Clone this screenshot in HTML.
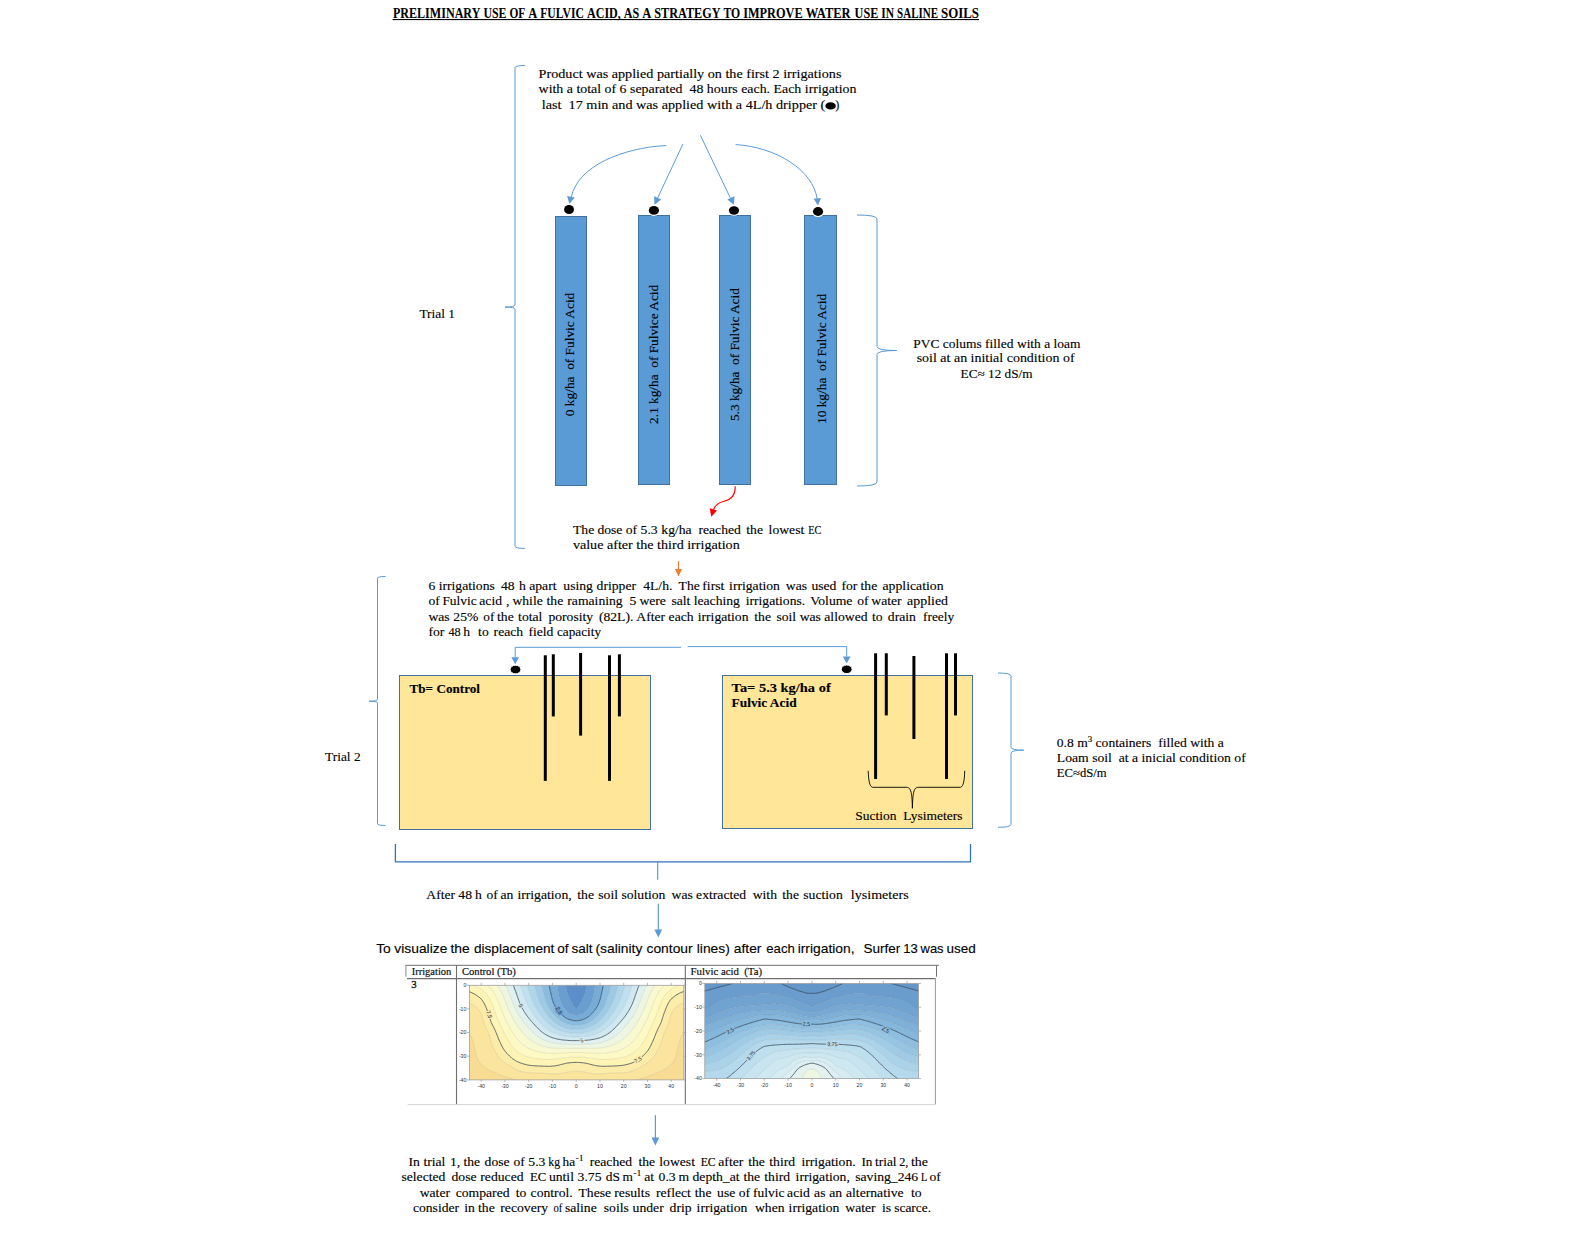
<!DOCTYPE html>
<html><head><meta charset="utf-8"><title>Fulvic acid diagram</title>
<style>
html,body{margin:0;padding:0;background:#fff;}
body{width:1575px;height:1239px;overflow:hidden;font-family:"Liberation Serif",serif;}
svg{display:block;}
</style></head><body>
<svg width="1575" height="1239" viewBox="0 0 1575 1239">
<rect width="1575" height="1239" fill="#fff"/>
<text x="392.9" y="18" font-size="13.60" font-family='"Liberation Serif", serif' font-weight="bold" stroke="#000" stroke-width="0.05" fill="#000" textLength="87.50" lengthAdjust="spacingAndGlyphs">PRELIMINARY</text>
<text x="483.4" y="18" font-size="13.60" font-family='"Liberation Serif", serif' font-weight="bold" stroke="#000" stroke-width="0.05" fill="#000" textLength="23.00" lengthAdjust="spacingAndGlyphs">USE</text>
<text x="509.4" y="18" font-size="13.60" font-family='"Liberation Serif", serif' font-weight="bold" stroke="#000" stroke-width="0.05" fill="#000" textLength="15.80" lengthAdjust="spacingAndGlyphs">OF</text>
<text x="528.2" y="18" font-size="13.60" font-family='"Liberation Serif", serif' font-weight="bold" stroke="#000" stroke-width="0.05" fill="#000" textLength="9.00" lengthAdjust="spacingAndGlyphs">A</text>
<text x="540.2" y="18" font-size="13.60" font-family='"Liberation Serif", serif' font-weight="bold" stroke="#000" stroke-width="0.05" fill="#000" textLength="43.80" lengthAdjust="spacingAndGlyphs">FULVIC</text>
<text x="587.0" y="18" font-size="13.60" font-family='"Liberation Serif", serif' font-weight="bold" stroke="#000" stroke-width="0.05" fill="#000" textLength="33.80" lengthAdjust="spacingAndGlyphs">ACID,</text>
<text x="623.8" y="18" font-size="13.60" font-family='"Liberation Serif", serif' font-weight="bold" stroke="#000" stroke-width="0.05" fill="#000" textLength="15.40" lengthAdjust="spacingAndGlyphs">AS</text>
<text x="642.2" y="18" font-size="13.60" font-family='"Liberation Serif", serif' font-weight="bold" stroke="#000" stroke-width="0.05" fill="#000" textLength="9.04" lengthAdjust="spacingAndGlyphs">A</text>
<text x="654.3" y="18" font-size="13.60" font-family='"Liberation Serif", serif' font-weight="bold" stroke="#000" stroke-width="0.05" fill="#000" textLength="66.20" lengthAdjust="spacingAndGlyphs">STRATEGY</text>
<text x="723.5" y="18" font-size="13.60" font-family='"Liberation Serif", serif' font-weight="bold" stroke="#000" stroke-width="0.05" fill="#000" textLength="16.70" lengthAdjust="spacingAndGlyphs">TO</text>
<text x="743.2" y="18" font-size="13.60" font-family='"Liberation Serif", serif' font-weight="bold" stroke="#000" stroke-width="0.05" fill="#000" textLength="59.50" lengthAdjust="spacingAndGlyphs">IMPROVE</text>
<text x="805.7" y="18" font-size="13.60" font-family='"Liberation Serif", serif' font-weight="bold" stroke="#000" stroke-width="0.05" fill="#000" textLength="44.96" lengthAdjust="spacingAndGlyphs">WATER</text>
<text x="854.6" y="18" font-size="13.60" font-family='"Liberation Serif", serif' font-weight="bold" stroke="#000" stroke-width="0.05" fill="#000" textLength="23.70" lengthAdjust="spacingAndGlyphs">USE</text>
<text x="881.3" y="18" font-size="13.60" font-family='"Liberation Serif", serif' font-weight="bold" stroke="#000" stroke-width="0.05" fill="#000" textLength="12.80" lengthAdjust="spacingAndGlyphs">IN</text>
<text x="897.1" y="18" font-size="13.60" font-family='"Liberation Serif", serif' font-weight="bold" stroke="#000" stroke-width="0.05" fill="#000" textLength="40.90" lengthAdjust="spacingAndGlyphs">SALINE</text>
<text x="941.0" y="18" font-size="13.60" font-family='"Liberation Serif", serif' font-weight="bold" stroke="#000" stroke-width="0.05" fill="#000" textLength="38.00" lengthAdjust="spacingAndGlyphs">SOILS</text>
<rect x="392.6" y="19" width="586.4" height="1.1" fill="#000"/>
<path d="M525,65.5 Q515,65.5 515,67.7 L515,304.90000000000003 Q515,307.1 505,307.1 Q515,307.1 515,309.3 L515,546.1999999999999 Q515,548.4 525,548.4" fill="none" stroke="#5B9BD5" stroke-width="1"/>
<text x="419.4" y="317.8" font-size="13" font-family='"Liberation Serif", serif' textLength="35.7" lengthAdjust="spacingAndGlyphs" stroke="#000" stroke-width="0.12" text-anchor="start" fill="#000" >Trial 1</text>
<text x="538.6" y="77.8" font-size="12.2" font-family='"Liberation Serif", serif' textLength="302.8" lengthAdjust="spacingAndGlyphs" stroke="#000" stroke-width="0.12" text-anchor="start" fill="#000" >Product was applied partially on the first 2 irrigations</text>
<text x="538.6" y="92.8" font-size="12.2" font-family='"Liberation Serif", serif' textLength="317.9" lengthAdjust="spacingAndGlyphs" stroke="#000" stroke-width="0.12" text-anchor="start" fill="#000" >with a total of 6 separated&#160; 48 hours each. Each irrigation</text>
<text x="541.8" y="108.6" font-size="12.2" font-family='"Liberation Serif", serif' textLength="283.5" lengthAdjust="spacingAndGlyphs" stroke="#000" stroke-width="0.12" text-anchor="start" fill="#000" >last&#160; 17 min and was applied with a 4L/h dripper (</text>
<ellipse cx="830.6" cy="105.9" rx="5.2" ry="3.7" fill="#000"/>
<text x="835.2" y="108.6" font-size="12.2" font-family='"Liberation Serif", serif' stroke="#000" stroke-width="0.12" text-anchor="start" fill="#000" >)</text>
<path d="M666.1,145.5 C622,148 578,166 571.3,197" fill="none" stroke="#5B9BD5" stroke-width="1"/>
<path d="M569.40,204.00 L567.09,195.96 L574.73,197.55 Z" fill="#5B9BD5"/>
<line x1="683" y1="143.9" x2="657.6" y2="198" stroke="#5B9BD5" stroke-width="1"/>
<path d="M654.50,204.70 L654.11,196.14 L661.28,199.47 Z" fill="#5B9BD5"/>
<line x1="700.4" y1="135.3" x2="730.6" y2="198.5" stroke="#5B9BD5" stroke-width="1"/>
<path d="M734.00,204.70 L727.35,199.48 L734.46,196.26 Z" fill="#5B9BD5"/>
<path d="M735.6,144.6 C776,147 813,170 817.2,199" fill="none" stroke="#5B9BD5" stroke-width="1"/>
<path d="M818.10,205.50 L813.52,198.82 L820.87,197.89 Z" fill="#5B9BD5"/>
<rect x="555.5" y="216.5" width="31.0" height="269.0" fill="#5B9BD5" stroke="#41719C" stroke-width="1"/>
<rect x="638.5" y="215.5" width="31.0" height="269.0" fill="#5B9BD5" stroke="#41719C" stroke-width="1"/>
<rect x="719.5" y="215.5" width="31.0" height="269.0" fill="#5B9BD5" stroke="#41719C" stroke-width="1"/>
<rect x="804.5" y="215.5" width="32.0" height="269.0" fill="#5B9BD5" stroke="#41719C" stroke-width="1"/>
<ellipse cx="569.05" cy="209.5" rx="4.95" ry="4.45" fill="#000"/>
<ellipse cx="653.9" cy="210.4" rx="6.199999999999999" ry="5.5" fill="#fff"/>
<ellipse cx="653.9" cy="210.4" rx="5.1" ry="4.4" fill="#000"/>
<ellipse cx="734" cy="210.5" rx="6.199999999999999" ry="5.300000000000001" fill="#fff"/>
<ellipse cx="734" cy="210.5" rx="5.1" ry="4.2" fill="#000"/>
<ellipse cx="818.05" cy="211.5" rx="6.25" ry="5.5" fill="#fff"/>
<ellipse cx="818.05" cy="211.5" rx="5.15" ry="4.4" fill="#000"/>
<text transform="translate(574.2,416.2) rotate(-90)" x="0" y="0" font-size="12.6" font-family='"Liberation Serif", serif' textLength="123.5" lengthAdjust="spacingAndGlyphs" stroke="#000" stroke-width="0.12">0 kg/ha&#160; of Fulvic Acid</text>
<text transform="translate(657.7,424.0) rotate(-90)" x="0" y="0" font-size="12.6" font-family='"Liberation Serif", serif' textLength="139.2" lengthAdjust="spacingAndGlyphs" stroke="#000" stroke-width="0.12">2.1 kg/ha&#160; of Fulvice Acid</text>
<text transform="translate(739.2,421.0) rotate(-90)" x="0" y="0" font-size="12.6" font-family='"Liberation Serif", serif' textLength="132.8" lengthAdjust="spacingAndGlyphs" stroke="#000" stroke-width="0.12">5.3 kg/ha&#160; of Fulvic Acid</text>
<text transform="translate(825.7,424.0) rotate(-90)" x="0" y="0" font-size="12.6" font-family='"Liberation Serif", serif' textLength="130.1" lengthAdjust="spacingAndGlyphs" stroke="#000" stroke-width="0.12">10 kg/ha&#160; of Fulvic Acid</text>
<path d="M857,215 Q877,215 877,219 L877,346.5 Q877,350.5 896.7,350.5 Q877,350.5 877,354.5 L877,482 Q877,486 857,486" fill="none" stroke="#5B9BD5" stroke-width="1"/>
<text x="913.3" y="347.9" font-size="12.2" font-family='"Liberation Serif", serif' textLength="167.2" lengthAdjust="spacingAndGlyphs" stroke="#000" stroke-width="0.12" text-anchor="start" fill="#000" >PVC colums filled with a loam</text>
<text x="916.7" y="362.3" font-size="12.2" font-family='"Liberation Serif", serif' textLength="157.9" lengthAdjust="spacingAndGlyphs" stroke="#000" stroke-width="0.12" text-anchor="start" fill="#000" >soil at an initial condition of</text>
<text x="960.6" y="378.3" font-size="12.2" font-family='"Liberation Serif", serif' textLength="72" lengthAdjust="spacingAndGlyphs" stroke="#000" stroke-width="0.12" text-anchor="start" fill="#000" >EC&#8776; 12 dS/m</text>
<path d="M735.2,486.2 C735.6,494 731.5,499.5 724,501.2 C718,502.8 714.5,506 713.4,510" fill="none" stroke="#FF0000" stroke-width="1.1"/>
<path d="M711.30,516.70 L709.70,508.33 L717.10,510.46 Z" fill="#FF0000"/>
<text x="573.0" y="533.5" font-size="12.20" font-family='"Liberation Serif", serif' stroke="#000" stroke-width="0.12" fill="#000" textLength="21.24" lengthAdjust="spacingAndGlyphs">The</text>
<text x="597.4" y="533.5" font-size="12.20" font-family='"Liberation Serif", serif' stroke="#000" stroke-width="0.12" fill="#000" textLength="25.05" lengthAdjust="spacingAndGlyphs">dose</text>
<text x="625.8" y="533.5" font-size="12.20" font-family='"Liberation Serif", serif' stroke="#000" stroke-width="0.12" fill="#000" textLength="11.38" lengthAdjust="spacingAndGlyphs">of</text>
<text x="640.6" y="533.5" font-size="12.20" font-family='"Liberation Serif", serif' stroke="#000" stroke-width="0.12" fill="#000" textLength="17.08" lengthAdjust="spacingAndGlyphs">5.3</text>
<text x="661.3" y="533.5" font-size="12.20" font-family='"Liberation Serif", serif' stroke="#000" stroke-width="0.12" fill="#000" textLength="30.36" lengthAdjust="spacingAndGlyphs">kg/ha</text>
<text x="698.4" y="533.5" font-size="12.20" font-family='"Liberation Serif", serif' stroke="#000" stroke-width="0.12" fill="#000" textLength="42.47" lengthAdjust="spacingAndGlyphs">reached</text>
<text x="746.3" y="533.5" font-size="12.20" font-family='"Liberation Serif", serif' stroke="#000" stroke-width="0.12" fill="#000" textLength="16.69" lengthAdjust="spacingAndGlyphs">the</text>
<text x="768.6" y="533.5" font-size="12.20" font-family='"Liberation Serif", serif' stroke="#000" stroke-width="0.12" fill="#000" textLength="35.67" lengthAdjust="spacingAndGlyphs">lowest</text>
<text x="808.2" y="533.5" font-size="12.20" font-family='"Liberation Serif", serif' stroke="#000" stroke-width="0.12" fill="#000" textLength="13.25" lengthAdjust="spacingAndGlyphs">EC</text>
<text x="572.9" y="548.9" font-size="12.2" font-family='"Liberation Serif", serif' textLength="166.8" lengthAdjust="spacingAndGlyphs" stroke="#000" stroke-width="0.12" text-anchor="start" fill="#000" >value after the third irrigation</text>
<line x1="678.5" y1="561.2" x2="678.5" y2="570" stroke="#ED7D31" stroke-width="1.2"/>
<path d="M678.50,576.50 L674.90,569.00 L682.10,569.00 Z" fill="#ED7D31"/>
<path d="M385.6,576.5 Q377.5,576.5 377.5,578.3 L377.5,699.4000000000001 Q377.5,701.2 369.0,701.2 Q377.5,701.2 377.5,703.0 L377.5,823.7 Q377.5,825.5 385.6,825.5" fill="none" stroke="#5B9BD5" stroke-width="1"/>
<text x="325.1" y="760.6" font-size="13" font-family='"Liberation Serif", serif' textLength="35.5" lengthAdjust="spacingAndGlyphs" stroke="#000" stroke-width="0.12" text-anchor="start" fill="#000" >Trial 2</text>
<text x="428.4" y="589.8" font-size="12.20" font-family='"Liberation Serif", serif' stroke="#000" stroke-width="0.12" fill="#000" textLength="6.83" lengthAdjust="spacingAndGlyphs">6</text>
<text x="438.7" y="589.8" font-size="12.20" font-family='"Liberation Serif", serif' stroke="#000" stroke-width="0.12" fill="#000" textLength="56.16" lengthAdjust="spacingAndGlyphs">irrigations</text>
<text x="501.0" y="589.8" font-size="12.20" font-family='"Liberation Serif", serif' stroke="#000" stroke-width="0.12" fill="#000" textLength="13.66" lengthAdjust="spacingAndGlyphs">48</text>
<text x="518.9" y="589.8" font-size="12.20" font-family='"Liberation Serif", serif' stroke="#000" stroke-width="0.12" fill="#000" textLength="6.83" lengthAdjust="spacingAndGlyphs">h</text>
<text x="529.2" y="589.8" font-size="12.20" font-family='"Liberation Serif", serif' stroke="#000" stroke-width="0.12" fill="#000" textLength="27.31" lengthAdjust="spacingAndGlyphs">apart</text>
<text x="563.3" y="589.8" font-size="12.20" font-family='"Liberation Serif", serif' stroke="#000" stroke-width="0.12" fill="#000" textLength="29.61" lengthAdjust="spacingAndGlyphs">using</text>
<text x="596.6" y="589.8" font-size="12.20" font-family='"Liberation Serif", serif' stroke="#000" stroke-width="0.12" fill="#000" textLength="39.46" lengthAdjust="spacingAndGlyphs">dripper</text>
<text x="643.2" y="589.8" font-size="12.20" font-family='"Liberation Serif", serif' stroke="#000" stroke-width="0.12" fill="#000" textLength="29.22" lengthAdjust="spacingAndGlyphs">4L/h.</text>
<text x="678.6" y="589.8" font-size="12.20" font-family='"Liberation Serif", serif' stroke="#000" stroke-width="0.12" fill="#000" textLength="21.10" lengthAdjust="spacingAndGlyphs">The</text>
<text x="702.3" y="589.8" font-size="12.20" font-family='"Liberation Serif", serif' stroke="#000" stroke-width="0.12" fill="#000" textLength="22.01" lengthAdjust="spacingAndGlyphs">first</text>
<text x="729.1" y="589.8" font-size="12.20" font-family='"Liberation Serif", serif' stroke="#000" stroke-width="0.12" fill="#000" textLength="50.85" lengthAdjust="spacingAndGlyphs">irrigation</text>
<text x="785.8" y="589.8" font-size="12.20" font-family='"Liberation Serif", serif' stroke="#000" stroke-width="0.12" fill="#000" textLength="21.25" lengthAdjust="spacingAndGlyphs">was</text>
<text x="811.4" y="589.8" font-size="12.20" font-family='"Liberation Serif", serif' stroke="#000" stroke-width="0.12" fill="#000" textLength="25.05" lengthAdjust="spacingAndGlyphs">used</text>
<text x="841.4" y="589.8" font-size="12.20" font-family='"Liberation Serif", serif' stroke="#000" stroke-width="0.12" fill="#000" textLength="15.93" lengthAdjust="spacingAndGlyphs">for</text>
<text x="860.5" y="589.8" font-size="12.20" font-family='"Liberation Serif", serif' stroke="#000" stroke-width="0.12" fill="#000" textLength="16.69" lengthAdjust="spacingAndGlyphs">the</text>
<text x="882.5" y="589.8" font-size="12.20" font-family='"Liberation Serif", serif' stroke="#000" stroke-width="0.12" fill="#000" textLength="61.10" lengthAdjust="spacingAndGlyphs">application</text>
<text x="428.4" y="604.9" font-size="12.20" font-family='"Liberation Serif", serif' stroke="#000" stroke-width="0.12" fill="#000" textLength="11.38" lengthAdjust="spacingAndGlyphs">of</text>
<text x="442.4" y="604.9" font-size="12.20" font-family='"Liberation Serif", serif' stroke="#000" stroke-width="0.12" fill="#000" textLength="34.30" lengthAdjust="spacingAndGlyphs">Fulvic</text>
<text x="479.3" y="604.9" font-size="12.20" font-family='"Liberation Serif", serif' stroke="#000" stroke-width="0.12" fill="#000" textLength="22.76" lengthAdjust="spacingAndGlyphs">acid</text>
<text x="505.9" y="604.9" font-size="12.20" font-family='"Liberation Serif", serif' stroke="#000" stroke-width="0.12" fill="#000" textLength="3.42" lengthAdjust="spacingAndGlyphs">,</text>
<text x="512.4" y="604.9" font-size="12.20" font-family='"Liberation Serif", serif' stroke="#000" stroke-width="0.12" fill="#000" textLength="30.36" lengthAdjust="spacingAndGlyphs">while</text>
<text x="546.5" y="604.9" font-size="12.20" font-family='"Liberation Serif", serif' stroke="#000" stroke-width="0.12" fill="#000" textLength="16.69" lengthAdjust="spacingAndGlyphs">the</text>
<text x="567.3" y="604.9" font-size="12.20" font-family='"Liberation Serif", serif' stroke="#000" stroke-width="0.12" fill="#000" textLength="55.40" lengthAdjust="spacingAndGlyphs">ramaining</text>
<text x="629.5" y="604.9" font-size="12.20" font-family='"Liberation Serif", serif' stroke="#000" stroke-width="0.12" fill="#000" textLength="6.83" lengthAdjust="spacingAndGlyphs">5</text>
<text x="639.4" y="604.9" font-size="12.20" font-family='"Liberation Serif", serif' stroke="#000" stroke-width="0.12" fill="#000" textLength="26.55" lengthAdjust="spacingAndGlyphs">were</text>
<text x="671.4" y="604.9" font-size="12.20" font-family='"Liberation Serif", serif' stroke="#000" stroke-width="0.12" fill="#000" textLength="18.97" lengthAdjust="spacingAndGlyphs">salt</text>
<text x="693.7" y="604.9" font-size="12.20" font-family='"Liberation Serif", serif' stroke="#000" stroke-width="0.12" fill="#000" textLength="46.28" lengthAdjust="spacingAndGlyphs">leaching</text>
<text x="745.7" y="604.9" font-size="12.20" font-family='"Liberation Serif", serif' stroke="#000" stroke-width="0.12" fill="#000" textLength="59.58" lengthAdjust="spacingAndGlyphs">irrigations.</text>
<text x="810.2" y="604.9" font-size="12.20" font-family='"Liberation Serif", serif' stroke="#000" stroke-width="0.12" fill="#000" textLength="42.26" lengthAdjust="spacingAndGlyphs">Volume</text>
<text x="857.2" y="604.9" font-size="12.20" font-family='"Liberation Serif", serif' stroke="#000" stroke-width="0.12" fill="#000" textLength="11.38" lengthAdjust="spacingAndGlyphs">of</text>
<text x="871.3" y="604.9" font-size="12.20" font-family='"Liberation Serif", serif' stroke="#000" stroke-width="0.12" fill="#000" textLength="30.34" lengthAdjust="spacingAndGlyphs">water</text>
<text x="907.1" y="604.9" font-size="12.20" font-family='"Liberation Serif", serif' stroke="#000" stroke-width="0.12" fill="#000" textLength="40.90" lengthAdjust="spacingAndGlyphs">applied</text>
<text x="428.4" y="620.9" font-size="12.20" font-family='"Liberation Serif", serif' stroke="#000" stroke-width="0.12" fill="#000" textLength="21.25" lengthAdjust="spacingAndGlyphs">was</text>
<text x="453.3" y="620.9" font-size="12.20" font-family='"Liberation Serif", serif' stroke="#000" stroke-width="0.12" fill="#000" textLength="25.05" lengthAdjust="spacingAndGlyphs">25%</text>
<text x="483.3" y="620.9" font-size="12.20" font-family='"Liberation Serif", serif' stroke="#000" stroke-width="0.12" fill="#000" textLength="11.10" lengthAdjust="spacingAndGlyphs">of</text>
<text x="497.0" y="620.9" font-size="12.20" font-family='"Liberation Serif", serif' stroke="#000" stroke-width="0.12" fill="#000" textLength="16.69" lengthAdjust="spacingAndGlyphs">the</text>
<text x="518.1" y="620.9" font-size="12.20" font-family='"Liberation Serif", serif' stroke="#000" stroke-width="0.12" fill="#000" textLength="24.28" lengthAdjust="spacingAndGlyphs">total</text>
<text x="548.4" y="620.9" font-size="12.20" font-family='"Liberation Serif", serif' stroke="#000" stroke-width="0.12" fill="#000" textLength="44.79" lengthAdjust="spacingAndGlyphs">porosity</text>
<text x="598.9" y="620.9" font-size="12.20" font-family='"Liberation Serif", serif' stroke="#000" stroke-width="0.12" fill="#000" textLength="34.53" lengthAdjust="spacingAndGlyphs">(82L).</text>
<text x="636.3" y="620.9" font-size="12.20" font-family='"Liberation Serif", serif' stroke="#000" stroke-width="0.12" fill="#000" textLength="28.83" lengthAdjust="spacingAndGlyphs">After</text>
<text x="668.6" y="620.9" font-size="12.20" font-family='"Liberation Serif", serif' stroke="#000" stroke-width="0.12" fill="#000" textLength="25.03" lengthAdjust="spacingAndGlyphs">each</text>
<text x="697.7" y="620.9" font-size="12.20" font-family='"Liberation Serif", serif' stroke="#000" stroke-width="0.12" fill="#000" textLength="50.85" lengthAdjust="spacingAndGlyphs">irrigation</text>
<text x="754.3" y="620.9" font-size="12.20" font-family='"Liberation Serif", serif' stroke="#000" stroke-width="0.12" fill="#000" textLength="16.69" lengthAdjust="spacingAndGlyphs">the</text>
<text x="776.4" y="620.9" font-size="12.20" font-family='"Liberation Serif", serif' stroke="#000" stroke-width="0.12" fill="#000" textLength="19.74" lengthAdjust="spacingAndGlyphs">soil</text>
<text x="799.7" y="620.9" font-size="12.20" font-family='"Liberation Serif", serif' stroke="#000" stroke-width="0.12" fill="#000" textLength="21.25" lengthAdjust="spacingAndGlyphs">was</text>
<text x="824.3" y="620.9" font-size="12.20" font-family='"Liberation Serif", serif' stroke="#000" stroke-width="0.12" fill="#000" textLength="43.25" lengthAdjust="spacingAndGlyphs">allowed</text>
<text x="871.9" y="620.9" font-size="12.20" font-family='"Liberation Serif", serif' stroke="#000" stroke-width="0.12" fill="#000" textLength="10.63" lengthAdjust="spacingAndGlyphs">to</text>
<text x="887.8" y="620.9" font-size="12.20" font-family='"Liberation Serif", serif' stroke="#000" stroke-width="0.12" fill="#000" textLength="28.08" lengthAdjust="spacingAndGlyphs">drain</text>
<text x="923.0" y="620.9" font-size="12.20" font-family='"Liberation Serif", serif' stroke="#000" stroke-width="0.12" fill="#000" textLength="31.20" lengthAdjust="spacingAndGlyphs">freely</text>
<text x="428.4" y="636.3" font-size="12.20" font-family='"Liberation Serif", serif' stroke="#000" stroke-width="0.12" fill="#000" textLength="15.93" lengthAdjust="spacingAndGlyphs">for</text>
<text x="448.4" y="636.3" font-size="12.20" font-family='"Liberation Serif", serif' stroke="#000" stroke-width="0.12" fill="#000" textLength="12.30" lengthAdjust="spacingAndGlyphs">48</text>
<text x="463.3" y="636.3" font-size="12.20" font-family='"Liberation Serif", serif' stroke="#000" stroke-width="0.12" fill="#000" textLength="6.83" lengthAdjust="spacingAndGlyphs">h</text>
<text x="478.1" y="636.3" font-size="12.20" font-family='"Liberation Serif", serif' stroke="#000" stroke-width="0.12" fill="#000" textLength="10.63" lengthAdjust="spacingAndGlyphs">to</text>
<text x="493.6" y="636.3" font-size="12.20" font-family='"Liberation Serif", serif' stroke="#000" stroke-width="0.12" fill="#000" textLength="29.58" lengthAdjust="spacingAndGlyphs">reach</text>
<text x="528.4" y="636.3" font-size="12.20" font-family='"Liberation Serif", serif' stroke="#000" stroke-width="0.12" fill="#000" textLength="25.04" lengthAdjust="spacingAndGlyphs">field</text>
<text x="557.0" y="636.3" font-size="12.20" font-family='"Liberation Serif", serif' stroke="#000" stroke-width="0.12" fill="#000" textLength="44.00" lengthAdjust="spacingAndGlyphs">capacity</text>
<path d="M681,647.3 L515.2,647.3 L515.2,657.5" fill="none" stroke="#5B9BD5" stroke-width="1"/>
<path d="M515.20,664.20 L511.40,657.20 L519.00,657.20 Z" fill="#5B9BD5"/>
<path d="M687.7,646.6 L846.7,646.6 L846.7,656.5" fill="none" stroke="#5B9BD5" stroke-width="1"/>
<path d="M846.70,663.40 L842.90,656.40 L850.50,656.40 Z" fill="#5B9BD5"/>
<rect x="399.5" y="675.5" width="251" height="154" fill="#FFE699" stroke="#41719C" stroke-width="1"/>
<rect x="722.5" y="675.5" width="250" height="153" fill="#FFE699" stroke="#41719C" stroke-width="1"/>
<ellipse cx="515.5" cy="669.5" rx="5.4" ry="4.3" fill="#000" stroke="#fff" stroke-width="1"/>
<ellipse cx="846.7" cy="669.3" rx="5.4" ry="4.3" fill="#000" stroke="#fff" stroke-width="1"/>
<text x="409.5" y="692.5" font-size="12.4" font-family='"Liberation Serif", serif' font-weight="bold" textLength="70.5" lengthAdjust="spacingAndGlyphs" stroke="#000" stroke-width="0.12" text-anchor="start" fill="#000" >Tb= Control</text>
<text x="731.6" y="691.5" font-size="12.4" font-family='"Liberation Serif", serif' font-weight="bold" textLength="99.1" lengthAdjust="spacingAndGlyphs" stroke="#000" stroke-width="0.12" text-anchor="start" fill="#000" >Ta= 5.3 kg/ha of</text>
<text x="731.6" y="706.5" font-size="12.4" font-family='"Liberation Serif", serif' font-weight="bold" textLength="65" lengthAdjust="spacingAndGlyphs" stroke="#000" stroke-width="0.12" text-anchor="start" fill="#000" >Fulvic Acid</text>
<line x1="545.3" y1="655.3" x2="545.3" y2="780.9" stroke="#000" stroke-width="3"/>
<line x1="553.3" y1="654.3" x2="553.3" y2="716.4" stroke="#000" stroke-width="3"/>
<line x1="580.6" y1="653" x2="580.6" y2="735.6" stroke="#000" stroke-width="3"/>
<line x1="609.5" y1="655.3" x2="609.5" y2="780.9" stroke="#000" stroke-width="3"/>
<line x1="619.4" y1="654.3" x2="619.4" y2="716.4" stroke="#000" stroke-width="3"/>
<line x1="875.6" y1="653.3" x2="875.6" y2="779" stroke="#000" stroke-width="3"/>
<line x1="886.3" y1="653.3" x2="886.3" y2="715.4" stroke="#000" stroke-width="3"/>
<line x1="913.9" y1="656" x2="913.9" y2="739" stroke="#000" stroke-width="3"/>
<line x1="946.5" y1="653.3" x2="946.5" y2="779" stroke="#000" stroke-width="3"/>
<line x1="955.5" y1="653.3" x2="955.5" y2="715.4" stroke="#000" stroke-width="3"/>
<path d="M868.2,770.8 C868.5,780 869.5,786.5 872.5,787.3 L906,787.3 C910.5,787.3 912,790 912.4,808.3 C912.8,790 914.3,787.3 918.8,787.3 L960.5,787.3 C963.5,786.5 964.5,780 964.7,770.8" fill="none" stroke="#000" stroke-width="0.9"/>
<text x="855.2" y="819.7" font-size="12.2" font-family='"Liberation Serif", serif' textLength="107.3" lengthAdjust="spacingAndGlyphs" stroke="#000" stroke-width="0.12" text-anchor="start" fill="#000" >Suction&#160; Lysimeters</text>
<path d="M998,673 Q1011,673 1011,676 L1011,747.2 Q1011,750.2 1023.7,750.2 Q1011,750.2 1011,753.2 L1011,824.3 Q1011,827.3 998,827.3" fill="none" stroke="#5B9BD5" stroke-width="1"/>
<text x="1056.8" y="746.7" font-size="12.2" font-family='"Liberation Serif", serif' textLength="167" lengthAdjust="spacingAndGlyphs" stroke="#000" stroke-width="0.12" text-anchor="start" fill="#000" >0.8 m<tspan font-size="8" dy="-4.5">3</tspan><tspan dy="4.5"> containers&#160; filled with a</tspan></text>
<text x="1056.8" y="761.5" font-size="12.2" font-family='"Liberation Serif", serif' textLength="188.9" lengthAdjust="spacingAndGlyphs" stroke="#000" stroke-width="0.12" text-anchor="start" fill="#000" >Loam soil&#160; at a inicial condition of</text>
<text x="1056.8" y="777.1" font-size="12.2" font-family='"Liberation Serif", serif' textLength="49.9" lengthAdjust="spacingAndGlyphs" stroke="#000" stroke-width="0.12" text-anchor="start" fill="#000" >EC&#8776;dS/m</text>
<path d="M395.4,844.1 L395.4,861.8 L970.5,861.8 L970.5,844.1" fill="none" stroke="#2E75B6" stroke-width="1.3"/>
<line x1="657.7" y1="861.8" x2="657.7" y2="879.7" stroke="#5B9BD5" stroke-width="1.2"/>
<text x="426.3" y="899" font-size="12.20" font-family='"Liberation Serif", serif' stroke="#000" stroke-width="0.12" fill="#000" textLength="28.83" lengthAdjust="spacingAndGlyphs">After</text>
<text x="458.3" y="899" font-size="12.20" font-family='"Liberation Serif", serif' stroke="#000" stroke-width="0.12" fill="#000" textLength="13.66" lengthAdjust="spacingAndGlyphs">48</text>
<text x="475.1" y="899" font-size="12.20" font-family='"Liberation Serif", serif' stroke="#000" stroke-width="0.12" fill="#000" textLength="6.83" lengthAdjust="spacingAndGlyphs">h</text>
<text x="486.6" y="899" font-size="12.20" font-family='"Liberation Serif", serif' stroke="#000" stroke-width="0.12" fill="#000" textLength="11.30" lengthAdjust="spacingAndGlyphs">of</text>
<text x="500.5" y="899" font-size="12.20" font-family='"Liberation Serif", serif' stroke="#000" stroke-width="0.12" fill="#000" textLength="12.90" lengthAdjust="spacingAndGlyphs">an</text>
<text x="517.4" y="899" font-size="12.20" font-family='"Liberation Serif", serif' stroke="#000" stroke-width="0.12" fill="#000" textLength="54.26" lengthAdjust="spacingAndGlyphs">irrigation,</text>
<text x="577.3" y="899" font-size="12.20" font-family='"Liberation Serif", serif' stroke="#000" stroke-width="0.12" fill="#000" textLength="16.69" lengthAdjust="spacingAndGlyphs">the</text>
<text x="598.3" y="899" font-size="12.20" font-family='"Liberation Serif", serif' stroke="#000" stroke-width="0.12" fill="#000" textLength="19.74" lengthAdjust="spacingAndGlyphs">soil</text>
<text x="621.4" y="899" font-size="12.20" font-family='"Liberation Serif", serif' stroke="#000" stroke-width="0.12" fill="#000" textLength="44.03" lengthAdjust="spacingAndGlyphs">solution</text>
<text x="671.6" y="899" font-size="12.20" font-family='"Liberation Serif", serif' stroke="#000" stroke-width="0.12" fill="#000" textLength="21.25" lengthAdjust="spacingAndGlyphs">was</text>
<text x="696.1" y="899" font-size="12.20" font-family='"Liberation Serif", serif' stroke="#000" stroke-width="0.12" fill="#000" textLength="50.06" lengthAdjust="spacingAndGlyphs">extracted</text>
<text x="752.7" y="899" font-size="12.20" font-family='"Liberation Serif", serif' stroke="#000" stroke-width="0.12" fill="#000" textLength="24.29" lengthAdjust="spacingAndGlyphs">with</text>
<text x="782.3" y="899" font-size="12.20" font-family='"Liberation Serif", serif' stroke="#000" stroke-width="0.12" fill="#000" textLength="16.69" lengthAdjust="spacingAndGlyphs">the</text>
<text x="803.3" y="899" font-size="12.20" font-family='"Liberation Serif", serif' stroke="#000" stroke-width="0.12" fill="#000" textLength="39.47" lengthAdjust="spacingAndGlyphs">suction</text>
<text x="850.8" y="899" font-size="12.20" font-family='"Liberation Serif", serif' stroke="#000" stroke-width="0.12" fill="#000" textLength="57.90" lengthAdjust="spacingAndGlyphs">lysimeters</text>
<line x1="658.3" y1="903.7" x2="658.3" y2="930" stroke="#5B9BD5" stroke-width="1.2"/>
<path d="M658.30,937.60 L654.40,929.60 L662.20,929.60 Z" fill="#5B9BD5"/>
<text x="376.2" y="953.1" font-size="12.80" font-family='"Liberation Sans", sans-serif' stroke="#000" stroke-width="0.12" fill="#000" textLength="14.60" lengthAdjust="spacingAndGlyphs">To</text>
<text x="394.3" y="953.1" font-size="12.80" font-family='"Liberation Sans", sans-serif' stroke="#000" stroke-width="0.12" fill="#000" textLength="53.02" lengthAdjust="spacingAndGlyphs">visualize</text>
<text x="450.4" y="953.1" font-size="12.80" font-family='"Liberation Sans", sans-serif' stroke="#000" stroke-width="0.12" fill="#000" textLength="19.22" lengthAdjust="spacingAndGlyphs">the</text>
<text x="473.9" y="953.1" font-size="12.80" font-family='"Liberation Sans", sans-serif' stroke="#000" stroke-width="0.12" fill="#000" textLength="80.50" lengthAdjust="spacingAndGlyphs">displacement</text>
<text x="557.3" y="953.1" font-size="12.80" font-family='"Liberation Sans", sans-serif' stroke="#000" stroke-width="0.12" fill="#000" textLength="11.30" lengthAdjust="spacingAndGlyphs">of</text>
<text x="571.5" y="953.1" font-size="12.80" font-family='"Liberation Sans", sans-serif' stroke="#000" stroke-width="0.12" fill="#000" textLength="21.10" lengthAdjust="spacingAndGlyphs">salt</text>
<text x="595.5" y="953.1" font-size="12.80" font-family='"Liberation Sans", sans-serif' stroke="#000" stroke-width="0.12" fill="#000" textLength="46.86" lengthAdjust="spacingAndGlyphs">(salinity</text>
<text x="646.5" y="953.1" font-size="12.80" font-family='"Liberation Sans", sans-serif' stroke="#000" stroke-width="0.12" fill="#000" textLength="46.11" lengthAdjust="spacingAndGlyphs">contour</text>
<text x="696.8" y="953.1" font-size="12.80" font-family='"Liberation Sans", sans-serif' stroke="#000" stroke-width="0.12" fill="#000" textLength="33.04" lengthAdjust="spacingAndGlyphs">lines)</text>
<text x="733.8" y="953.1" font-size="12.80" font-family='"Liberation Sans", sans-serif' stroke="#000" stroke-width="0.12" fill="#000" textLength="27.66" lengthAdjust="spacingAndGlyphs">after</text>
<text x="766.3" y="953.1" font-size="12.80" font-family='"Liberation Sans", sans-serif' stroke="#000" stroke-width="0.12" fill="#000" textLength="28.50" lengthAdjust="spacingAndGlyphs">each</text>
<text x="797.7" y="953.1" font-size="12.80" font-family='"Liberation Sans", sans-serif' stroke="#000" stroke-width="0.12" fill="#000" textLength="56.86" lengthAdjust="spacingAndGlyphs">irrigation,</text>
<text x="863.4" y="953.1" font-size="12.80" font-family='"Liberation Sans", sans-serif' stroke="#000" stroke-width="0.12" fill="#000" textLength="36.90" lengthAdjust="spacingAndGlyphs">Surfer</text>
<text x="903.2" y="953.1" font-size="12.80" font-family='"Liberation Sans", sans-serif' stroke="#000" stroke-width="0.12" fill="#000" textLength="14.50" lengthAdjust="spacingAndGlyphs">13</text>
<text x="920.6" y="953.1" font-size="12.80" font-family='"Liberation Sans", sans-serif' stroke="#000" stroke-width="0.12" fill="#000" textLength="23.00" lengthAdjust="spacingAndGlyphs">was</text>
<text x="946.5" y="953.1" font-size="12.80" font-family='"Liberation Sans", sans-serif' stroke="#000" stroke-width="0.12" fill="#000" textLength="29.30" lengthAdjust="spacingAndGlyphs">used</text>
<line x1="405.6" y1="965.3" x2="938.8" y2="965.3" stroke="#6f6f6f" stroke-width="1"/>
<line x1="405.9" y1="965" x2="405.9" y2="976.5" stroke="#999" stroke-width="1.2"/>
<line x1="407" y1="978.6" x2="935.6" y2="978.6" stroke="#6f6f6f" stroke-width="1.2"/>
<line x1="456.5" y1="965" x2="456.5" y2="1104.8" stroke="#6f6f6f" stroke-width="1.1"/>
<line x1="685.3" y1="965" x2="685.3" y2="1104.8" stroke="#6f6f6f" stroke-width="1.1"/>
<line x1="936.5" y1="965.3" x2="936.5" y2="976.7" stroke="#6f6f6f" stroke-width="1"/>
<line x1="935.4" y1="978.6" x2="935.4" y2="1104" stroke="#999" stroke-width="1"/>
<line x1="407.6" y1="1104.6" x2="936" y2="1104.6" stroke="#d6d6d6" stroke-width="1"/>
<text x="411.7" y="975" font-size="10.4" font-family='"Liberation Serif", serif' textLength="39.6" lengthAdjust="spacingAndGlyphs" fill="#111" stroke="#111" stroke-width="0.2">Irrigation</text>
<text x="462" y="975" font-size="10.4" font-family='"Liberation Serif", serif' textLength="53.8" lengthAdjust="spacingAndGlyphs" fill="#111" stroke="#111" stroke-width="0.2">Control (Tb)</text>
<text x="690.6" y="975" font-size="10.4" font-family='"Liberation Serif", serif' textLength="71.5" lengthAdjust="spacingAndGlyphs" fill="#111" stroke="#111" stroke-width="0.2">Fulvic acid&#160; (Ta)</text>
<text x="411.2" y="988.4" font-size="10.8" font-family='"Liberation Serif", serif' fill="#111" stroke="#111" stroke-width="0.3">3</text>
<clipPath id="clipC"><rect x="469.4" y="985.3" width="214.4" height="94.6"/></clipPath>
<g clip-path="url(#clipC)"><path d="M566.5,982.9L567.7,982.9L568.9,982.9L570.1,982.9L571.3,982.9L572.6,982.9L573.8,982.9L575.0,982.9L576.2,982.9L577.4,982.9L578.6,982.9L579.8,982.9L581.1,982.9L582.3,982.9L583.5,982.9L584.7,982.9L585.9,982.9L586.7,982.9L586.5,984.2L586.4,985.4L586.3,986.7L586.2,987.9L586.0,989.1L585.9,989.5L585.7,990.4L585.4,991.6L585.1,992.9L584.7,993.9L584.6,994.1L584.1,995.4L583.6,996.6L583.5,996.8L583.0,997.8L582.5,999.1L582.3,999.5L581.9,1000.3L581.3,1001.6L581.1,1001.9L580.5,1002.8L579.9,1004.0L579.8,1004.1L579.3,1005.3L578.6,1006.5L578.6,1006.5L577.5,1007.8L577.4,1007.8L576.2,1008.1L575.0,1007.8L574.9,1007.8L573.8,1006.5L573.8,1006.5L573.1,1005.3L572.6,1004.1L572.5,1004.0L571.9,1002.8L571.3,1001.9L571.1,1001.6L570.5,1000.3L570.1,999.5L569.9,999.1L569.4,997.8L568.9,996.8L568.8,996.6L568.3,995.4L567.8,994.1L567.7,993.9L567.3,992.9L567.0,991.6L566.7,990.4L566.5,989.5L566.4,989.1L566.2,987.9L566.1,986.7L566.0,985.4L565.9,984.2L565.7,982.9Z" fill="#5c8ec9" stroke="#5c8ec9" stroke-width="0.3" fill-rule="evenodd"/>
<path d="M558.0,982.9L559.2,982.9L560.4,982.9L561.6,982.9L562.8,982.9L564.1,982.9L565.3,982.9L565.7,982.9L565.9,984.2L566.0,985.4L566.1,986.7L566.2,987.9L566.4,989.1L566.5,989.5L566.7,990.4L567.0,991.6L567.3,992.9L567.7,993.9L567.8,994.1L568.3,995.4L568.8,996.6L568.9,996.8L569.4,997.8L569.9,999.1L570.1,999.5L570.5,1000.3L571.1,1001.6L571.3,1001.9L571.9,1002.8L572.5,1004.0L572.6,1004.1L573.1,1005.3L573.8,1006.5L573.8,1006.5L574.9,1007.8L575.0,1007.8L576.2,1008.1L577.4,1007.8L577.5,1007.8L578.6,1006.5L578.6,1006.5L579.3,1005.3L579.8,1004.1L579.9,1004.0L580.5,1002.8L581.1,1001.9L581.3,1001.6L581.9,1000.3L582.3,999.5L582.5,999.1L583.0,997.8L583.5,996.8L583.6,996.6L584.1,995.4L584.6,994.1L584.7,993.9L585.1,992.9L585.4,991.6L585.7,990.4L585.9,989.5L586.0,989.1L586.2,987.9L586.3,986.7L586.4,985.4L586.5,984.2L586.7,982.9L587.1,982.9L588.3,982.9L589.6,982.9L590.8,982.9L592.0,982.9L593.2,982.9L594.4,982.9L595.6,982.9L595.4,984.2L595.2,985.4L595.0,986.7L594.8,987.9L594.6,989.1L594.4,990.3L594.4,990.4L594.2,991.6L594.0,992.9L593.7,994.1L593.4,995.4L593.2,996.4L593.1,996.6L592.8,997.8L592.5,999.1L592.1,1000.3L592.0,1000.7L591.7,1001.6L591.2,1002.8L590.8,1003.8L590.7,1004.0L590.1,1005.3L589.6,1006.3L589.4,1006.5L588.7,1007.8L588.3,1008.2L587.8,1009.0L587.1,1009.8L586.8,1010.3L585.9,1011.1L585.5,1011.5L584.7,1012.2L583.9,1012.7L583.5,1013.0L582.3,1013.7L581.6,1014.0L581.1,1014.2L579.8,1014.5L578.6,1014.8L577.4,1014.9L576.2,1014.9L575.0,1014.9L573.8,1014.8L572.6,1014.5L571.3,1014.2L570.8,1014.0L570.1,1013.7L568.9,1013.0L568.5,1012.7L567.7,1012.2L566.9,1011.5L566.5,1011.1L565.6,1010.3L565.3,1009.8L564.6,1009.0L564.1,1008.2L563.7,1007.8L563.0,1006.5L562.8,1006.3L562.3,1005.3L561.7,1004.0L561.6,1003.8L561.2,1002.8L560.7,1001.6L560.4,1000.7L560.3,1000.3L559.9,999.1L559.6,997.8L559.3,996.6L559.2,996.4L559.0,995.4L558.7,994.1L558.4,992.9L558.2,991.6L558.0,990.4L558.0,990.3L557.8,989.1L557.6,987.9L557.4,986.7L557.2,985.4L557.0,984.2L556.8,982.9Z" fill="#6a9ed1" stroke="#6a9ed1" stroke-width="0.3" fill-rule="evenodd"/>
<path d="M549.5,982.9L550.7,982.9L551.9,982.9L553.1,982.9L554.3,982.9L555.6,982.9L556.8,982.9L556.8,982.9L557.0,984.2L557.2,985.4L557.4,986.7L557.6,987.9L557.8,989.1L558.0,990.3L558.0,990.4L558.2,991.6L558.4,992.9L558.7,994.1L559.0,995.4L559.2,996.4L559.3,996.6L559.6,997.8L559.9,999.1L560.3,1000.3L560.4,1000.7L560.7,1001.6L561.2,1002.8L561.6,1003.8L561.7,1004.0L562.3,1005.3L562.8,1006.3L563.0,1006.5L563.7,1007.8L564.1,1008.2L564.6,1009.0L565.3,1009.8L565.6,1010.3L566.5,1011.1L566.9,1011.5L567.7,1012.2L568.5,1012.7L568.9,1013.0L570.1,1013.7L570.8,1014.0L571.3,1014.2L572.6,1014.5L573.8,1014.8L575.0,1014.9L576.2,1014.9L577.4,1014.9L578.6,1014.8L579.8,1014.5L581.1,1014.2L581.6,1014.0L582.3,1013.7L583.5,1013.0L583.9,1012.7L584.7,1012.2L585.5,1011.5L585.9,1011.1L586.8,1010.3L587.1,1009.8L587.8,1009.0L588.3,1008.2L588.7,1007.8L589.4,1006.5L589.6,1006.3L590.1,1005.3L590.7,1004.0L590.8,1003.8L591.2,1002.8L591.7,1001.6L592.0,1000.7L592.1,1000.3L592.5,999.1L592.8,997.8L593.1,996.6L593.2,996.4L593.4,995.4L593.7,994.1L594.0,992.9L594.2,991.6L594.4,990.4L594.4,990.3L594.6,989.1L594.8,987.9L595.0,986.7L595.2,985.4L595.4,984.2L595.6,982.9L595.6,982.9L596.8,982.9L598.1,982.9L599.3,982.9L600.5,982.9L601.7,982.9L602.9,982.9L603.8,982.9L603.5,984.2L603.3,985.4L603.0,986.7L602.9,987.1L602.7,987.9L602.5,989.1L602.2,990.4L602.0,991.6L601.7,992.8L601.7,992.9L601.4,994.1L601.1,995.4L600.8,996.6L600.5,997.8L600.5,997.8L600.2,999.1L599.8,1000.3L599.4,1001.6L599.3,1001.9L598.9,1002.8L598.5,1004.0L598.1,1004.9L597.9,1005.3L597.2,1006.5L596.8,1007.1L596.4,1007.8L595.6,1009.0L595.6,1009.0L594.7,1010.3L594.4,1010.6L593.7,1011.5L593.2,1012.1L592.6,1012.7L592.0,1013.4L591.5,1014.0L590.8,1014.6L590.2,1015.2L589.6,1015.7L588.6,1016.5L588.3,1016.7L587.1,1017.5L586.8,1017.7L585.9,1018.2L584.7,1018.8L584.4,1018.9L583.5,1019.3L582.3,1019.7L581.1,1020.1L580.7,1020.2L579.8,1020.4L578.6,1020.6L577.4,1020.7L576.2,1020.8L575.0,1020.7L573.8,1020.6L572.6,1020.4L571.7,1020.2L571.3,1020.1L570.1,1019.7L568.9,1019.3L568.0,1018.9L567.7,1018.8L566.5,1018.2L565.6,1017.7L565.3,1017.5L564.1,1016.7L563.8,1016.5L562.8,1015.7L562.2,1015.2L561.6,1014.6L560.9,1014.0L560.4,1013.4L559.8,1012.7L559.2,1012.1L558.7,1011.5L558.0,1010.6L557.7,1010.3L556.8,1009.0L556.8,1009.0L556.0,1007.8L555.6,1007.1L555.2,1006.5L554.5,1005.3L554.3,1004.9L553.9,1004.0L553.5,1002.8L553.1,1001.9L553.0,1001.6L552.6,1000.3L552.2,999.1L551.9,997.8L551.9,997.8L551.6,996.6L551.3,995.4L551.0,994.1L550.7,992.9L550.7,992.8L550.4,991.6L550.2,990.4L549.9,989.1L549.7,987.9L549.5,987.1L549.4,986.7L549.1,985.4L548.9,984.2L548.6,982.9Z" fill="#78acd8" stroke="#78acd8" stroke-width="0.3" fill-rule="evenodd"/>
<path d="M541.0,982.9L542.2,982.9L543.4,982.9L544.6,982.9L545.8,982.9L547.1,982.9L548.3,982.9L548.6,982.9L548.9,984.2L549.1,985.4L549.4,986.7L549.5,987.1L549.7,987.9L549.9,989.1L550.2,990.4L550.4,991.6L550.7,992.8L550.7,992.9L551.0,994.1L551.3,995.4L551.6,996.6L551.9,997.8L551.9,997.8L552.2,999.1L552.6,1000.3L553.0,1001.6L553.1,1001.9L553.5,1002.8L553.9,1004.0L554.3,1004.9L554.5,1005.3L555.2,1006.5L555.6,1007.1L556.0,1007.8L556.8,1009.0L556.8,1009.0L557.7,1010.3L558.0,1010.6L558.7,1011.5L559.2,1012.1L559.8,1012.7L560.4,1013.4L560.9,1014.0L561.6,1014.6L562.2,1015.2L562.8,1015.7L563.8,1016.5L564.1,1016.7L565.3,1017.5L565.6,1017.7L566.5,1018.2L567.7,1018.8L568.0,1018.9L568.9,1019.3L570.1,1019.7L571.3,1020.1L571.7,1020.2L572.6,1020.4L573.8,1020.6L575.0,1020.7L576.2,1020.8L577.4,1020.7L578.6,1020.6L579.8,1020.4L580.7,1020.2L581.1,1020.1L582.3,1019.7L583.5,1019.3L584.4,1018.9L584.7,1018.8L585.9,1018.2L586.8,1017.7L587.1,1017.5L588.3,1016.7L588.6,1016.5L589.6,1015.7L590.2,1015.2L590.8,1014.6L591.5,1014.0L592.0,1013.4L592.6,1012.7L593.2,1012.1L593.7,1011.5L594.4,1010.6L594.7,1010.3L595.6,1009.0L595.6,1009.0L596.4,1007.8L596.8,1007.1L597.2,1006.5L597.9,1005.3L598.1,1004.9L598.5,1004.0L598.9,1002.8L599.3,1001.9L599.4,1001.6L599.8,1000.3L600.2,999.1L600.5,997.8L600.5,997.8L600.8,996.6L601.1,995.4L601.4,994.1L601.7,992.9L601.7,992.8L602.0,991.6L602.2,990.4L602.5,989.1L602.7,987.9L602.9,987.1L603.0,986.7L603.3,985.4L603.5,984.2L603.8,982.9L604.1,982.9L605.3,982.9L606.6,982.9L607.8,982.9L609.0,982.9L610.2,982.9L611.4,982.9L611.5,982.9L611.4,983.4L611.2,984.2L610.9,985.4L610.5,986.7L610.2,987.9L610.2,988.0L609.9,989.1L609.6,990.4L609.2,991.6L609.0,992.6L608.9,992.9L608.6,994.1L608.2,995.4L607.8,996.6L607.8,996.8L607.4,997.8L607.0,999.1L606.6,1000.3L606.6,1000.5L606.2,1001.6L605.7,1002.8L605.3,1003.6L605.1,1004.0L604.6,1005.3L604.1,1006.2L604.0,1006.5L603.3,1007.8L602.9,1008.4L602.5,1009.0L601.7,1010.3L601.7,1010.3L600.9,1011.5L600.5,1012.0L599.9,1012.7L599.3,1013.5L598.9,1014.0L598.1,1014.9L597.8,1015.2L596.8,1016.2L596.6,1016.5L595.6,1017.4L595.3,1017.7L594.4,1018.5L593.9,1018.9L593.2,1019.5L592.2,1020.2L592.0,1020.3L590.8,1021.1L590.3,1021.4L589.6,1021.8L588.3,1022.5L588.0,1022.7L587.1,1023.0L585.9,1023.5L584.9,1023.9L584.7,1024.0L583.5,1024.3L582.3,1024.6L581.1,1024.9L579.8,1025.1L579.3,1025.2L578.6,1025.2L577.4,1025.3L576.2,1025.3L575.0,1025.3L573.8,1025.2L573.1,1025.2L572.6,1025.1L571.3,1024.9L570.1,1024.6L568.9,1024.3L567.7,1024.0L567.5,1023.9L566.5,1023.5L565.3,1023.0L564.4,1022.7L564.1,1022.5L562.8,1021.8L562.1,1021.4L561.6,1021.1L560.4,1020.3L560.2,1020.2L559.2,1019.5L558.5,1018.9L558.0,1018.5L557.1,1017.7L556.8,1017.4L555.8,1016.5L555.6,1016.2L554.6,1015.2L554.3,1014.9L553.5,1014.0L553.1,1013.5L552.5,1012.7L551.9,1012.0L551.5,1011.5L550.7,1010.3L550.7,1010.3L549.9,1009.0L549.5,1008.4L549.1,1007.8L548.4,1006.5L548.3,1006.2L547.8,1005.3L547.3,1004.0L547.1,1003.6L546.7,1002.8L546.2,1001.6L545.8,1000.5L545.8,1000.3L545.4,999.1L545.0,997.8L544.6,996.8L544.6,996.6L544.2,995.4L543.8,994.1L543.5,992.9L543.4,992.6L543.2,991.6L542.8,990.4L542.5,989.1L542.2,988.0L542.2,987.9L541.9,986.7L541.5,985.4L541.2,984.2L541.0,983.4L540.9,982.9Z" fill="#8abcdf" stroke="#8abcdf" stroke-width="0.3" fill-rule="evenodd"/>
<path d="M533.7,982.9L534.9,982.9L536.1,982.9L537.3,982.9L538.6,982.9L539.8,982.9L540.9,982.9L541.0,983.4L541.2,984.2L541.5,985.4L541.9,986.7L542.2,987.9L542.2,988.0L542.5,989.1L542.8,990.4L543.2,991.6L543.4,992.6L543.5,992.9L543.8,994.1L544.2,995.4L544.6,996.6L544.6,996.8L545.0,997.8L545.4,999.1L545.8,1000.3L545.8,1000.5L546.2,1001.6L546.7,1002.8L547.1,1003.6L547.3,1004.0L547.8,1005.3L548.3,1006.2L548.4,1006.5L549.1,1007.8L549.5,1008.4L549.9,1009.0L550.7,1010.3L550.7,1010.3L551.5,1011.5L551.9,1012.0L552.5,1012.7L553.1,1013.5L553.5,1014.0L554.3,1014.9L554.6,1015.2L555.6,1016.2L555.8,1016.5L556.8,1017.4L557.1,1017.7L558.0,1018.5L558.5,1018.9L559.2,1019.5L560.2,1020.2L560.4,1020.3L561.6,1021.1L562.1,1021.4L562.8,1021.8L564.1,1022.5L564.4,1022.7L565.3,1023.0L566.5,1023.5L567.5,1023.9L567.7,1024.0L568.9,1024.3L570.1,1024.6L571.3,1024.9L572.6,1025.1L573.1,1025.2L573.8,1025.2L575.0,1025.3L576.2,1025.3L577.4,1025.3L578.6,1025.2L579.3,1025.2L579.8,1025.1L581.1,1024.9L582.3,1024.6L583.5,1024.3L584.7,1024.0L584.9,1023.9L585.9,1023.5L587.1,1023.0L588.0,1022.7L588.3,1022.5L589.6,1021.8L590.3,1021.4L590.8,1021.1L592.0,1020.3L592.2,1020.2L593.2,1019.5L593.9,1018.9L594.4,1018.5L595.3,1017.7L595.6,1017.4L596.6,1016.5L596.8,1016.2L597.8,1015.2L598.1,1014.9L598.9,1014.0L599.3,1013.5L599.9,1012.7L600.5,1012.0L600.9,1011.5L601.7,1010.3L601.7,1010.3L602.5,1009.0L602.9,1008.4L603.3,1007.8L604.0,1006.5L604.1,1006.2L604.6,1005.3L605.1,1004.0L605.3,1003.6L605.7,1002.8L606.2,1001.6L606.6,1000.5L606.6,1000.3L607.0,999.1L607.4,997.8L607.8,996.8L607.8,996.6L608.2,995.4L608.6,994.1L608.9,992.9L609.0,992.6L609.2,991.6L609.6,990.4L609.9,989.1L610.2,988.0L610.2,987.9L610.5,986.7L610.9,985.4L611.2,984.2L611.4,983.4L611.5,982.9L612.6,982.9L613.8,982.9L615.1,982.9L616.3,982.9L617.5,982.9L618.7,982.9L618.9,982.9L618.7,983.5L618.5,984.2L618.1,985.4L617.7,986.7L617.5,987.5L617.4,987.9L617.0,989.1L616.6,990.4L616.3,991.5L616.2,991.6L615.9,992.9L615.5,994.1L615.1,995.3L615.1,995.4L614.6,996.6L614.2,997.8L613.8,998.8L613.7,999.1L613.2,1000.3L612.7,1001.6L612.6,1001.8L612.2,1002.8L611.6,1004.0L611.4,1004.5L611.1,1005.3L610.4,1006.5L610.2,1006.9L609.8,1007.8L609.0,1009.0L609.0,1009.1L608.3,1010.3L607.8,1011.0L607.5,1011.5L606.6,1012.7L606.6,1012.8L605.7,1014.0L605.3,1014.5L604.8,1015.2L604.1,1016.0L603.7,1016.5L602.9,1017.4L602.6,1017.7L601.7,1018.7L601.4,1018.9L600.5,1019.9L600.1,1020.2L599.3,1021.0L598.7,1021.4L598.1,1022.0L597.1,1022.7L596.8,1022.9L595.6,1023.7L595.4,1023.9L594.4,1024.5L593.3,1025.2L593.2,1025.2L592.0,1025.8L590.8,1026.4L590.8,1026.4L589.6,1026.9L588.3,1027.4L587.5,1027.6L587.1,1027.8L585.9,1028.1L584.7,1028.4L583.5,1028.7L582.4,1028.9L582.3,1028.9L581.1,1029.1L579.8,1029.2L578.6,1029.3L577.4,1029.4L576.2,1029.4L575.0,1029.4L573.8,1029.3L572.6,1029.2L571.3,1029.1L570.1,1028.9L570.0,1028.9L568.9,1028.7L567.7,1028.4L566.5,1028.1L565.3,1027.8L564.9,1027.6L564.1,1027.4L562.8,1026.9L561.6,1026.4L561.6,1026.4L560.4,1025.8L559.2,1025.2L559.1,1025.2L558.0,1024.5L557.0,1023.9L556.8,1023.7L555.6,1022.9L555.3,1022.7L554.3,1022.0L553.7,1021.4L553.1,1021.0L552.3,1020.2L551.9,1019.9L551.0,1018.9L550.7,1018.7L549.8,1017.7L549.5,1017.4L548.7,1016.5L548.3,1016.0L547.6,1015.2L547.1,1014.5L546.7,1014.0L545.8,1012.8L545.8,1012.7L544.9,1011.5L544.6,1011.0L544.1,1010.3L543.4,1009.1L543.4,1009.0L542.6,1007.8L542.2,1006.9L542.0,1006.5L541.3,1005.3L541.0,1004.5L540.8,1004.0L540.2,1002.8L539.8,1001.8L539.7,1001.6L539.2,1000.3L538.7,999.1L538.6,998.8L538.2,997.8L537.8,996.6L537.3,995.4L537.3,995.3L536.9,994.1L536.5,992.9L536.2,991.6L536.1,991.5L535.8,990.4L535.4,989.1L535.0,987.9L534.9,987.5L534.7,986.7L534.3,985.4L533.9,984.2L533.7,983.5L533.5,982.9Z" fill="#9ecae5" stroke="#9ecae5" stroke-width="0.3" fill-rule="evenodd"/>
<path d="M527.6,982.9L528.8,982.9L530.1,982.9L531.3,982.9L532.5,982.9L533.5,982.9L533.7,983.5L533.9,984.2L534.3,985.4L534.7,986.7L534.9,987.5L535.0,987.9L535.4,989.1L535.8,990.4L536.1,991.5L536.2,991.6L536.5,992.9L536.9,994.1L537.3,995.3L537.3,995.4L537.8,996.6L538.2,997.8L538.6,998.8L538.7,999.1L539.2,1000.3L539.7,1001.6L539.8,1001.8L540.2,1002.8L540.8,1004.0L541.0,1004.5L541.3,1005.3L542.0,1006.5L542.2,1006.9L542.6,1007.8L543.4,1009.0L543.4,1009.1L544.1,1010.3L544.6,1011.0L544.9,1011.5L545.8,1012.7L545.8,1012.8L546.7,1014.0L547.1,1014.5L547.6,1015.2L548.3,1016.0L548.7,1016.5L549.5,1017.4L549.8,1017.7L550.7,1018.7L551.0,1018.9L551.9,1019.9L552.3,1020.2L553.1,1021.0L553.7,1021.4L554.3,1022.0L555.3,1022.7L555.6,1022.9L556.8,1023.7L557.0,1023.9L558.0,1024.5L559.1,1025.2L559.2,1025.2L560.4,1025.8L561.6,1026.4L561.6,1026.4L562.8,1026.9L564.1,1027.4L564.9,1027.6L565.3,1027.8L566.5,1028.1L567.7,1028.4L568.9,1028.7L570.0,1028.9L570.1,1028.9L571.3,1029.1L572.6,1029.2L573.8,1029.3L575.0,1029.4L576.2,1029.4L577.4,1029.4L578.6,1029.3L579.8,1029.2L581.1,1029.1L582.3,1028.9L582.4,1028.9L583.5,1028.7L584.7,1028.4L585.9,1028.1L587.1,1027.8L587.5,1027.6L588.3,1027.4L589.6,1026.9L590.8,1026.4L590.8,1026.4L592.0,1025.8L593.2,1025.2L593.3,1025.2L594.4,1024.5L595.4,1023.9L595.6,1023.7L596.8,1022.9L597.1,1022.7L598.1,1022.0L598.7,1021.4L599.3,1021.0L600.1,1020.2L600.5,1019.9L601.4,1018.9L601.7,1018.7L602.6,1017.7L602.9,1017.4L603.7,1016.5L604.1,1016.0L604.8,1015.2L605.3,1014.5L605.7,1014.0L606.6,1012.8L606.6,1012.7L607.5,1011.5L607.8,1011.0L608.3,1010.3L609.0,1009.1L609.0,1009.0L609.8,1007.8L610.2,1006.9L610.4,1006.5L611.1,1005.3L611.4,1004.5L611.6,1004.0L612.2,1002.8L612.6,1001.8L612.7,1001.6L613.2,1000.3L613.7,999.1L613.8,998.8L614.2,997.8L614.6,996.6L615.1,995.4L615.1,995.3L615.5,994.1L615.9,992.9L616.2,991.6L616.3,991.5L616.6,990.4L617.0,989.1L617.4,987.9L617.5,987.5L617.7,986.7L618.1,985.4L618.5,984.2L618.7,983.5L618.9,982.9L619.9,982.9L621.1,982.9L622.3,982.9L623.6,982.9L624.8,982.9L626.0,982.9L625.5,984.2L625.1,985.4L624.8,986.5L624.7,986.7L624.3,987.9L623.9,989.1L623.6,990.2L623.5,990.4L623.1,991.6L622.7,992.9L622.3,993.9L622.3,994.1L621.8,995.4L621.4,996.6L621.1,997.3L620.9,997.8L620.5,999.1L620.0,1000.3L619.9,1000.4L619.4,1001.6L618.9,1002.8L618.7,1003.1L618.3,1004.0L617.7,1005.3L617.5,1005.6L617.0,1006.5L616.3,1007.8L616.3,1007.9L615.6,1009.0L615.1,1009.9L614.8,1010.3L614.1,1011.5L613.8,1011.8L613.2,1012.7L612.6,1013.6L612.3,1014.0L611.4,1015.2L611.4,1015.2L610.5,1016.5L610.2,1016.8L609.5,1017.7L609.0,1018.3L608.4,1018.9L607.8,1019.7L607.3,1020.2L606.6,1021.0L606.2,1021.4L605.3,1022.2L604.9,1022.7L604.1,1023.4L603.5,1023.9L602.9,1024.4L602.0,1025.2L601.7,1025.4L600.5,1026.3L600.4,1026.4L599.3,1027.1L598.5,1027.6L598.1,1027.9L596.8,1028.6L596.2,1028.9L595.6,1029.2L594.4,1029.7L593.5,1030.1L593.2,1030.2L592.0,1030.7L590.8,1031.1L589.9,1031.4L589.6,1031.5L588.3,1031.8L587.1,1032.1L585.9,1032.3L584.7,1032.5L584.3,1032.6L583.5,1032.7L582.3,1032.9L581.1,1033.0L579.8,1033.1L578.6,1033.2L577.4,1033.2L576.2,1033.2L575.0,1033.2L573.8,1033.2L572.6,1033.1L571.3,1033.0L570.1,1032.9L568.9,1032.7L568.1,1032.6L567.7,1032.5L566.5,1032.3L565.3,1032.1L564.1,1031.8L562.8,1031.5L562.5,1031.4L561.6,1031.1L560.4,1030.7L559.2,1030.2L558.9,1030.1L558.0,1029.7L556.8,1029.2L556.2,1028.9L555.6,1028.6L554.3,1027.9L553.9,1027.6L553.1,1027.1L552.0,1026.4L551.9,1026.3L550.7,1025.4L550.4,1025.2L549.5,1024.4L548.9,1023.9L548.3,1023.4L547.5,1022.7L547.1,1022.2L546.2,1021.4L545.8,1021.0L545.1,1020.2L544.6,1019.7L544.0,1018.9L543.4,1018.3L542.9,1017.7L542.2,1016.8L541.9,1016.5L541.0,1015.2L541.0,1015.2L540.1,1014.0L539.8,1013.6L539.2,1012.7L538.6,1011.8L538.3,1011.5L537.6,1010.3L537.3,1009.9L536.8,1009.0L536.1,1007.9L536.1,1007.8L535.4,1006.5L534.9,1005.6L534.7,1005.3L534.1,1004.0L533.7,1003.1L533.5,1002.8L533.0,1001.6L532.5,1000.4L532.4,1000.3L531.9,999.1L531.5,997.8L531.3,997.3L531.0,996.6L530.6,995.4L530.1,994.1L530.1,993.9L529.7,992.9L529.3,991.6L528.9,990.4L528.8,990.2L528.5,989.1L528.1,987.9L527.7,986.7L527.6,986.5L527.3,985.4L526.9,984.2L526.4,982.9Z" fill="#b0d6eb" stroke="#b0d6eb" stroke-width="0.3" fill-rule="evenodd"/>
<path d="M520.3,982.9L521.6,982.9L522.8,982.9L524.0,982.9L525.2,982.9L526.4,982.9L526.4,982.9L526.9,984.2L527.3,985.4L527.6,986.5L527.7,986.7L528.1,987.9L528.5,989.1L528.8,990.2L528.9,990.4L529.3,991.6L529.7,992.9L530.1,993.9L530.1,994.1L530.6,995.4L531.0,996.6L531.3,997.3L531.5,997.8L531.9,999.1L532.4,1000.3L532.5,1000.4L533.0,1001.6L533.5,1002.8L533.7,1003.1L534.1,1004.0L534.7,1005.3L534.9,1005.6L535.4,1006.5L536.1,1007.8L536.1,1007.9L536.8,1009.0L537.3,1009.9L537.6,1010.3L538.3,1011.5L538.6,1011.8L539.2,1012.7L539.8,1013.6L540.1,1014.0L541.0,1015.2L541.0,1015.2L541.9,1016.5L542.2,1016.8L542.9,1017.7L543.4,1018.3L544.0,1018.9L544.6,1019.7L545.1,1020.2L545.8,1021.0L546.2,1021.4L547.1,1022.2L547.5,1022.7L548.3,1023.4L548.9,1023.9L549.5,1024.4L550.4,1025.2L550.7,1025.4L551.9,1026.3L552.0,1026.4L553.1,1027.1L553.9,1027.6L554.3,1027.9L555.6,1028.6L556.2,1028.9L556.8,1029.2L558.0,1029.7L558.9,1030.1L559.2,1030.2L560.4,1030.7L561.6,1031.1L562.5,1031.4L562.8,1031.5L564.1,1031.8L565.3,1032.1L566.5,1032.3L567.7,1032.5L568.1,1032.6L568.9,1032.7L570.1,1032.9L571.3,1033.0L572.6,1033.1L573.8,1033.2L575.0,1033.2L576.2,1033.2L577.4,1033.2L578.6,1033.2L579.8,1033.1L581.1,1033.0L582.3,1032.9L583.5,1032.7L584.3,1032.6L584.7,1032.5L585.9,1032.3L587.1,1032.1L588.3,1031.8L589.6,1031.5L589.9,1031.4L590.8,1031.1L592.0,1030.7L593.2,1030.2L593.5,1030.1L594.4,1029.7L595.6,1029.2L596.2,1028.9L596.8,1028.6L598.1,1027.9L598.5,1027.6L599.3,1027.1L600.4,1026.4L600.5,1026.3L601.7,1025.4L602.0,1025.2L602.9,1024.4L603.5,1023.9L604.1,1023.4L604.9,1022.7L605.3,1022.2L606.2,1021.4L606.6,1021.0L607.3,1020.2L607.8,1019.7L608.4,1018.9L609.0,1018.3L609.5,1017.7L610.2,1016.8L610.5,1016.5L611.4,1015.2L611.4,1015.2L612.3,1014.0L612.6,1013.6L613.2,1012.7L613.8,1011.8L614.1,1011.5L614.8,1010.3L615.1,1009.9L615.6,1009.0L616.3,1007.9L616.3,1007.8L617.0,1006.5L617.5,1005.6L617.7,1005.3L618.3,1004.0L618.7,1003.1L618.9,1002.8L619.4,1001.6L619.9,1000.4L620.0,1000.3L620.5,999.1L620.9,997.8L621.1,997.3L621.4,996.6L621.8,995.4L622.3,994.1L622.3,993.9L622.7,992.9L623.1,991.6L623.5,990.4L623.6,990.2L623.9,989.1L624.3,987.9L624.7,986.7L624.8,986.5L625.1,985.4L625.5,984.2L626.0,982.9L626.0,982.9L627.2,982.9L628.4,982.9L629.6,982.9L630.8,982.9L632.1,982.9L633.0,982.9L632.5,984.2L632.1,985.4L632.1,985.4L631.6,986.7L631.2,987.9L630.8,988.8L630.7,989.1L630.3,990.4L629.9,991.6L629.6,992.4L629.5,992.9L629.1,994.1L628.6,995.4L628.4,995.9L628.2,996.6L627.7,997.8L627.3,999.1L627.2,999.3L626.8,1000.3L626.3,1001.6L626.0,1002.2L625.7,1002.8L625.2,1004.0L624.8,1004.8L624.5,1005.3L623.9,1006.5L623.6,1007.1L623.2,1007.8L622.5,1009.0L622.3,1009.3L621.7,1010.3L621.1,1011.2L621.0,1011.5L620.1,1012.7L619.9,1013.0L619.2,1014.0L618.7,1014.7L618.3,1015.2L617.5,1016.3L617.4,1016.5L616.4,1017.7L616.3,1017.9L615.4,1018.9L615.1,1019.3L614.3,1020.2L613.8,1020.8L613.3,1021.4L612.6,1022.2L612.2,1022.7L611.4,1023.5L611.0,1023.9L610.2,1024.8L609.8,1025.2L609.0,1026.0L608.5,1026.4L607.8,1027.1L607.1,1027.6L606.6,1028.1L605.6,1028.9L605.3,1029.1L604.1,1029.9L603.8,1030.1L602.9,1030.7L601.9,1031.4L601.7,1031.4L600.5,1032.1L599.5,1032.6L599.3,1032.7L598.1,1033.2L596.8,1033.7L596.6,1033.8L595.6,1034.2L594.4,1034.6L593.2,1034.9L592.6,1035.1L592.0,1035.2L590.8,1035.5L589.6,1035.8L588.3,1036.0L587.1,1036.2L586.1,1036.3L585.9,1036.4L584.7,1036.5L583.5,1036.6L582.3,1036.7L581.1,1036.8L579.8,1036.9L578.6,1036.9L577.4,1036.9L576.2,1036.9L575.0,1036.9L573.8,1036.9L572.6,1036.9L571.3,1036.8L570.1,1036.7L568.9,1036.6L567.7,1036.5L566.5,1036.4L566.3,1036.3L565.3,1036.2L564.1,1036.0L562.8,1035.8L561.6,1035.5L560.4,1035.2L559.8,1035.1L559.2,1034.9L558.0,1034.6L556.8,1034.2L555.8,1033.8L555.6,1033.7L554.3,1033.2L553.1,1032.7L552.9,1032.6L551.9,1032.1L550.7,1031.4L550.5,1031.4L549.5,1030.7L548.6,1030.1L548.3,1029.9L547.1,1029.1L546.8,1028.9L545.8,1028.1L545.3,1027.6L544.6,1027.1L543.9,1026.4L543.4,1026.0L542.6,1025.2L542.2,1024.8L541.4,1023.9L541.0,1023.5L540.2,1022.7L539.8,1022.2L539.1,1021.4L538.6,1020.8L538.1,1020.2L537.3,1019.3L537.0,1018.9L536.1,1017.9L536.0,1017.7L535.0,1016.5L534.9,1016.3L534.1,1015.2L533.7,1014.7L533.2,1014.0L532.5,1013.0L532.3,1012.7L531.4,1011.5L531.3,1011.2L530.7,1010.3L530.1,1009.3L529.9,1009.0L529.2,1007.8L528.8,1007.1L528.5,1006.5L527.9,1005.3L527.6,1004.8L527.2,1004.0L526.7,1002.8L526.4,1002.2L526.1,1001.6L525.6,1000.3L525.2,999.3L525.1,999.1L524.7,997.8L524.2,996.6L524.0,995.9L523.8,995.4L523.3,994.1L522.9,992.9L522.8,992.4L522.5,991.6L522.1,990.4L521.7,989.1L521.6,988.8L521.2,987.9L520.8,986.7L520.3,985.4L520.3,985.4L519.9,984.2L519.4,982.9Z" fill="#c1e0ef" stroke="#c1e0ef" stroke-width="0.3" fill-rule="evenodd"/>
<path d="M513.1,982.9L514.3,982.9L515.5,982.9L516.7,982.9L517.9,982.9L519.1,982.9L519.4,982.9L519.9,984.2L520.3,985.4L520.3,985.4L520.8,986.7L521.2,987.9L521.6,988.8L521.7,989.1L522.1,990.4L522.5,991.6L522.8,992.4L522.9,992.9L523.3,994.1L523.8,995.4L524.0,995.9L524.2,996.6L524.7,997.8L525.1,999.1L525.2,999.3L525.6,1000.3L526.1,1001.6L526.4,1002.2L526.7,1002.8L527.2,1004.0L527.6,1004.8L527.9,1005.3L528.5,1006.5L528.8,1007.1L529.2,1007.8L529.9,1009.0L530.1,1009.3L530.7,1010.3L531.3,1011.2L531.4,1011.5L532.3,1012.7L532.5,1013.0L533.2,1014.0L533.7,1014.7L534.1,1015.2L534.9,1016.3L535.0,1016.5L536.0,1017.7L536.1,1017.9L537.0,1018.9L537.3,1019.3L538.1,1020.2L538.6,1020.8L539.1,1021.4L539.8,1022.2L540.2,1022.7L541.0,1023.5L541.4,1023.9L542.2,1024.8L542.6,1025.2L543.4,1026.0L543.9,1026.4L544.6,1027.1L545.3,1027.6L545.8,1028.1L546.8,1028.9L547.1,1029.1L548.3,1029.9L548.6,1030.1L549.5,1030.7L550.5,1031.4L550.7,1031.4L551.9,1032.1L552.9,1032.6L553.1,1032.7L554.3,1033.2L555.6,1033.7L555.8,1033.8L556.8,1034.2L558.0,1034.6L559.2,1034.9L559.8,1035.1L560.4,1035.2L561.6,1035.5L562.8,1035.8L564.1,1036.0L565.3,1036.2L566.3,1036.3L566.5,1036.4L567.7,1036.5L568.9,1036.6L570.1,1036.7L571.3,1036.8L572.6,1036.9L573.8,1036.9L575.0,1036.9L576.2,1036.9L577.4,1036.9L578.6,1036.9L579.8,1036.9L581.1,1036.8L582.3,1036.7L583.5,1036.6L584.7,1036.5L585.9,1036.4L586.1,1036.3L587.1,1036.2L588.3,1036.0L589.6,1035.8L590.8,1035.5L592.0,1035.2L592.6,1035.1L593.2,1034.9L594.4,1034.6L595.6,1034.2L596.6,1033.8L596.8,1033.7L598.1,1033.2L599.3,1032.7L599.5,1032.6L600.5,1032.1L601.7,1031.4L601.9,1031.4L602.9,1030.7L603.8,1030.1L604.1,1029.9L605.3,1029.1L605.6,1028.9L606.6,1028.1L607.1,1027.6L607.8,1027.1L608.5,1026.4L609.0,1026.0L609.8,1025.2L610.2,1024.8L611.0,1023.9L611.4,1023.5L612.2,1022.7L612.6,1022.2L613.3,1021.4L613.8,1020.8L614.3,1020.2L615.1,1019.3L615.4,1018.9L616.3,1017.9L616.4,1017.7L617.4,1016.5L617.5,1016.3L618.3,1015.2L618.7,1014.7L619.2,1014.0L619.9,1013.0L620.1,1012.7L621.0,1011.5L621.1,1011.2L621.7,1010.3L622.3,1009.3L622.5,1009.0L623.2,1007.8L623.6,1007.1L623.9,1006.5L624.5,1005.3L624.8,1004.8L625.2,1004.0L625.7,1002.8L626.0,1002.2L626.3,1001.6L626.8,1000.3L627.2,999.3L627.3,999.1L627.7,997.8L628.2,996.6L628.4,995.9L628.6,995.4L629.1,994.1L629.5,992.9L629.6,992.4L629.9,991.6L630.3,990.4L630.7,989.1L630.8,988.8L631.2,987.9L631.6,986.7L632.1,985.4L632.1,985.4L632.5,984.2L633.0,982.9L633.3,982.9L634.5,982.9L635.7,982.9L636.9,982.9L638.1,982.9L639.3,982.9L640.3,982.9L639.7,984.2L639.3,984.9L639.1,985.4L638.6,986.7L638.1,987.8L638.1,987.9L637.6,989.1L637.2,990.4L636.9,991.1L636.7,991.6L636.3,992.9L635.8,994.1L635.7,994.5L635.4,995.4L635.0,996.6L634.6,997.8L634.5,998.0L634.1,999.1L633.7,1000.3L633.3,1001.3L633.2,1001.6L632.7,1002.8L632.2,1004.0L632.1,1004.3L631.6,1005.3L631.0,1006.5L630.8,1006.9L630.4,1007.8L629.7,1009.0L629.6,1009.2L629.0,1010.3L628.4,1011.3L628.3,1011.5L627.5,1012.7L627.2,1013.2L626.7,1014.0L626.0,1015.0L625.8,1015.2L624.9,1016.5L624.8,1016.6L624.0,1017.7L623.6,1018.2L623.0,1018.9L622.3,1019.7L622.0,1020.2L621.1,1021.1L620.9,1021.4L619.9,1022.5L619.8,1022.7L618.7,1023.8L618.6,1023.9L617.5,1025.2L617.5,1025.2L616.4,1026.4L616.3,1026.5L615.3,1027.6L615.1,1027.8L614.0,1028.9L613.8,1029.1L612.7,1030.1L612.6,1030.2L611.4,1031.3L611.3,1031.4L610.2,1032.2L609.7,1032.6L609.0,1033.1L607.9,1033.8L607.8,1033.9L606.6,1034.7L605.9,1035.1L605.3,1035.4L604.1,1036.0L603.5,1036.3L602.9,1036.6L601.7,1037.1L600.5,1037.5L600.4,1037.6L599.3,1038.0L598.1,1038.3L596.8,1038.6L596.2,1038.8L595.6,1038.9L594.4,1039.2L593.2,1039.4L592.0,1039.6L590.8,1039.8L589.6,1040.0L588.8,1040.0L588.3,1040.1L587.1,1040.2L585.9,1040.3L584.7,1040.4L583.5,1040.5L582.3,1040.5L581.1,1040.6L579.8,1040.6L578.6,1040.6L577.4,1040.6L576.2,1040.6L575.0,1040.6L573.8,1040.6L572.6,1040.6L571.3,1040.6L570.1,1040.5L568.9,1040.5L567.7,1040.4L566.5,1040.3L565.3,1040.2L564.1,1040.1L563.6,1040.0L562.8,1040.0L561.6,1039.8L560.4,1039.6L559.2,1039.4L558.0,1039.2L556.8,1038.9L556.2,1038.8L555.6,1038.6L554.3,1038.3L553.1,1038.0L552.0,1037.6L551.9,1037.5L550.7,1037.1L549.5,1036.6L548.9,1036.3L548.3,1036.0L547.1,1035.4L546.5,1035.1L545.8,1034.7L544.6,1033.9L544.5,1033.8L543.4,1033.1L542.7,1032.6L542.2,1032.2L541.1,1031.4L541.0,1031.3L539.8,1030.2L539.7,1030.1L538.6,1029.1L538.4,1028.9L537.3,1027.8L537.1,1027.6L536.1,1026.5L536.0,1026.4L534.9,1025.2L534.9,1025.2L533.8,1023.9L533.7,1023.8L532.6,1022.7L532.5,1022.5L531.5,1021.4L531.3,1021.1L530.4,1020.2L530.1,1019.7L529.4,1018.9L528.8,1018.2L528.4,1017.7L527.6,1016.6L527.5,1016.5L526.6,1015.2L526.4,1015.0L525.7,1014.0L525.2,1013.2L524.9,1012.7L524.1,1011.5L524.0,1011.3L523.4,1010.3L522.8,1009.2L522.7,1009.0L522.0,1007.8L521.6,1006.9L521.4,1006.5L520.8,1005.3L520.3,1004.3L520.2,1004.0L519.7,1002.8L519.2,1001.6L519.1,1001.3L518.7,1000.3L518.3,999.1L517.9,998.0L517.8,997.8L517.4,996.6L517.0,995.4L516.7,994.5L516.6,994.1L516.1,992.9L515.7,991.6L515.5,991.1L515.2,990.4L514.8,989.1L514.3,987.9L514.3,987.8L513.8,986.7L513.3,985.4L513.1,984.9L512.7,984.2L512.1,982.9Z" fill="#d0e8f2" stroke="#d0e8f2" stroke-width="0.3" fill-rule="evenodd"/>
<path d="M504.6,982.9L505.8,982.9L507.0,982.9L508.2,982.9L509.4,982.9L510.6,982.9L511.8,982.9L512.1,982.9L512.7,984.2L513.1,984.9L513.3,985.4L513.8,986.7L514.3,987.8L514.3,987.9L514.8,989.1L515.2,990.4L515.5,991.1L515.7,991.6L516.1,992.9L516.6,994.1L516.7,994.5L517.0,995.4L517.4,996.6L517.8,997.8L517.9,998.0L518.3,999.1L518.7,1000.3L519.1,1001.3L519.2,1001.6L519.7,1002.8L520.2,1004.0L520.3,1004.3L520.8,1005.3L521.4,1006.5L521.6,1006.9L522.0,1007.8L522.7,1009.0L522.8,1009.2L523.4,1010.3L524.0,1011.3L524.1,1011.5L524.9,1012.7L525.2,1013.2L525.7,1014.0L526.4,1015.0L526.6,1015.2L527.5,1016.5L527.6,1016.6L528.4,1017.7L528.8,1018.2L529.4,1018.9L530.1,1019.7L530.4,1020.2L531.3,1021.1L531.5,1021.4L532.5,1022.5L532.6,1022.7L533.7,1023.8L533.8,1023.9L534.9,1025.2L534.9,1025.2L536.0,1026.4L536.1,1026.5L537.1,1027.6L537.3,1027.8L538.4,1028.9L538.6,1029.1L539.7,1030.1L539.8,1030.2L541.0,1031.3L541.1,1031.4L542.2,1032.2L542.7,1032.6L543.4,1033.1L544.5,1033.8L544.6,1033.9L545.8,1034.7L546.5,1035.1L547.1,1035.4L548.3,1036.0L548.9,1036.3L549.5,1036.6L550.7,1037.1L551.9,1037.5L552.0,1037.6L553.1,1038.0L554.3,1038.3L555.6,1038.6L556.2,1038.8L556.8,1038.9L558.0,1039.2L559.2,1039.4L560.4,1039.6L561.6,1039.8L562.8,1040.0L563.6,1040.0L564.1,1040.1L565.3,1040.2L566.5,1040.3L567.7,1040.4L568.9,1040.5L570.1,1040.5L571.3,1040.6L572.6,1040.6L573.8,1040.6L575.0,1040.6L576.2,1040.6L577.4,1040.6L578.6,1040.6L579.8,1040.6L581.1,1040.6L582.3,1040.5L583.5,1040.5L584.7,1040.4L585.9,1040.3L587.1,1040.2L588.3,1040.1L588.8,1040.0L589.6,1040.0L590.8,1039.8L592.0,1039.6L593.2,1039.4L594.4,1039.2L595.6,1038.9L596.2,1038.8L596.8,1038.6L598.1,1038.3L599.3,1038.0L600.4,1037.6L600.5,1037.5L601.7,1037.1L602.9,1036.6L603.5,1036.3L604.1,1036.0L605.3,1035.4L605.9,1035.1L606.6,1034.7L607.8,1033.9L607.9,1033.8L609.0,1033.1L609.7,1032.6L610.2,1032.2L611.3,1031.4L611.4,1031.3L612.6,1030.2L612.7,1030.1L613.8,1029.1L614.0,1028.9L615.1,1027.8L615.3,1027.6L616.3,1026.5L616.4,1026.4L617.5,1025.2L617.5,1025.2L618.6,1023.9L618.7,1023.8L619.8,1022.7L619.9,1022.5L620.9,1021.4L621.1,1021.1L622.0,1020.2L622.3,1019.7L623.0,1018.9L623.6,1018.2L624.0,1017.7L624.8,1016.6L624.9,1016.5L625.8,1015.2L626.0,1015.0L626.7,1014.0L627.2,1013.2L627.5,1012.7L628.3,1011.5L628.4,1011.3L629.0,1010.3L629.6,1009.2L629.7,1009.0L630.4,1007.8L630.8,1006.9L631.0,1006.5L631.6,1005.3L632.1,1004.3L632.2,1004.0L632.7,1002.8L633.2,1001.6L633.3,1001.3L633.7,1000.3L634.1,999.1L634.5,998.0L634.6,997.8L635.0,996.6L635.4,995.4L635.7,994.5L635.8,994.1L636.3,992.9L636.7,991.6L636.9,991.1L637.2,990.4L637.6,989.1L638.1,987.9L638.1,987.8L638.6,986.7L639.1,985.4L639.3,984.9L639.7,984.2L640.3,982.9L640.6,982.9L641.8,982.9L643.0,982.9L644.2,982.9L645.4,982.9L646.6,982.9L647.8,982.9L648.3,982.9L647.8,983.6L647.5,984.2L646.8,985.4L646.6,985.7L646.1,986.7L645.5,987.9L645.4,988.1L644.9,989.1L644.4,990.4L644.2,990.7L643.8,991.6L643.3,992.9L643.0,993.7L642.8,994.1L642.3,995.4L641.9,996.6L641.8,996.8L641.4,997.8L641.0,999.1L640.6,1000.1L640.5,1000.3L640.0,1001.6L639.6,1002.8L639.3,1003.3L639.1,1004.0L638.6,1005.3L638.1,1006.3L638.0,1006.5L637.5,1007.8L636.9,1009.0L636.9,1009.0L636.3,1010.3L635.7,1011.5L635.7,1011.5L635.0,1012.7L634.5,1013.7L634.3,1014.0L633.6,1015.2L633.3,1015.7L632.8,1016.5L632.1,1017.7L632.0,1017.7L631.2,1018.9L630.8,1019.4L630.3,1020.2L629.6,1021.1L629.4,1021.4L628.5,1022.7L628.4,1022.7L627.5,1023.9L627.2,1024.2L626.4,1025.2L626.0,1025.7L625.4,1026.4L624.8,1027.1L624.3,1027.6L623.6,1028.4L623.1,1028.9L622.3,1029.7L622.0,1030.1L621.1,1031.0L620.7,1031.4L619.9,1032.2L619.5,1032.6L618.7,1033.3L618.1,1033.8L617.5,1034.4L616.6,1035.1L616.3,1035.3L615.1,1036.3L615.0,1036.3L613.8,1037.1L613.1,1037.6L612.6,1037.9L611.4,1038.6L611.0,1038.8L610.2,1039.2L609.0,1039.9L608.6,1040.0L607.8,1040.4L606.6,1040.9L605.5,1041.3L605.3,1041.4L604.1,1041.8L602.9,1042.1L601.7,1042.5L601.4,1042.5L600.5,1042.7L599.3,1043.0L598.1,1043.2L596.8,1043.4L595.6,1043.6L594.4,1043.7L594.1,1043.8L593.2,1043.9L592.0,1044.0L590.8,1044.1L589.6,1044.2L588.3,1044.2L587.1,1044.3L585.9,1044.3L584.7,1044.4L583.5,1044.4L582.3,1044.4L581.1,1044.4L579.8,1044.4L578.6,1044.4L577.4,1044.4L576.2,1044.4L575.0,1044.4L573.8,1044.4L572.6,1044.4L571.3,1044.4L570.1,1044.4L568.9,1044.4L567.7,1044.4L566.5,1044.3L565.3,1044.3L564.1,1044.2L562.8,1044.2L561.6,1044.1L560.4,1044.0L559.2,1043.9L558.3,1043.8L558.0,1043.7L556.8,1043.6L555.6,1043.4L554.3,1043.2L553.1,1043.0L551.9,1042.7L551.0,1042.5L550.7,1042.5L549.5,1042.1L548.3,1041.8L547.1,1041.4L546.9,1041.3L545.8,1040.9L544.6,1040.4L543.8,1040.0L543.4,1039.9L542.2,1039.2L541.4,1038.8L541.0,1038.6L539.8,1037.9L539.3,1037.6L538.6,1037.1L537.4,1036.3L537.3,1036.3L536.1,1035.3L535.8,1035.1L534.9,1034.4L534.3,1033.8L533.7,1033.3L532.9,1032.6L532.5,1032.2L531.7,1031.4L531.3,1031.0L530.4,1030.1L530.1,1029.7L529.3,1028.9L528.8,1028.4L528.1,1027.6L527.6,1027.1L527.0,1026.4L526.4,1025.7L526.0,1025.2L525.2,1024.2L524.9,1023.9L524.0,1022.7L523.9,1022.7L523.0,1021.4L522.8,1021.1L522.1,1020.2L521.6,1019.4L521.2,1018.9L520.4,1017.7L520.3,1017.7L519.6,1016.5L519.1,1015.7L518.8,1015.2L518.1,1014.0L517.9,1013.7L517.4,1012.7L516.7,1011.5L516.7,1011.5L516.1,1010.3L515.5,1009.0L515.5,1009.0L514.9,1007.8L514.4,1006.5L514.3,1006.3L513.8,1005.3L513.3,1004.0L513.1,1003.3L512.8,1002.8L512.4,1001.6L511.9,1000.3L511.8,1000.1L511.4,999.1L511.0,997.8L510.6,996.8L510.5,996.6L510.1,995.4L509.6,994.1L509.4,993.7L509.1,992.9L508.6,991.6L508.2,990.7L508.0,990.4L507.5,989.1L507.0,988.1L506.9,987.9L506.3,986.7L505.8,985.7L505.6,985.4L504.9,984.2L504.6,983.6L504.1,982.9Z" fill="#e1f1f0" stroke="#e1f1f0" stroke-width="0.3" fill-rule="evenodd"/>
<path d="M496.0,982.9L497.3,982.9L498.5,982.9L499.7,982.9L500.9,982.9L502.1,982.9L503.3,982.9L504.1,982.9L504.6,983.6L504.9,984.2L505.6,985.4L505.8,985.7L506.3,986.7L506.9,987.9L507.0,988.1L507.5,989.1L508.0,990.4L508.2,990.7L508.6,991.6L509.1,992.9L509.4,993.7L509.6,994.1L510.1,995.4L510.5,996.6L510.6,996.8L511.0,997.8L511.4,999.1L511.8,1000.1L511.9,1000.3L512.4,1001.6L512.8,1002.8L513.1,1003.3L513.3,1004.0L513.8,1005.3L514.3,1006.3L514.4,1006.5L514.9,1007.8L515.5,1009.0L515.5,1009.0L516.1,1010.3L516.7,1011.5L516.7,1011.5L517.4,1012.7L517.9,1013.7L518.1,1014.0L518.8,1015.2L519.1,1015.7L519.6,1016.5L520.3,1017.7L520.4,1017.7L521.2,1018.9L521.6,1019.4L522.1,1020.2L522.8,1021.1L523.0,1021.4L523.9,1022.7L524.0,1022.7L524.9,1023.9L525.2,1024.2L526.0,1025.2L526.4,1025.7L527.0,1026.4L527.6,1027.1L528.1,1027.6L528.8,1028.4L529.3,1028.9L530.1,1029.7L530.4,1030.1L531.3,1031.0L531.7,1031.4L532.5,1032.2L532.9,1032.6L533.7,1033.3L534.3,1033.8L534.9,1034.4L535.8,1035.1L536.1,1035.3L537.3,1036.3L537.4,1036.3L538.6,1037.1L539.3,1037.6L539.8,1037.9L541.0,1038.6L541.4,1038.8L542.2,1039.2L543.4,1039.9L543.8,1040.0L544.6,1040.4L545.8,1040.9L546.9,1041.3L547.1,1041.4L548.3,1041.8L549.5,1042.1L550.7,1042.5L551.0,1042.5L551.9,1042.7L553.1,1043.0L554.3,1043.2L555.6,1043.4L556.8,1043.6L558.0,1043.7L558.3,1043.8L559.2,1043.9L560.4,1044.0L561.6,1044.1L562.8,1044.2L564.1,1044.2L565.3,1044.3L566.5,1044.3L567.7,1044.4L568.9,1044.4L570.1,1044.4L571.3,1044.4L572.6,1044.4L573.8,1044.4L575.0,1044.4L576.2,1044.4L577.4,1044.4L578.6,1044.4L579.8,1044.4L581.1,1044.4L582.3,1044.4L583.5,1044.4L584.7,1044.4L585.9,1044.3L587.1,1044.3L588.3,1044.2L589.6,1044.2L590.8,1044.1L592.0,1044.0L593.2,1043.9L594.1,1043.8L594.4,1043.7L595.6,1043.6L596.8,1043.4L598.1,1043.2L599.3,1043.0L600.5,1042.7L601.4,1042.5L601.7,1042.5L602.9,1042.1L604.1,1041.8L605.3,1041.4L605.5,1041.3L606.6,1040.9L607.8,1040.4L608.6,1040.0L609.0,1039.9L610.2,1039.2L611.0,1038.8L611.4,1038.6L612.6,1037.9L613.1,1037.6L613.8,1037.1L615.0,1036.3L615.1,1036.3L616.3,1035.3L616.6,1035.1L617.5,1034.4L618.1,1033.8L618.7,1033.3L619.5,1032.6L619.9,1032.2L620.7,1031.4L621.1,1031.0L622.0,1030.1L622.3,1029.7L623.1,1028.9L623.6,1028.4L624.3,1027.6L624.8,1027.1L625.4,1026.4L626.0,1025.7L626.4,1025.2L627.2,1024.2L627.5,1023.9L628.4,1022.7L628.5,1022.7L629.4,1021.4L629.6,1021.1L630.3,1020.2L630.8,1019.4L631.2,1018.9L632.0,1017.7L632.1,1017.7L632.8,1016.5L633.3,1015.7L633.6,1015.2L634.3,1014.0L634.5,1013.7L635.0,1012.7L635.7,1011.5L635.7,1011.5L636.3,1010.3L636.9,1009.0L636.9,1009.0L637.5,1007.8L638.0,1006.5L638.1,1006.3L638.6,1005.3L639.1,1004.0L639.3,1003.3L639.6,1002.8L640.0,1001.6L640.5,1000.3L640.6,1000.1L641.0,999.1L641.4,997.8L641.8,996.8L641.9,996.6L642.3,995.4L642.8,994.1L643.0,993.7L643.3,992.9L643.8,991.6L644.2,990.7L644.4,990.4L644.9,989.1L645.4,988.1L645.5,987.9L646.1,986.7L646.6,985.7L646.8,985.4L647.5,984.2L647.8,983.6L648.3,982.9L649.1,982.9L650.3,982.9L651.5,982.9L652.7,982.9L653.9,982.9L655.1,982.9L656.4,982.9L657.0,982.9L656.4,983.8L656.0,984.2L655.1,985.4L655.1,985.4L654.3,986.7L653.9,987.2L653.5,987.9L652.7,989.1L652.7,989.1L652.0,990.4L651.5,991.3L651.3,991.6L650.7,992.9L650.3,993.7L650.1,994.1L649.5,995.4L649.1,996.4L649.0,996.6L648.5,997.8L648.0,999.1L647.8,999.4L647.5,1000.3L647.0,1001.6L646.6,1002.5L646.5,1002.8L646.0,1004.0L645.6,1005.3L645.4,1005.6L645.1,1006.5L644.6,1007.8L644.2,1008.7L644.1,1009.0L643.6,1010.3L643.0,1011.5L643.0,1011.5L642.5,1012.7L641.9,1014.0L641.8,1014.2L641.3,1015.2L640.6,1016.5L640.6,1016.6L640.0,1017.7L639.3,1018.9L639.3,1018.9L638.6,1020.2L638.1,1021.0L637.9,1021.4L637.1,1022.7L636.9,1023.0L636.3,1023.9L635.7,1024.9L635.5,1025.2L634.7,1026.4L634.5,1026.7L633.8,1027.6L633.3,1028.4L632.9,1028.9L632.1,1030.0L631.9,1030.1L631.0,1031.4L630.8,1031.5L629.9,1032.6L629.6,1032.9L628.8,1033.8L628.4,1034.3L627.7,1035.1L627.2,1035.5L626.4,1036.3L626.0,1036.7L625.1,1037.6L624.8,1037.8L623.6,1038.8L623.6,1038.9L622.3,1039.8L622.0,1040.0L621.1,1040.7L620.2,1041.3L619.9,1041.5L618.7,1042.2L618.1,1042.5L617.5,1042.9L616.3,1043.5L615.7,1043.8L615.1,1044.1L613.8,1044.6L612.8,1045.0L612.6,1045.1L611.4,1045.5L610.2,1045.9L609.1,1046.3L609.0,1046.3L607.8,1046.6L606.6,1046.9L605.3,1047.2L604.1,1047.4L603.7,1047.5L602.9,1047.6L601.7,1047.8L600.5,1048.0L599.3,1048.1L598.1,1048.2L596.8,1048.3L595.6,1048.3L594.4,1048.4L593.2,1048.4L592.0,1048.4L590.8,1048.4L589.6,1048.5L588.3,1048.5L587.1,1048.4L585.9,1048.4L584.7,1048.4L583.5,1048.4L582.3,1048.4L581.1,1048.4L579.8,1048.4L578.6,1048.4L577.4,1048.4L576.2,1048.4L575.0,1048.4L573.8,1048.4L572.6,1048.4L571.3,1048.4L570.1,1048.4L568.9,1048.4L567.7,1048.4L566.5,1048.4L565.3,1048.4L564.1,1048.5L562.8,1048.5L561.6,1048.4L560.4,1048.4L559.2,1048.4L558.0,1048.4L556.8,1048.3L555.6,1048.3L554.3,1048.2L553.1,1048.1L551.9,1048.0L550.7,1047.8L549.5,1047.6L548.7,1047.5L548.3,1047.4L547.1,1047.2L545.8,1046.9L544.6,1046.6L543.4,1046.3L543.3,1046.3L542.2,1045.9L541.0,1045.5L539.8,1045.1L539.6,1045.0L538.6,1044.6L537.3,1044.1L536.7,1043.8L536.1,1043.5L534.9,1042.9L534.3,1042.5L533.7,1042.2L532.5,1041.5L532.2,1041.3L531.3,1040.7L530.4,1040.0L530.1,1039.8L528.8,1038.9L528.8,1038.8L527.6,1037.8L527.3,1037.6L526.4,1036.7L526.0,1036.3L525.2,1035.5L524.7,1035.1L524.0,1034.3L523.6,1033.8L522.8,1032.9L522.5,1032.6L521.6,1031.5L521.4,1031.4L520.5,1030.1L520.3,1030.0L519.5,1028.9L519.1,1028.4L518.6,1027.6L517.9,1026.7L517.7,1026.4L516.9,1025.2L516.7,1024.9L516.1,1023.9L515.5,1023.0L515.3,1022.7L514.5,1021.4L514.3,1021.0L513.8,1020.2L513.1,1018.9L513.1,1018.9L512.4,1017.7L511.8,1016.6L511.8,1016.5L511.1,1015.2L510.6,1014.2L510.5,1014.0L509.9,1012.7L509.4,1011.5L509.4,1011.5L508.8,1010.3L508.3,1009.0L508.2,1008.7L507.8,1007.8L507.3,1006.5L507.0,1005.6L506.8,1005.3L506.4,1004.0L505.9,1002.8L505.8,1002.5L505.4,1001.6L504.9,1000.3L504.6,999.4L504.4,999.1L503.9,997.8L503.4,996.6L503.3,996.4L502.9,995.4L502.3,994.1L502.1,993.7L501.7,992.9L501.1,991.6L500.9,991.3L500.4,990.4L499.7,989.1L499.7,989.1L498.9,987.9L498.5,987.2L498.1,986.7L497.3,985.4L497.3,985.4L496.4,984.2L496.0,983.8L495.4,982.9Z" fill="#eef6e2" stroke="#eef6e2" stroke-width="0.3" fill-rule="evenodd"/>
<path d="M485.1,982.9L486.3,982.9L487.5,982.9L488.8,982.9L490.0,982.9L491.2,982.9L492.4,982.9L493.6,982.9L494.8,982.9L495.4,982.9L496.0,983.8L496.4,984.2L497.3,985.4L497.3,985.4L498.1,986.7L498.5,987.2L498.9,987.9L499.7,989.1L499.7,989.1L500.4,990.4L500.9,991.3L501.1,991.6L501.7,992.9L502.1,993.7L502.3,994.1L502.9,995.4L503.3,996.4L503.4,996.6L503.9,997.8L504.4,999.1L504.6,999.4L504.9,1000.3L505.4,1001.6L505.8,1002.5L505.9,1002.8L506.4,1004.0L506.8,1005.3L507.0,1005.6L507.3,1006.5L507.8,1007.8L508.2,1008.7L508.3,1009.0L508.8,1010.3L509.4,1011.5L509.4,1011.5L509.9,1012.7L510.5,1014.0L510.6,1014.2L511.1,1015.2L511.8,1016.5L511.8,1016.6L512.4,1017.7L513.1,1018.9L513.1,1018.9L513.8,1020.2L514.3,1021.0L514.5,1021.4L515.3,1022.7L515.5,1023.0L516.1,1023.9L516.7,1024.9L516.9,1025.2L517.7,1026.4L517.9,1026.7L518.6,1027.6L519.1,1028.4L519.5,1028.9L520.3,1030.0L520.5,1030.1L521.4,1031.4L521.6,1031.5L522.5,1032.6L522.8,1032.9L523.6,1033.8L524.0,1034.3L524.7,1035.1L525.2,1035.5L526.0,1036.3L526.4,1036.7L527.3,1037.6L527.6,1037.8L528.8,1038.8L528.8,1038.9L530.1,1039.8L530.4,1040.0L531.3,1040.7L532.2,1041.3L532.5,1041.5L533.7,1042.2L534.3,1042.5L534.9,1042.9L536.1,1043.5L536.7,1043.8L537.3,1044.1L538.6,1044.6L539.6,1045.0L539.8,1045.1L541.0,1045.5L542.2,1045.9L543.3,1046.3L543.4,1046.3L544.6,1046.6L545.8,1046.9L547.1,1047.2L548.3,1047.4L548.7,1047.5L549.5,1047.6L550.7,1047.8L551.9,1048.0L553.1,1048.1L554.3,1048.2L555.6,1048.3L556.8,1048.3L558.0,1048.4L559.2,1048.4L560.4,1048.4L561.6,1048.4L562.8,1048.5L564.1,1048.5L565.3,1048.4L566.5,1048.4L567.7,1048.4L568.9,1048.4L570.1,1048.4L571.3,1048.4L572.6,1048.4L573.8,1048.4L575.0,1048.4L576.2,1048.4L577.4,1048.4L578.6,1048.4L579.8,1048.4L581.1,1048.4L582.3,1048.4L583.5,1048.4L584.7,1048.4L585.9,1048.4L587.1,1048.4L588.3,1048.5L589.6,1048.5L590.8,1048.4L592.0,1048.4L593.2,1048.4L594.4,1048.4L595.6,1048.3L596.8,1048.3L598.1,1048.2L599.3,1048.1L600.5,1048.0L601.7,1047.8L602.9,1047.6L603.7,1047.5L604.1,1047.4L605.3,1047.2L606.6,1046.9L607.8,1046.6L609.0,1046.3L609.1,1046.3L610.2,1045.9L611.4,1045.5L612.6,1045.1L612.8,1045.0L613.8,1044.6L615.1,1044.1L615.7,1043.8L616.3,1043.5L617.5,1042.9L618.1,1042.5L618.7,1042.2L619.9,1041.5L620.2,1041.3L621.1,1040.7L622.0,1040.0L622.3,1039.8L623.6,1038.9L623.6,1038.8L624.8,1037.8L625.1,1037.6L626.0,1036.7L626.4,1036.3L627.2,1035.5L627.7,1035.1L628.4,1034.3L628.8,1033.8L629.6,1032.9L629.9,1032.6L630.8,1031.5L631.0,1031.4L631.9,1030.1L632.1,1030.0L632.9,1028.9L633.3,1028.4L633.8,1027.6L634.5,1026.7L634.7,1026.4L635.5,1025.2L635.7,1024.9L636.3,1023.9L636.9,1023.0L637.1,1022.7L637.9,1021.4L638.1,1021.0L638.6,1020.2L639.3,1018.9L639.3,1018.9L640.0,1017.7L640.6,1016.6L640.6,1016.5L641.3,1015.2L641.8,1014.2L641.9,1014.0L642.5,1012.7L643.0,1011.5L643.0,1011.5L643.6,1010.3L644.1,1009.0L644.2,1008.7L644.6,1007.8L645.1,1006.5L645.4,1005.6L645.6,1005.3L646.0,1004.0L646.5,1002.8L646.6,1002.5L647.0,1001.6L647.5,1000.3L647.8,999.4L648.0,999.1L648.5,997.8L649.0,996.6L649.1,996.4L649.5,995.4L650.1,994.1L650.3,993.7L650.7,992.9L651.3,991.6L651.5,991.3L652.0,990.4L652.7,989.1L652.7,989.1L653.5,987.9L653.9,987.2L654.3,986.7L655.1,985.4L655.1,985.4L656.0,984.2L656.4,983.8L657.0,982.9L657.6,982.9L658.8,982.9L660.0,982.9L661.2,982.9L662.4,982.9L663.6,982.9L664.9,982.9L666.1,982.9L667.3,982.9L667.4,982.9L667.3,983.0L666.1,984.0L665.9,984.2L664.9,985.1L664.5,985.4L663.6,986.3L663.3,986.7L662.4,987.6L662.2,987.9L661.2,989.0L661.1,989.1L660.1,990.4L660.0,990.6L659.3,991.6L658.8,992.4L658.5,992.9L657.7,994.1L657.6,994.3L657.0,995.4L656.4,996.6L656.4,996.6L655.7,997.8L655.2,999.1L655.1,999.2L654.6,1000.3L654.1,1001.6L653.9,1002.0L653.6,1002.8L653.1,1004.0L652.7,1005.2L652.7,1005.3L652.2,1006.5L651.7,1007.8L651.5,1008.4L651.3,1009.0L650.8,1010.3L650.3,1011.5L650.3,1011.6L649.8,1012.7L649.3,1014.0L649.1,1014.6L648.8,1015.2L648.3,1016.5L647.8,1017.5L647.7,1017.7L647.2,1018.9L646.6,1020.1L646.6,1020.2L646.0,1021.4L645.4,1022.5L645.4,1022.7L644.7,1023.9L644.2,1024.9L644.1,1025.2L643.4,1026.4L643.0,1027.1L642.7,1027.6L642.0,1028.9L641.8,1029.3L641.3,1030.1L640.6,1031.3L640.5,1031.4L639.8,1032.6L639.3,1033.3L639.0,1033.8L638.2,1035.1L638.1,1035.1L637.3,1036.3L636.9,1036.8L636.4,1037.6L635.7,1038.4L635.4,1038.8L634.5,1039.9L634.4,1040.0L633.3,1041.3L633.2,1041.3L632.1,1042.5L632.0,1042.5L630.8,1043.6L630.7,1043.8L629.6,1044.6L629.1,1045.0L628.4,1045.6L627.4,1046.3L627.2,1046.4L626.0,1047.2L625.4,1047.5L624.8,1047.8L623.6,1048.5L623.0,1048.7L622.3,1049.0L621.1,1049.6L620.0,1050.0L619.9,1050.0L618.7,1050.5L617.5,1050.9L616.3,1051.2L616.2,1051.2L615.1,1051.5L613.8,1051.8L612.6,1052.1L611.4,1052.3L610.6,1052.5L610.2,1052.5L609.0,1052.7L607.8,1052.9L606.6,1053.0L605.3,1053.2L604.1,1053.2L602.9,1053.3L601.7,1053.4L600.5,1053.4L599.3,1053.4L598.1,1053.4L596.8,1053.4L595.6,1053.3L594.4,1053.3L593.2,1053.2L592.0,1053.1L590.8,1053.1L589.6,1053.0L588.3,1052.9L587.1,1052.8L585.9,1052.8L584.7,1052.7L583.5,1052.6L582.3,1052.6L581.1,1052.5L579.8,1052.5L578.6,1052.5L577.4,1052.5L576.2,1052.5L575.0,1052.5L573.8,1052.5L572.6,1052.5L571.3,1052.5L570.1,1052.6L568.9,1052.6L567.7,1052.7L566.5,1052.8L565.3,1052.8L564.1,1052.9L562.8,1053.0L561.6,1053.1L560.4,1053.1L559.2,1053.2L558.0,1053.3L556.8,1053.3L555.6,1053.4L554.3,1053.4L553.1,1053.4L551.9,1053.4L550.7,1053.4L549.5,1053.3L548.3,1053.2L547.1,1053.2L545.8,1053.0L544.6,1052.9L543.4,1052.7L542.2,1052.5L541.8,1052.5L541.0,1052.3L539.8,1052.1L538.6,1051.8L537.3,1051.5L536.2,1051.2L536.1,1051.2L534.9,1050.9L533.7,1050.5L532.5,1050.0L532.4,1050.0L531.3,1049.6L530.1,1049.0L529.4,1048.7L528.8,1048.5L527.6,1047.8L527.0,1047.5L526.4,1047.2L525.2,1046.4L525.0,1046.3L524.0,1045.6L523.3,1045.0L522.8,1044.6L521.7,1043.8L521.6,1043.6L520.4,1042.5L520.3,1042.5L519.2,1041.3L519.1,1041.3L518.0,1040.0L517.9,1039.9L517.0,1038.8L516.7,1038.4L516.0,1037.6L515.5,1036.8L515.1,1036.3L514.3,1035.1L514.2,1035.1L513.4,1033.8L513.1,1033.3L512.6,1032.6L511.9,1031.4L511.8,1031.3L511.1,1030.1L510.6,1029.3L510.4,1028.9L509.7,1027.6L509.4,1027.1L509.0,1026.4L508.3,1025.2L508.2,1024.9L507.7,1023.9L507.0,1022.7L507.0,1022.5L506.4,1021.4L505.8,1020.2L505.8,1020.1L505.2,1018.9L504.7,1017.7L504.6,1017.5L504.1,1016.5L503.6,1015.2L503.3,1014.6L503.1,1014.0L502.6,1012.7L502.1,1011.6L502.1,1011.5L501.6,1010.3L501.1,1009.0L500.9,1008.4L500.7,1007.8L500.2,1006.5L499.7,1005.3L499.7,1005.2L499.3,1004.0L498.8,1002.8L498.5,1002.0L498.3,1001.6L497.8,1000.3L497.3,999.2L497.2,999.1L496.7,997.8L496.0,996.6L496.0,996.6L495.4,995.4L494.8,994.3L494.7,994.1L493.9,992.9L493.6,992.4L493.1,991.6L492.4,990.6L492.3,990.4L491.3,989.1L491.2,989.0L490.2,987.9L490.0,987.6L489.1,986.7L488.8,986.3L487.9,985.4L487.5,985.1L486.5,984.2L486.3,984.0L485.1,983.0L485.0,982.9Z" fill="#f8f9d1" stroke="#f8f9d1" stroke-width="0.3" fill-rule="evenodd"/>
<path d="M468.1,982.9L469.3,982.9L470.5,982.9L471.8,982.9L473.0,982.9L474.2,982.9L475.4,982.9L476.6,982.9L477.8,982.9L479.0,982.9L480.3,982.9L481.5,982.9L482.7,982.9L483.9,982.9L485.0,982.9L485.1,983.0L486.3,984.0L486.5,984.2L487.5,985.1L487.9,985.4L488.8,986.3L489.1,986.7L490.0,987.6L490.2,987.9L491.2,989.0L491.3,989.1L492.3,990.4L492.4,990.6L493.1,991.6L493.6,992.4L493.9,992.9L494.7,994.1L494.8,994.3L495.4,995.4L496.0,996.6L496.0,996.6L496.7,997.8L497.2,999.1L497.3,999.2L497.8,1000.3L498.3,1001.6L498.5,1002.0L498.8,1002.8L499.3,1004.0L499.7,1005.2L499.7,1005.3L500.2,1006.5L500.7,1007.8L500.9,1008.4L501.1,1009.0L501.6,1010.3L502.1,1011.5L502.1,1011.6L502.6,1012.7L503.1,1014.0L503.3,1014.6L503.6,1015.2L504.1,1016.5L504.6,1017.5L504.7,1017.7L505.2,1018.9L505.8,1020.1L505.8,1020.2L506.4,1021.4L507.0,1022.5L507.0,1022.7L507.7,1023.9L508.2,1024.9L508.3,1025.2L509.0,1026.4L509.4,1027.1L509.7,1027.6L510.4,1028.9L510.6,1029.3L511.1,1030.1L511.8,1031.3L511.9,1031.4L512.6,1032.6L513.1,1033.3L513.4,1033.8L514.2,1035.1L514.3,1035.1L515.1,1036.3L515.5,1036.8L516.0,1037.6L516.7,1038.4L517.0,1038.8L517.9,1039.9L518.0,1040.0L519.1,1041.3L519.2,1041.3L520.3,1042.5L520.4,1042.5L521.6,1043.6L521.7,1043.8L522.8,1044.6L523.3,1045.0L524.0,1045.6L525.0,1046.3L525.2,1046.4L526.4,1047.2L527.0,1047.5L527.6,1047.8L528.8,1048.5L529.4,1048.7L530.1,1049.0L531.3,1049.6L532.4,1050.0L532.5,1050.0L533.7,1050.5L534.9,1050.9L536.1,1051.2L536.2,1051.2L537.3,1051.5L538.6,1051.8L539.8,1052.1L541.0,1052.3L541.8,1052.5L542.2,1052.5L543.4,1052.7L544.6,1052.9L545.8,1053.0L547.1,1053.2L548.3,1053.2L549.5,1053.3L550.7,1053.4L551.9,1053.4L553.1,1053.4L554.3,1053.4L555.6,1053.4L556.8,1053.3L558.0,1053.3L559.2,1053.2L560.4,1053.1L561.6,1053.1L562.8,1053.0L564.1,1052.9L565.3,1052.8L566.5,1052.8L567.7,1052.7L568.9,1052.6L570.1,1052.6L571.3,1052.5L572.6,1052.5L573.8,1052.5L575.0,1052.5L576.2,1052.5L577.4,1052.5L578.6,1052.5L579.8,1052.5L581.1,1052.5L582.3,1052.6L583.5,1052.6L584.7,1052.7L585.9,1052.8L587.1,1052.8L588.3,1052.9L589.6,1053.0L590.8,1053.1L592.0,1053.1L593.2,1053.2L594.4,1053.3L595.6,1053.3L596.8,1053.4L598.1,1053.4L599.3,1053.4L600.5,1053.4L601.7,1053.4L602.9,1053.3L604.1,1053.2L605.3,1053.2L606.6,1053.0L607.8,1052.9L609.0,1052.7L610.2,1052.5L610.6,1052.5L611.4,1052.3L612.6,1052.1L613.8,1051.8L615.1,1051.5L616.2,1051.2L616.3,1051.2L617.5,1050.9L618.7,1050.5L619.9,1050.0L620.0,1050.0L621.1,1049.6L622.3,1049.0L623.0,1048.7L623.6,1048.5L624.8,1047.8L625.4,1047.5L626.0,1047.2L627.2,1046.4L627.4,1046.3L628.4,1045.6L629.1,1045.0L629.6,1044.6L630.7,1043.8L630.8,1043.6L632.0,1042.5L632.1,1042.5L633.2,1041.3L633.3,1041.3L634.4,1040.0L634.5,1039.9L635.4,1038.8L635.7,1038.4L636.4,1037.6L636.9,1036.8L637.3,1036.3L638.1,1035.1L638.2,1035.1L639.0,1033.8L639.3,1033.3L639.8,1032.6L640.5,1031.4L640.6,1031.3L641.3,1030.1L641.8,1029.3L642.0,1028.9L642.7,1027.6L643.0,1027.1L643.4,1026.4L644.1,1025.2L644.2,1024.9L644.7,1023.9L645.4,1022.7L645.4,1022.5L646.0,1021.4L646.6,1020.2L646.6,1020.1L647.2,1018.9L647.7,1017.7L647.8,1017.5L648.3,1016.5L648.8,1015.2L649.1,1014.6L649.3,1014.0L649.8,1012.7L650.3,1011.6L650.3,1011.5L650.8,1010.3L651.3,1009.0L651.5,1008.4L651.7,1007.8L652.2,1006.5L652.7,1005.3L652.7,1005.2L653.1,1004.0L653.6,1002.8L653.9,1002.0L654.1,1001.6L654.6,1000.3L655.1,999.2L655.2,999.1L655.7,997.8L656.4,996.6L656.4,996.6L657.0,995.4L657.6,994.3L657.7,994.1L658.5,992.9L658.8,992.4L659.3,991.6L660.0,990.6L660.1,990.4L661.1,989.1L661.2,989.0L662.2,987.9L662.4,987.6L663.3,986.7L663.6,986.3L664.5,985.4L664.9,985.1L665.9,984.2L666.1,984.0L667.3,983.0L667.4,982.9L668.5,982.9L669.7,982.9L670.9,982.9L672.1,982.9L673.4,982.9L674.6,982.9L675.8,982.9L677.0,982.9L678.2,982.9L679.4,982.9L680.6,982.9L681.9,982.9L683.1,982.9L684.3,982.9L684.4,982.9L684.3,983.0L683.1,983.5L681.9,984.0L681.5,984.2L680.6,984.5L679.4,985.0L678.4,985.4L678.2,985.5L677.0,986.0L675.8,986.6L675.6,986.7L674.6,987.2L673.4,987.9L673.4,987.9L672.1,988.7L671.5,989.1L670.9,989.5L669.8,990.4L669.7,990.5L668.5,991.5L668.4,991.6L667.3,992.7L667.1,992.9L666.1,994.0L666.0,994.1L665.0,995.4L664.9,995.6L664.1,996.6L663.6,997.4L663.4,997.8L662.6,999.1L662.4,999.5L662.0,1000.3L661.4,1001.6L661.2,1002.0L660.9,1002.8L660.4,1004.0L660.0,1004.9L659.9,1005.3L659.4,1006.5L658.9,1007.8L658.8,1008.2L658.5,1009.0L658.0,1010.3L657.6,1011.5L657.6,1011.6L657.2,1012.7L656.7,1014.0L656.4,1015.0L656.3,1015.2L655.8,1016.5L655.4,1017.7L655.1,1018.3L654.9,1018.9L654.4,1020.2L653.9,1021.2L653.8,1021.4L653.3,1022.7L652.7,1023.9L652.7,1023.9L652.1,1025.2L651.5,1026.4L651.5,1026.4L650.9,1027.6L650.3,1028.9L650.3,1028.9L649.7,1030.1L649.1,1031.4L649.1,1031.4L648.5,1032.6L647.9,1033.8L647.8,1033.9L647.3,1035.1L646.6,1036.3L646.6,1036.3L646.0,1037.6L645.4,1038.6L645.3,1038.8L644.6,1040.0L644.2,1040.8L643.9,1041.3L643.1,1042.5L643.0,1042.7L642.3,1043.8L641.8,1044.5L641.4,1045.0L640.6,1046.2L640.5,1046.3L639.4,1047.5L639.3,1047.6L638.3,1048.7L638.1,1048.9L637.0,1050.0L636.9,1050.1L635.7,1051.2L635.6,1051.2L634.5,1052.1L634.0,1052.5L633.3,1053.0L632.1,1053.7L632.1,1053.7L630.8,1054.4L629.7,1054.9L629.6,1055.0L628.4,1055.5L627.2,1056.0L626.7,1056.2L626.0,1056.4L624.8,1056.8L623.6,1057.2L622.6,1057.4L622.3,1057.5L621.1,1057.8L619.9,1058.0L618.7,1058.3L617.5,1058.5L616.3,1058.6L616.0,1058.7L615.1,1058.8L613.8,1058.9L612.6,1059.1L611.4,1059.2L610.2,1059.3L609.0,1059.3L607.8,1059.4L606.6,1059.4L605.3,1059.5L604.1,1059.5L602.9,1059.4L601.7,1059.4L600.5,1059.3L599.3,1059.3L598.1,1059.2L596.8,1059.0L595.6,1058.9L594.4,1058.7L594.3,1058.7L593.2,1058.5L592.0,1058.3L590.8,1058.2L589.6,1058.0L588.3,1057.8L587.1,1057.6L585.9,1057.5L585.4,1057.4L584.7,1057.4L583.5,1057.3L582.3,1057.2L581.1,1057.1L579.8,1057.0L578.6,1057.0L577.4,1057.0L576.2,1057.0L575.0,1057.0L573.8,1057.0L572.6,1057.0L571.3,1057.1L570.1,1057.2L568.9,1057.3L567.7,1057.4L567.0,1057.4L566.5,1057.5L565.3,1057.6L564.1,1057.8L562.8,1058.0L561.6,1058.2L560.4,1058.3L559.2,1058.5L558.1,1058.7L558.0,1058.7L556.8,1058.9L555.6,1059.0L554.3,1059.2L553.1,1059.3L551.9,1059.3L550.7,1059.4L549.5,1059.4L548.3,1059.5L547.1,1059.5L545.8,1059.4L544.6,1059.4L543.4,1059.3L542.2,1059.3L541.0,1059.2L539.8,1059.1L538.6,1058.9L537.3,1058.8L536.4,1058.7L536.1,1058.6L534.9,1058.5L533.7,1058.3L532.5,1058.0L531.3,1057.8L530.1,1057.5L529.8,1057.4L528.8,1057.2L527.6,1056.8L526.4,1056.4L525.7,1056.2L525.2,1056.0L524.0,1055.5L522.8,1055.0L522.7,1054.9L521.6,1054.4L520.3,1053.7L520.3,1053.7L519.1,1053.0L518.4,1052.5L517.9,1052.1L516.8,1051.2L516.7,1051.2L515.5,1050.1L515.4,1050.0L514.3,1048.9L514.1,1048.7L513.1,1047.6L513.0,1047.5L511.9,1046.3L511.8,1046.2L511.0,1045.0L510.6,1044.5L510.1,1043.8L509.4,1042.7L509.3,1042.5L508.5,1041.3L508.2,1040.8L507.8,1040.0L507.1,1038.8L507.0,1038.6L506.4,1037.6L505.8,1036.3L505.8,1036.3L505.1,1035.1L504.6,1033.9L504.5,1033.8L503.9,1032.6L503.3,1031.4L503.3,1031.4L502.7,1030.1L502.1,1028.9L502.1,1028.9L501.5,1027.6L500.9,1026.4L500.9,1026.4L500.3,1025.2L499.7,1023.9L499.7,1023.9L499.1,1022.7L498.6,1021.4L498.5,1021.2L498.0,1020.2L497.5,1018.9L497.3,1018.3L497.0,1017.7L496.6,1016.5L496.1,1015.2L496.0,1015.0L495.7,1014.0L495.2,1012.7L494.8,1011.6L494.8,1011.5L494.4,1010.3L493.9,1009.0L493.6,1008.2L493.5,1007.8L493.0,1006.5L492.5,1005.3L492.4,1004.9L492.0,1004.0L491.5,1002.8L491.2,1002.0L491.0,1001.6L490.4,1000.3L490.0,999.5L489.8,999.1L489.0,997.8L488.8,997.4L488.3,996.6L487.5,995.6L487.4,995.4L486.4,994.1L486.3,994.0L485.3,992.9L485.1,992.7L484.0,991.6L483.9,991.5L482.7,990.5L482.6,990.4L481.5,989.5L480.9,989.1L480.3,988.7L479.0,987.9L479.0,987.9L477.8,987.2L476.8,986.7L476.6,986.6L475.4,986.0L474.2,985.5L474.0,985.4L473.0,985.0L471.8,984.5L470.9,984.2L470.5,984.0L469.3,983.5L468.1,983.0L468.0,982.9Z" fill="#fdf9c4" stroke="#fdf9c4" stroke-width="0.3" fill-rule="evenodd"/>
<path d="M468.1,983.0L469.3,983.5L470.5,984.0L470.9,984.2L471.8,984.5L473.0,985.0L474.0,985.4L474.2,985.5L475.4,986.0L476.6,986.6L476.8,986.7L477.8,987.2L479.0,987.9L479.0,987.9L480.3,988.7L480.9,989.1L481.5,989.5L482.6,990.4L482.7,990.5L483.9,991.5L484.0,991.6L485.1,992.7L485.3,992.9L486.3,994.0L486.4,994.1L487.4,995.4L487.5,995.6L488.3,996.6L488.8,997.4L489.0,997.8L489.8,999.1L490.0,999.5L490.4,1000.3L491.0,1001.6L491.2,1002.0L491.5,1002.8L492.0,1004.0L492.4,1004.9L492.5,1005.3L493.0,1006.5L493.5,1007.8L493.6,1008.2L493.9,1009.0L494.4,1010.3L494.8,1011.5L494.8,1011.6L495.2,1012.7L495.7,1014.0L496.0,1015.0L496.1,1015.2L496.6,1016.5L497.0,1017.7L497.3,1018.3L497.5,1018.9L498.0,1020.2L498.5,1021.2L498.6,1021.4L499.1,1022.7L499.7,1023.9L499.7,1023.9L500.3,1025.2L500.9,1026.4L500.9,1026.4L501.5,1027.6L502.1,1028.9L502.1,1028.9L502.7,1030.1L503.3,1031.4L503.3,1031.4L503.9,1032.6L504.5,1033.8L504.6,1033.9L505.1,1035.1L505.8,1036.3L505.8,1036.3L506.4,1037.6L507.0,1038.6L507.1,1038.8L507.8,1040.0L508.2,1040.8L508.5,1041.3L509.3,1042.5L509.4,1042.7L510.1,1043.8L510.6,1044.5L511.0,1045.0L511.8,1046.2L511.9,1046.3L513.0,1047.5L513.1,1047.6L514.1,1048.7L514.3,1048.9L515.4,1050.0L515.5,1050.1L516.7,1051.2L516.8,1051.2L517.9,1052.1L518.4,1052.5L519.1,1053.0L520.3,1053.7L520.3,1053.7L521.6,1054.4L522.7,1054.9L522.8,1055.0L524.0,1055.5L525.2,1056.0L525.7,1056.2L526.4,1056.4L527.6,1056.8L528.8,1057.2L529.8,1057.4L530.1,1057.5L531.3,1057.8L532.5,1058.0L533.7,1058.3L534.9,1058.5L536.1,1058.6L536.4,1058.7L537.3,1058.8L538.6,1058.9L539.8,1059.1L541.0,1059.2L542.2,1059.3L543.4,1059.3L544.6,1059.4L545.8,1059.4L547.1,1059.5L548.3,1059.5L549.5,1059.4L550.7,1059.4L551.9,1059.3L553.1,1059.3L554.3,1059.2L555.6,1059.0L556.8,1058.9L558.0,1058.7L558.1,1058.7L559.2,1058.5L560.4,1058.3L561.6,1058.2L562.8,1058.0L564.1,1057.8L565.3,1057.6L566.5,1057.5L567.0,1057.4L567.7,1057.4L568.9,1057.3L570.1,1057.2L571.3,1057.1L572.6,1057.0L573.8,1057.0L575.0,1057.0L576.2,1057.0L577.4,1057.0L578.6,1057.0L579.8,1057.0L581.1,1057.1L582.3,1057.2L583.5,1057.3L584.7,1057.4L585.4,1057.4L585.9,1057.5L587.1,1057.6L588.3,1057.8L589.6,1058.0L590.8,1058.2L592.0,1058.3L593.2,1058.5L594.3,1058.7L594.4,1058.7L595.6,1058.9L596.8,1059.0L598.1,1059.2L599.3,1059.3L600.5,1059.3L601.7,1059.4L602.9,1059.4L604.1,1059.5L605.3,1059.5L606.6,1059.4L607.8,1059.4L609.0,1059.3L610.2,1059.3L611.4,1059.2L612.6,1059.1L613.8,1058.9L615.1,1058.8L616.0,1058.7L616.3,1058.6L617.5,1058.5L618.7,1058.3L619.9,1058.0L621.1,1057.8L622.3,1057.5L622.6,1057.4L623.6,1057.2L624.8,1056.8L626.0,1056.4L626.7,1056.2L627.2,1056.0L628.4,1055.5L629.6,1055.0L629.7,1054.9L630.8,1054.4L632.1,1053.7L632.1,1053.7L633.3,1053.0L634.0,1052.5L634.5,1052.1L635.6,1051.2L635.7,1051.2L636.9,1050.1L637.0,1050.0L638.1,1048.9L638.3,1048.7L639.3,1047.6L639.4,1047.5L640.5,1046.3L640.6,1046.2L641.4,1045.0L641.8,1044.5L642.3,1043.8L643.0,1042.7L643.1,1042.5L643.9,1041.3L644.2,1040.8L644.6,1040.0L645.3,1038.8L645.4,1038.6L646.0,1037.6L646.6,1036.3L646.6,1036.3L647.3,1035.1L647.8,1033.9L647.9,1033.8L648.5,1032.6L649.1,1031.4L649.1,1031.4L649.7,1030.1L650.3,1028.9L650.3,1028.9L650.9,1027.6L651.5,1026.4L651.5,1026.4L652.1,1025.2L652.7,1023.9L652.7,1023.9L653.3,1022.7L653.8,1021.4L653.9,1021.2L654.4,1020.2L654.9,1018.9L655.1,1018.3L655.4,1017.7L655.8,1016.5L656.3,1015.2L656.4,1015.0L656.7,1014.0L657.2,1012.7L657.6,1011.6L657.6,1011.5L658.0,1010.3L658.5,1009.0L658.8,1008.2L658.9,1007.8L659.4,1006.5L659.9,1005.3L660.0,1004.9L660.4,1004.0L660.9,1002.8L661.2,1002.0L661.4,1001.6L662.0,1000.3L662.4,999.5L662.6,999.1L663.4,997.8L663.6,997.4L664.1,996.6L664.9,995.6L665.0,995.4L666.0,994.1L666.1,994.0L667.1,992.9L667.3,992.7L668.4,991.6L668.5,991.5L669.7,990.5L669.8,990.4L670.9,989.5L671.5,989.1L672.1,988.7L673.4,987.9L673.4,987.9L674.6,987.2L675.6,986.7L675.8,986.6L677.0,986.0L678.2,985.5L678.4,985.4L679.4,985.0L680.6,984.5L681.5,984.2L681.9,984.0L683.1,983.5L684.3,983.0L684.4,982.9L685.5,982.9L685.5,984.2L685.5,985.4L685.5,986.7L685.5,987.9L685.5,989.1L685.5,990.4L685.5,991.0L684.3,991.3L683.3,991.6L683.1,991.7L681.9,992.2L680.6,992.7L680.3,992.9L679.4,993.3L678.2,993.9L677.9,994.1L677.0,994.6L675.8,995.3L675.8,995.4L674.6,996.2L674.0,996.6L673.4,997.1L672.5,997.8L672.1,998.1L671.2,999.1L670.9,999.4L670.2,1000.3L669.7,1001.0L669.3,1001.6L668.6,1002.8L668.5,1002.9L667.9,1004.0L667.3,1005.3L667.3,1005.3L666.7,1006.5L666.2,1007.8L666.1,1008.1L665.7,1009.0L665.2,1010.3L664.9,1011.3L664.8,1011.5L664.3,1012.7L663.8,1014.0L663.6,1014.6L663.4,1015.2L663.0,1016.5L662.6,1017.7L662.4,1018.4L662.3,1018.9L661.9,1020.2L661.5,1021.4L661.2,1022.2L661.0,1022.7L660.5,1023.9L660.0,1024.8L659.8,1025.2L659.2,1026.4L658.8,1027.2L658.6,1027.6L657.9,1028.9L657.6,1029.7L657.4,1030.1L656.8,1031.4L656.4,1032.5L656.3,1032.6L655.8,1033.8L655.3,1035.1L655.1,1035.6L654.8,1036.3L654.4,1037.6L653.9,1038.7L653.9,1038.8L653.3,1040.0L652.8,1041.3L652.7,1041.4L652.2,1042.5L651.6,1043.8L651.5,1044.0L651.0,1045.0L650.4,1046.3L650.3,1046.4L649.7,1047.5L649.1,1048.6L649.0,1048.7L648.2,1050.0L647.8,1050.5L647.3,1051.2L646.6,1052.0L646.3,1052.5L645.4,1053.4L645.2,1053.7L644.2,1054.7L644.0,1054.9L643.0,1055.9L642.7,1056.2L641.8,1057.0L641.3,1057.4L640.6,1058.1L639.8,1058.7L639.3,1059.0L638.2,1059.9L638.1,1059.9L636.9,1060.6L635.9,1061.2L635.7,1061.3L634.5,1061.8L633.3,1062.4L633.2,1062.4L632.1,1062.9L630.8,1063.3L629.8,1063.6L629.6,1063.7L628.4,1064.1L627.2,1064.4L626.0,1064.7L625.2,1064.9L624.8,1065.0L623.6,1065.2L622.3,1065.4L621.1,1065.5L619.9,1065.6L618.7,1065.7L617.5,1065.8L616.3,1065.9L615.1,1065.9L613.8,1066.0L612.6,1066.0L611.4,1066.1L610.2,1066.1L610.2,1066.1L609.0,1066.2L607.8,1066.2L606.6,1066.2L605.3,1066.3L604.1,1066.3L602.9,1066.3L601.7,1066.2L600.5,1066.2L599.9,1066.1L599.3,1066.1L598.1,1065.9L596.8,1065.8L595.6,1065.5L594.4,1065.3L593.2,1065.0L592.6,1064.9L592.0,1064.7L590.8,1064.4L589.6,1064.1L588.3,1063.8L587.8,1063.6L587.1,1063.5L585.9,1063.2L584.7,1063.0L583.5,1062.9L582.3,1062.7L581.1,1062.6L579.8,1062.5L578.6,1062.5L577.4,1062.4L576.2,1062.4L576.2,1062.4L576.2,1062.4L575.0,1062.4L573.8,1062.5L572.6,1062.5L571.3,1062.6L570.1,1062.7L568.9,1062.9L567.7,1063.0L566.5,1063.2L565.3,1063.5L564.6,1063.6L564.1,1063.8L562.8,1064.1L561.6,1064.4L560.4,1064.7L559.8,1064.9L559.2,1065.0L558.0,1065.3L556.8,1065.5L555.6,1065.8L554.3,1065.9L553.1,1066.1L552.5,1066.1L551.9,1066.2L550.7,1066.2L549.5,1066.3L548.3,1066.3L547.1,1066.3L545.8,1066.2L544.6,1066.2L543.4,1066.2L542.2,1066.1L542.2,1066.1L541.0,1066.1L539.8,1066.0L538.6,1066.0L537.3,1065.9L536.1,1065.9L534.9,1065.8L533.7,1065.7L532.5,1065.6L531.3,1065.5L530.1,1065.4L528.8,1065.2L527.6,1065.0L527.2,1064.9L526.4,1064.7L525.2,1064.4L524.0,1064.1L522.8,1063.7L522.6,1063.6L521.6,1063.3L520.3,1062.9L519.2,1062.4L519.1,1062.4L517.9,1061.8L516.7,1061.3L516.5,1061.2L515.5,1060.6L514.3,1059.9L514.2,1059.9L513.1,1059.0L512.6,1058.7L511.8,1058.1L511.1,1057.4L510.6,1057.0L509.7,1056.2L509.4,1055.9L508.4,1054.9L508.2,1054.7L507.2,1053.7L507.0,1053.4L506.1,1052.5L505.8,1052.0L505.1,1051.2L504.6,1050.5L504.2,1050.0L503.4,1048.7L503.3,1048.6L502.7,1047.5L502.1,1046.4L502.0,1046.3L501.4,1045.0L500.9,1044.0L500.8,1043.8L500.2,1042.5L499.7,1041.4L499.6,1041.3L499.1,1040.0L498.5,1038.8L498.5,1038.7L498.0,1037.6L497.6,1036.3L497.3,1035.6L497.1,1035.1L496.6,1033.8L496.1,1032.6L496.0,1032.5L495.6,1031.4L495.0,1030.1L494.8,1029.7L494.5,1028.9L493.8,1027.6L493.6,1027.2L493.2,1026.4L492.6,1025.2L492.4,1024.8L491.9,1023.9L491.4,1022.7L491.2,1022.2L490.9,1021.4L490.5,1020.2L490.1,1018.9L490.0,1018.4L489.8,1017.7L489.4,1016.5L489.0,1015.2L488.8,1014.6L488.6,1014.0L488.1,1012.7L487.6,1011.5L487.5,1011.3L487.2,1010.3L486.7,1009.0L486.3,1008.1L486.2,1007.8L485.7,1006.5L485.1,1005.3L485.1,1005.3L484.5,1004.0L483.9,1002.9L483.8,1002.8L483.1,1001.6L482.7,1001.0L482.2,1000.3L481.5,999.4L481.2,999.1L480.3,998.1L479.9,997.8L479.0,997.1L478.4,996.6L477.8,996.2L476.6,995.4L476.6,995.3L475.4,994.6L474.5,994.1L474.2,993.9L473.0,993.3L472.1,992.9L471.8,992.7L470.5,992.2L469.3,991.7L469.1,991.6L468.1,991.3L466.9,991.0L466.9,990.4L466.9,989.1L466.9,987.9L466.9,986.7L466.9,985.4L466.9,984.2L466.9,982.9L468.0,982.9Z" fill="#fef4b6" stroke="#fef4b6" stroke-width="0.3" fill-rule="evenodd"/>
<path d="M468.1,991.3L469.1,991.6L469.3,991.7L470.5,992.2L471.8,992.7L472.1,992.9L473.0,993.3L474.2,993.9L474.5,994.1L475.4,994.6L476.6,995.3L476.6,995.4L477.8,996.2L478.4,996.6L479.0,997.1L479.9,997.8L480.3,998.1L481.2,999.1L481.5,999.4L482.2,1000.3L482.7,1001.0L483.1,1001.6L483.8,1002.8L483.9,1002.9L484.5,1004.0L485.1,1005.3L485.1,1005.3L485.7,1006.5L486.2,1007.8L486.3,1008.1L486.7,1009.0L487.2,1010.3L487.5,1011.3L487.6,1011.5L488.1,1012.7L488.6,1014.0L488.8,1014.6L489.0,1015.2L489.4,1016.5L489.8,1017.7L490.0,1018.4L490.1,1018.9L490.5,1020.2L490.9,1021.4L491.2,1022.2L491.4,1022.7L491.9,1023.9L492.4,1024.8L492.6,1025.2L493.2,1026.4L493.6,1027.2L493.8,1027.6L494.5,1028.9L494.8,1029.7L495.0,1030.1L495.6,1031.4L496.0,1032.5L496.1,1032.6L496.6,1033.8L497.1,1035.1L497.3,1035.6L497.6,1036.3L498.0,1037.6L498.5,1038.7L498.5,1038.8L499.1,1040.0L499.6,1041.3L499.7,1041.4L500.2,1042.5L500.8,1043.8L500.9,1044.0L501.4,1045.0L502.0,1046.3L502.1,1046.4L502.7,1047.5L503.3,1048.6L503.4,1048.7L504.2,1050.0L504.6,1050.5L505.1,1051.2L505.8,1052.0L506.1,1052.5L507.0,1053.4L507.2,1053.7L508.2,1054.7L508.4,1054.9L509.4,1055.9L509.7,1056.2L510.6,1057.0L511.1,1057.4L511.8,1058.1L512.6,1058.7L513.1,1059.0L514.2,1059.9L514.3,1059.9L515.5,1060.6L516.5,1061.2L516.7,1061.3L517.9,1061.8L519.1,1062.4L519.2,1062.4L520.3,1062.9L521.6,1063.3L522.6,1063.6L522.8,1063.7L524.0,1064.1L525.2,1064.4L526.4,1064.7L527.2,1064.9L527.6,1065.0L528.8,1065.2L530.1,1065.4L531.3,1065.5L532.5,1065.6L533.7,1065.7L534.9,1065.8L536.1,1065.9L537.3,1065.9L538.6,1066.0L539.8,1066.0L541.0,1066.1L542.2,1066.1L542.2,1066.1L543.4,1066.2L544.6,1066.2L545.8,1066.2L547.1,1066.3L548.3,1066.3L549.5,1066.3L550.7,1066.2L551.9,1066.2L552.5,1066.1L553.1,1066.1L554.3,1065.9L555.6,1065.8L556.8,1065.5L558.0,1065.3L559.2,1065.0L559.8,1064.9L560.4,1064.7L561.6,1064.4L562.8,1064.1L564.1,1063.8L564.6,1063.6L565.3,1063.5L566.5,1063.2L567.7,1063.0L568.9,1062.9L570.1,1062.7L571.3,1062.6L572.6,1062.5L573.8,1062.5L575.0,1062.4L576.2,1062.4L576.2,1062.4L576.2,1062.4L577.4,1062.4L578.6,1062.5L579.8,1062.5L581.1,1062.6L582.3,1062.7L583.5,1062.9L584.7,1063.0L585.9,1063.2L587.1,1063.5L587.8,1063.6L588.3,1063.8L589.6,1064.1L590.8,1064.4L592.0,1064.7L592.6,1064.9L593.2,1065.0L594.4,1065.3L595.6,1065.5L596.8,1065.8L598.1,1065.9L599.3,1066.1L599.9,1066.1L600.5,1066.2L601.7,1066.2L602.9,1066.3L604.1,1066.3L605.3,1066.3L606.6,1066.2L607.8,1066.2L609.0,1066.2L610.2,1066.1L610.2,1066.1L611.4,1066.1L612.6,1066.0L613.8,1066.0L615.1,1065.9L616.3,1065.9L617.5,1065.8L618.7,1065.7L619.9,1065.6L621.1,1065.5L622.3,1065.4L623.6,1065.2L624.8,1065.0L625.2,1064.9L626.0,1064.7L627.2,1064.4L628.4,1064.1L629.6,1063.7L629.8,1063.6L630.8,1063.3L632.1,1062.9L633.2,1062.4L633.3,1062.4L634.5,1061.8L635.7,1061.3L635.9,1061.2L636.9,1060.6L638.1,1059.9L638.2,1059.9L639.3,1059.0L639.8,1058.7L640.6,1058.1L641.3,1057.4L641.8,1057.0L642.7,1056.2L643.0,1055.9L644.0,1054.9L644.2,1054.7L645.2,1053.7L645.4,1053.4L646.3,1052.5L646.6,1052.0L647.3,1051.2L647.8,1050.5L648.2,1050.0L649.0,1048.7L649.1,1048.6L649.7,1047.5L650.3,1046.4L650.4,1046.3L651.0,1045.0L651.5,1044.0L651.6,1043.8L652.2,1042.5L652.7,1041.4L652.8,1041.3L653.3,1040.0L653.9,1038.8L653.9,1038.7L654.4,1037.6L654.8,1036.3L655.1,1035.6L655.3,1035.1L655.8,1033.8L656.3,1032.6L656.4,1032.5L656.8,1031.4L657.4,1030.1L657.6,1029.7L657.9,1028.9L658.6,1027.6L658.8,1027.2L659.2,1026.4L659.8,1025.2L660.0,1024.8L660.5,1023.9L661.0,1022.7L661.2,1022.2L661.5,1021.4L661.9,1020.2L662.3,1018.9L662.4,1018.4L662.6,1017.7L663.0,1016.5L663.4,1015.2L663.6,1014.6L663.8,1014.0L664.3,1012.7L664.8,1011.5L664.9,1011.3L665.2,1010.3L665.7,1009.0L666.1,1008.1L666.2,1007.8L666.7,1006.5L667.3,1005.3L667.3,1005.3L667.9,1004.0L668.5,1002.9L668.6,1002.8L669.3,1001.6L669.7,1001.0L670.2,1000.3L670.9,999.4L671.2,999.1L672.1,998.1L672.5,997.8L673.4,997.1L674.0,996.6L674.6,996.2L675.8,995.4L675.8,995.3L677.0,994.6L677.9,994.1L678.2,993.9L679.4,993.3L680.3,992.9L680.6,992.7L681.9,992.2L683.1,991.7L683.3,991.6L684.3,991.3L685.5,991.0L685.5,991.6L685.5,992.9L685.5,994.1L685.5,995.4L685.5,996.6L685.5,997.8L685.5,999.1L685.5,1000.3L685.5,1001.6L685.5,1001.8L684.3,1002.3L683.1,1002.8L683.1,1002.8L681.9,1003.4L680.6,1004.0L680.5,1004.0L679.4,1004.7L678.5,1005.3L678.2,1005.5L677.0,1006.4L676.9,1006.5L675.8,1007.5L675.5,1007.8L674.6,1008.8L674.4,1009.0L673.4,1010.3L673.4,1010.3L672.5,1011.5L672.1,1012.1L671.7,1012.7L671.1,1014.0L670.9,1014.5L670.7,1015.2L670.4,1016.5L670.0,1017.7L669.7,1018.9L669.7,1018.9L669.4,1020.2L669.0,1021.4L668.7,1022.7L668.5,1023.1L668.2,1023.9L667.8,1025.2L667.3,1026.2L667.2,1026.4L666.6,1027.6L666.1,1028.7L666.0,1028.9L665.4,1030.1L664.9,1031.1L664.7,1031.4L664.1,1032.6L663.7,1033.8L663.6,1034.0L663.3,1035.1L663.0,1036.3L662.6,1037.6L662.4,1038.4L662.3,1038.8L662.0,1040.0L661.6,1041.3L661.2,1042.4L661.2,1042.5L660.7,1043.8L660.2,1045.0L660.0,1045.6L659.7,1046.3L659.1,1047.5L658.8,1048.2L658.5,1048.7L657.9,1050.0L657.6,1050.5L657.2,1051.2L656.5,1052.5L656.4,1052.7L655.8,1053.7L655.1,1054.8L655.0,1054.9L654.2,1056.2L653.9,1056.6L653.3,1057.4L652.7,1058.1L652.2,1058.7L651.5,1059.4L651.0,1059.9L650.3,1060.6L649.6,1061.2L649.1,1061.6L648.0,1062.4L647.8,1062.5L646.6,1063.3L646.2,1063.6L645.4,1064.1L644.2,1064.8L644.1,1064.9L643.0,1065.6L642.1,1066.1L641.8,1066.3L640.6,1067.1L640.2,1067.4L639.3,1067.9L638.1,1068.6L638.1,1068.6L636.9,1069.2L635.7,1069.8L635.6,1069.8L634.5,1070.3L633.3,1070.8L632.3,1071.1L632.1,1071.2L630.8,1071.5L629.6,1071.9L628.4,1072.1L627.3,1072.3L627.2,1072.4L626.0,1072.5L624.8,1072.7L623.6,1072.8L622.3,1072.9L621.1,1072.9L619.9,1073.0L618.7,1073.0L617.5,1073.0L616.3,1073.0L615.1,1073.0L613.8,1073.0L612.6,1073.1L611.4,1073.1L610.2,1073.2L609.0,1073.2L607.8,1073.3L606.6,1073.4L605.3,1073.5L604.8,1073.6L604.1,1073.6L602.9,1073.7L601.7,1073.8L600.5,1073.9L599.3,1074.0L598.1,1074.0L596.8,1074.0L595.6,1074.0L594.4,1073.9L593.2,1073.8L592.0,1073.6L592.0,1073.6L590.8,1073.3L589.6,1073.1L588.3,1072.8L587.1,1072.6L585.9,1072.3L585.9,1072.3L584.7,1072.1L583.5,1071.9L582.3,1071.7L581.1,1071.5L579.8,1071.4L578.6,1071.3L577.4,1071.2L576.2,1071.2L575.0,1071.2L573.8,1071.3L572.6,1071.4L571.3,1071.5L570.1,1071.7L568.9,1071.9L567.7,1072.1L566.5,1072.3L566.5,1072.3L565.3,1072.6L564.1,1072.8L562.8,1073.1L561.6,1073.3L560.4,1073.6L560.4,1073.6L559.2,1073.8L558.0,1073.9L556.8,1074.0L555.6,1074.0L554.3,1074.0L553.1,1074.0L551.9,1073.9L550.7,1073.8L549.5,1073.7L548.3,1073.6L547.6,1073.6L547.1,1073.5L545.8,1073.4L544.6,1073.3L543.4,1073.2L542.2,1073.2L541.0,1073.1L539.8,1073.1L538.6,1073.0L537.3,1073.0L536.1,1073.0L534.9,1073.0L533.7,1073.0L532.5,1073.0L531.3,1072.9L530.1,1072.9L528.8,1072.8L527.6,1072.7L526.4,1072.5L525.2,1072.4L525.1,1072.3L524.0,1072.1L522.8,1071.9L521.6,1071.5L520.3,1071.2L520.1,1071.1L519.1,1070.8L517.9,1070.3L516.8,1069.8L516.7,1069.8L515.5,1069.2L514.3,1068.6L514.3,1068.6L513.1,1067.9L512.2,1067.4L511.8,1067.1L510.6,1066.3L510.3,1066.1L509.4,1065.6L508.3,1064.9L508.2,1064.8L507.0,1064.1L506.2,1063.6L505.8,1063.3L504.6,1062.5L504.4,1062.4L503.3,1061.6L502.8,1061.2L502.1,1060.6L501.4,1059.9L500.9,1059.4L500.2,1058.7L499.7,1058.1L499.1,1057.4L498.5,1056.6L498.2,1056.2L497.4,1054.9L497.3,1054.8L496.6,1053.7L496.0,1052.7L495.9,1052.5L495.2,1051.2L494.8,1050.5L494.5,1050.0L493.9,1048.7L493.6,1048.2L493.3,1047.5L492.7,1046.3L492.4,1045.6L492.2,1045.0L491.7,1043.8L491.2,1042.5L491.2,1042.4L490.8,1041.3L490.4,1040.0L490.1,1038.8L490.0,1038.4L489.8,1037.6L489.4,1036.3L489.1,1035.1L488.8,1034.0L488.7,1033.8L488.3,1032.6L487.7,1031.4L487.5,1031.1L487.0,1030.1L486.4,1028.9L486.3,1028.7L485.8,1027.6L485.2,1026.4L485.1,1026.2L484.6,1025.2L484.2,1023.9L483.9,1023.1L483.7,1022.7L483.4,1021.4L483.0,1020.2L482.7,1018.9L482.7,1018.9L482.4,1017.7L482.0,1016.5L481.7,1015.2L481.5,1014.5L481.3,1014.0L480.7,1012.7L480.3,1012.1L479.9,1011.5L479.0,1010.3L479.0,1010.3L478.0,1009.0L477.8,1008.8L476.9,1007.8L476.6,1007.5L475.5,1006.5L475.4,1006.4L474.2,1005.5L473.9,1005.3L473.0,1004.7L471.9,1004.0L471.8,1004.0L470.5,1003.4L469.3,1002.8L469.3,1002.8L468.1,1002.3L466.9,1001.8L466.9,1001.6L466.9,1000.3L466.9,999.1L466.9,997.8L466.9,996.6L466.9,995.4L466.9,994.1L466.9,992.9L466.9,991.6L466.9,991.0Z" fill="#fcecaa" stroke="#fcecaa" stroke-width="0.3" fill-rule="evenodd"/>
<path d="M468.1,1002.3L469.3,1002.8L469.3,1002.8L470.5,1003.4L471.8,1004.0L471.9,1004.0L473.0,1004.7L473.9,1005.3L474.2,1005.5L475.4,1006.4L475.5,1006.5L476.6,1007.5L476.9,1007.8L477.8,1008.8L478.0,1009.0L479.0,1010.3L479.0,1010.3L479.9,1011.5L480.3,1012.1L480.7,1012.7L481.3,1014.0L481.5,1014.5L481.7,1015.2L482.0,1016.5L482.4,1017.7L482.7,1018.9L482.7,1018.9L483.0,1020.2L483.4,1021.4L483.7,1022.7L483.9,1023.1L484.2,1023.9L484.6,1025.2L485.1,1026.2L485.2,1026.4L485.8,1027.6L486.3,1028.7L486.4,1028.9L487.0,1030.1L487.5,1031.1L487.7,1031.4L488.3,1032.6L488.7,1033.8L488.8,1034.0L489.1,1035.1L489.4,1036.3L489.8,1037.6L490.0,1038.4L490.1,1038.8L490.4,1040.0L490.8,1041.3L491.2,1042.4L491.2,1042.5L491.7,1043.8L492.2,1045.0L492.4,1045.6L492.7,1046.3L493.3,1047.5L493.6,1048.2L493.9,1048.7L494.5,1050.0L494.8,1050.5L495.2,1051.2L495.9,1052.5L496.0,1052.7L496.6,1053.7L497.3,1054.8L497.4,1054.9L498.2,1056.2L498.5,1056.6L499.1,1057.4L499.7,1058.1L500.2,1058.7L500.9,1059.4L501.4,1059.9L502.1,1060.6L502.8,1061.2L503.3,1061.6L504.4,1062.4L504.6,1062.5L505.8,1063.3L506.2,1063.6L507.0,1064.1L508.2,1064.8L508.3,1064.9L509.4,1065.6L510.3,1066.1L510.6,1066.3L511.8,1067.1L512.2,1067.4L513.1,1067.9L514.3,1068.6L514.3,1068.6L515.5,1069.2L516.7,1069.8L516.8,1069.8L517.9,1070.3L519.1,1070.8L520.1,1071.1L520.3,1071.2L521.6,1071.5L522.8,1071.9L524.0,1072.1L525.1,1072.3L525.2,1072.4L526.4,1072.5L527.6,1072.7L528.8,1072.8L530.1,1072.9L531.3,1072.9L532.5,1073.0L533.7,1073.0L534.9,1073.0L536.1,1073.0L537.3,1073.0L538.6,1073.0L539.8,1073.1L541.0,1073.1L542.2,1073.2L543.4,1073.2L544.6,1073.3L545.8,1073.4L547.1,1073.5L547.6,1073.6L548.3,1073.6L549.5,1073.7L550.7,1073.8L551.9,1073.9L553.1,1074.0L554.3,1074.0L555.6,1074.0L556.8,1074.0L558.0,1073.9L559.2,1073.8L560.4,1073.6L560.4,1073.6L561.6,1073.3L562.8,1073.1L564.1,1072.8L565.3,1072.6L566.5,1072.3L566.5,1072.3L567.7,1072.1L568.9,1071.9L570.1,1071.7L571.3,1071.5L572.6,1071.4L573.8,1071.3L575.0,1071.2L576.2,1071.2L577.4,1071.2L578.6,1071.3L579.8,1071.4L581.1,1071.5L582.3,1071.7L583.5,1071.9L584.7,1072.1L585.9,1072.3L585.9,1072.3L587.1,1072.6L588.3,1072.8L589.6,1073.1L590.8,1073.3L592.0,1073.6L592.0,1073.6L593.2,1073.8L594.4,1073.9L595.6,1074.0L596.8,1074.0L598.1,1074.0L599.3,1074.0L600.5,1073.9L601.7,1073.8L602.9,1073.7L604.1,1073.6L604.8,1073.6L605.3,1073.5L606.6,1073.4L607.8,1073.3L609.0,1073.2L610.2,1073.2L611.4,1073.1L612.6,1073.1L613.8,1073.0L615.1,1073.0L616.3,1073.0L617.5,1073.0L618.7,1073.0L619.9,1073.0L621.1,1072.9L622.3,1072.9L623.6,1072.8L624.8,1072.7L626.0,1072.5L627.2,1072.4L627.3,1072.3L628.4,1072.1L629.6,1071.9L630.8,1071.5L632.1,1071.2L632.3,1071.1L633.3,1070.8L634.5,1070.3L635.6,1069.8L635.7,1069.8L636.9,1069.2L638.1,1068.6L638.1,1068.6L639.3,1067.9L640.2,1067.4L640.6,1067.1L641.8,1066.3L642.1,1066.1L643.0,1065.6L644.1,1064.9L644.2,1064.8L645.4,1064.1L646.2,1063.6L646.6,1063.3L647.8,1062.5L648.0,1062.4L649.1,1061.6L649.6,1061.2L650.3,1060.6L651.0,1059.9L651.5,1059.4L652.2,1058.7L652.7,1058.1L653.3,1057.4L653.9,1056.6L654.2,1056.2L655.0,1054.9L655.1,1054.8L655.8,1053.7L656.4,1052.7L656.5,1052.5L657.2,1051.2L657.6,1050.5L657.9,1050.0L658.5,1048.7L658.8,1048.2L659.1,1047.5L659.7,1046.3L660.0,1045.6L660.2,1045.0L660.7,1043.8L661.2,1042.5L661.2,1042.4L661.6,1041.3L662.0,1040.0L662.3,1038.8L662.4,1038.4L662.6,1037.6L663.0,1036.3L663.3,1035.1L663.6,1034.0L663.7,1033.8L664.1,1032.6L664.7,1031.4L664.9,1031.1L665.4,1030.1L666.0,1028.9L666.1,1028.7L666.6,1027.6L667.2,1026.4L667.3,1026.2L667.8,1025.2L668.2,1023.9L668.5,1023.1L668.7,1022.7L669.0,1021.4L669.4,1020.2L669.7,1018.9L669.7,1018.9L670.0,1017.7L670.4,1016.5L670.7,1015.2L670.9,1014.5L671.1,1014.0L671.7,1012.7L672.1,1012.1L672.5,1011.5L673.4,1010.3L673.4,1010.3L674.4,1009.0L674.6,1008.8L675.5,1007.8L675.8,1007.5L676.9,1006.5L677.0,1006.4L678.2,1005.5L678.5,1005.3L679.4,1004.7L680.5,1004.0L680.6,1004.0L681.9,1003.4L683.1,1002.8L683.1,1002.8L684.3,1002.3L685.5,1001.8L685.5,1002.8L685.5,1004.0L685.5,1005.3L685.5,1006.5L685.5,1007.8L685.5,1009.0L685.5,1010.3L685.5,1011.5L685.5,1012.7L685.5,1014.0L685.5,1015.2L685.5,1016.5L685.5,1017.7L685.5,1018.9L685.5,1020.2L685.5,1021.4L685.5,1022.7L685.5,1023.9L685.5,1024.6L685.3,1025.2L684.8,1026.4L684.4,1027.6L684.3,1027.9L684.0,1028.9L683.7,1030.1L683.5,1031.4L683.1,1032.6L683.1,1032.7L682.6,1033.8L682.1,1035.1L681.9,1035.6L681.5,1036.3L681.0,1037.6L680.6,1038.4L680.5,1038.8L680.0,1040.0L679.6,1041.3L679.4,1041.7L679.2,1042.5L678.8,1043.8L678.5,1045.0L678.2,1046.3L678.2,1046.3L678.0,1047.5L677.7,1048.7L677.5,1050.0L677.2,1051.2L677.0,1052.2L676.9,1052.5L676.7,1053.7L676.4,1054.9L676.0,1056.2L675.8,1056.8L675.6,1057.4L675.0,1058.7L674.6,1059.6L674.4,1059.9L673.7,1061.2L673.4,1061.7L672.9,1062.4L672.1,1063.3L671.9,1063.6L670.9,1064.7L670.7,1064.9L669.7,1065.8L669.4,1066.1L668.5,1066.8L667.8,1067.4L667.3,1067.7L666.1,1068.5L665.9,1068.6L664.9,1069.2L663.7,1069.8L663.6,1069.9L662.4,1070.5L661.3,1071.1L661.2,1071.1L660.0,1071.7L658.8,1072.2L658.6,1072.3L657.6,1072.8L656.4,1073.3L655.6,1073.6L655.1,1073.8L653.9,1074.3L652.7,1074.7L652.5,1074.8L651.5,1075.2L650.3,1075.6L649.2,1076.1L649.1,1076.1L647.8,1076.5L646.6,1077.0L645.6,1077.3L645.4,1077.4L644.2,1077.8L643.0,1078.1L641.8,1078.5L641.6,1078.5L640.6,1078.8L639.3,1079.2L638.1,1079.5L636.9,1079.7L636.7,1079.8L635.7,1080.0L634.5,1080.2L633.3,1080.4L632.1,1080.6L630.8,1080.7L629.6,1080.9L628.4,1080.9L627.2,1081.0L627.1,1081.0L626.0,1081.1L624.8,1081.1L623.6,1081.1L622.3,1081.1L621.1,1081.0L620.4,1081.0L619.9,1081.0L618.7,1081.0L617.5,1080.9L616.3,1080.8L615.1,1080.8L613.8,1080.8L612.6,1080.8L611.4,1080.8L610.2,1080.9L609.6,1081.0L609.0,1081.1L607.8,1081.3L606.6,1081.5L605.3,1081.7L604.1,1082.0L602.9,1082.2L602.4,1082.3L601.7,1082.3L600.5,1082.3L599.3,1082.3L598.1,1082.3L596.8,1082.3L595.6,1082.3L594.4,1082.3L593.2,1082.3L592.0,1082.3L590.8,1082.3L589.6,1082.3L588.3,1082.3L587.1,1082.3L585.9,1082.3L584.7,1082.3L583.5,1082.3L582.3,1082.3L581.1,1082.3L579.8,1082.3L578.6,1082.3L577.4,1082.3L576.2,1082.3L575.0,1082.3L573.8,1082.3L572.6,1082.3L571.3,1082.3L570.1,1082.3L568.9,1082.3L567.7,1082.3L566.5,1082.3L565.3,1082.3L564.1,1082.3L562.8,1082.3L561.6,1082.3L560.4,1082.3L559.2,1082.3L558.0,1082.3L556.8,1082.3L555.6,1082.3L554.3,1082.3L553.1,1082.3L551.9,1082.3L550.7,1082.3L550.0,1082.3L549.5,1082.2L548.3,1082.0L547.1,1081.7L545.8,1081.5L544.6,1081.3L543.4,1081.1L542.8,1081.0L542.2,1080.9L541.0,1080.8L539.8,1080.8L538.6,1080.8L537.3,1080.8L536.1,1080.8L534.9,1080.9L533.7,1081.0L532.5,1081.0L532.0,1081.0L531.3,1081.0L530.1,1081.1L528.8,1081.1L527.6,1081.1L526.4,1081.1L525.3,1081.0L525.2,1081.0L524.0,1080.9L522.8,1080.9L521.6,1080.7L520.3,1080.6L519.1,1080.4L517.9,1080.2L516.7,1080.0L515.7,1079.8L515.5,1079.7L514.3,1079.5L513.1,1079.2L511.8,1078.8L510.8,1078.5L510.6,1078.5L509.4,1078.1L508.2,1077.8L507.0,1077.4L506.8,1077.3L505.8,1077.0L504.6,1076.5L503.3,1076.1L503.2,1076.1L502.1,1075.6L500.9,1075.2L499.9,1074.8L499.7,1074.7L498.5,1074.3L497.3,1073.8L496.8,1073.6L496.0,1073.3L494.8,1072.8L493.8,1072.3L493.6,1072.2L492.4,1071.7L491.2,1071.1L491.1,1071.1L490.0,1070.5L488.8,1069.9L488.7,1069.8L487.5,1069.2L486.5,1068.6L486.3,1068.5L485.1,1067.7L484.6,1067.4L483.9,1066.8L483.0,1066.1L482.7,1065.8L481.7,1064.9L481.5,1064.7L480.5,1063.6L480.3,1063.3L479.5,1062.4L479.0,1061.7L478.7,1061.2L478.0,1059.9L477.8,1059.6L477.4,1058.7L476.8,1057.4L476.6,1056.8L476.4,1056.2L476.0,1054.9L475.7,1053.7L475.5,1052.5L475.4,1052.2L475.2,1051.2L474.9,1050.0L474.7,1048.7L474.4,1047.5L474.2,1046.3L474.2,1046.3L473.9,1045.0L473.6,1043.8L473.2,1042.5L473.0,1041.7L472.8,1041.3L472.4,1040.0L471.9,1038.8L471.8,1038.4L471.4,1037.6L470.9,1036.3L470.5,1035.6L470.3,1035.1L469.8,1033.8L469.3,1032.7L469.3,1032.6L468.9,1031.4L468.7,1030.1L468.4,1028.9L468.1,1027.9L468.0,1027.6L467.6,1026.4L467.1,1025.2L466.9,1024.6L466.9,1023.9L466.9,1022.7L466.9,1021.4L466.9,1020.2L466.9,1018.9L466.9,1017.7L466.9,1016.5L466.9,1015.2L466.9,1014.0L466.9,1012.7L466.9,1011.5L466.9,1010.3L466.9,1009.0L466.9,1007.8L466.9,1006.5L466.9,1005.3L466.9,1004.0L466.9,1002.8L466.9,1001.8Z" fill="#fae49e" stroke="#fae49e" stroke-width="0.3" fill-rule="evenodd"/>
<path d="M467.1,1025.2L467.6,1026.4L468.0,1027.6L468.1,1027.9L468.4,1028.9L468.7,1030.1L468.9,1031.4L469.3,1032.6L469.3,1032.7L469.8,1033.8L470.3,1035.1L470.5,1035.6L470.9,1036.3L471.4,1037.6L471.8,1038.4L471.9,1038.8L472.4,1040.0L472.8,1041.3L473.0,1041.7L473.2,1042.5L473.6,1043.8L473.9,1045.0L474.2,1046.3L474.2,1046.3L474.4,1047.5L474.7,1048.7L474.9,1050.0L475.2,1051.2L475.4,1052.2L475.5,1052.5L475.7,1053.7L476.0,1054.9L476.4,1056.2L476.6,1056.8L476.8,1057.4L477.4,1058.7L477.8,1059.6L478.0,1059.9L478.7,1061.2L479.0,1061.7L479.5,1062.4L480.3,1063.3L480.5,1063.6L481.5,1064.7L481.7,1064.9L482.7,1065.8L483.0,1066.1L483.9,1066.8L484.6,1067.4L485.1,1067.7L486.3,1068.5L486.5,1068.6L487.5,1069.2L488.7,1069.8L488.8,1069.9L490.0,1070.5L491.1,1071.1L491.2,1071.1L492.4,1071.7L493.6,1072.2L493.8,1072.3L494.8,1072.8L496.0,1073.3L496.8,1073.6L497.3,1073.8L498.5,1074.3L499.7,1074.7L499.9,1074.8L500.9,1075.2L502.1,1075.6L503.2,1076.1L503.3,1076.1L504.6,1076.5L505.8,1077.0L506.8,1077.3L507.0,1077.4L508.2,1077.8L509.4,1078.1L510.6,1078.5L510.8,1078.5L511.8,1078.8L513.1,1079.2L514.3,1079.5L515.5,1079.7L515.7,1079.8L516.7,1080.0L517.9,1080.2L519.1,1080.4L520.3,1080.6L521.6,1080.7L522.8,1080.9L524.0,1080.9L525.2,1081.0L525.3,1081.0L526.4,1081.1L527.6,1081.1L528.8,1081.1L530.1,1081.1L531.3,1081.0L532.0,1081.0L532.5,1081.0L533.7,1081.0L534.9,1080.9L536.1,1080.8L537.3,1080.8L538.6,1080.8L539.8,1080.8L541.0,1080.8L542.2,1080.9L542.8,1081.0L543.4,1081.1L544.6,1081.3L545.8,1081.5L547.1,1081.7L548.3,1082.0L549.5,1082.2L550.0,1082.3L549.5,1082.3L548.3,1082.3L547.1,1082.3L545.8,1082.3L544.6,1082.3L543.4,1082.3L542.2,1082.3L541.0,1082.3L539.8,1082.3L538.6,1082.3L537.3,1082.3L536.1,1082.3L534.9,1082.3L533.7,1082.3L532.5,1082.3L531.3,1082.3L530.1,1082.3L528.8,1082.3L527.6,1082.3L526.4,1082.3L525.2,1082.3L524.0,1082.3L522.8,1082.3L521.6,1082.3L520.3,1082.3L519.1,1082.3L517.9,1082.3L516.7,1082.3L515.5,1082.3L514.3,1082.3L513.1,1082.3L511.8,1082.3L510.6,1082.3L509.4,1082.3L508.2,1082.3L507.0,1082.3L505.8,1082.3L504.6,1082.3L503.3,1082.3L502.1,1082.3L500.9,1082.3L499.7,1082.3L498.5,1082.3L497.3,1082.3L496.0,1082.3L494.8,1082.3L493.6,1082.3L492.4,1082.3L491.2,1082.3L490.0,1082.3L488.8,1082.3L487.5,1082.3L486.3,1082.3L485.1,1082.3L483.9,1082.3L482.7,1082.3L481.5,1082.3L480.3,1082.3L479.0,1082.3L477.8,1082.3L476.6,1082.3L475.4,1082.3L474.2,1082.3L473.0,1082.3L471.8,1082.3L470.5,1082.3L469.3,1082.3L468.1,1082.3L466.9,1082.3L466.9,1081.0L466.9,1079.8L466.9,1078.5L466.9,1077.3L466.9,1076.1L466.9,1074.8L466.9,1073.6L466.9,1072.3L466.9,1071.1L466.9,1069.8L466.9,1068.6L466.9,1067.4L466.9,1066.1L466.9,1064.9L466.9,1063.6L466.9,1062.4L466.9,1061.2L466.9,1059.9L466.9,1058.7L466.9,1057.4L466.9,1056.2L466.9,1054.9L466.9,1053.7L466.9,1052.5L466.9,1051.2L466.9,1050.0L466.9,1048.7L466.9,1047.5L466.9,1046.3L466.9,1045.0L466.9,1043.8L466.9,1042.5L466.9,1041.3L466.9,1040.0L466.9,1038.8L466.9,1037.6L466.9,1036.3L466.9,1035.1L466.9,1033.8L466.9,1032.6L466.9,1031.4L466.9,1030.1L466.9,1028.9L466.9,1027.6L466.9,1026.4L466.9,1025.2L466.9,1024.6ZM685.5,1024.6L685.5,1025.2L685.5,1026.4L685.5,1027.6L685.5,1028.9L685.5,1030.1L685.5,1031.4L685.5,1032.6L685.5,1033.8L685.5,1035.1L685.5,1036.3L685.5,1037.6L685.5,1038.8L685.5,1040.0L685.5,1041.3L685.5,1042.5L685.5,1043.8L685.5,1045.0L685.5,1046.3L685.5,1047.5L685.5,1048.7L685.5,1050.0L685.5,1051.2L685.5,1052.5L685.5,1053.7L685.5,1054.9L685.5,1056.2L685.5,1057.4L685.5,1058.7L685.5,1059.9L685.5,1061.2L685.5,1062.4L685.5,1063.6L685.5,1064.9L685.5,1066.1L685.5,1067.4L685.5,1068.6L685.5,1069.8L685.5,1071.1L685.5,1072.3L685.5,1073.6L685.5,1074.8L685.5,1076.1L685.5,1077.3L685.5,1078.5L685.5,1079.8L685.5,1081.0L685.5,1082.3L684.3,1082.3L683.1,1082.3L681.9,1082.3L680.6,1082.3L679.4,1082.3L678.2,1082.3L677.0,1082.3L675.8,1082.3L674.6,1082.3L673.4,1082.3L672.1,1082.3L670.9,1082.3L669.7,1082.3L668.5,1082.3L667.3,1082.3L666.1,1082.3L664.9,1082.3L663.6,1082.3L662.4,1082.3L661.2,1082.3L660.0,1082.3L658.8,1082.3L657.6,1082.3L656.4,1082.3L655.1,1082.3L653.9,1082.3L652.7,1082.3L651.5,1082.3L650.3,1082.3L649.1,1082.3L647.8,1082.3L646.6,1082.3L645.4,1082.3L644.2,1082.3L643.0,1082.3L641.8,1082.3L640.6,1082.3L639.3,1082.3L638.1,1082.3L636.9,1082.3L635.7,1082.3L634.5,1082.3L633.3,1082.3L632.1,1082.3L630.8,1082.3L629.6,1082.3L628.4,1082.3L627.2,1082.3L626.0,1082.3L624.8,1082.3L623.6,1082.3L622.3,1082.3L621.1,1082.3L619.9,1082.3L618.7,1082.3L617.5,1082.3L616.3,1082.3L615.1,1082.3L613.8,1082.3L612.6,1082.3L611.4,1082.3L610.2,1082.3L609.0,1082.3L607.8,1082.3L606.6,1082.3L605.3,1082.3L604.1,1082.3L602.9,1082.3L602.4,1082.3L602.9,1082.2L604.1,1082.0L605.3,1081.7L606.6,1081.5L607.8,1081.3L609.0,1081.1L609.6,1081.0L610.2,1080.9L611.4,1080.8L612.6,1080.8L613.8,1080.8L615.1,1080.8L616.3,1080.8L617.5,1080.9L618.7,1081.0L619.9,1081.0L620.4,1081.0L621.1,1081.0L622.3,1081.1L623.6,1081.1L624.8,1081.1L626.0,1081.1L627.1,1081.0L627.2,1081.0L628.4,1080.9L629.6,1080.9L630.8,1080.7L632.1,1080.6L633.3,1080.4L634.5,1080.2L635.7,1080.0L636.7,1079.8L636.9,1079.7L638.1,1079.5L639.3,1079.2L640.6,1078.8L641.6,1078.5L641.8,1078.5L643.0,1078.1L644.2,1077.8L645.4,1077.4L645.6,1077.3L646.6,1077.0L647.8,1076.5L649.1,1076.1L649.2,1076.1L650.3,1075.6L651.5,1075.2L652.5,1074.8L652.7,1074.7L653.9,1074.3L655.1,1073.8L655.6,1073.6L656.4,1073.3L657.6,1072.8L658.6,1072.3L658.8,1072.2L660.0,1071.7L661.2,1071.1L661.3,1071.1L662.4,1070.5L663.6,1069.9L663.7,1069.8L664.9,1069.2L665.9,1068.6L666.1,1068.5L667.3,1067.7L667.8,1067.4L668.5,1066.8L669.4,1066.1L669.7,1065.8L670.7,1064.9L670.9,1064.7L671.9,1063.6L672.1,1063.3L672.9,1062.4L673.4,1061.7L673.7,1061.2L674.4,1059.9L674.6,1059.6L675.0,1058.7L675.6,1057.4L675.8,1056.8L676.0,1056.2L676.4,1054.9L676.7,1053.7L676.9,1052.5L677.0,1052.2L677.2,1051.2L677.5,1050.0L677.7,1048.7L678.0,1047.5L678.2,1046.3L678.2,1046.3L678.5,1045.0L678.8,1043.8L679.2,1042.5L679.4,1041.7L679.6,1041.3L680.0,1040.0L680.5,1038.8L680.6,1038.4L681.0,1037.6L681.5,1036.3L681.9,1035.6L682.1,1035.1L682.6,1033.8L683.1,1032.7L683.1,1032.6L683.5,1031.4L683.7,1030.1L684.0,1028.9L684.3,1027.9L684.4,1027.6L684.8,1026.4L685.3,1025.2Z" fill="#f8dc94" stroke="#f8dc94" stroke-width="0.3" fill-rule="evenodd"/>
<path d="M565.7,982.9L565.9,984.2L566.0,985.4L566.1,986.7L566.2,987.9L566.4,989.1L566.5,989.5L566.7,990.4L567.0,991.6L567.3,992.9L567.7,993.9L567.8,994.1L568.3,995.4L568.8,996.6L568.9,996.8L569.4,997.8L569.9,999.1L570.1,999.5L570.5,1000.3L571.1,1001.6L571.3,1001.9L571.9,1002.8L572.5,1004.0L572.6,1004.1L573.1,1005.3L573.8,1006.5L573.8,1006.5L574.9,1007.8L575.0,1007.8L576.2,1008.1L577.4,1007.8L577.5,1007.8L578.6,1006.5L578.6,1006.5L579.3,1005.3L579.8,1004.1L579.9,1004.0L580.5,1002.8L581.1,1001.9L581.3,1001.6L581.9,1000.3L582.3,999.5L582.5,999.1L583.0,997.8L583.5,996.8L583.6,996.6L584.1,995.4L584.6,994.1L584.7,993.9L585.1,992.9L585.4,991.6L585.7,990.4L585.9,989.5L586.0,989.1L586.2,987.9L586.3,986.7L586.4,985.4L586.5,984.2L586.7,982.9" fill="none" stroke="rgba(130,130,130,0.28)" stroke-width="0.5"/>
<path d="M556.8,982.9L557.0,984.2L557.2,985.4L557.4,986.7L557.6,987.9L557.8,989.1L558.0,990.3L558.0,990.4L558.2,991.6L558.4,992.9L558.7,994.1L559.0,995.4L559.2,996.4L559.3,996.6L559.6,997.8L559.9,999.1L560.3,1000.3L560.4,1000.7L560.7,1001.6L561.2,1002.8L561.6,1003.8L561.7,1004.0L562.3,1005.3L562.8,1006.3L563.0,1006.5L563.7,1007.8L564.1,1008.2L564.6,1009.0L565.3,1009.8L565.6,1010.3L566.5,1011.1L566.9,1011.5L567.7,1012.2L568.5,1012.7L568.9,1013.0L570.1,1013.7L570.8,1014.0L571.3,1014.2L572.6,1014.5L573.8,1014.8L575.0,1014.9L576.2,1014.9L577.4,1014.9L578.6,1014.8L579.8,1014.5L581.1,1014.2L581.6,1014.0L582.3,1013.7L583.5,1013.0L583.9,1012.7L584.7,1012.2L585.5,1011.5L585.9,1011.1L586.8,1010.3L587.1,1009.8L587.8,1009.0L588.3,1008.2L588.7,1007.8L589.4,1006.5L589.6,1006.3L590.1,1005.3L590.7,1004.0L590.8,1003.8L591.2,1002.8L591.7,1001.6L592.0,1000.7L592.1,1000.3L592.5,999.1L592.8,997.8L593.1,996.6L593.2,996.4L593.4,995.4L593.7,994.1L594.0,992.9L594.2,991.6L594.4,990.4L594.4,990.3L594.6,989.1L594.8,987.9L595.0,986.7L595.2,985.4L595.4,984.2L595.6,982.9" fill="none" stroke="rgba(130,130,130,0.28)" stroke-width="0.5"/>
<path d="M548.6,982.9L548.9,984.2L549.1,985.4L549.4,986.7L549.5,987.1L549.7,987.9L549.9,989.1L550.2,990.4L550.4,991.6L550.7,992.8L550.7,992.9L551.0,994.1L551.3,995.4L551.6,996.6L551.9,997.8L551.9,997.8L552.2,999.1L552.6,1000.3L553.0,1001.6L553.1,1001.9L553.5,1002.8L553.9,1004.0L554.3,1004.9L554.5,1005.3L555.2,1006.5L555.6,1007.1L556.0,1007.8L556.8,1009.0L556.8,1009.0L557.7,1010.3L558.0,1010.6L558.7,1011.5L559.2,1012.1L559.8,1012.7L560.4,1013.4L560.9,1014.0L561.6,1014.6L562.2,1015.2L562.8,1015.7L563.8,1016.5L564.1,1016.7L565.3,1017.5L565.6,1017.7L566.5,1018.2L567.7,1018.8L568.0,1018.9L568.9,1019.3L570.1,1019.7L571.3,1020.1L571.7,1020.2L572.6,1020.4L573.8,1020.6L575.0,1020.7L576.2,1020.8L577.4,1020.7L578.6,1020.6L579.8,1020.4L580.7,1020.2L581.1,1020.1L582.3,1019.7L583.5,1019.3L584.4,1018.9L584.7,1018.8L585.9,1018.2L586.8,1017.7L587.1,1017.5L588.3,1016.7L588.6,1016.5L589.6,1015.7L590.2,1015.2L590.8,1014.6L591.5,1014.0L592.0,1013.4L592.6,1012.7L593.2,1012.1L593.7,1011.5L594.4,1010.6L594.7,1010.3L595.6,1009.0L595.6,1009.0L596.4,1007.8L596.8,1007.1L597.2,1006.5L597.9,1005.3L598.1,1004.9L598.5,1004.0L598.9,1002.8L599.3,1001.9L599.4,1001.6L599.8,1000.3L600.2,999.1L600.5,997.8L600.5,997.8L600.8,996.6L601.1,995.4L601.4,994.1L601.7,992.9L601.7,992.8L602.0,991.6L602.2,990.4L602.5,989.1L602.7,987.9L602.9,987.1L603.0,986.7L603.3,985.4L603.5,984.2L603.8,982.9" fill="none" stroke="#33434f" stroke-width="0.75"/>
<path d="M540.9,982.9L541.0,983.4L541.2,984.2L541.5,985.4L541.9,986.7L542.2,987.9L542.2,988.0L542.5,989.1L542.8,990.4L543.2,991.6L543.4,992.6L543.5,992.9L543.8,994.1L544.2,995.4L544.6,996.6L544.6,996.8L545.0,997.8L545.4,999.1L545.8,1000.3L545.8,1000.5L546.2,1001.6L546.7,1002.8L547.1,1003.6L547.3,1004.0L547.8,1005.3L548.3,1006.2L548.4,1006.5L549.1,1007.8L549.5,1008.4L549.9,1009.0L550.7,1010.3L550.7,1010.3L551.5,1011.5L551.9,1012.0L552.5,1012.7L553.1,1013.5L553.5,1014.0L554.3,1014.9L554.6,1015.2L555.6,1016.2L555.8,1016.5L556.8,1017.4L557.1,1017.7L558.0,1018.5L558.5,1018.9L559.2,1019.5L560.2,1020.2L560.4,1020.3L561.6,1021.1L562.1,1021.4L562.8,1021.8L564.1,1022.5L564.4,1022.7L565.3,1023.0L566.5,1023.5L567.5,1023.9L567.7,1024.0L568.9,1024.3L570.1,1024.6L571.3,1024.9L572.6,1025.1L573.1,1025.2L573.8,1025.2L575.0,1025.3L576.2,1025.3L577.4,1025.3L578.6,1025.2L579.3,1025.2L579.8,1025.1L581.1,1024.9L582.3,1024.6L583.5,1024.3L584.7,1024.0L584.9,1023.9L585.9,1023.5L587.1,1023.0L588.0,1022.7L588.3,1022.5L589.6,1021.8L590.3,1021.4L590.8,1021.1L592.0,1020.3L592.2,1020.2L593.2,1019.5L593.9,1018.9L594.4,1018.5L595.3,1017.7L595.6,1017.4L596.6,1016.5L596.8,1016.2L597.8,1015.2L598.1,1014.9L598.9,1014.0L599.3,1013.5L599.9,1012.7L600.5,1012.0L600.9,1011.5L601.7,1010.3L601.7,1010.3L602.5,1009.0L602.9,1008.4L603.3,1007.8L604.0,1006.5L604.1,1006.2L604.6,1005.3L605.1,1004.0L605.3,1003.6L605.7,1002.8L606.2,1001.6L606.6,1000.5L606.6,1000.3L607.0,999.1L607.4,997.8L607.8,996.8L607.8,996.6L608.2,995.4L608.6,994.1L608.9,992.9L609.0,992.6L609.2,991.6L609.6,990.4L609.9,989.1L610.2,988.0L610.2,987.9L610.5,986.7L610.9,985.4L611.2,984.2L611.4,983.4L611.5,982.9" fill="none" stroke="rgba(130,130,130,0.28)" stroke-width="0.5"/>
<path d="M533.5,982.9L533.7,983.5L533.9,984.2L534.3,985.4L534.7,986.7L534.9,987.5L535.0,987.9L535.4,989.1L535.8,990.4L536.1,991.5L536.2,991.6L536.5,992.9L536.9,994.1L537.3,995.3L537.3,995.4L537.8,996.6L538.2,997.8L538.6,998.8L538.7,999.1L539.2,1000.3L539.7,1001.6L539.8,1001.8L540.2,1002.8L540.8,1004.0L541.0,1004.5L541.3,1005.3L542.0,1006.5L542.2,1006.9L542.6,1007.8L543.4,1009.0L543.4,1009.1L544.1,1010.3L544.6,1011.0L544.9,1011.5L545.8,1012.7L545.8,1012.8L546.7,1014.0L547.1,1014.5L547.6,1015.2L548.3,1016.0L548.7,1016.5L549.5,1017.4L549.8,1017.7L550.7,1018.7L551.0,1018.9L551.9,1019.9L552.3,1020.2L553.1,1021.0L553.7,1021.4L554.3,1022.0L555.3,1022.7L555.6,1022.9L556.8,1023.7L557.0,1023.9L558.0,1024.5L559.1,1025.2L559.2,1025.2L560.4,1025.8L561.6,1026.4L561.6,1026.4L562.8,1026.9L564.1,1027.4L564.9,1027.6L565.3,1027.8L566.5,1028.1L567.7,1028.4L568.9,1028.7L570.0,1028.9L570.1,1028.9L571.3,1029.1L572.6,1029.2L573.8,1029.3L575.0,1029.4L576.2,1029.4L577.4,1029.4L578.6,1029.3L579.8,1029.2L581.1,1029.1L582.3,1028.9L582.4,1028.9L583.5,1028.7L584.7,1028.4L585.9,1028.1L587.1,1027.8L587.5,1027.6L588.3,1027.4L589.6,1026.9L590.8,1026.4L590.8,1026.4L592.0,1025.8L593.2,1025.2L593.3,1025.2L594.4,1024.5L595.4,1023.9L595.6,1023.7L596.8,1022.9L597.1,1022.7L598.1,1022.0L598.7,1021.4L599.3,1021.0L600.1,1020.2L600.5,1019.9L601.4,1018.9L601.7,1018.7L602.6,1017.7L602.9,1017.4L603.7,1016.5L604.1,1016.0L604.8,1015.2L605.3,1014.5L605.7,1014.0L606.6,1012.8L606.6,1012.7L607.5,1011.5L607.8,1011.0L608.3,1010.3L609.0,1009.1L609.0,1009.0L609.8,1007.8L610.2,1006.9L610.4,1006.5L611.1,1005.3L611.4,1004.5L611.6,1004.0L612.2,1002.8L612.6,1001.8L612.7,1001.6L613.2,1000.3L613.7,999.1L613.8,998.8L614.2,997.8L614.6,996.6L615.1,995.4L615.1,995.3L615.5,994.1L615.9,992.9L616.2,991.6L616.3,991.5L616.6,990.4L617.0,989.1L617.4,987.9L617.5,987.5L617.7,986.7L618.1,985.4L618.5,984.2L618.7,983.5L618.9,982.9" fill="none" stroke="rgba(130,130,130,0.28)" stroke-width="0.5"/>
<path d="M526.4,982.9L526.9,984.2L527.3,985.4L527.6,986.5L527.7,986.7L528.1,987.9L528.5,989.1L528.8,990.2L528.9,990.4L529.3,991.6L529.7,992.9L530.1,993.9L530.1,994.1L530.6,995.4L531.0,996.6L531.3,997.3L531.5,997.8L531.9,999.1L532.4,1000.3L532.5,1000.4L533.0,1001.6L533.5,1002.8L533.7,1003.1L534.1,1004.0L534.7,1005.3L534.9,1005.6L535.4,1006.5L536.1,1007.8L536.1,1007.9L536.8,1009.0L537.3,1009.9L537.6,1010.3L538.3,1011.5L538.6,1011.8L539.2,1012.7L539.8,1013.6L540.1,1014.0L541.0,1015.2L541.0,1015.2L541.9,1016.5L542.2,1016.8L542.9,1017.7L543.4,1018.3L544.0,1018.9L544.6,1019.7L545.1,1020.2L545.8,1021.0L546.2,1021.4L547.1,1022.2L547.5,1022.7L548.3,1023.4L548.9,1023.9L549.5,1024.4L550.4,1025.2L550.7,1025.4L551.9,1026.3L552.0,1026.4L553.1,1027.1L553.9,1027.6L554.3,1027.9L555.6,1028.6L556.2,1028.9L556.8,1029.2L558.0,1029.7L558.9,1030.1L559.2,1030.2L560.4,1030.7L561.6,1031.1L562.5,1031.4L562.8,1031.5L564.1,1031.8L565.3,1032.1L566.5,1032.3L567.7,1032.5L568.1,1032.6L568.9,1032.7L570.1,1032.9L571.3,1033.0L572.6,1033.1L573.8,1033.2L575.0,1033.2L576.2,1033.2L577.4,1033.2L578.6,1033.2L579.8,1033.1L581.1,1033.0L582.3,1032.9L583.5,1032.7L584.3,1032.6L584.7,1032.5L585.9,1032.3L587.1,1032.1L588.3,1031.8L589.6,1031.5L589.9,1031.4L590.8,1031.1L592.0,1030.7L593.2,1030.2L593.5,1030.1L594.4,1029.7L595.6,1029.2L596.2,1028.9L596.8,1028.6L598.1,1027.9L598.5,1027.6L599.3,1027.1L600.4,1026.4L600.5,1026.3L601.7,1025.4L602.0,1025.2L602.9,1024.4L603.5,1023.9L604.1,1023.4L604.9,1022.7L605.3,1022.2L606.2,1021.4L606.6,1021.0L607.3,1020.2L607.8,1019.7L608.4,1018.9L609.0,1018.3L609.5,1017.7L610.2,1016.8L610.5,1016.5L611.4,1015.2L611.4,1015.2L612.3,1014.0L612.6,1013.6L613.2,1012.7L613.8,1011.8L614.1,1011.5L614.8,1010.3L615.1,1009.9L615.6,1009.0L616.3,1007.9L616.3,1007.8L617.0,1006.5L617.5,1005.6L617.7,1005.3L618.3,1004.0L618.7,1003.1L618.9,1002.8L619.4,1001.6L619.9,1000.4L620.0,1000.3L620.5,999.1L620.9,997.8L621.1,997.3L621.4,996.6L621.8,995.4L622.3,994.1L622.3,993.9L622.7,992.9L623.1,991.6L623.5,990.4L623.6,990.2L623.9,989.1L624.3,987.9L624.7,986.7L624.8,986.5L625.1,985.4L625.5,984.2L626.0,982.9" fill="none" stroke="rgba(130,130,130,0.28)" stroke-width="0.5"/>
<path d="M519.4,982.9L519.9,984.2L520.3,985.4L520.3,985.4L520.8,986.7L521.2,987.9L521.6,988.8L521.7,989.1L522.1,990.4L522.5,991.6L522.8,992.4L522.9,992.9L523.3,994.1L523.8,995.4L524.0,995.9L524.2,996.6L524.7,997.8L525.1,999.1L525.2,999.3L525.6,1000.3L526.1,1001.6L526.4,1002.2L526.7,1002.8L527.2,1004.0L527.6,1004.8L527.9,1005.3L528.5,1006.5L528.8,1007.1L529.2,1007.8L529.9,1009.0L530.1,1009.3L530.7,1010.3L531.3,1011.2L531.4,1011.5L532.3,1012.7L532.5,1013.0L533.2,1014.0L533.7,1014.7L534.1,1015.2L534.9,1016.3L535.0,1016.5L536.0,1017.7L536.1,1017.9L537.0,1018.9L537.3,1019.3L538.1,1020.2L538.6,1020.8L539.1,1021.4L539.8,1022.2L540.2,1022.7L541.0,1023.5L541.4,1023.9L542.2,1024.8L542.6,1025.2L543.4,1026.0L543.9,1026.4L544.6,1027.1L545.3,1027.6L545.8,1028.1L546.8,1028.9L547.1,1029.1L548.3,1029.9L548.6,1030.1L549.5,1030.7L550.5,1031.4L550.7,1031.4L551.9,1032.1L552.9,1032.6L553.1,1032.7L554.3,1033.2L555.6,1033.7L555.8,1033.8L556.8,1034.2L558.0,1034.6L559.2,1034.9L559.8,1035.1L560.4,1035.2L561.6,1035.5L562.8,1035.8L564.1,1036.0L565.3,1036.2L566.3,1036.3L566.5,1036.4L567.7,1036.5L568.9,1036.6L570.1,1036.7L571.3,1036.8L572.6,1036.9L573.8,1036.9L575.0,1036.9L576.2,1036.9L577.4,1036.9L578.6,1036.9L579.8,1036.9L581.1,1036.8L582.3,1036.7L583.5,1036.6L584.7,1036.5L585.9,1036.4L586.1,1036.3L587.1,1036.2L588.3,1036.0L589.6,1035.8L590.8,1035.5L592.0,1035.2L592.6,1035.1L593.2,1034.9L594.4,1034.6L595.6,1034.2L596.6,1033.8L596.8,1033.7L598.1,1033.2L599.3,1032.7L599.5,1032.6L600.5,1032.1L601.7,1031.4L601.9,1031.4L602.9,1030.7L603.8,1030.1L604.1,1029.9L605.3,1029.1L605.6,1028.9L606.6,1028.1L607.1,1027.6L607.8,1027.1L608.5,1026.4L609.0,1026.0L609.8,1025.2L610.2,1024.8L611.0,1023.9L611.4,1023.5L612.2,1022.7L612.6,1022.2L613.3,1021.4L613.8,1020.8L614.3,1020.2L615.1,1019.3L615.4,1018.9L616.3,1017.9L616.4,1017.7L617.4,1016.5L617.5,1016.3L618.3,1015.2L618.7,1014.7L619.2,1014.0L619.9,1013.0L620.1,1012.7L621.0,1011.5L621.1,1011.2L621.7,1010.3L622.3,1009.3L622.5,1009.0L623.2,1007.8L623.6,1007.1L623.9,1006.5L624.5,1005.3L624.8,1004.8L625.2,1004.0L625.7,1002.8L626.0,1002.2L626.3,1001.6L626.8,1000.3L627.2,999.3L627.3,999.1L627.7,997.8L628.2,996.6L628.4,995.9L628.6,995.4L629.1,994.1L629.5,992.9L629.6,992.4L629.9,991.6L630.3,990.4L630.7,989.1L630.8,988.8L631.2,987.9L631.6,986.7L632.1,985.4L632.1,985.4L632.5,984.2L633.0,982.9" fill="none" stroke="rgba(130,130,130,0.28)" stroke-width="0.5"/>
<path d="M512.1,982.9L512.7,984.2L513.1,984.9L513.3,985.4L513.8,986.7L514.3,987.8L514.3,987.9L514.8,989.1L515.2,990.4L515.5,991.1L515.7,991.6L516.1,992.9L516.6,994.1L516.7,994.5L517.0,995.4L517.4,996.6L517.8,997.8L517.9,998.0L518.3,999.1L518.7,1000.3L519.1,1001.3L519.2,1001.6L519.7,1002.8L520.2,1004.0L520.3,1004.3L520.8,1005.3L521.4,1006.5L521.6,1006.9L522.0,1007.8L522.7,1009.0L522.8,1009.2L523.4,1010.3L524.0,1011.3L524.1,1011.5L524.9,1012.7L525.2,1013.2L525.7,1014.0L526.4,1015.0L526.6,1015.2L527.5,1016.5L527.6,1016.6L528.4,1017.7L528.8,1018.2L529.4,1018.9L530.1,1019.7L530.4,1020.2L531.3,1021.1L531.5,1021.4L532.5,1022.5L532.6,1022.7L533.7,1023.8L533.8,1023.9L534.9,1025.2L534.9,1025.2L536.0,1026.4L536.1,1026.5L537.1,1027.6L537.3,1027.8L538.4,1028.9L538.6,1029.1L539.7,1030.1L539.8,1030.2L541.0,1031.3L541.1,1031.4L542.2,1032.2L542.7,1032.6L543.4,1033.1L544.5,1033.8L544.6,1033.9L545.8,1034.7L546.5,1035.1L547.1,1035.4L548.3,1036.0L548.9,1036.3L549.5,1036.6L550.7,1037.1L551.9,1037.5L552.0,1037.6L553.1,1038.0L554.3,1038.3L555.6,1038.6L556.2,1038.8L556.8,1038.9L558.0,1039.2L559.2,1039.4L560.4,1039.6L561.6,1039.8L562.8,1040.0L563.6,1040.0L564.1,1040.1L565.3,1040.2L566.5,1040.3L567.7,1040.4L568.9,1040.5L570.1,1040.5L571.3,1040.6L572.6,1040.6L573.8,1040.6L575.0,1040.6L576.2,1040.6L577.4,1040.6L578.6,1040.6L579.8,1040.6L581.1,1040.6L582.3,1040.5L583.5,1040.5L584.7,1040.4L585.9,1040.3L587.1,1040.2L588.3,1040.1L588.8,1040.0L589.6,1040.0L590.8,1039.8L592.0,1039.6L593.2,1039.4L594.4,1039.2L595.6,1038.9L596.2,1038.8L596.8,1038.6L598.1,1038.3L599.3,1038.0L600.4,1037.6L600.5,1037.5L601.7,1037.1L602.9,1036.6L603.5,1036.3L604.1,1036.0L605.3,1035.4L605.9,1035.1L606.6,1034.7L607.8,1033.9L607.9,1033.8L609.0,1033.1L609.7,1032.6L610.2,1032.2L611.3,1031.4L611.4,1031.3L612.6,1030.2L612.7,1030.1L613.8,1029.1L614.0,1028.9L615.1,1027.8L615.3,1027.6L616.3,1026.5L616.4,1026.4L617.5,1025.2L617.5,1025.2L618.6,1023.9L618.7,1023.8L619.8,1022.7L619.9,1022.5L620.9,1021.4L621.1,1021.1L622.0,1020.2L622.3,1019.7L623.0,1018.9L623.6,1018.2L624.0,1017.7L624.8,1016.6L624.9,1016.5L625.8,1015.2L626.0,1015.0L626.7,1014.0L627.2,1013.2L627.5,1012.7L628.3,1011.5L628.4,1011.3L629.0,1010.3L629.6,1009.2L629.7,1009.0L630.4,1007.8L630.8,1006.9L631.0,1006.5L631.6,1005.3L632.1,1004.3L632.2,1004.0L632.7,1002.8L633.2,1001.6L633.3,1001.3L633.7,1000.3L634.1,999.1L634.5,998.0L634.6,997.8L635.0,996.6L635.4,995.4L635.7,994.5L635.8,994.1L636.3,992.9L636.7,991.6L636.9,991.1L637.2,990.4L637.6,989.1L638.1,987.9L638.1,987.8L638.6,986.7L639.1,985.4L639.3,984.9L639.7,984.2L640.3,982.9" fill="none" stroke="#33434f" stroke-width="0.75"/>
<path d="M504.1,982.9L504.6,983.6L504.9,984.2L505.6,985.4L505.8,985.7L506.3,986.7L506.9,987.9L507.0,988.1L507.5,989.1L508.0,990.4L508.2,990.7L508.6,991.6L509.1,992.9L509.4,993.7L509.6,994.1L510.1,995.4L510.5,996.6L510.6,996.8L511.0,997.8L511.4,999.1L511.8,1000.1L511.9,1000.3L512.4,1001.6L512.8,1002.8L513.1,1003.3L513.3,1004.0L513.8,1005.3L514.3,1006.3L514.4,1006.5L514.9,1007.8L515.5,1009.0L515.5,1009.0L516.1,1010.3L516.7,1011.5L516.7,1011.5L517.4,1012.7L517.9,1013.7L518.1,1014.0L518.8,1015.2L519.1,1015.7L519.6,1016.5L520.3,1017.7L520.4,1017.7L521.2,1018.9L521.6,1019.4L522.1,1020.2L522.8,1021.1L523.0,1021.4L523.9,1022.7L524.0,1022.7L524.9,1023.9L525.2,1024.2L526.0,1025.2L526.4,1025.7L527.0,1026.4L527.6,1027.1L528.1,1027.6L528.8,1028.4L529.3,1028.9L530.1,1029.7L530.4,1030.1L531.3,1031.0L531.7,1031.4L532.5,1032.2L532.9,1032.6L533.7,1033.3L534.3,1033.8L534.9,1034.4L535.8,1035.1L536.1,1035.3L537.3,1036.3L537.4,1036.3L538.6,1037.1L539.3,1037.6L539.8,1037.9L541.0,1038.6L541.4,1038.8L542.2,1039.2L543.4,1039.9L543.8,1040.0L544.6,1040.4L545.8,1040.9L546.9,1041.3L547.1,1041.4L548.3,1041.8L549.5,1042.1L550.7,1042.5L551.0,1042.5L551.9,1042.7L553.1,1043.0L554.3,1043.2L555.6,1043.4L556.8,1043.6L558.0,1043.7L558.3,1043.8L559.2,1043.9L560.4,1044.0L561.6,1044.1L562.8,1044.2L564.1,1044.2L565.3,1044.3L566.5,1044.3L567.7,1044.4L568.9,1044.4L570.1,1044.4L571.3,1044.4L572.6,1044.4L573.8,1044.4L575.0,1044.4L576.2,1044.4L577.4,1044.4L578.6,1044.4L579.8,1044.4L581.1,1044.4L582.3,1044.4L583.5,1044.4L584.7,1044.4L585.9,1044.3L587.1,1044.3L588.3,1044.2L589.6,1044.2L590.8,1044.1L592.0,1044.0L593.2,1043.9L594.1,1043.8L594.4,1043.7L595.6,1043.6L596.8,1043.4L598.1,1043.2L599.3,1043.0L600.5,1042.7L601.4,1042.5L601.7,1042.5L602.9,1042.1L604.1,1041.8L605.3,1041.4L605.5,1041.3L606.6,1040.9L607.8,1040.4L608.6,1040.0L609.0,1039.9L610.2,1039.2L611.0,1038.8L611.4,1038.6L612.6,1037.9L613.1,1037.6L613.8,1037.1L615.0,1036.3L615.1,1036.3L616.3,1035.3L616.6,1035.1L617.5,1034.4L618.1,1033.8L618.7,1033.3L619.5,1032.6L619.9,1032.2L620.7,1031.4L621.1,1031.0L622.0,1030.1L622.3,1029.7L623.1,1028.9L623.6,1028.4L624.3,1027.6L624.8,1027.1L625.4,1026.4L626.0,1025.7L626.4,1025.2L627.2,1024.2L627.5,1023.9L628.4,1022.7L628.5,1022.7L629.4,1021.4L629.6,1021.1L630.3,1020.2L630.8,1019.4L631.2,1018.9L632.0,1017.7L632.1,1017.7L632.8,1016.5L633.3,1015.7L633.6,1015.2L634.3,1014.0L634.5,1013.7L635.0,1012.7L635.7,1011.5L635.7,1011.5L636.3,1010.3L636.9,1009.0L636.9,1009.0L637.5,1007.8L638.0,1006.5L638.1,1006.3L638.6,1005.3L639.1,1004.0L639.3,1003.3L639.6,1002.8L640.0,1001.6L640.5,1000.3L640.6,1000.1L641.0,999.1L641.4,997.8L641.8,996.8L641.9,996.6L642.3,995.4L642.8,994.1L643.0,993.7L643.3,992.9L643.8,991.6L644.2,990.7L644.4,990.4L644.9,989.1L645.4,988.1L645.5,987.9L646.1,986.7L646.6,985.7L646.8,985.4L647.5,984.2L647.8,983.6L648.3,982.9" fill="none" stroke="rgba(130,130,130,0.28)" stroke-width="0.5"/>
<path d="M495.4,982.9L496.0,983.8L496.4,984.2L497.3,985.4L497.3,985.4L498.1,986.7L498.5,987.2L498.9,987.9L499.7,989.1L499.7,989.1L500.4,990.4L500.9,991.3L501.1,991.6L501.7,992.9L502.1,993.7L502.3,994.1L502.9,995.4L503.3,996.4L503.4,996.6L503.9,997.8L504.4,999.1L504.6,999.4L504.9,1000.3L505.4,1001.6L505.8,1002.5L505.9,1002.8L506.4,1004.0L506.8,1005.3L507.0,1005.6L507.3,1006.5L507.8,1007.8L508.2,1008.7L508.3,1009.0L508.8,1010.3L509.4,1011.5L509.4,1011.5L509.9,1012.7L510.5,1014.0L510.6,1014.2L511.1,1015.2L511.8,1016.5L511.8,1016.6L512.4,1017.7L513.1,1018.9L513.1,1018.9L513.8,1020.2L514.3,1021.0L514.5,1021.4L515.3,1022.7L515.5,1023.0L516.1,1023.9L516.7,1024.9L516.9,1025.2L517.7,1026.4L517.9,1026.7L518.6,1027.6L519.1,1028.4L519.5,1028.9L520.3,1030.0L520.5,1030.1L521.4,1031.4L521.6,1031.5L522.5,1032.6L522.8,1032.9L523.6,1033.8L524.0,1034.3L524.7,1035.1L525.2,1035.5L526.0,1036.3L526.4,1036.7L527.3,1037.6L527.6,1037.8L528.8,1038.8L528.8,1038.9L530.1,1039.8L530.4,1040.0L531.3,1040.7L532.2,1041.3L532.5,1041.5L533.7,1042.2L534.3,1042.5L534.9,1042.9L536.1,1043.5L536.7,1043.8L537.3,1044.1L538.6,1044.6L539.6,1045.0L539.8,1045.1L541.0,1045.5L542.2,1045.9L543.3,1046.3L543.4,1046.3L544.6,1046.6L545.8,1046.9L547.1,1047.2L548.3,1047.4L548.7,1047.5L549.5,1047.6L550.7,1047.8L551.9,1048.0L553.1,1048.1L554.3,1048.2L555.6,1048.3L556.8,1048.3L558.0,1048.4L559.2,1048.4L560.4,1048.4L561.6,1048.4L562.8,1048.5L564.1,1048.5L565.3,1048.4L566.5,1048.4L567.7,1048.4L568.9,1048.4L570.1,1048.4L571.3,1048.4L572.6,1048.4L573.8,1048.4L575.0,1048.4L576.2,1048.4L577.4,1048.4L578.6,1048.4L579.8,1048.4L581.1,1048.4L582.3,1048.4L583.5,1048.4L584.7,1048.4L585.9,1048.4L587.1,1048.4L588.3,1048.5L589.6,1048.5L590.8,1048.4L592.0,1048.4L593.2,1048.4L594.4,1048.4L595.6,1048.3L596.8,1048.3L598.1,1048.2L599.3,1048.1L600.5,1048.0L601.7,1047.8L602.9,1047.6L603.7,1047.5L604.1,1047.4L605.3,1047.2L606.6,1046.9L607.8,1046.6L609.0,1046.3L609.1,1046.3L610.2,1045.9L611.4,1045.5L612.6,1045.1L612.8,1045.0L613.8,1044.6L615.1,1044.1L615.7,1043.8L616.3,1043.5L617.5,1042.9L618.1,1042.5L618.7,1042.2L619.9,1041.5L620.2,1041.3L621.1,1040.7L622.0,1040.0L622.3,1039.8L623.6,1038.9L623.6,1038.8L624.8,1037.8L625.1,1037.6L626.0,1036.7L626.4,1036.3L627.2,1035.5L627.7,1035.1L628.4,1034.3L628.8,1033.8L629.6,1032.9L629.9,1032.6L630.8,1031.5L631.0,1031.4L631.9,1030.1L632.1,1030.0L632.9,1028.9L633.3,1028.4L633.8,1027.6L634.5,1026.7L634.7,1026.4L635.5,1025.2L635.7,1024.9L636.3,1023.9L636.9,1023.0L637.1,1022.7L637.9,1021.4L638.1,1021.0L638.6,1020.2L639.3,1018.9L639.3,1018.9L640.0,1017.7L640.6,1016.6L640.6,1016.5L641.3,1015.2L641.8,1014.2L641.9,1014.0L642.5,1012.7L643.0,1011.5L643.0,1011.5L643.6,1010.3L644.1,1009.0L644.2,1008.7L644.6,1007.8L645.1,1006.5L645.4,1005.6L645.6,1005.3L646.0,1004.0L646.5,1002.8L646.6,1002.5L647.0,1001.6L647.5,1000.3L647.8,999.4L648.0,999.1L648.5,997.8L649.0,996.6L649.1,996.4L649.5,995.4L650.1,994.1L650.3,993.7L650.7,992.9L651.3,991.6L651.5,991.3L652.0,990.4L652.7,989.1L652.7,989.1L653.5,987.9L653.9,987.2L654.3,986.7L655.1,985.4L655.1,985.4L656.0,984.2L656.4,983.8L657.0,982.9" fill="none" stroke="rgba(130,130,130,0.28)" stroke-width="0.5"/>
<path d="M485.0,982.9L485.1,983.0L486.3,984.0L486.5,984.2L487.5,985.1L487.9,985.4L488.8,986.3L489.1,986.7L490.0,987.6L490.2,987.9L491.2,989.0L491.3,989.1L492.3,990.4L492.4,990.6L493.1,991.6L493.6,992.4L493.9,992.9L494.7,994.1L494.8,994.3L495.4,995.4L496.0,996.6L496.0,996.6L496.7,997.8L497.2,999.1L497.3,999.2L497.8,1000.3L498.3,1001.6L498.5,1002.0L498.8,1002.8L499.3,1004.0L499.7,1005.2L499.7,1005.3L500.2,1006.5L500.7,1007.8L500.9,1008.4L501.1,1009.0L501.6,1010.3L502.1,1011.5L502.1,1011.6L502.6,1012.7L503.1,1014.0L503.3,1014.6L503.6,1015.2L504.1,1016.5L504.6,1017.5L504.7,1017.7L505.2,1018.9L505.8,1020.1L505.8,1020.2L506.4,1021.4L507.0,1022.5L507.0,1022.7L507.7,1023.9L508.2,1024.9L508.3,1025.2L509.0,1026.4L509.4,1027.1L509.7,1027.6L510.4,1028.9L510.6,1029.3L511.1,1030.1L511.8,1031.3L511.9,1031.4L512.6,1032.6L513.1,1033.3L513.4,1033.8L514.2,1035.1L514.3,1035.1L515.1,1036.3L515.5,1036.8L516.0,1037.6L516.7,1038.4L517.0,1038.8L517.9,1039.9L518.0,1040.0L519.1,1041.3L519.2,1041.3L520.3,1042.5L520.4,1042.5L521.6,1043.6L521.7,1043.8L522.8,1044.6L523.3,1045.0L524.0,1045.6L525.0,1046.3L525.2,1046.4L526.4,1047.2L527.0,1047.5L527.6,1047.8L528.8,1048.5L529.4,1048.7L530.1,1049.0L531.3,1049.6L532.4,1050.0L532.5,1050.0L533.7,1050.5L534.9,1050.9L536.1,1051.2L536.2,1051.2L537.3,1051.5L538.6,1051.8L539.8,1052.1L541.0,1052.3L541.8,1052.5L542.2,1052.5L543.4,1052.7L544.6,1052.9L545.8,1053.0L547.1,1053.2L548.3,1053.2L549.5,1053.3L550.7,1053.4L551.9,1053.4L553.1,1053.4L554.3,1053.4L555.6,1053.4L556.8,1053.3L558.0,1053.3L559.2,1053.2L560.4,1053.1L561.6,1053.1L562.8,1053.0L564.1,1052.9L565.3,1052.8L566.5,1052.8L567.7,1052.7L568.9,1052.6L570.1,1052.6L571.3,1052.5L572.6,1052.5L573.8,1052.5L575.0,1052.5L576.2,1052.5L577.4,1052.5L578.6,1052.5L579.8,1052.5L581.1,1052.5L582.3,1052.6L583.5,1052.6L584.7,1052.7L585.9,1052.8L587.1,1052.8L588.3,1052.9L589.6,1053.0L590.8,1053.1L592.0,1053.1L593.2,1053.2L594.4,1053.3L595.6,1053.3L596.8,1053.4L598.1,1053.4L599.3,1053.4L600.5,1053.4L601.7,1053.4L602.9,1053.3L604.1,1053.2L605.3,1053.2L606.6,1053.0L607.8,1052.9L609.0,1052.7L610.2,1052.5L610.6,1052.5L611.4,1052.3L612.6,1052.1L613.8,1051.8L615.1,1051.5L616.2,1051.2L616.3,1051.2L617.5,1050.9L618.7,1050.5L619.9,1050.0L620.0,1050.0L621.1,1049.6L622.3,1049.0L623.0,1048.7L623.6,1048.5L624.8,1047.8L625.4,1047.5L626.0,1047.2L627.2,1046.4L627.4,1046.3L628.4,1045.6L629.1,1045.0L629.6,1044.6L630.7,1043.8L630.8,1043.6L632.0,1042.5L632.1,1042.5L633.2,1041.3L633.3,1041.3L634.4,1040.0L634.5,1039.9L635.4,1038.8L635.7,1038.4L636.4,1037.6L636.9,1036.8L637.3,1036.3L638.1,1035.1L638.2,1035.1L639.0,1033.8L639.3,1033.3L639.8,1032.6L640.5,1031.4L640.6,1031.3L641.3,1030.1L641.8,1029.3L642.0,1028.9L642.7,1027.6L643.0,1027.1L643.4,1026.4L644.1,1025.2L644.2,1024.9L644.7,1023.9L645.4,1022.7L645.4,1022.5L646.0,1021.4L646.6,1020.2L646.6,1020.1L647.2,1018.9L647.7,1017.7L647.8,1017.5L648.3,1016.5L648.8,1015.2L649.1,1014.6L649.3,1014.0L649.8,1012.7L650.3,1011.6L650.3,1011.5L650.8,1010.3L651.3,1009.0L651.5,1008.4L651.7,1007.8L652.2,1006.5L652.7,1005.3L652.7,1005.2L653.1,1004.0L653.6,1002.8L653.9,1002.0L654.1,1001.6L654.6,1000.3L655.1,999.2L655.2,999.1L655.7,997.8L656.4,996.6L656.4,996.6L657.0,995.4L657.6,994.3L657.7,994.1L658.5,992.9L658.8,992.4L659.3,991.6L660.0,990.6L660.1,990.4L661.1,989.1L661.2,989.0L662.2,987.9L662.4,987.6L663.3,986.7L663.6,986.3L664.5,985.4L664.9,985.1L665.9,984.2L666.1,984.0L667.3,983.0L667.4,982.9" fill="none" stroke="rgba(130,130,130,0.28)" stroke-width="0.5"/>
<path d="M468.0,982.9L468.1,983.0L469.3,983.5L470.5,984.0L470.9,984.2L471.8,984.5L473.0,985.0L474.0,985.4L474.2,985.5L475.4,986.0L476.6,986.6L476.8,986.7L477.8,987.2L479.0,987.9L479.0,987.9L480.3,988.7L480.9,989.1L481.5,989.5L482.6,990.4L482.7,990.5L483.9,991.5L484.0,991.6L485.1,992.7L485.3,992.9L486.3,994.0L486.4,994.1L487.4,995.4L487.5,995.6L488.3,996.6L488.8,997.4L489.0,997.8L489.8,999.1L490.0,999.5L490.4,1000.3L491.0,1001.6L491.2,1002.0L491.5,1002.8L492.0,1004.0L492.4,1004.9L492.5,1005.3L493.0,1006.5L493.5,1007.8L493.6,1008.2L493.9,1009.0L494.4,1010.3L494.8,1011.5L494.8,1011.6L495.2,1012.7L495.7,1014.0L496.0,1015.0L496.1,1015.2L496.6,1016.5L497.0,1017.7L497.3,1018.3L497.5,1018.9L498.0,1020.2L498.5,1021.2L498.6,1021.4L499.1,1022.7L499.7,1023.9L499.7,1023.9L500.3,1025.2L500.9,1026.4L500.9,1026.4L501.5,1027.6L502.1,1028.9L502.1,1028.9L502.7,1030.1L503.3,1031.4L503.3,1031.4L503.9,1032.6L504.5,1033.8L504.6,1033.9L505.1,1035.1L505.8,1036.3L505.8,1036.3L506.4,1037.6L507.0,1038.6L507.1,1038.8L507.8,1040.0L508.2,1040.8L508.5,1041.3L509.3,1042.5L509.4,1042.7L510.1,1043.8L510.6,1044.5L511.0,1045.0L511.8,1046.2L511.9,1046.3L513.0,1047.5L513.1,1047.6L514.1,1048.7L514.3,1048.9L515.4,1050.0L515.5,1050.1L516.7,1051.2L516.8,1051.2L517.9,1052.1L518.4,1052.5L519.1,1053.0L520.3,1053.7L520.3,1053.7L521.6,1054.4L522.7,1054.9L522.8,1055.0L524.0,1055.5L525.2,1056.0L525.7,1056.2L526.4,1056.4L527.6,1056.8L528.8,1057.2L529.8,1057.4L530.1,1057.5L531.3,1057.8L532.5,1058.0L533.7,1058.3L534.9,1058.5L536.1,1058.6L536.4,1058.7L537.3,1058.8L538.6,1058.9L539.8,1059.1L541.0,1059.2L542.2,1059.3L543.4,1059.3L544.6,1059.4L545.8,1059.4L547.1,1059.5L548.3,1059.5L549.5,1059.4L550.7,1059.4L551.9,1059.3L553.1,1059.3L554.3,1059.2L555.6,1059.0L556.8,1058.9L558.0,1058.7L558.1,1058.7L559.2,1058.5L560.4,1058.3L561.6,1058.2L562.8,1058.0L564.1,1057.8L565.3,1057.6L566.5,1057.5L567.0,1057.4L567.7,1057.4L568.9,1057.3L570.1,1057.2L571.3,1057.1L572.6,1057.0L573.8,1057.0L575.0,1057.0L576.2,1057.0L577.4,1057.0L578.6,1057.0L579.8,1057.0L581.1,1057.1L582.3,1057.2L583.5,1057.3L584.7,1057.4L585.4,1057.4L585.9,1057.5L587.1,1057.6L588.3,1057.8L589.6,1058.0L590.8,1058.2L592.0,1058.3L593.2,1058.5L594.3,1058.7L594.4,1058.7L595.6,1058.9L596.8,1059.0L598.1,1059.2L599.3,1059.3L600.5,1059.3L601.7,1059.4L602.9,1059.4L604.1,1059.5L605.3,1059.5L606.6,1059.4L607.8,1059.4L609.0,1059.3L610.2,1059.3L611.4,1059.2L612.6,1059.1L613.8,1058.9L615.1,1058.8L616.0,1058.7L616.3,1058.6L617.5,1058.5L618.7,1058.3L619.9,1058.0L621.1,1057.8L622.3,1057.5L622.6,1057.4L623.6,1057.2L624.8,1056.8L626.0,1056.4L626.7,1056.2L627.2,1056.0L628.4,1055.5L629.6,1055.0L629.7,1054.9L630.8,1054.4L632.1,1053.7L632.1,1053.7L633.3,1053.0L634.0,1052.5L634.5,1052.1L635.6,1051.2L635.7,1051.2L636.9,1050.1L637.0,1050.0L638.1,1048.9L638.3,1048.7L639.3,1047.6L639.4,1047.5L640.5,1046.3L640.6,1046.2L641.4,1045.0L641.8,1044.5L642.3,1043.8L643.0,1042.7L643.1,1042.5L643.9,1041.3L644.2,1040.8L644.6,1040.0L645.3,1038.8L645.4,1038.6L646.0,1037.6L646.6,1036.3L646.6,1036.3L647.3,1035.1L647.8,1033.9L647.9,1033.8L648.5,1032.6L649.1,1031.4L649.1,1031.4L649.7,1030.1L650.3,1028.9L650.3,1028.9L650.9,1027.6L651.5,1026.4L651.5,1026.4L652.1,1025.2L652.7,1023.9L652.7,1023.9L653.3,1022.7L653.8,1021.4L653.9,1021.2L654.4,1020.2L654.9,1018.9L655.1,1018.3L655.4,1017.7L655.8,1016.5L656.3,1015.2L656.4,1015.0L656.7,1014.0L657.2,1012.7L657.6,1011.6L657.6,1011.5L658.0,1010.3L658.5,1009.0L658.8,1008.2L658.9,1007.8L659.4,1006.5L659.9,1005.3L660.0,1004.9L660.4,1004.0L660.9,1002.8L661.2,1002.0L661.4,1001.6L662.0,1000.3L662.4,999.5L662.6,999.1L663.4,997.8L663.6,997.4L664.1,996.6L664.9,995.6L665.0,995.4L666.0,994.1L666.1,994.0L667.1,992.9L667.3,992.7L668.4,991.6L668.5,991.5L669.7,990.5L669.8,990.4L670.9,989.5L671.5,989.1L672.1,988.7L673.4,987.9L673.4,987.9L674.6,987.2L675.6,986.7L675.8,986.6L677.0,986.0L678.2,985.5L678.4,985.4L679.4,985.0L680.6,984.5L681.5,984.2L681.9,984.0L683.1,983.5L684.3,983.0L684.4,982.9" fill="none" stroke="rgba(130,130,130,0.28)" stroke-width="0.5"/>
<path d="M466.9,991.0L468.1,991.3L469.1,991.6L469.3,991.7L470.5,992.2L471.8,992.7L472.1,992.9L473.0,993.3L474.2,993.9L474.5,994.1L475.4,994.6L476.6,995.3L476.6,995.4L477.8,996.2L478.4,996.6L479.0,997.1L479.9,997.8L480.3,998.1L481.2,999.1L481.5,999.4L482.2,1000.3L482.7,1001.0L483.1,1001.6L483.8,1002.8L483.9,1002.9L484.5,1004.0L485.1,1005.3L485.1,1005.3L485.7,1006.5L486.2,1007.8L486.3,1008.1L486.7,1009.0L487.2,1010.3L487.5,1011.3L487.6,1011.5L488.1,1012.7L488.6,1014.0L488.8,1014.6L489.0,1015.2L489.4,1016.5L489.8,1017.7L490.0,1018.4L490.1,1018.9L490.5,1020.2L490.9,1021.4L491.2,1022.2L491.4,1022.7L491.9,1023.9L492.4,1024.8L492.6,1025.2L493.2,1026.4L493.6,1027.2L493.8,1027.6L494.5,1028.9L494.8,1029.7L495.0,1030.1L495.6,1031.4L496.0,1032.5L496.1,1032.6L496.6,1033.8L497.1,1035.1L497.3,1035.6L497.6,1036.3L498.0,1037.6L498.5,1038.7L498.5,1038.8L499.1,1040.0L499.6,1041.3L499.7,1041.4L500.2,1042.5L500.8,1043.8L500.9,1044.0L501.4,1045.0L502.0,1046.3L502.1,1046.4L502.7,1047.5L503.3,1048.6L503.4,1048.7L504.2,1050.0L504.6,1050.5L505.1,1051.2L505.8,1052.0L506.1,1052.5L507.0,1053.4L507.2,1053.7L508.2,1054.7L508.4,1054.9L509.4,1055.9L509.7,1056.2L510.6,1057.0L511.1,1057.4L511.8,1058.1L512.6,1058.7L513.1,1059.0L514.2,1059.9L514.3,1059.9L515.5,1060.6L516.5,1061.2L516.7,1061.3L517.9,1061.8L519.1,1062.4L519.2,1062.4L520.3,1062.9L521.6,1063.3L522.6,1063.6L522.8,1063.7L524.0,1064.1L525.2,1064.4L526.4,1064.7L527.2,1064.9L527.6,1065.0L528.8,1065.2L530.1,1065.4L531.3,1065.5L532.5,1065.6L533.7,1065.7L534.9,1065.8L536.1,1065.9L537.3,1065.9L538.6,1066.0L539.8,1066.0L541.0,1066.1L542.2,1066.1L542.2,1066.1L543.4,1066.2L544.6,1066.2L545.8,1066.2L547.1,1066.3L548.3,1066.3L549.5,1066.3L550.7,1066.2L551.9,1066.2L552.5,1066.1L553.1,1066.1L554.3,1065.9L555.6,1065.8L556.8,1065.5L558.0,1065.3L559.2,1065.0L559.8,1064.9L560.4,1064.7L561.6,1064.4L562.8,1064.1L564.1,1063.8L564.6,1063.6L565.3,1063.5L566.5,1063.2L567.7,1063.0L568.9,1062.9L570.1,1062.7L571.3,1062.6L572.6,1062.5L573.8,1062.5L575.0,1062.4L576.2,1062.4L576.2,1062.4L576.2,1062.4L577.4,1062.4L578.6,1062.5L579.8,1062.5L581.1,1062.6L582.3,1062.7L583.5,1062.9L584.7,1063.0L585.9,1063.2L587.1,1063.5L587.8,1063.6L588.3,1063.8L589.6,1064.1L590.8,1064.4L592.0,1064.7L592.6,1064.9L593.2,1065.0L594.4,1065.3L595.6,1065.5L596.8,1065.8L598.1,1065.9L599.3,1066.1L599.9,1066.1L600.5,1066.2L601.7,1066.2L602.9,1066.3L604.1,1066.3L605.3,1066.3L606.6,1066.2L607.8,1066.2L609.0,1066.2L610.2,1066.1L610.2,1066.1L611.4,1066.1L612.6,1066.0L613.8,1066.0L615.1,1065.9L616.3,1065.9L617.5,1065.8L618.7,1065.7L619.9,1065.6L621.1,1065.5L622.3,1065.4L623.6,1065.2L624.8,1065.0L625.2,1064.9L626.0,1064.7L627.2,1064.4L628.4,1064.1L629.6,1063.7L629.8,1063.6L630.8,1063.3L632.1,1062.9L633.2,1062.4L633.3,1062.4L634.5,1061.8L635.7,1061.3L635.9,1061.2L636.9,1060.6L638.1,1059.9L638.2,1059.9L639.3,1059.0L639.8,1058.7L640.6,1058.1L641.3,1057.4L641.8,1057.0L642.7,1056.2L643.0,1055.9L644.0,1054.9L644.2,1054.7L645.2,1053.7L645.4,1053.4L646.3,1052.5L646.6,1052.0L647.3,1051.2L647.8,1050.5L648.2,1050.0L649.0,1048.7L649.1,1048.6L649.7,1047.5L650.3,1046.4L650.4,1046.3L651.0,1045.0L651.5,1044.0L651.6,1043.8L652.2,1042.5L652.7,1041.4L652.8,1041.3L653.3,1040.0L653.9,1038.8L653.9,1038.7L654.4,1037.6L654.8,1036.3L655.1,1035.6L655.3,1035.1L655.8,1033.8L656.3,1032.6L656.4,1032.5L656.8,1031.4L657.4,1030.1L657.6,1029.7L657.9,1028.9L658.6,1027.6L658.8,1027.2L659.2,1026.4L659.8,1025.2L660.0,1024.8L660.5,1023.9L661.0,1022.7L661.2,1022.2L661.5,1021.4L661.9,1020.2L662.3,1018.9L662.4,1018.4L662.6,1017.7L663.0,1016.5L663.4,1015.2L663.6,1014.6L663.8,1014.0L664.3,1012.7L664.8,1011.5L664.9,1011.3L665.2,1010.3L665.7,1009.0L666.1,1008.1L666.2,1007.8L666.7,1006.5L667.3,1005.3L667.3,1005.3L667.9,1004.0L668.5,1002.9L668.6,1002.8L669.3,1001.6L669.7,1001.0L670.2,1000.3L670.9,999.4L671.2,999.1L672.1,998.1L672.5,997.8L673.4,997.1L674.0,996.6L674.6,996.2L675.8,995.4L675.8,995.3L677.0,994.6L677.9,994.1L678.2,993.9L679.4,993.3L680.3,992.9L680.6,992.7L681.9,992.2L683.1,991.7L683.3,991.6L684.3,991.3L685.5,991.0" fill="none" stroke="#33434f" stroke-width="0.75"/>
<path d="M466.9,1001.8L468.1,1002.3L469.3,1002.8L469.3,1002.8L470.5,1003.4L471.8,1004.0L471.9,1004.0L473.0,1004.7L473.9,1005.3L474.2,1005.5L475.4,1006.4L475.5,1006.5L476.6,1007.5L476.9,1007.8L477.8,1008.8L478.0,1009.0L479.0,1010.3L479.0,1010.3L479.9,1011.5L480.3,1012.1L480.7,1012.7L481.3,1014.0L481.5,1014.5L481.7,1015.2L482.0,1016.5L482.4,1017.7L482.7,1018.9L482.7,1018.9L483.0,1020.2L483.4,1021.4L483.7,1022.7L483.9,1023.1L484.2,1023.9L484.6,1025.2L485.1,1026.2L485.2,1026.4L485.8,1027.6L486.3,1028.7L486.4,1028.9L487.0,1030.1L487.5,1031.1L487.7,1031.4L488.3,1032.6L488.7,1033.8L488.8,1034.0L489.1,1035.1L489.4,1036.3L489.8,1037.6L490.0,1038.4L490.1,1038.8L490.4,1040.0L490.8,1041.3L491.2,1042.4L491.2,1042.5L491.7,1043.8L492.2,1045.0L492.4,1045.6L492.7,1046.3L493.3,1047.5L493.6,1048.2L493.9,1048.7L494.5,1050.0L494.8,1050.5L495.2,1051.2L495.9,1052.5L496.0,1052.7L496.6,1053.7L497.3,1054.8L497.4,1054.9L498.2,1056.2L498.5,1056.6L499.1,1057.4L499.7,1058.1L500.2,1058.7L500.9,1059.4L501.4,1059.9L502.1,1060.6L502.8,1061.2L503.3,1061.6L504.4,1062.4L504.6,1062.5L505.8,1063.3L506.2,1063.6L507.0,1064.1L508.2,1064.8L508.3,1064.9L509.4,1065.6L510.3,1066.1L510.6,1066.3L511.8,1067.1L512.2,1067.4L513.1,1067.9L514.3,1068.6L514.3,1068.6L515.5,1069.2L516.7,1069.8L516.8,1069.8L517.9,1070.3L519.1,1070.8L520.1,1071.1L520.3,1071.2L521.6,1071.5L522.8,1071.9L524.0,1072.1L525.1,1072.3L525.2,1072.4L526.4,1072.5L527.6,1072.7L528.8,1072.8L530.1,1072.9L531.3,1072.9L532.5,1073.0L533.7,1073.0L534.9,1073.0L536.1,1073.0L537.3,1073.0L538.6,1073.0L539.8,1073.1L541.0,1073.1L542.2,1073.2L543.4,1073.2L544.6,1073.3L545.8,1073.4L547.1,1073.5L547.6,1073.6L548.3,1073.6L549.5,1073.7L550.7,1073.8L551.9,1073.9L553.1,1074.0L554.3,1074.0L555.6,1074.0L556.8,1074.0L558.0,1073.9L559.2,1073.8L560.4,1073.6L560.4,1073.6L561.6,1073.3L562.8,1073.1L564.1,1072.8L565.3,1072.6L566.5,1072.3L566.5,1072.3L567.7,1072.1L568.9,1071.9L570.1,1071.7L571.3,1071.5L572.6,1071.4L573.8,1071.3L575.0,1071.2L576.2,1071.2L577.4,1071.2L578.6,1071.3L579.8,1071.4L581.1,1071.5L582.3,1071.7L583.5,1071.9L584.7,1072.1L585.9,1072.3L585.9,1072.3L587.1,1072.6L588.3,1072.8L589.6,1073.1L590.8,1073.3L592.0,1073.6L592.0,1073.6L593.2,1073.8L594.4,1073.9L595.6,1074.0L596.8,1074.0L598.1,1074.0L599.3,1074.0L600.5,1073.9L601.7,1073.8L602.9,1073.7L604.1,1073.6L604.8,1073.6L605.3,1073.5L606.6,1073.4L607.8,1073.3L609.0,1073.2L610.2,1073.2L611.4,1073.1L612.6,1073.1L613.8,1073.0L615.1,1073.0L616.3,1073.0L617.5,1073.0L618.7,1073.0L619.9,1073.0L621.1,1072.9L622.3,1072.9L623.6,1072.8L624.8,1072.7L626.0,1072.5L627.2,1072.4L627.3,1072.3L628.4,1072.1L629.6,1071.9L630.8,1071.5L632.1,1071.2L632.3,1071.1L633.3,1070.8L634.5,1070.3L635.6,1069.8L635.7,1069.8L636.9,1069.2L638.1,1068.6L638.1,1068.6L639.3,1067.9L640.2,1067.4L640.6,1067.1L641.8,1066.3L642.1,1066.1L643.0,1065.6L644.1,1064.9L644.2,1064.8L645.4,1064.1L646.2,1063.6L646.6,1063.3L647.8,1062.5L648.0,1062.4L649.1,1061.6L649.6,1061.2L650.3,1060.6L651.0,1059.9L651.5,1059.4L652.2,1058.7L652.7,1058.1L653.3,1057.4L653.9,1056.6L654.2,1056.2L655.0,1054.9L655.1,1054.8L655.8,1053.7L656.4,1052.7L656.5,1052.5L657.2,1051.2L657.6,1050.5L657.9,1050.0L658.5,1048.7L658.8,1048.2L659.1,1047.5L659.7,1046.3L660.0,1045.6L660.2,1045.0L660.7,1043.8L661.2,1042.5L661.2,1042.4L661.6,1041.3L662.0,1040.0L662.3,1038.8L662.4,1038.4L662.6,1037.6L663.0,1036.3L663.3,1035.1L663.6,1034.0L663.7,1033.8L664.1,1032.6L664.7,1031.4L664.9,1031.1L665.4,1030.1L666.0,1028.9L666.1,1028.7L666.6,1027.6L667.2,1026.4L667.3,1026.2L667.8,1025.2L668.2,1023.9L668.5,1023.1L668.7,1022.7L669.0,1021.4L669.4,1020.2L669.7,1018.9L669.7,1018.9L670.0,1017.7L670.4,1016.5L670.7,1015.2L670.9,1014.5L671.1,1014.0L671.7,1012.7L672.1,1012.1L672.5,1011.5L673.4,1010.3L673.4,1010.3L674.4,1009.0L674.6,1008.8L675.5,1007.8L675.8,1007.5L676.9,1006.5L677.0,1006.4L678.2,1005.5L678.5,1005.3L679.4,1004.7L680.5,1004.0L680.6,1004.0L681.9,1003.4L683.1,1002.8L683.1,1002.8L684.3,1002.3L685.5,1001.8" fill="none" stroke="rgba(130,130,130,0.28)" stroke-width="0.5"/>
<path d="M466.9,1024.6L467.1,1025.2L467.6,1026.4L468.0,1027.6L468.1,1027.9L468.4,1028.9L468.7,1030.1L468.9,1031.4L469.3,1032.6L469.3,1032.7L469.8,1033.8L470.3,1035.1L470.5,1035.6L470.9,1036.3L471.4,1037.6L471.8,1038.4L471.9,1038.8L472.4,1040.0L472.8,1041.3L473.0,1041.7L473.2,1042.5L473.6,1043.8L473.9,1045.0L474.2,1046.3L474.2,1046.3L474.4,1047.5L474.7,1048.7L474.9,1050.0L475.2,1051.2L475.4,1052.2L475.5,1052.5L475.7,1053.7L476.0,1054.9L476.4,1056.2L476.6,1056.8L476.8,1057.4L477.4,1058.7L477.8,1059.6L478.0,1059.9L478.7,1061.2L479.0,1061.7L479.5,1062.4L480.3,1063.3L480.5,1063.6L481.5,1064.7L481.7,1064.9L482.7,1065.8L483.0,1066.1L483.9,1066.8L484.6,1067.4L485.1,1067.7L486.3,1068.5L486.5,1068.6L487.5,1069.2L488.7,1069.8L488.8,1069.9L490.0,1070.5L491.1,1071.1L491.2,1071.1L492.4,1071.7L493.6,1072.2L493.8,1072.3L494.8,1072.8L496.0,1073.3L496.8,1073.6L497.3,1073.8L498.5,1074.3L499.7,1074.7L499.9,1074.8L500.9,1075.2L502.1,1075.6L503.2,1076.1L503.3,1076.1L504.6,1076.5L505.8,1077.0L506.8,1077.3L507.0,1077.4L508.2,1077.8L509.4,1078.1L510.6,1078.5L510.8,1078.5L511.8,1078.8L513.1,1079.2L514.3,1079.5L515.5,1079.7L515.7,1079.8L516.7,1080.0L517.9,1080.2L519.1,1080.4L520.3,1080.6L521.6,1080.7L522.8,1080.9L524.0,1080.9L525.2,1081.0L525.3,1081.0L526.4,1081.1L527.6,1081.1L528.8,1081.1L530.1,1081.1L531.3,1081.0L532.0,1081.0L532.5,1081.0L533.7,1081.0L534.9,1080.9L536.1,1080.8L537.3,1080.8L538.6,1080.8L539.8,1080.8L541.0,1080.8L542.2,1080.9L542.8,1081.0L543.4,1081.1L544.6,1081.3L545.8,1081.5L547.1,1081.7L548.3,1082.0L549.5,1082.2L550.0,1082.3M602.4,1082.3L602.9,1082.2L604.1,1082.0L605.3,1081.7L606.6,1081.5L607.8,1081.3L609.0,1081.1L609.6,1081.0L610.2,1080.9L611.4,1080.8L612.6,1080.8L613.8,1080.8L615.1,1080.8L616.3,1080.8L617.5,1080.9L618.7,1081.0L619.9,1081.0L620.4,1081.0L621.1,1081.0L622.3,1081.1L623.6,1081.1L624.8,1081.1L626.0,1081.1L627.1,1081.0L627.2,1081.0L628.4,1080.9L629.6,1080.9L630.8,1080.7L632.1,1080.6L633.3,1080.4L634.5,1080.2L635.7,1080.0L636.7,1079.8L636.9,1079.7L638.1,1079.5L639.3,1079.2L640.6,1078.8L641.6,1078.5L641.8,1078.5L643.0,1078.1L644.2,1077.8L645.4,1077.4L645.6,1077.3L646.6,1077.0L647.8,1076.5L649.1,1076.1L649.2,1076.1L650.3,1075.6L651.5,1075.2L652.5,1074.8L652.7,1074.7L653.9,1074.3L655.1,1073.8L655.6,1073.6L656.4,1073.3L657.6,1072.8L658.6,1072.3L658.8,1072.2L660.0,1071.7L661.2,1071.1L661.3,1071.1L662.4,1070.5L663.6,1069.9L663.7,1069.8L664.9,1069.2L665.9,1068.6L666.1,1068.5L667.3,1067.7L667.8,1067.4L668.5,1066.8L669.4,1066.1L669.7,1065.8L670.7,1064.9L670.9,1064.7L671.9,1063.6L672.1,1063.3L672.9,1062.4L673.4,1061.7L673.7,1061.2L674.4,1059.9L674.6,1059.6L675.0,1058.7L675.6,1057.4L675.8,1056.8L676.0,1056.2L676.4,1054.9L676.7,1053.7L676.9,1052.5L677.0,1052.2L677.2,1051.2L677.5,1050.0L677.7,1048.7L678.0,1047.5L678.2,1046.3L678.2,1046.3L678.5,1045.0L678.8,1043.8L679.2,1042.5L679.4,1041.7L679.6,1041.3L680.0,1040.0L680.5,1038.8L680.6,1038.4L681.0,1037.6L681.5,1036.3L681.9,1035.6L682.1,1035.1L682.6,1033.8L683.1,1032.7L683.1,1032.6L683.5,1031.4L683.7,1030.1L684.0,1028.9L684.3,1027.9L684.4,1027.6L684.8,1026.4L685.3,1025.2L685.5,1024.6" fill="none" stroke="rgba(130,130,130,0.28)" stroke-width="0.5"/></g>
<clipPath id="clipF"><rect x="704.8" y="983.4" width="213.8" height="95.2"/></clipPath>
<g clip-path="url(#clipF)"><path d="M703.6,981.0L704.9,981.0L705.5,981.0L704.9,981.3L703.6,981.7L702.4,982.1L702.4,981.0ZM803.4,981.0L804.6,981.0L805.8,981.0L807.0,981.0L808.3,981.0L809.5,981.0L810.7,981.0L811.9,981.0L813.1,981.0L814.3,981.0L815.5,981.0L816.8,981.0L818.0,981.0L819.2,981.0L820.4,981.0L820.9,981.0L820.4,981.2L819.2,981.7L818.0,982.1L817.5,982.3L816.8,982.5L815.5,982.8L814.3,983.1L813.1,983.3L811.9,983.4L810.7,983.3L809.5,983.1L808.3,982.8L807.0,982.5L806.3,982.3L805.8,982.1L804.6,981.7L803.4,981.2L802.9,981.0ZM918.9,981.0L920.2,981.0L921.4,981.0L921.4,982.1L920.2,981.7L918.9,981.3L918.3,981.0Z" fill="#6293c8" stroke="#6293c8" stroke-width="0.3" fill-rule="evenodd"/>
<path d="M703.6,981.7L704.9,981.3L705.5,981.0L706.1,981.0L707.3,981.0L708.5,981.0L709.7,981.0L710.9,981.0L712.2,981.0L713.4,981.0L714.6,981.0L715.8,981.0L717.0,981.0L718.2,981.0L719.5,981.0L720.7,981.0L721.9,981.0L723.1,981.0L724.3,981.0L725.5,981.0L726.7,981.0L728.0,981.0L729.2,981.0L730.4,981.0L731.6,981.0L732.8,981.0L734.0,981.0L735.3,981.0L736.5,981.0L737.7,981.0L738.9,981.0L739.2,981.0L738.9,981.1L737.7,981.6L736.5,982.1L736.0,982.3L735.3,982.5L734.0,982.9L732.8,983.3L732.3,983.5L731.6,983.7L730.4,984.1L729.2,984.4L728.0,984.8L728.0,984.8L726.7,985.1L725.5,985.4L724.3,985.7L723.2,986.0L723.1,986.0L721.9,986.4L720.7,986.7L719.5,987.0L718.3,987.3L718.2,987.3L717.0,987.6L715.8,988.0L714.6,988.3L713.8,988.5L713.4,988.7L712.2,989.0L710.9,989.3L709.7,989.6L709.2,989.8L708.5,990.0L707.3,990.3L706.1,990.6L704.9,991.0L704.8,991.0L703.6,991.7L702.8,992.3L702.4,992.6L702.4,992.3L702.4,991.0L702.4,989.8L702.4,988.5L702.4,987.3L702.4,986.0L702.4,984.8L702.4,983.5L702.4,982.3L702.4,982.1ZM776.6,981.0L777.8,981.0L779.1,981.0L780.3,981.0L781.5,981.0L782.7,981.0L783.9,981.0L785.1,981.0L786.4,981.0L787.6,981.0L788.8,981.0L790.0,981.0L791.2,981.0L792.4,981.0L793.7,981.0L794.9,981.0L796.1,981.0L797.3,981.0L798.5,981.0L799.7,981.0L801.0,981.0L802.2,981.0L802.9,981.0L803.4,981.2L804.6,981.7L805.8,982.1L806.3,982.3L807.0,982.5L808.3,982.8L809.5,983.1L810.7,983.3L811.9,983.4L813.1,983.3L814.3,983.1L815.5,982.8L816.8,982.5L817.5,982.3L818.0,982.1L819.2,981.7L820.4,981.2L820.9,981.0L821.6,981.0L822.8,981.0L824.1,981.0L825.3,981.0L826.5,981.0L827.7,981.0L828.9,981.0L830.1,981.0L831.4,981.0L832.6,981.0L833.8,981.0L835.0,981.0L836.2,981.0L837.4,981.0L838.7,981.0L839.9,981.0L841.1,981.0L842.3,981.0L843.5,981.0L844.7,981.0L846.0,981.0L847.2,981.0L847.8,981.0L847.2,981.3L846.0,981.9L845.2,982.3L844.7,982.5L843.5,983.1L842.6,983.5L842.3,983.7L841.1,984.2L839.9,984.8L839.9,984.8L838.7,985.4L837.4,985.9L837.2,986.0L836.2,986.4L835.0,987.0L834.3,987.3L833.8,987.5L832.6,988.0L831.4,988.5L831.2,988.5L830.1,989.0L828.9,989.4L828.1,989.8L827.7,989.9L826.5,990.3L825.3,990.8L824.5,991.0L824.1,991.2L822.8,991.6L821.6,991.9L820.4,992.3L820.4,992.3L819.2,992.6L818.0,992.9L816.8,993.1L815.5,993.3L814.3,993.4L813.1,993.4L811.9,993.4L810.7,993.4L809.5,993.4L808.3,993.3L807.0,993.1L805.8,992.9L804.6,992.6L803.4,992.3L803.4,992.3L802.2,991.9L801.0,991.6L799.7,991.2L799.3,991.0L798.5,990.8L797.3,990.3L796.1,989.9L795.7,989.8L794.9,989.4L793.7,989.0L792.6,988.5L792.4,988.5L791.2,988.0L790.0,987.5L789.5,987.3L788.8,987.0L787.6,986.4L786.6,986.0L786.4,985.9L785.1,985.4L783.9,984.8L783.9,984.8L782.7,984.2L781.5,983.7L781.2,983.5L780.3,983.1L779.1,982.5L778.6,982.3L777.8,981.9L776.6,981.3L776.0,981.0ZM884.9,981.0L886.1,981.0L887.3,981.0L888.5,981.0L889.8,981.0L891.0,981.0L892.2,981.0L893.4,981.0L894.6,981.0L895.8,981.0L897.1,981.0L898.3,981.0L899.5,981.0L900.7,981.0L901.9,981.0L903.1,981.0L904.3,981.0L905.6,981.0L906.8,981.0L908.0,981.0L909.2,981.0L910.4,981.0L911.6,981.0L912.9,981.0L914.1,981.0L915.3,981.0L916.5,981.0L917.7,981.0L918.3,981.0L918.9,981.3L920.2,981.7L921.4,982.1L921.4,982.3L921.4,983.5L921.4,984.8L921.4,986.0L921.4,987.3L921.4,988.5L921.4,989.8L921.4,991.0L921.4,992.3L921.4,992.6L921.0,992.3L920.2,991.7L919.0,991.0L918.9,991.0L917.7,990.6L916.5,990.3L915.3,990.0L914.6,989.8L914.1,989.6L912.9,989.3L911.6,989.0L910.4,988.7L910.0,988.5L909.2,988.3L908.0,988.0L906.8,987.6L905.6,987.3L905.5,987.3L904.3,987.0L903.1,986.7L901.9,986.4L900.7,986.0L900.6,986.0L899.5,985.7L898.3,985.4L897.1,985.1L895.8,984.8L895.8,984.8L894.6,984.4L893.4,984.1L892.2,983.7L891.5,983.5L891.0,983.3L889.8,982.9L888.5,982.5L887.8,982.3L887.3,982.1L886.1,981.6L884.9,981.1L884.6,981.0Z" fill="#6496ca" stroke="#6496ca" stroke-width="0.3" fill-rule="evenodd"/>
<path d="M736.5,982.1L737.7,981.6L738.9,981.1L739.2,981.0L740.1,981.0L741.3,981.0L742.6,981.0L743.8,981.0L745.0,981.0L746.2,981.0L747.4,981.0L748.6,981.0L749.9,981.0L751.1,981.0L752.3,981.0L753.5,981.0L754.7,981.0L755.9,981.0L757.2,981.0L758.4,981.0L759.6,981.0L760.8,981.0L762.0,981.0L763.2,981.0L764.5,981.0L765.7,981.0L766.9,981.0L768.1,981.0L769.3,981.0L770.5,981.0L771.8,981.0L773.0,981.0L774.2,981.0L775.4,981.0L776.0,981.0L776.6,981.3L777.8,981.9L778.6,982.3L779.1,982.5L780.3,983.1L781.2,983.5L781.5,983.7L782.7,984.2L783.9,984.8L783.9,984.8L785.1,985.4L786.4,985.9L786.6,986.0L787.6,986.4L788.8,987.0L789.5,987.3L790.0,987.5L791.2,988.0L792.4,988.5L792.6,988.5L793.7,989.0L794.9,989.4L795.7,989.8L796.1,989.9L797.3,990.3L798.5,990.8L799.3,991.0L799.7,991.2L801.0,991.6L802.2,991.9L803.4,992.3L803.4,992.3L804.6,992.6L805.8,992.9L807.0,993.1L808.3,993.3L809.5,993.4L810.7,993.4L811.9,993.4L813.1,993.4L814.3,993.4L815.5,993.3L816.8,993.1L818.0,992.9L819.2,992.6L820.4,992.3L820.4,992.3L821.6,991.9L822.8,991.6L824.1,991.2L824.5,991.0L825.3,990.8L826.5,990.3L827.7,989.9L828.1,989.8L828.9,989.4L830.1,989.0L831.2,988.5L831.4,988.5L832.6,988.0L833.8,987.5L834.3,987.3L835.0,987.0L836.2,986.4L837.2,986.0L837.4,985.9L838.7,985.4L839.9,984.8L839.9,984.8L841.1,984.2L842.3,983.7L842.6,983.5L843.5,983.1L844.7,982.5L845.2,982.3L846.0,981.9L847.2,981.3L847.8,981.0L848.4,981.0L849.6,981.0L850.8,981.0L852.0,981.0L853.3,981.0L854.5,981.0L855.7,981.0L856.9,981.0L858.1,981.0L859.3,981.0L860.6,981.0L861.8,981.0L863.0,981.0L864.2,981.0L865.4,981.0L866.6,981.0L867.9,981.0L869.1,981.0L870.3,981.0L871.5,981.0L872.7,981.0L873.9,981.0L875.2,981.0L876.4,981.0L877.6,981.0L878.8,981.0L880.0,981.0L881.2,981.0L882.5,981.0L883.7,981.0L884.6,981.0L884.9,981.1L886.1,981.6L887.3,982.1L887.8,982.3L888.5,982.5L889.8,982.9L891.0,983.3L891.5,983.5L892.2,983.7L893.4,984.1L894.6,984.4L895.8,984.8L895.8,984.8L897.1,985.1L898.3,985.4L899.5,985.7L900.6,986.0L900.7,986.0L901.9,986.4L903.1,986.7L904.3,987.0L905.5,987.3L905.6,987.3L906.8,987.6L908.0,988.0L909.2,988.3L910.0,988.5L910.4,988.7L911.6,989.0L912.9,989.3L914.1,989.6L914.6,989.8L915.3,990.0L916.5,990.3L917.7,990.6L918.9,991.0L919.0,991.0L920.2,991.7L921.0,992.3L921.4,992.6L921.4,993.5L921.4,994.8L921.4,996.0L921.4,997.3L921.4,998.5L921.4,999.8L921.4,1001.0L921.4,1002.3L921.4,1003.5L921.4,1004.8L921.4,1006.0L921.4,1007.3L921.4,1008.5L921.4,1009.8L921.4,1011.0L921.4,1011.2L920.2,1011.1L920.0,1011.0L918.9,1010.7L917.7,1010.2L917.0,1009.8L916.5,1009.5L915.3,1008.7L915.0,1008.5L914.1,1007.8L913.3,1007.3L912.9,1006.9L911.7,1006.0L911.6,1006.0L910.4,1005.1L909.9,1004.8L909.2,1004.3L908.1,1003.5L908.0,1003.5L906.8,1002.7L905.9,1002.3L905.6,1002.1L904.3,1001.5L903.2,1001.0L903.1,1001.0L901.9,1000.5L900.7,1000.0L899.9,999.8L899.5,999.6L898.3,999.3L897.1,998.9L895.8,998.6L895.3,998.5L894.6,998.3L893.4,998.1L892.2,997.9L891.0,997.7L889.8,997.5L888.5,997.3L888.1,997.3L887.3,997.2L886.1,997.0L884.9,996.9L883.7,996.8L882.5,996.8L881.2,996.7L880.0,996.7L878.8,996.7L877.6,996.7L876.4,996.6L875.2,996.6L873.9,996.6L872.7,996.6L871.5,996.5L870.3,996.2L869.7,996.0L869.1,995.8L867.9,995.3L866.6,994.9L866.2,994.8L865.4,994.5L864.2,994.1L863.0,993.8L861.8,993.6L861.0,993.5L860.6,993.5L859.3,993.4L858.1,993.4L856.9,993.5L856.1,993.5L855.7,993.5L854.5,993.7L853.3,993.8L852.0,994.0L850.8,994.1L849.6,994.3L848.4,994.5L847.3,994.8L847.2,994.8L846.0,995.0L844.7,995.3L843.5,995.6L842.3,995.9L841.8,996.0L841.1,996.2L839.9,996.5L838.7,996.9L837.4,997.2L837.3,997.3L836.2,997.6L835.0,998.0L833.8,998.4L833.5,998.5L832.6,998.8L831.4,999.3L830.1,999.7L830.0,999.8L828.9,1000.2L827.7,1000.7L826.8,1001.0L826.5,1001.1L825.3,1001.6L824.1,1002.2L823.8,1002.3L822.8,1002.7L821.6,1003.2L820.8,1003.5L820.4,1003.7L819.2,1004.2L818.0,1004.6L817.6,1004.8L816.8,1005.0L815.5,1005.4L814.3,1005.7L813.1,1005.9L811.9,1006.0L811.9,1006.0L811.9,1006.0L810.7,1005.9L809.5,1005.7L808.3,1005.4L807.0,1005.0L806.2,1004.8L805.8,1004.6L804.6,1004.2L803.4,1003.7L803.0,1003.5L802.2,1003.2L801.0,1002.7L800.0,1002.3L799.7,1002.2L798.5,1001.6L797.3,1001.1L797.0,1001.0L796.1,1000.7L794.9,1000.2L793.8,999.8L793.7,999.7L792.4,999.3L791.2,998.8L790.3,998.5L790.0,998.4L788.8,998.0L787.6,997.6L786.5,997.3L786.4,997.2L785.1,996.9L783.9,996.5L782.7,996.2L782.0,996.0L781.5,995.9L780.3,995.6L779.1,995.3L777.8,995.0L776.6,994.8L776.5,994.8L775.4,994.5L774.2,994.3L773.0,994.1L771.8,994.0L770.5,993.8L769.3,993.7L768.1,993.5L767.7,993.5L766.9,993.5L765.7,993.4L764.5,993.4L763.2,993.5L762.8,993.5L762.0,993.6L760.8,993.8L759.6,994.1L758.4,994.5L757.6,994.8L757.2,994.9L755.9,995.3L754.7,995.8L754.1,996.0L753.5,996.2L752.3,996.5L751.1,996.6L749.9,996.6L748.6,996.6L747.4,996.6L746.2,996.7L745.0,996.7L743.8,996.7L742.6,996.7L741.3,996.8L740.1,996.8L738.9,996.9L737.7,997.0L736.5,997.2L735.7,997.3L735.3,997.3L734.0,997.5L732.8,997.7L731.6,997.9L730.4,998.1L729.2,998.3L728.5,998.5L728.0,998.6L726.7,998.9L725.5,999.3L724.3,999.6L723.9,999.8L723.1,1000.0L721.9,1000.5L720.7,1001.0L720.6,1001.0L719.5,1001.5L718.2,1002.1L717.9,1002.3L717.0,1002.7L715.8,1003.5L715.7,1003.5L714.6,1004.3L713.9,1004.8L713.4,1005.1L712.2,1006.0L712.1,1006.0L710.9,1006.9L710.5,1007.3L709.7,1007.8L708.8,1008.5L708.5,1008.7L707.3,1009.5L706.8,1009.8L706.1,1010.2L704.9,1010.7L703.8,1011.0L703.6,1011.1L702.4,1011.2L702.4,1011.0L702.4,1009.8L702.4,1008.5L702.4,1007.3L702.4,1006.0L702.4,1004.8L702.4,1003.5L702.4,1002.3L702.4,1001.0L702.4,999.8L702.4,998.5L702.4,997.3L702.4,996.0L702.4,994.8L702.4,993.5L702.4,992.6L702.8,992.3L703.6,991.7L704.8,991.0L704.9,991.0L706.1,990.6L707.3,990.3L708.5,990.0L709.2,989.8L709.7,989.6L710.9,989.3L712.2,989.0L713.4,988.7L713.8,988.5L714.6,988.3L715.8,988.0L717.0,987.6L718.2,987.3L718.3,987.3L719.5,987.0L720.7,986.7L721.9,986.4L723.1,986.0L723.2,986.0L724.3,985.7L725.5,985.4L726.7,985.1L728.0,984.8L728.0,984.8L729.2,984.4L730.4,984.1L731.6,983.7L732.3,983.5L732.8,983.3L734.0,982.9L735.3,982.5L736.0,982.3Z" fill="#6a9ccd" stroke="#6a9ccd" stroke-width="0.3" fill-rule="evenodd"/>
<path d="M763.2,993.5L764.5,993.4L765.7,993.4L766.9,993.5L767.7,993.5L768.1,993.5L769.3,993.7L770.5,993.8L771.8,994.0L773.0,994.1L774.2,994.3L775.4,994.5L776.5,994.8L776.6,994.8L777.8,995.0L779.1,995.3L780.3,995.6L781.5,995.9L782.0,996.0L782.7,996.2L783.9,996.5L785.1,996.9L786.4,997.2L786.5,997.3L787.6,997.6L788.8,998.0L790.0,998.4L790.3,998.5L791.2,998.8L792.4,999.3L793.7,999.7L793.8,999.8L794.9,1000.2L796.1,1000.7L797.0,1001.0L797.3,1001.1L798.5,1001.6L799.7,1002.2L800.0,1002.3L801.0,1002.7L802.2,1003.2L803.0,1003.5L803.4,1003.7L804.6,1004.2L805.8,1004.6L806.2,1004.8L807.0,1005.0L808.3,1005.4L809.5,1005.7L810.7,1005.9L811.9,1006.0L811.9,1006.0L811.9,1006.0L813.1,1005.9L814.3,1005.7L815.5,1005.4L816.8,1005.0L817.6,1004.8L818.0,1004.6L819.2,1004.2L820.4,1003.7L820.8,1003.5L821.6,1003.2L822.8,1002.7L823.8,1002.3L824.1,1002.2L825.3,1001.6L826.5,1001.1L826.8,1001.0L827.7,1000.7L828.9,1000.2L830.0,999.8L830.1,999.7L831.4,999.3L832.6,998.8L833.5,998.5L833.8,998.4L835.0,998.0L836.2,997.6L837.3,997.3L837.4,997.2L838.7,996.9L839.9,996.5L841.1,996.2L841.8,996.0L842.3,995.9L843.5,995.6L844.7,995.3L846.0,995.0L847.2,994.8L847.3,994.8L848.4,994.5L849.6,994.3L850.8,994.1L852.0,994.0L853.3,993.8L854.5,993.7L855.7,993.5L856.1,993.5L856.9,993.5L858.1,993.4L859.3,993.4L860.6,993.5L861.0,993.5L861.8,993.6L863.0,993.8L864.2,994.1L865.4,994.5L866.2,994.8L866.6,994.9L867.9,995.3L869.1,995.8L869.7,996.0L870.3,996.2L871.5,996.5L872.7,996.6L873.9,996.6L875.2,996.6L876.4,996.6L877.6,996.7L878.8,996.7L880.0,996.7L881.2,996.7L882.5,996.8L883.7,996.8L884.9,996.9L886.1,997.0L887.3,997.2L888.1,997.3L888.5,997.3L889.8,997.5L891.0,997.7L892.2,997.9L893.4,998.1L894.6,998.3L895.3,998.5L895.8,998.6L897.1,998.9L898.3,999.3L899.5,999.6L899.9,999.8L900.7,1000.0L901.9,1000.5L903.1,1001.0L903.2,1001.0L904.3,1001.5L905.6,1002.1L905.9,1002.3L906.8,1002.7L908.0,1003.5L908.1,1003.5L909.2,1004.3L909.9,1004.8L910.4,1005.1L911.6,1006.0L911.7,1006.0L912.9,1006.9L913.3,1007.3L914.1,1007.8L915.0,1008.5L915.3,1008.7L916.5,1009.5L917.0,1009.8L917.7,1010.2L918.9,1010.7L920.0,1011.0L920.2,1011.1L921.4,1011.2L921.4,1012.3L921.4,1013.5L921.4,1014.8L921.4,1016.0L921.4,1017.3L921.4,1018.5L921.4,1018.6L921.0,1018.5L920.2,1018.3L918.9,1017.9L917.7,1017.6L916.5,1017.3L916.4,1017.3L915.3,1017.0L914.1,1016.6L912.9,1016.2L912.4,1016.0L911.6,1015.7L910.4,1015.2L909.3,1014.8L909.2,1014.7L908.0,1014.2L906.8,1013.6L906.5,1013.5L905.6,1013.1L904.3,1012.5L903.7,1012.3L903.1,1012.0L901.9,1011.5L900.8,1011.0L900.7,1011.0L899.5,1010.5L898.3,1010.0L897.5,1009.8L897.1,1009.6L895.8,1009.2L894.6,1008.8L893.4,1008.5L893.4,1008.5L892.2,1008.2L891.0,1007.9L889.8,1007.6L888.5,1007.4L887.9,1007.3L887.3,1007.2L886.1,1006.9L884.9,1006.8L883.7,1006.6L882.5,1006.4L881.2,1006.3L880.0,1006.2L878.8,1006.1L878.2,1006.0L877.6,1006.0L876.4,1005.8L875.2,1005.7L873.9,1005.6L872.7,1005.5L871.5,1005.4L870.3,1005.3L869.1,1005.2L867.9,1005.1L866.6,1005.0L865.4,1004.9L864.2,1004.8L863.4,1004.8L863.0,1004.7L861.8,1004.7L860.6,1004.6L859.3,1004.5L858.1,1004.3L856.9,1004.2L855.7,1004.1L854.5,1004.0L853.3,1003.9L852.0,1003.9L850.8,1003.8L849.6,1003.8L848.4,1003.8L847.2,1003.9L846.0,1004.0L844.7,1004.1L843.5,1004.3L842.3,1004.5L841.1,1004.7L840.7,1004.8L839.9,1004.9L838.7,1005.2L837.4,1005.5L836.2,1005.8L835.4,1006.0L835.0,1006.1L833.8,1006.5L832.6,1006.8L831.4,1007.2L831.3,1007.3L830.1,1007.6L828.9,1008.0L827.7,1008.5L827.6,1008.5L826.5,1008.9L825.3,1009.3L824.1,1009.8L824.0,1009.8L822.8,1010.2L821.6,1010.6L820.4,1011.0L820.3,1011.0L819.2,1011.3L818.0,1011.7L816.8,1012.0L815.6,1012.3L815.5,1012.3L814.3,1012.5L813.1,1012.6L811.9,1012.7L810.7,1012.6L809.5,1012.5L808.3,1012.3L808.2,1012.3L807.0,1012.0L805.8,1011.7L804.6,1011.3L803.5,1011.0L803.4,1011.0L802.2,1010.6L801.0,1010.2L799.8,1009.8L799.7,1009.8L798.5,1009.3L797.3,1008.9L796.2,1008.5L796.1,1008.5L794.9,1008.0L793.7,1007.6L792.5,1007.3L792.4,1007.2L791.2,1006.8L790.0,1006.5L788.8,1006.1L788.4,1006.0L787.6,1005.8L786.4,1005.5L785.1,1005.2L783.9,1004.9L783.1,1004.8L782.7,1004.7L781.5,1004.5L780.3,1004.3L779.1,1004.1L777.8,1004.0L776.6,1003.9L775.4,1003.8L774.2,1003.8L773.0,1003.8L771.8,1003.9L770.5,1003.9L769.3,1004.0L768.1,1004.1L766.9,1004.2L765.7,1004.3L764.5,1004.5L763.2,1004.6L762.0,1004.7L760.8,1004.7L760.4,1004.8L759.6,1004.8L758.4,1004.9L757.2,1005.0L755.9,1005.1L754.7,1005.2L753.5,1005.3L752.3,1005.4L751.1,1005.5L749.9,1005.6L748.6,1005.7L747.4,1005.8L746.2,1006.0L745.6,1006.0L745.0,1006.1L743.8,1006.2L742.6,1006.3L741.3,1006.4L740.1,1006.6L738.9,1006.8L737.7,1006.9L736.5,1007.2L735.9,1007.3L735.3,1007.4L734.0,1007.6L732.8,1007.9L731.6,1008.2L730.4,1008.5L730.4,1008.5L729.2,1008.8L728.0,1009.2L726.7,1009.6L726.3,1009.8L725.5,1010.0L724.3,1010.5L723.1,1011.0L723.0,1011.0L721.9,1011.5L720.7,1012.0L720.1,1012.3L719.5,1012.5L718.2,1013.1L717.3,1013.5L717.0,1013.6L715.8,1014.2L714.6,1014.7L714.5,1014.8L713.4,1015.2L712.2,1015.7L711.4,1016.0L710.9,1016.2L709.7,1016.6L708.5,1017.0L707.4,1017.3L707.3,1017.3L706.1,1017.6L704.9,1017.9L703.6,1018.3L702.8,1018.5L702.4,1018.6L702.4,1018.5L702.4,1017.3L702.4,1016.0L702.4,1014.8L702.4,1013.5L702.4,1012.3L702.4,1011.2L703.6,1011.1L703.8,1011.0L704.9,1010.7L706.1,1010.2L706.8,1009.8L707.3,1009.5L708.5,1008.7L708.8,1008.5L709.7,1007.8L710.5,1007.3L710.9,1006.9L712.1,1006.0L712.2,1006.0L713.4,1005.1L713.9,1004.8L714.6,1004.3L715.7,1003.5L715.8,1003.5L717.0,1002.7L717.9,1002.3L718.2,1002.1L719.5,1001.5L720.6,1001.0L720.7,1001.0L721.9,1000.5L723.1,1000.0L723.9,999.8L724.3,999.6L725.5,999.3L726.7,998.9L728.0,998.6L728.5,998.5L729.2,998.3L730.4,998.1L731.6,997.9L732.8,997.7L734.0,997.5L735.3,997.3L735.7,997.3L736.5,997.2L737.7,997.0L738.9,996.9L740.1,996.8L741.3,996.8L742.6,996.7L743.8,996.7L745.0,996.7L746.2,996.7L747.4,996.6L748.6,996.6L749.9,996.6L751.1,996.6L752.3,996.5L753.5,996.2L754.1,996.0L754.7,995.8L755.9,995.3L757.2,994.9L757.6,994.8L758.4,994.5L759.6,994.1L760.8,993.8L762.0,993.6L762.8,993.5Z" fill="#71a3d1" stroke="#71a3d1" stroke-width="0.3" fill-rule="evenodd"/>
<path d="M760.8,1004.7L762.0,1004.7L763.2,1004.6L764.5,1004.5L765.7,1004.3L766.9,1004.2L768.1,1004.1L769.3,1004.0L770.5,1003.9L771.8,1003.9L773.0,1003.8L774.2,1003.8L775.4,1003.8L776.6,1003.9L777.8,1004.0L779.1,1004.1L780.3,1004.3L781.5,1004.5L782.7,1004.7L783.1,1004.8L783.9,1004.9L785.1,1005.2L786.4,1005.5L787.6,1005.8L788.4,1006.0L788.8,1006.1L790.0,1006.5L791.2,1006.8L792.4,1007.2L792.5,1007.3L793.7,1007.6L794.9,1008.0L796.1,1008.5L796.2,1008.5L797.3,1008.9L798.5,1009.3L799.7,1009.8L799.8,1009.8L801.0,1010.2L802.2,1010.6L803.4,1011.0L803.5,1011.0L804.6,1011.3L805.8,1011.7L807.0,1012.0L808.2,1012.3L808.3,1012.3L809.5,1012.5L810.7,1012.6L811.9,1012.7L813.1,1012.6L814.3,1012.5L815.5,1012.3L815.6,1012.3L816.8,1012.0L818.0,1011.7L819.2,1011.3L820.3,1011.0L820.4,1011.0L821.6,1010.6L822.8,1010.2L824.0,1009.8L824.1,1009.8L825.3,1009.3L826.5,1008.9L827.6,1008.5L827.7,1008.5L828.9,1008.0L830.1,1007.6L831.3,1007.3L831.4,1007.2L832.6,1006.8L833.8,1006.5L835.0,1006.1L835.4,1006.0L836.2,1005.8L837.4,1005.5L838.7,1005.2L839.9,1004.9L840.7,1004.8L841.1,1004.7L842.3,1004.5L843.5,1004.3L844.7,1004.1L846.0,1004.0L847.2,1003.9L848.4,1003.8L849.6,1003.8L850.8,1003.8L852.0,1003.9L853.3,1003.9L854.5,1004.0L855.7,1004.1L856.9,1004.2L858.1,1004.3L859.3,1004.5L860.6,1004.6L861.8,1004.7L863.0,1004.7L863.4,1004.8L864.2,1004.8L865.4,1004.9L866.6,1005.0L867.9,1005.1L869.1,1005.2L870.3,1005.3L871.5,1005.4L872.7,1005.5L873.9,1005.6L875.2,1005.7L876.4,1005.8L877.6,1006.0L878.2,1006.0L878.8,1006.1L880.0,1006.2L881.2,1006.3L882.5,1006.4L883.7,1006.6L884.9,1006.8L886.1,1006.9L887.3,1007.2L887.9,1007.3L888.5,1007.4L889.8,1007.6L891.0,1007.9L892.2,1008.2L893.4,1008.5L893.4,1008.5L894.6,1008.8L895.8,1009.2L897.1,1009.6L897.5,1009.8L898.3,1010.0L899.5,1010.5L900.7,1011.0L900.8,1011.0L901.9,1011.5L903.1,1012.0L903.7,1012.3L904.3,1012.5L905.6,1013.1L906.5,1013.5L906.8,1013.6L908.0,1014.2L909.2,1014.7L909.3,1014.8L910.4,1015.2L911.6,1015.7L912.4,1016.0L912.9,1016.2L914.1,1016.6L915.3,1017.0L916.4,1017.3L916.5,1017.3L917.7,1017.6L918.9,1017.9L920.2,1018.3L921.0,1018.5L921.4,1018.6L921.4,1019.8L921.4,1021.0L921.4,1022.3L921.4,1023.5L921.4,1024.8L921.4,1026.0L921.4,1026.6L920.2,1026.2L919.7,1026.0L918.9,1025.7L917.7,1025.3L916.5,1024.9L916.1,1024.8L915.3,1024.5L914.1,1024.1L912.9,1023.7L912.4,1023.5L911.6,1023.2L910.4,1022.8L909.2,1022.4L908.9,1022.3L908.0,1021.9L906.8,1021.5L905.6,1021.0L905.6,1021.0L904.3,1020.5L903.1,1020.0L902.4,1019.8L901.9,1019.6L900.7,1019.1L899.5,1018.6L899.2,1018.5L898.3,1018.2L897.1,1017.7L895.8,1017.3L895.8,1017.3L894.6,1016.9L893.4,1016.5L892.2,1016.1L892.0,1016.0L891.0,1015.7L889.8,1015.4L888.5,1015.0L887.5,1014.8L887.3,1014.7L886.1,1014.4L884.9,1014.1L883.7,1013.8L882.5,1013.6L882.1,1013.5L881.2,1013.3L880.0,1013.1L878.8,1012.9L877.6,1012.6L876.4,1012.4L875.5,1012.3L875.2,1012.2L873.9,1012.0L872.7,1011.8L871.5,1011.6L870.3,1011.5L869.1,1011.3L867.9,1011.2L866.6,1011.1L865.9,1011.0L865.4,1011.0L864.2,1010.9L863.0,1010.9L861.8,1010.8L860.6,1010.8L859.3,1010.7L858.1,1010.6L856.9,1010.5L855.7,1010.4L854.5,1010.2L853.3,1010.2L852.0,1010.1L850.8,1010.1L849.6,1010.1L848.4,1010.1L847.2,1010.2L846.0,1010.3L844.7,1010.4L843.5,1010.6L842.3,1010.8L841.1,1011.0L840.8,1011.0L839.9,1011.2L838.7,1011.4L837.4,1011.7L836.2,1012.0L835.1,1012.3L835.0,1012.3L833.8,1012.6L832.6,1012.9L831.4,1013.2L830.3,1013.5L830.1,1013.5L828.9,1013.9L827.7,1014.2L826.5,1014.5L825.7,1014.8L825.3,1014.9L824.1,1015.2L822.8,1015.5L821.6,1015.8L820.5,1016.0L820.4,1016.0L819.2,1016.3L818.0,1016.5L816.8,1016.7L815.5,1016.9L814.3,1017.0L813.1,1017.1L811.9,1017.2L810.7,1017.1L809.5,1017.0L808.3,1016.9L807.0,1016.7L805.8,1016.5L804.6,1016.3L803.4,1016.0L803.3,1016.0L802.2,1015.8L801.0,1015.5L799.7,1015.2L798.5,1014.9L798.1,1014.8L797.3,1014.5L796.1,1014.2L794.9,1013.9L793.7,1013.5L793.5,1013.5L792.4,1013.2L791.2,1012.9L790.0,1012.6L788.8,1012.3L788.7,1012.3L787.6,1012.0L786.4,1011.7L785.1,1011.4L783.9,1011.2L783.0,1011.0L782.7,1011.0L781.5,1010.8L780.3,1010.6L779.1,1010.4L777.8,1010.3L776.6,1010.2L775.4,1010.1L774.2,1010.1L773.0,1010.1L771.8,1010.1L770.5,1010.2L769.3,1010.2L768.1,1010.4L766.9,1010.5L765.7,1010.6L764.5,1010.7L763.2,1010.8L762.0,1010.8L760.8,1010.9L759.6,1010.9L758.4,1011.0L757.9,1011.0L757.2,1011.1L755.9,1011.2L754.7,1011.3L753.5,1011.5L752.3,1011.6L751.1,1011.8L749.9,1012.0L748.6,1012.2L748.3,1012.3L747.4,1012.4L746.2,1012.6L745.0,1012.9L743.8,1013.1L742.6,1013.3L741.7,1013.5L741.3,1013.6L740.1,1013.8L738.9,1014.1L737.7,1014.4L736.5,1014.7L736.3,1014.8L735.3,1015.0L734.0,1015.4L732.8,1015.7L731.8,1016.0L731.6,1016.1L730.4,1016.5L729.2,1016.9L728.0,1017.3L728.0,1017.3L726.7,1017.7L725.5,1018.2L724.6,1018.5L724.3,1018.6L723.1,1019.1L721.9,1019.6L721.4,1019.8L720.7,1020.0L719.5,1020.5L718.2,1021.0L718.2,1021.0L717.0,1021.5L715.8,1021.9L714.9,1022.3L714.6,1022.4L713.4,1022.8L712.2,1023.2L711.4,1023.5L710.9,1023.7L709.7,1024.1L708.5,1024.5L707.7,1024.8L707.3,1024.9L706.1,1025.3L704.9,1025.7L704.1,1026.0L703.6,1026.2L702.4,1026.6L702.4,1026.0L702.4,1024.8L702.4,1023.5L702.4,1022.3L702.4,1021.0L702.4,1019.8L702.4,1018.6L702.8,1018.5L703.6,1018.3L704.9,1017.9L706.1,1017.6L707.3,1017.3L707.4,1017.3L708.5,1017.0L709.7,1016.6L710.9,1016.2L711.4,1016.0L712.2,1015.7L713.4,1015.2L714.5,1014.8L714.6,1014.7L715.8,1014.2L717.0,1013.6L717.3,1013.5L718.2,1013.1L719.5,1012.5L720.1,1012.3L720.7,1012.0L721.9,1011.5L723.0,1011.0L723.1,1011.0L724.3,1010.5L725.5,1010.0L726.3,1009.8L726.7,1009.6L728.0,1009.2L729.2,1008.8L730.4,1008.5L730.4,1008.5L731.6,1008.2L732.8,1007.9L734.0,1007.6L735.3,1007.4L735.9,1007.3L736.5,1007.2L737.7,1006.9L738.9,1006.8L740.1,1006.6L741.3,1006.4L742.6,1006.3L743.8,1006.2L745.0,1006.1L745.6,1006.0L746.2,1006.0L747.4,1005.8L748.6,1005.7L749.9,1005.6L751.1,1005.5L752.3,1005.4L753.5,1005.3L754.7,1005.2L755.9,1005.1L757.2,1005.0L758.4,1004.9L759.6,1004.8L760.4,1004.8Z" fill="#77a9d4" stroke="#77a9d4" stroke-width="0.3" fill-rule="evenodd"/>
<path d="M758.4,1011.0L759.6,1010.9L760.8,1010.9L762.0,1010.8L763.2,1010.8L764.5,1010.7L765.7,1010.6L766.9,1010.5L768.1,1010.4L769.3,1010.2L770.5,1010.2L771.8,1010.1L773.0,1010.1L774.2,1010.1L775.4,1010.1L776.6,1010.2L777.8,1010.3L779.1,1010.4L780.3,1010.6L781.5,1010.8L782.7,1011.0L783.0,1011.0L783.9,1011.2L785.1,1011.4L786.4,1011.7L787.6,1012.0L788.7,1012.3L788.8,1012.3L790.0,1012.6L791.2,1012.9L792.4,1013.2L793.5,1013.5L793.7,1013.5L794.9,1013.9L796.1,1014.2L797.3,1014.5L798.1,1014.8L798.5,1014.9L799.7,1015.2L801.0,1015.5L802.2,1015.8L803.3,1016.0L803.4,1016.0L804.6,1016.3L805.8,1016.5L807.0,1016.7L808.3,1016.9L809.5,1017.0L810.7,1017.1L811.9,1017.2L813.1,1017.1L814.3,1017.0L815.5,1016.9L816.8,1016.7L818.0,1016.5L819.2,1016.3L820.4,1016.0L820.5,1016.0L821.6,1015.8L822.8,1015.5L824.1,1015.2L825.3,1014.9L825.7,1014.8L826.5,1014.5L827.7,1014.2L828.9,1013.9L830.1,1013.5L830.3,1013.5L831.4,1013.2L832.6,1012.9L833.8,1012.6L835.0,1012.3L835.1,1012.3L836.2,1012.0L837.4,1011.7L838.7,1011.4L839.9,1011.2L840.8,1011.0L841.1,1011.0L842.3,1010.8L843.5,1010.6L844.7,1010.4L846.0,1010.3L847.2,1010.2L848.4,1010.1L849.6,1010.1L850.8,1010.1L852.0,1010.1L853.3,1010.2L854.5,1010.2L855.7,1010.4L856.9,1010.5L858.1,1010.6L859.3,1010.7L860.6,1010.8L861.8,1010.8L863.0,1010.9L864.2,1010.9L865.4,1011.0L865.9,1011.0L866.6,1011.1L867.9,1011.2L869.1,1011.3L870.3,1011.5L871.5,1011.6L872.7,1011.8L873.9,1012.0L875.2,1012.2L875.5,1012.3L876.4,1012.4L877.6,1012.6L878.8,1012.9L880.0,1013.1L881.2,1013.3L882.1,1013.5L882.5,1013.6L883.7,1013.8L884.9,1014.1L886.1,1014.4L887.3,1014.7L887.5,1014.8L888.5,1015.0L889.8,1015.4L891.0,1015.7L892.0,1016.0L892.2,1016.1L893.4,1016.5L894.6,1016.9L895.8,1017.3L895.8,1017.3L897.1,1017.7L898.3,1018.2L899.2,1018.5L899.5,1018.6L900.7,1019.1L901.9,1019.6L902.4,1019.8L903.1,1020.0L904.3,1020.5L905.6,1021.0L905.6,1021.0L906.8,1021.5L908.0,1021.9L908.9,1022.3L909.2,1022.4L910.4,1022.8L911.6,1023.2L912.4,1023.5L912.9,1023.7L914.1,1024.1L915.3,1024.5L916.1,1024.8L916.5,1024.9L917.7,1025.3L918.9,1025.7L919.7,1026.0L920.2,1026.2L921.4,1026.6L921.4,1027.3L921.4,1028.5L921.4,1029.8L921.4,1031.0L921.4,1032.2L921.4,1033.5L921.4,1034.7L920.2,1034.3L918.9,1033.8L918.0,1033.5L917.7,1033.4L916.5,1032.9L915.3,1032.4L914.8,1032.2L914.1,1031.9L912.9,1031.5L911.8,1031.0L911.6,1031.0L910.4,1030.5L909.2,1029.9L908.8,1029.8L908.0,1029.4L906.8,1028.9L905.8,1028.5L905.6,1028.4L904.3,1027.9L903.1,1027.4L902.8,1027.3L901.9,1026.9L900.7,1026.3L899.9,1026.0L899.5,1025.8L898.3,1025.3L897.1,1024.9L896.8,1024.8L895.8,1024.4L894.6,1023.9L893.5,1023.5L893.4,1023.5L892.2,1023.0L891.0,1022.6L890.0,1022.3L889.8,1022.2L888.5,1021.8L887.3,1021.4L886.2,1021.0L886.1,1021.0L884.9,1020.6L883.7,1020.3L882.5,1019.9L881.9,1019.8L881.2,1019.6L880.0,1019.2L878.8,1018.9L877.6,1018.6L877.3,1018.5L876.4,1018.3L875.2,1017.9L873.9,1017.6L872.7,1017.3L872.4,1017.3L871.5,1017.0L870.3,1016.8L869.1,1016.5L867.9,1016.2L866.8,1016.0L866.6,1016.0L865.4,1015.7L864.2,1015.5L863.0,1015.4L861.8,1015.2L860.6,1015.1L859.3,1015.0L858.1,1015.0L856.9,1014.9L855.7,1014.9L854.5,1014.9L853.3,1014.9L852.0,1015.0L850.8,1015.0L849.6,1015.1L848.4,1015.2L847.2,1015.4L846.0,1015.5L844.7,1015.6L843.5,1015.8L842.4,1016.0L842.3,1016.0L841.1,1016.2L839.9,1016.4L838.7,1016.7L837.4,1016.9L836.2,1017.2L835.8,1017.3L835.0,1017.4L833.8,1017.7L832.6,1017.9L831.4,1018.2L830.1,1018.5L830.0,1018.5L828.9,1018.7L827.7,1019.0L826.5,1019.2L825.3,1019.4L824.1,1019.7L823.6,1019.8L822.8,1019.9L821.6,1020.1L820.4,1020.2L819.2,1020.4L818.0,1020.5L816.8,1020.6L815.5,1020.7L814.3,1020.7L813.1,1020.7L811.9,1020.8L810.7,1020.7L809.5,1020.7L808.3,1020.7L807.0,1020.6L805.8,1020.5L804.6,1020.4L803.4,1020.2L802.2,1020.1L801.0,1019.9L800.2,1019.8L799.7,1019.7L798.5,1019.4L797.3,1019.2L796.1,1019.0L794.9,1018.7L793.8,1018.5L793.7,1018.5L792.4,1018.2L791.2,1017.9L790.0,1017.7L788.8,1017.4L788.0,1017.3L787.6,1017.2L786.4,1016.9L785.1,1016.7L783.9,1016.4L782.7,1016.2L781.5,1016.0L781.4,1016.0L780.3,1015.8L779.1,1015.6L777.8,1015.5L776.6,1015.4L775.4,1015.2L774.2,1015.1L773.0,1015.0L771.8,1015.0L770.5,1014.9L769.3,1014.9L768.1,1014.9L766.9,1014.9L765.7,1015.0L764.5,1015.0L763.2,1015.1L762.0,1015.2L760.8,1015.4L759.6,1015.5L758.4,1015.7L757.2,1016.0L757.0,1016.0L755.9,1016.2L754.7,1016.5L753.5,1016.8L752.3,1017.0L751.4,1017.3L751.1,1017.3L749.9,1017.6L748.6,1017.9L747.4,1018.3L746.5,1018.5L746.2,1018.6L745.0,1018.9L743.8,1019.2L742.6,1019.6L741.9,1019.8L741.3,1019.9L740.1,1020.3L738.9,1020.6L737.7,1021.0L737.6,1021.0L736.5,1021.4L735.3,1021.8L734.0,1022.2L733.8,1022.3L732.8,1022.6L731.6,1023.0L730.4,1023.5L730.3,1023.5L729.2,1023.9L728.0,1024.4L727.0,1024.8L726.7,1024.9L725.5,1025.3L724.3,1025.8L723.9,1026.0L723.1,1026.3L721.9,1026.9L721.0,1027.3L720.7,1027.4L719.5,1027.9L718.2,1028.4L718.0,1028.5L717.0,1028.9L715.8,1029.4L715.0,1029.8L714.6,1029.9L713.4,1030.5L712.2,1031.0L712.0,1031.0L710.9,1031.5L709.7,1031.9L709.0,1032.2L708.5,1032.4L707.3,1032.9L706.1,1033.4L705.8,1033.5L704.9,1033.8L703.6,1034.3L702.4,1034.7L702.4,1033.5L702.4,1032.2L702.4,1031.0L702.4,1029.8L702.4,1028.5L702.4,1027.3L702.4,1026.6L703.6,1026.2L704.1,1026.0L704.9,1025.7L706.1,1025.3L707.3,1024.9L707.7,1024.8L708.5,1024.5L709.7,1024.1L710.9,1023.7L711.4,1023.5L712.2,1023.2L713.4,1022.8L714.6,1022.4L714.9,1022.3L715.8,1021.9L717.0,1021.5L718.2,1021.0L718.2,1021.0L719.5,1020.5L720.7,1020.0L721.4,1019.8L721.9,1019.6L723.1,1019.1L724.3,1018.6L724.6,1018.5L725.5,1018.2L726.7,1017.7L728.0,1017.3L728.0,1017.3L729.2,1016.9L730.4,1016.5L731.6,1016.1L731.8,1016.0L732.8,1015.7L734.0,1015.4L735.3,1015.0L736.3,1014.8L736.5,1014.7L737.7,1014.4L738.9,1014.1L740.1,1013.8L741.3,1013.6L741.7,1013.5L742.6,1013.3L743.8,1013.1L745.0,1012.9L746.2,1012.6L747.4,1012.4L748.3,1012.3L748.6,1012.2L749.9,1012.0L751.1,1011.8L752.3,1011.6L753.5,1011.5L754.7,1011.3L755.9,1011.2L757.2,1011.1L757.9,1011.0Z" fill="#7eb0d8" stroke="#7eb0d8" stroke-width="0.3" fill-rule="evenodd"/>
<path d="M757.2,1016.0L758.4,1015.7L759.6,1015.5L760.8,1015.4L762.0,1015.2L763.2,1015.1L764.5,1015.0L765.7,1015.0L766.9,1014.9L768.1,1014.9L769.3,1014.9L770.5,1014.9L771.8,1015.0L773.0,1015.0L774.2,1015.1L775.4,1015.2L776.6,1015.4L777.8,1015.5L779.1,1015.6L780.3,1015.8L781.4,1016.0L781.5,1016.0L782.7,1016.2L783.9,1016.4L785.1,1016.7L786.4,1016.9L787.6,1017.2L788.0,1017.3L788.8,1017.4L790.0,1017.7L791.2,1017.9L792.4,1018.2L793.7,1018.5L793.8,1018.5L794.9,1018.7L796.1,1019.0L797.3,1019.2L798.5,1019.4L799.7,1019.7L800.2,1019.8L801.0,1019.9L802.2,1020.1L803.4,1020.2L804.6,1020.4L805.8,1020.5L807.0,1020.6L808.3,1020.7L809.5,1020.7L810.7,1020.7L811.9,1020.8L813.1,1020.7L814.3,1020.7L815.5,1020.7L816.8,1020.6L818.0,1020.5L819.2,1020.4L820.4,1020.2L821.6,1020.1L822.8,1019.9L823.6,1019.8L824.1,1019.7L825.3,1019.4L826.5,1019.2L827.7,1019.0L828.9,1018.7L830.0,1018.5L830.1,1018.5L831.4,1018.2L832.6,1017.9L833.8,1017.7L835.0,1017.4L835.8,1017.3L836.2,1017.2L837.4,1016.9L838.7,1016.7L839.9,1016.4L841.1,1016.2L842.3,1016.0L842.4,1016.0L843.5,1015.8L844.7,1015.6L846.0,1015.5L847.2,1015.4L848.4,1015.2L849.6,1015.1L850.8,1015.0L852.0,1015.0L853.3,1014.9L854.5,1014.9L855.7,1014.9L856.9,1014.9L858.1,1015.0L859.3,1015.0L860.6,1015.1L861.8,1015.2L863.0,1015.4L864.2,1015.5L865.4,1015.7L866.6,1016.0L866.8,1016.0L867.9,1016.2L869.1,1016.5L870.3,1016.8L871.5,1017.0L872.4,1017.3L872.7,1017.3L873.9,1017.6L875.2,1017.9L876.4,1018.3L877.3,1018.5L877.6,1018.6L878.8,1018.9L880.0,1019.2L881.2,1019.6L881.9,1019.8L882.5,1019.9L883.7,1020.3L884.9,1020.6L886.1,1021.0L886.2,1021.0L887.3,1021.4L888.5,1021.8L889.8,1022.2L890.0,1022.3L891.0,1022.6L892.2,1023.0L893.4,1023.5L893.5,1023.5L894.6,1023.9L895.8,1024.4L896.8,1024.8L897.1,1024.9L898.3,1025.3L899.5,1025.8L899.9,1026.0L900.7,1026.3L901.9,1026.9L902.8,1027.3L903.1,1027.4L904.3,1027.9L905.6,1028.4L905.8,1028.5L906.8,1028.9L908.0,1029.4L908.8,1029.8L909.2,1029.9L910.4,1030.5L911.6,1031.0L911.8,1031.0L912.9,1031.5L914.1,1031.9L914.8,1032.2L915.3,1032.4L916.5,1032.9L917.7,1033.4L918.0,1033.5L918.9,1033.8L920.2,1034.3L921.4,1034.7L921.4,1034.7L921.4,1036.0L921.4,1037.2L921.4,1038.5L921.4,1039.7L921.4,1041.0L921.4,1042.2L921.4,1042.8L920.2,1042.4L919.8,1042.2L918.9,1041.9L917.7,1041.5L916.6,1041.0L916.5,1041.0L915.3,1040.5L914.1,1039.9L913.6,1039.7L912.9,1039.4L911.6,1038.9L910.9,1038.5L910.4,1038.3L909.2,1037.7L908.2,1037.2L908.0,1037.2L906.8,1036.6L905.6,1036.0L905.6,1036.0L904.3,1035.4L903.1,1034.8L903.0,1034.7L901.9,1034.2L900.7,1033.6L900.5,1033.5L899.5,1033.0L898.3,1032.4L897.9,1032.2L897.1,1031.9L895.8,1031.3L895.2,1031.0L894.6,1030.7L893.4,1030.2L892.3,1029.8L892.2,1029.7L891.0,1029.2L889.8,1028.7L889.3,1028.5L888.5,1028.2L887.3,1027.7L886.1,1027.3L886.1,1027.3L884.9,1026.8L883.7,1026.4L882.6,1026.0L882.5,1026.0L881.2,1025.5L880.0,1025.1L878.9,1024.8L878.8,1024.7L877.6,1024.3L876.4,1023.9L875.2,1023.5L875.1,1023.5L873.9,1023.1L872.7,1022.7L871.5,1022.4L871.1,1022.3L870.3,1022.0L869.1,1021.6L867.9,1021.3L866.9,1021.0L866.6,1020.9L865.4,1020.6L864.2,1020.3L863.0,1019.9L862.4,1019.8L861.8,1019.6L860.6,1019.3L859.3,1019.1L858.1,1019.1L856.9,1019.2L855.7,1019.3L854.5,1019.4L853.3,1019.5L852.0,1019.6L850.8,1019.7L850.5,1019.8L849.6,1019.8L848.4,1020.0L847.2,1020.1L846.0,1020.3L844.7,1020.4L843.5,1020.6L842.3,1020.8L841.1,1021.0L841.1,1021.0L839.9,1021.2L838.7,1021.4L837.4,1021.6L836.2,1021.9L835.0,1022.1L834.0,1022.3L833.8,1022.3L832.6,1022.5L831.4,1022.7L830.1,1022.9L828.9,1023.1L827.7,1023.3L826.5,1023.5L826.3,1023.5L825.3,1023.6L824.1,1023.8L822.8,1023.9L821.6,1024.1L820.4,1024.2L819.2,1024.2L818.0,1024.3L816.8,1024.3L815.5,1024.3L814.3,1024.3L813.1,1024.2L811.9,1024.1L810.7,1024.2L809.5,1024.3L808.3,1024.3L807.0,1024.3L805.8,1024.3L804.6,1024.2L803.4,1024.2L802.2,1024.1L801.0,1023.9L799.7,1023.8L798.5,1023.6L797.5,1023.5L797.3,1023.5L796.1,1023.3L794.9,1023.1L793.7,1022.9L792.4,1022.7L791.2,1022.5L790.0,1022.3L789.8,1022.3L788.8,1022.1L787.6,1021.9L786.4,1021.6L785.1,1021.4L783.9,1021.2L782.7,1021.0L782.7,1021.0L781.5,1020.8L780.3,1020.6L779.1,1020.4L777.8,1020.3L776.6,1020.1L775.4,1020.0L774.2,1019.8L773.3,1019.8L773.0,1019.7L771.8,1019.6L770.5,1019.5L769.3,1019.4L768.1,1019.3L766.9,1019.2L765.7,1019.1L764.5,1019.1L763.2,1019.3L762.0,1019.6L761.4,1019.8L760.8,1019.9L759.6,1020.3L758.4,1020.6L757.2,1020.9L756.9,1021.0L755.9,1021.3L754.7,1021.6L753.5,1022.0L752.7,1022.3L752.3,1022.4L751.1,1022.7L749.9,1023.1L748.7,1023.5L748.6,1023.5L747.4,1023.9L746.2,1024.3L745.0,1024.7L744.9,1024.8L743.8,1025.1L742.6,1025.5L741.3,1026.0L741.2,1026.0L740.1,1026.4L738.9,1026.8L737.7,1027.3L737.7,1027.3L736.5,1027.7L735.3,1028.2L734.5,1028.5L734.0,1028.7L732.8,1029.2L731.6,1029.7L731.5,1029.8L730.4,1030.2L729.2,1030.7L728.6,1031.0L728.0,1031.3L726.7,1031.9L725.9,1032.2L725.5,1032.4L724.3,1033.0L723.3,1033.5L723.1,1033.6L721.9,1034.2L720.8,1034.7L720.7,1034.8L719.5,1035.4L718.2,1036.0L718.2,1036.0L717.0,1036.6L715.8,1037.2L715.6,1037.2L714.6,1037.7L713.4,1038.3L712.9,1038.5L712.2,1038.9L710.9,1039.4L710.2,1039.7L709.7,1039.9L708.5,1040.5L707.3,1041.0L707.2,1041.0L706.1,1041.5L704.9,1041.9L704.0,1042.2L703.6,1042.4L702.4,1042.8L702.4,1042.2L702.4,1041.0L702.4,1039.7L702.4,1038.5L702.4,1037.2L702.4,1036.0L702.4,1034.7L702.4,1034.7L703.6,1034.3L704.9,1033.8L705.8,1033.5L706.1,1033.4L707.3,1032.9L708.5,1032.4L709.0,1032.2L709.7,1031.9L710.9,1031.5L712.0,1031.0L712.2,1031.0L713.4,1030.5L714.6,1029.9L715.0,1029.8L715.8,1029.4L717.0,1028.9L718.0,1028.5L718.2,1028.4L719.5,1027.9L720.7,1027.4L721.0,1027.3L721.9,1026.9L723.1,1026.3L723.9,1026.0L724.3,1025.8L725.5,1025.3L726.7,1024.9L727.0,1024.8L728.0,1024.4L729.2,1023.9L730.3,1023.5L730.4,1023.5L731.6,1023.0L732.8,1022.6L733.8,1022.3L734.0,1022.2L735.3,1021.8L736.5,1021.4L737.6,1021.0L737.7,1021.0L738.9,1020.6L740.1,1020.3L741.3,1019.9L741.9,1019.8L742.6,1019.6L743.8,1019.2L745.0,1018.9L746.2,1018.6L746.5,1018.5L747.4,1018.3L748.6,1017.9L749.9,1017.6L751.1,1017.3L751.4,1017.3L752.3,1017.0L753.5,1016.8L754.7,1016.5L755.9,1016.2L757.0,1016.0Z" fill="#85b6dc" stroke="#85b6dc" stroke-width="0.3" fill-rule="evenodd"/>
<path d="M762.0,1019.6L763.2,1019.3L764.5,1019.1L765.7,1019.1L766.9,1019.2L768.1,1019.3L769.3,1019.4L770.5,1019.5L771.8,1019.6L773.0,1019.7L773.3,1019.8L774.2,1019.8L775.4,1020.0L776.6,1020.1L777.8,1020.3L779.1,1020.4L780.3,1020.6L781.5,1020.8L782.7,1021.0L782.7,1021.0L783.9,1021.2L785.1,1021.4L786.4,1021.6L787.6,1021.9L788.8,1022.1L789.8,1022.3L790.0,1022.3L791.2,1022.5L792.4,1022.7L793.7,1022.9L794.9,1023.1L796.1,1023.3L797.3,1023.5L797.5,1023.5L798.5,1023.6L799.7,1023.8L801.0,1023.9L802.2,1024.1L803.4,1024.2L804.6,1024.2L805.8,1024.3L807.0,1024.3L808.3,1024.3L809.5,1024.3L810.7,1024.2L811.9,1024.1L813.1,1024.2L814.3,1024.3L815.5,1024.3L816.8,1024.3L818.0,1024.3L819.2,1024.2L820.4,1024.2L821.6,1024.1L822.8,1023.9L824.1,1023.8L825.3,1023.6L826.3,1023.5L826.5,1023.5L827.7,1023.3L828.9,1023.1L830.1,1022.9L831.4,1022.7L832.6,1022.5L833.8,1022.3L834.0,1022.3L835.0,1022.1L836.2,1021.9L837.4,1021.6L838.7,1021.4L839.9,1021.2L841.1,1021.0L841.1,1021.0L842.3,1020.8L843.5,1020.6L844.7,1020.4L846.0,1020.3L847.2,1020.1L848.4,1020.0L849.6,1019.8L850.5,1019.8L850.8,1019.7L852.0,1019.6L853.3,1019.5L854.5,1019.4L855.7,1019.3L856.9,1019.2L858.1,1019.1L859.3,1019.1L860.6,1019.3L861.8,1019.6L862.4,1019.8L863.0,1019.9L864.2,1020.3L865.4,1020.6L866.6,1020.9L866.9,1021.0L867.9,1021.3L869.1,1021.6L870.3,1022.0L871.1,1022.3L871.5,1022.4L872.7,1022.7L873.9,1023.1L875.1,1023.5L875.2,1023.5L876.4,1023.9L877.6,1024.3L878.8,1024.7L878.9,1024.8L880.0,1025.1L881.2,1025.5L882.5,1026.0L882.6,1026.0L883.7,1026.4L884.9,1026.8L886.1,1027.3L886.1,1027.3L887.3,1027.7L888.5,1028.2L889.3,1028.5L889.8,1028.7L891.0,1029.2L892.2,1029.7L892.3,1029.8L893.4,1030.2L894.6,1030.7L895.2,1031.0L895.8,1031.3L897.1,1031.9L897.9,1032.2L898.3,1032.4L899.5,1033.0L900.5,1033.5L900.7,1033.6L901.9,1034.2L903.0,1034.7L903.1,1034.8L904.3,1035.4L905.6,1036.0L905.6,1036.0L906.8,1036.6L908.0,1037.2L908.2,1037.2L909.2,1037.7L910.4,1038.3L910.9,1038.5L911.6,1038.9L912.9,1039.4L913.6,1039.7L914.1,1039.9L915.3,1040.5L916.5,1041.0L916.6,1041.0L917.7,1041.5L918.9,1041.9L919.8,1042.2L920.2,1042.4L921.4,1042.8L921.4,1043.5L921.4,1044.7L921.4,1046.0L921.4,1047.2L921.4,1048.5L921.4,1049.7L921.4,1050.8L920.2,1050.4L918.9,1050.0L918.2,1049.7L917.7,1049.6L916.5,1049.1L915.3,1048.6L915.1,1048.5L914.1,1048.0L912.9,1047.5L912.4,1047.2L911.6,1046.9L910.4,1046.3L909.8,1046.0L909.2,1045.7L908.0,1045.1L907.3,1044.7L906.8,1044.5L905.6,1043.9L904.9,1043.5L904.3,1043.2L903.1,1042.6L902.5,1042.2L901.9,1041.9L900.7,1041.2L900.3,1041.0L899.5,1040.6L898.3,1039.9L898.0,1039.7L897.1,1039.2L895.8,1038.6L895.7,1038.5L894.6,1037.9L893.4,1037.3L893.4,1037.2L892.2,1036.6L891.0,1036.0L891.0,1036.0L889.8,1035.4L888.5,1034.8L888.4,1034.7L887.3,1034.2L886.1,1033.6L885.8,1033.5L884.9,1033.1L883.7,1032.5L883.0,1032.2L882.5,1032.0L881.2,1031.5L880.1,1031.0L880.0,1031.0L878.8,1030.5L877.6,1030.0L876.9,1029.8L876.4,1029.5L875.2,1029.1L873.9,1028.6L873.6,1028.5L872.7,1028.2L871.5,1027.8L870.3,1027.4L870.0,1027.3L869.1,1027.0L867.9,1026.6L866.6,1026.3L865.6,1026.0L865.4,1026.0L864.2,1025.7L863.0,1025.5L861.8,1025.3L860.6,1025.1L859.3,1025.0L858.1,1024.8L857.6,1024.8L856.9,1024.6L855.7,1024.5L854.5,1024.5L853.3,1024.5L852.0,1024.5L850.8,1024.5L849.6,1024.6L848.4,1024.7L848.0,1024.8L847.2,1024.8L846.0,1025.0L844.7,1025.1L843.5,1025.2L842.3,1025.4L841.1,1025.6L839.9,1025.7L838.7,1025.9L838.1,1026.0L837.4,1026.1L836.2,1026.3L835.0,1026.4L833.8,1026.6L832.6,1026.8L831.4,1027.0L830.1,1027.1L829.1,1027.3L828.9,1027.3L827.7,1027.4L826.5,1027.6L825.3,1027.7L824.1,1027.8L822.8,1027.9L821.6,1028.0L820.4,1028.1L819.2,1028.2L818.0,1028.3L816.8,1028.4L815.5,1028.4L814.3,1028.5L814.2,1028.5L813.1,1028.6L811.9,1028.6L810.7,1028.6L809.6,1028.5L809.5,1028.5L808.3,1028.4L807.0,1028.4L805.8,1028.3L804.6,1028.2L803.4,1028.1L802.2,1028.0L801.0,1027.9L799.7,1027.8L798.5,1027.7L797.3,1027.6L796.1,1027.4L794.9,1027.3L794.7,1027.3L793.7,1027.1L792.4,1027.0L791.2,1026.8L790.0,1026.6L788.8,1026.4L787.6,1026.3L786.4,1026.1L785.7,1026.0L785.1,1025.9L783.9,1025.7L782.7,1025.6L781.5,1025.4L780.3,1025.2L779.1,1025.1L777.8,1025.0L776.6,1024.8L775.8,1024.8L775.4,1024.7L774.2,1024.6L773.0,1024.5L771.8,1024.5L770.5,1024.5L769.3,1024.5L768.1,1024.5L766.9,1024.6L766.2,1024.8L765.7,1024.8L764.5,1025.0L763.2,1025.1L762.0,1025.3L760.8,1025.5L759.6,1025.7L758.4,1026.0L758.2,1026.0L757.2,1026.3L755.9,1026.6L754.7,1027.0L753.8,1027.3L753.5,1027.4L752.3,1027.8L751.1,1028.2L750.2,1028.5L749.9,1028.6L748.6,1029.1L747.4,1029.5L746.9,1029.8L746.2,1030.0L745.0,1030.5L743.8,1031.0L743.7,1031.0L742.6,1031.5L741.3,1032.0L740.8,1032.2L740.1,1032.5L738.9,1033.1L738.0,1033.5L737.7,1033.6L736.5,1034.2L735.4,1034.7L735.3,1034.8L734.0,1035.4L732.8,1036.0L732.8,1036.0L731.6,1036.6L730.4,1037.2L730.4,1037.3L729.2,1037.9L728.1,1038.5L728.0,1038.6L726.7,1039.2L725.8,1039.7L725.5,1039.9L724.3,1040.6L723.5,1041.0L723.1,1041.2L721.9,1041.9L721.3,1042.2L720.7,1042.6L719.5,1043.2L718.9,1043.5L718.2,1043.9L717.0,1044.5L716.5,1044.7L715.8,1045.1L714.6,1045.7L714.0,1046.0L713.4,1046.3L712.2,1046.9L711.4,1047.2L710.9,1047.5L709.7,1048.0L708.7,1048.5L708.5,1048.6L707.3,1049.1L706.1,1049.6L705.6,1049.7L704.9,1050.0L703.6,1050.4L702.4,1050.8L702.4,1049.7L702.4,1048.5L702.4,1047.2L702.4,1046.0L702.4,1044.7L702.4,1043.5L702.4,1042.8L703.6,1042.4L704.0,1042.2L704.9,1041.9L706.1,1041.5L707.2,1041.0L707.3,1041.0L708.5,1040.5L709.7,1039.9L710.2,1039.7L710.9,1039.4L712.2,1038.9L712.9,1038.5L713.4,1038.3L714.6,1037.7L715.6,1037.2L715.8,1037.2L717.0,1036.6L718.2,1036.0L718.2,1036.0L719.5,1035.4L720.7,1034.8L720.8,1034.7L721.9,1034.2L723.1,1033.6L723.3,1033.5L724.3,1033.0L725.5,1032.4L725.9,1032.2L726.7,1031.9L728.0,1031.3L728.6,1031.0L729.2,1030.7L730.4,1030.2L731.5,1029.8L731.6,1029.7L732.8,1029.2L734.0,1028.7L734.5,1028.5L735.3,1028.2L736.5,1027.7L737.7,1027.3L737.7,1027.3L738.9,1026.8L740.1,1026.4L741.2,1026.0L741.3,1026.0L742.6,1025.5L743.8,1025.1L744.9,1024.8L745.0,1024.7L746.2,1024.3L747.4,1023.9L748.6,1023.5L748.7,1023.5L749.9,1023.1L751.1,1022.7L752.3,1022.4L752.7,1022.3L753.5,1022.0L754.7,1021.6L755.9,1021.3L756.9,1021.0L757.2,1020.9L758.4,1020.6L759.6,1020.3L760.8,1019.9L761.4,1019.8Z" fill="#8ebee0" stroke="#8ebee0" stroke-width="0.3" fill-rule="evenodd"/>
<path d="M766.9,1024.6L768.1,1024.5L769.3,1024.5L770.5,1024.5L771.8,1024.5L773.0,1024.5L774.2,1024.6L775.4,1024.7L775.8,1024.8L776.6,1024.8L777.8,1025.0L779.1,1025.1L780.3,1025.2L781.5,1025.4L782.7,1025.6L783.9,1025.7L785.1,1025.9L785.7,1026.0L786.4,1026.1L787.6,1026.3L788.8,1026.4L790.0,1026.6L791.2,1026.8L792.4,1027.0L793.7,1027.1L794.7,1027.3L794.9,1027.3L796.1,1027.4L797.3,1027.6L798.5,1027.7L799.7,1027.8L801.0,1027.9L802.2,1028.0L803.4,1028.1L804.6,1028.2L805.8,1028.3L807.0,1028.4L808.3,1028.4L809.5,1028.5L809.6,1028.5L810.7,1028.6L811.9,1028.6L813.1,1028.6L814.2,1028.5L814.3,1028.5L815.5,1028.4L816.8,1028.4L818.0,1028.3L819.2,1028.2L820.4,1028.1L821.6,1028.0L822.8,1027.9L824.1,1027.8L825.3,1027.7L826.5,1027.6L827.7,1027.4L828.9,1027.3L829.1,1027.3L830.1,1027.1L831.4,1027.0L832.6,1026.8L833.8,1026.6L835.0,1026.4L836.2,1026.3L837.4,1026.1L838.1,1026.0L838.7,1025.9L839.9,1025.7L841.1,1025.6L842.3,1025.4L843.5,1025.2L844.7,1025.1L846.0,1025.0L847.2,1024.8L848.0,1024.8L848.4,1024.7L849.6,1024.6L850.8,1024.5L852.0,1024.5L853.3,1024.5L854.5,1024.5L855.7,1024.5L856.9,1024.6L857.6,1024.8L858.1,1024.8L859.3,1025.0L860.6,1025.1L861.8,1025.3L863.0,1025.5L864.2,1025.7L865.4,1026.0L865.6,1026.0L866.6,1026.3L867.9,1026.6L869.1,1027.0L870.0,1027.3L870.3,1027.4L871.5,1027.8L872.7,1028.2L873.6,1028.5L873.9,1028.6L875.2,1029.1L876.4,1029.5L876.9,1029.8L877.6,1030.0L878.8,1030.5L880.0,1031.0L880.1,1031.0L881.2,1031.5L882.5,1032.0L883.0,1032.2L883.7,1032.5L884.9,1033.1L885.8,1033.5L886.1,1033.6L887.3,1034.2L888.4,1034.7L888.5,1034.8L889.8,1035.4L891.0,1036.0L891.0,1036.0L892.2,1036.6L893.4,1037.2L893.4,1037.3L894.6,1037.9L895.7,1038.5L895.8,1038.6L897.1,1039.2L898.0,1039.7L898.3,1039.9L899.5,1040.6L900.3,1041.0L900.7,1041.2L901.9,1041.9L902.5,1042.2L903.1,1042.6L904.3,1043.2L904.9,1043.5L905.6,1043.9L906.8,1044.5L907.3,1044.7L908.0,1045.1L909.2,1045.7L909.8,1046.0L910.4,1046.3L911.6,1046.9L912.4,1047.2L912.9,1047.5L914.1,1048.0L915.1,1048.5L915.3,1048.6L916.5,1049.1L917.7,1049.6L918.2,1049.7L918.9,1050.0L920.2,1050.4L921.4,1050.8L921.4,1051.0L921.4,1052.2L921.4,1053.5L921.4,1054.7L921.4,1056.0L921.4,1057.2L921.4,1057.9L920.2,1057.5L919.2,1057.2L918.9,1057.2L917.7,1056.8L916.5,1056.4L915.3,1056.0L915.2,1056.0L914.1,1055.6L912.9,1055.2L911.8,1054.7L911.6,1054.7L910.4,1054.2L909.2,1053.7L908.8,1053.5L908.0,1053.1L906.8,1052.5L906.2,1052.2L905.6,1051.9L904.3,1051.3L903.7,1051.0L903.1,1050.7L901.9,1050.0L901.4,1049.7L900.7,1049.3L899.5,1048.6L899.3,1048.5L898.3,1047.9L897.2,1047.2L897.1,1047.2L895.8,1046.4L895.1,1046.0L894.6,1045.7L893.4,1044.9L893.1,1044.7L892.2,1044.2L891.1,1043.5L891.0,1043.4L889.8,1042.7L889.1,1042.2L888.5,1041.9L887.3,1041.2L887.0,1041.0L886.1,1040.5L884.9,1039.8L884.8,1039.7L883.7,1039.1L882.6,1038.5L882.5,1038.4L881.2,1037.8L880.2,1037.2L880.0,1037.1L878.8,1036.5L877.7,1036.0L877.6,1035.9L876.4,1035.4L875.2,1034.8L875.0,1034.7L873.9,1034.3L872.7,1033.7L872.1,1033.5L871.5,1033.3L870.3,1032.8L869.1,1032.3L868.8,1032.2L867.9,1031.9L866.6,1031.5L865.4,1031.2L864.8,1031.0L864.2,1030.8L863.0,1030.5L861.8,1030.2L860.6,1030.0L859.3,1029.8L859.0,1029.8L858.1,1029.7L856.9,1029.6L855.7,1029.5L854.5,1029.4L853.3,1029.4L852.0,1029.4L850.8,1029.4L849.6,1029.4L848.4,1029.4L847.2,1029.5L846.0,1029.6L844.7,1029.7L844.2,1029.8L843.5,1029.8L842.3,1029.9L841.1,1030.0L839.9,1030.2L838.7,1030.3L837.4,1030.4L836.2,1030.6L835.0,1030.7L833.8,1030.9L832.6,1031.0L832.5,1031.0L831.4,1031.1L830.1,1031.3L828.9,1031.4L827.7,1031.5L826.5,1031.6L825.3,1031.7L824.1,1031.8L822.8,1031.9L821.6,1032.0L820.4,1032.1L819.2,1032.2L818.0,1032.2L817.8,1032.2L816.8,1032.3L815.5,1032.4L814.3,1032.4L813.1,1032.4L811.9,1032.4L810.7,1032.4L809.5,1032.4L808.3,1032.4L807.0,1032.3L806.0,1032.2L805.8,1032.2L804.6,1032.2L803.4,1032.1L802.2,1032.0L801.0,1031.9L799.7,1031.8L798.5,1031.7L797.3,1031.6L796.1,1031.5L794.9,1031.4L793.7,1031.3L792.4,1031.1L791.3,1031.0L791.2,1031.0L790.0,1030.9L788.8,1030.7L787.6,1030.6L786.4,1030.4L785.1,1030.3L783.9,1030.2L782.7,1030.0L781.5,1029.9L780.3,1029.8L779.6,1029.8L779.1,1029.7L777.8,1029.6L776.6,1029.5L775.4,1029.4L774.2,1029.4L773.0,1029.4L771.8,1029.4L770.5,1029.4L769.3,1029.4L768.1,1029.5L766.9,1029.6L765.7,1029.7L764.8,1029.8L764.5,1029.8L763.2,1030.0L762.0,1030.2L760.8,1030.5L759.6,1030.8L759.0,1031.0L758.4,1031.2L757.2,1031.5L755.9,1031.9L755.0,1032.2L754.7,1032.3L753.5,1032.8L752.3,1033.3L751.7,1033.5L751.1,1033.7L749.9,1034.3L748.8,1034.7L748.6,1034.8L747.4,1035.4L746.2,1035.9L746.1,1036.0L745.0,1036.5L743.8,1037.1L743.6,1037.2L742.6,1037.8L741.3,1038.4L741.2,1038.5L740.1,1039.1L739.0,1039.7L738.9,1039.8L737.7,1040.5L736.8,1041.0L736.5,1041.2L735.3,1041.9L734.7,1042.2L734.0,1042.7L732.8,1043.4L732.7,1043.5L731.6,1044.2L730.7,1044.7L730.4,1044.9L729.2,1045.7L728.7,1046.0L728.0,1046.4L726.7,1047.2L726.6,1047.2L725.5,1047.9L724.5,1048.5L724.3,1048.6L723.1,1049.3L722.4,1049.7L721.9,1050.0L720.7,1050.7L720.1,1051.0L719.5,1051.3L718.2,1051.9L717.6,1052.2L717.0,1052.5L715.8,1053.1L715.0,1053.5L714.6,1053.7L713.4,1054.2L712.2,1054.7L712.0,1054.7L710.9,1055.2L709.7,1055.6L708.6,1056.0L708.5,1056.0L707.3,1056.4L706.1,1056.8L704.9,1057.2L704.6,1057.2L703.6,1057.5L702.4,1057.9L702.4,1057.2L702.4,1056.0L702.4,1054.7L702.4,1053.5L702.4,1052.2L702.4,1051.0L702.4,1050.8L703.6,1050.4L704.9,1050.0L705.6,1049.7L706.1,1049.6L707.3,1049.1L708.5,1048.6L708.7,1048.5L709.7,1048.0L710.9,1047.5L711.4,1047.2L712.2,1046.9L713.4,1046.3L714.0,1046.0L714.6,1045.7L715.8,1045.1L716.5,1044.7L717.0,1044.5L718.2,1043.9L718.9,1043.5L719.5,1043.2L720.7,1042.6L721.3,1042.2L721.9,1041.9L723.1,1041.2L723.5,1041.0L724.3,1040.6L725.5,1039.9L725.8,1039.7L726.7,1039.2L728.0,1038.6L728.1,1038.5L729.2,1037.9L730.4,1037.3L730.4,1037.2L731.6,1036.6L732.8,1036.0L732.8,1036.0L734.0,1035.4L735.3,1034.8L735.4,1034.7L736.5,1034.2L737.7,1033.6L738.0,1033.5L738.9,1033.1L740.1,1032.5L740.8,1032.2L741.3,1032.0L742.6,1031.5L743.7,1031.0L743.8,1031.0L745.0,1030.5L746.2,1030.0L746.9,1029.8L747.4,1029.5L748.6,1029.1L749.9,1028.6L750.2,1028.5L751.1,1028.2L752.3,1027.8L753.5,1027.4L753.8,1027.3L754.7,1027.0L755.9,1026.6L757.2,1026.3L758.2,1026.0L758.4,1026.0L759.6,1025.7L760.8,1025.5L762.0,1025.3L763.2,1025.1L764.5,1025.0L765.7,1024.8L766.2,1024.8Z" fill="#96c4e3" stroke="#96c4e3" stroke-width="0.3" fill-rule="evenodd"/>
<path d="M765.7,1029.7L766.9,1029.6L768.1,1029.5L769.3,1029.4L770.5,1029.4L771.8,1029.4L773.0,1029.4L774.2,1029.4L775.4,1029.4L776.6,1029.5L777.8,1029.6L779.1,1029.7L779.6,1029.8L780.3,1029.8L781.5,1029.9L782.7,1030.0L783.9,1030.2L785.1,1030.3L786.4,1030.4L787.6,1030.6L788.8,1030.7L790.0,1030.9L791.2,1031.0L791.3,1031.0L792.4,1031.1L793.7,1031.3L794.9,1031.4L796.1,1031.5L797.3,1031.6L798.5,1031.7L799.7,1031.8L801.0,1031.9L802.2,1032.0L803.4,1032.1L804.6,1032.2L805.8,1032.2L806.0,1032.2L807.0,1032.3L808.3,1032.4L809.5,1032.4L810.7,1032.4L811.9,1032.4L813.1,1032.4L814.3,1032.4L815.5,1032.4L816.8,1032.3L817.8,1032.2L818.0,1032.2L819.2,1032.2L820.4,1032.1L821.6,1032.0L822.8,1031.9L824.1,1031.8L825.3,1031.7L826.5,1031.6L827.7,1031.5L828.9,1031.4L830.1,1031.3L831.4,1031.1L832.5,1031.0L832.6,1031.0L833.8,1030.9L835.0,1030.7L836.2,1030.6L837.4,1030.4L838.7,1030.3L839.9,1030.2L841.1,1030.0L842.3,1029.9L843.5,1029.8L844.2,1029.8L844.7,1029.7L846.0,1029.6L847.2,1029.5L848.4,1029.4L849.6,1029.4L850.8,1029.4L852.0,1029.4L853.3,1029.4L854.5,1029.4L855.7,1029.5L856.9,1029.6L858.1,1029.7L859.0,1029.8L859.3,1029.8L860.6,1030.0L861.8,1030.2L863.0,1030.5L864.2,1030.8L864.8,1031.0L865.4,1031.2L866.6,1031.5L867.9,1031.9L868.8,1032.2L869.1,1032.3L870.3,1032.8L871.5,1033.3L872.1,1033.5L872.7,1033.7L873.9,1034.3L875.0,1034.7L875.2,1034.8L876.4,1035.4L877.6,1035.9L877.7,1036.0L878.8,1036.5L880.0,1037.1L880.2,1037.2L881.2,1037.8L882.5,1038.4L882.6,1038.5L883.7,1039.1L884.8,1039.7L884.9,1039.8L886.1,1040.5L887.0,1041.0L887.3,1041.2L888.5,1041.9L889.1,1042.2L889.8,1042.7L891.0,1043.4L891.1,1043.5L892.2,1044.2L893.1,1044.7L893.4,1044.9L894.6,1045.7L895.1,1046.0L895.8,1046.4L897.1,1047.2L897.2,1047.2L898.3,1047.9L899.3,1048.5L899.5,1048.6L900.7,1049.3L901.4,1049.7L901.9,1050.0L903.1,1050.7L903.7,1051.0L904.3,1051.3L905.6,1051.9L906.2,1052.2L906.8,1052.5L908.0,1053.1L908.8,1053.5L909.2,1053.7L910.4,1054.2L911.6,1054.7L911.8,1054.7L912.9,1055.2L914.1,1055.6L915.2,1056.0L915.3,1056.0L916.5,1056.4L917.7,1056.8L918.9,1057.2L919.2,1057.2L920.2,1057.5L921.4,1057.9L921.4,1058.5L921.4,1059.7L921.4,1061.0L921.4,1062.2L921.4,1063.5L921.4,1064.7L921.4,1064.9L920.8,1064.7L920.2,1064.6L918.9,1064.3L917.7,1064.0L916.5,1063.6L915.9,1063.5L915.3,1063.3L914.1,1063.0L912.9,1062.6L911.6,1062.3L911.4,1062.2L910.4,1061.9L909.2,1061.6L908.0,1061.2L907.5,1061.0L906.8,1060.7L905.6,1060.3L904.3,1059.8L904.3,1059.7L903.1,1059.2L901.9,1058.6L901.6,1058.5L900.7,1058.0L899.5,1057.3L899.3,1057.2L898.3,1056.7L897.2,1056.0L897.1,1055.9L895.8,1055.1L895.2,1054.7L894.6,1054.3L893.4,1053.5L893.4,1053.5L892.2,1052.7L891.6,1052.2L891.0,1051.8L889.8,1051.0L889.8,1050.9L888.5,1050.0L888.1,1049.7L887.3,1049.2L886.4,1048.5L886.1,1048.3L884.9,1047.4L884.7,1047.2L883.7,1046.5L882.9,1046.0L882.5,1045.7L881.2,1044.8L881.1,1044.7L880.0,1044.0L879.2,1043.5L878.8,1043.3L877.6,1042.5L877.2,1042.2L876.4,1041.8L875.2,1041.0L875.1,1041.0L873.9,1040.4L872.8,1039.7L872.7,1039.7L871.5,1039.1L870.3,1038.5L870.2,1038.5L869.1,1038.0L867.9,1037.5L867.2,1037.2L866.6,1037.0L865.4,1036.6L864.2,1036.2L863.5,1036.0L863.0,1035.9L861.8,1035.5L860.6,1035.3L859.3,1035.0L858.1,1034.8L857.7,1034.7L856.9,1034.6L855.7,1034.5L854.5,1034.4L853.3,1034.3L852.0,1034.3L850.8,1034.2L849.6,1034.2L848.4,1034.2L847.2,1034.3L846.0,1034.3L844.7,1034.4L843.5,1034.4L842.3,1034.5L841.1,1034.6L839.9,1034.7L838.7,1034.7L838.7,1034.8L837.4,1034.8L836.2,1034.9L835.0,1035.0L833.8,1035.1L832.6,1035.2L831.4,1035.3L830.1,1035.4L828.9,1035.5L827.7,1035.6L826.5,1035.7L825.3,1035.7L824.1,1035.8L822.8,1035.9L821.6,1035.9L820.5,1036.0L820.4,1036.0L819.2,1036.1L818.0,1036.1L816.8,1036.1L815.5,1036.2L814.3,1036.2L813.1,1036.2L811.9,1036.2L810.7,1036.2L809.5,1036.2L808.3,1036.2L807.0,1036.1L805.8,1036.1L804.6,1036.1L803.4,1036.0L803.3,1036.0L802.2,1035.9L801.0,1035.9L799.7,1035.8L798.5,1035.7L797.3,1035.7L796.1,1035.6L794.9,1035.5L793.7,1035.4L792.4,1035.3L791.2,1035.2L790.0,1035.1L788.8,1035.0L787.6,1034.9L786.4,1034.8L785.1,1034.8L785.1,1034.7L783.9,1034.7L782.7,1034.6L781.5,1034.5L780.3,1034.4L779.1,1034.4L777.8,1034.3L776.6,1034.3L775.4,1034.2L774.2,1034.2L773.0,1034.2L771.8,1034.3L770.5,1034.3L769.3,1034.4L768.1,1034.5L766.9,1034.6L766.1,1034.7L765.7,1034.8L764.5,1035.0L763.2,1035.3L762.0,1035.5L760.8,1035.9L760.3,1036.0L759.6,1036.2L758.4,1036.6L757.2,1037.0L756.6,1037.2L755.9,1037.5L754.7,1038.0L753.6,1038.5L753.5,1038.5L752.3,1039.1L751.1,1039.7L751.0,1039.7L749.9,1040.4L748.7,1041.0L748.6,1041.0L747.4,1041.8L746.6,1042.2L746.2,1042.5L745.0,1043.3L744.6,1043.5L743.8,1044.0L742.7,1044.7L742.6,1044.8L741.3,1045.7L740.9,1046.0L740.1,1046.5L739.1,1047.2L738.9,1047.4L737.7,1048.3L737.4,1048.5L736.5,1049.2L735.7,1049.7L735.3,1050.0L734.0,1050.9L734.0,1051.0L732.8,1051.8L732.2,1052.2L731.6,1052.7L730.4,1053.5L730.4,1053.5L729.2,1054.3L728.6,1054.7L728.0,1055.1L726.7,1055.9L726.6,1056.0L725.5,1056.7L724.5,1057.2L724.3,1057.3L723.1,1058.0L722.2,1058.5L721.9,1058.6L720.7,1059.2L719.5,1059.7L719.5,1059.8L718.2,1060.3L717.0,1060.7L716.3,1061.0L715.8,1061.2L714.6,1061.6L713.4,1061.9L712.4,1062.2L712.2,1062.3L710.9,1062.6L709.7,1063.0L708.5,1063.3L707.9,1063.5L707.3,1063.6L706.1,1064.0L704.9,1064.3L703.6,1064.6L703.0,1064.7L702.4,1064.9L702.4,1064.7L702.4,1063.5L702.4,1062.2L702.4,1061.0L702.4,1059.7L702.4,1058.5L702.4,1057.9L703.6,1057.5L704.6,1057.2L704.9,1057.2L706.1,1056.8L707.3,1056.4L708.5,1056.0L708.6,1056.0L709.7,1055.6L710.9,1055.2L712.0,1054.7L712.2,1054.7L713.4,1054.2L714.6,1053.7L715.0,1053.5L715.8,1053.1L717.0,1052.5L717.6,1052.2L718.2,1051.9L719.5,1051.3L720.1,1051.0L720.7,1050.7L721.9,1050.0L722.4,1049.7L723.1,1049.3L724.3,1048.6L724.5,1048.5L725.5,1047.9L726.6,1047.2L726.7,1047.2L728.0,1046.4L728.7,1046.0L729.2,1045.7L730.4,1044.9L730.7,1044.7L731.6,1044.2L732.7,1043.5L732.8,1043.4L734.0,1042.7L734.7,1042.2L735.3,1041.9L736.5,1041.2L736.8,1041.0L737.7,1040.5L738.9,1039.8L739.0,1039.7L740.1,1039.1L741.2,1038.5L741.3,1038.4L742.6,1037.8L743.6,1037.2L743.8,1037.1L745.0,1036.5L746.1,1036.0L746.2,1035.9L747.4,1035.4L748.6,1034.8L748.8,1034.7L749.9,1034.3L751.1,1033.7L751.7,1033.5L752.3,1033.3L753.5,1032.8L754.7,1032.3L755.0,1032.2L755.9,1031.9L757.2,1031.5L758.4,1031.2L759.0,1031.0L759.6,1030.8L760.8,1030.5L762.0,1030.2L763.2,1030.0L764.5,1029.8L764.8,1029.8Z" fill="#a0cbe6" stroke="#a0cbe6" stroke-width="0.3" fill-rule="evenodd"/>
<path d="M766.9,1034.6L768.1,1034.5L769.3,1034.4L770.5,1034.3L771.8,1034.3L773.0,1034.2L774.2,1034.2L775.4,1034.2L776.6,1034.3L777.8,1034.3L779.1,1034.4L780.3,1034.4L781.5,1034.5L782.7,1034.6L783.9,1034.7L785.1,1034.7L785.1,1034.8L786.4,1034.8L787.6,1034.9L788.8,1035.0L790.0,1035.1L791.2,1035.2L792.4,1035.3L793.7,1035.4L794.9,1035.5L796.1,1035.6L797.3,1035.7L798.5,1035.7L799.7,1035.8L801.0,1035.9L802.2,1035.9L803.3,1036.0L803.4,1036.0L804.6,1036.1L805.8,1036.1L807.0,1036.1L808.3,1036.2L809.5,1036.2L810.7,1036.2L811.9,1036.2L813.1,1036.2L814.3,1036.2L815.5,1036.2L816.8,1036.1L818.0,1036.1L819.2,1036.1L820.4,1036.0L820.5,1036.0L821.6,1035.9L822.8,1035.9L824.1,1035.8L825.3,1035.7L826.5,1035.7L827.7,1035.6L828.9,1035.5L830.1,1035.4L831.4,1035.3L832.6,1035.2L833.8,1035.1L835.0,1035.0L836.2,1034.9L837.4,1034.8L838.7,1034.8L838.7,1034.7L839.9,1034.7L841.1,1034.6L842.3,1034.5L843.5,1034.4L844.7,1034.4L846.0,1034.3L847.2,1034.3L848.4,1034.2L849.6,1034.2L850.8,1034.2L852.0,1034.3L853.3,1034.3L854.5,1034.4L855.7,1034.5L856.9,1034.6L857.7,1034.7L858.1,1034.8L859.3,1035.0L860.6,1035.3L861.8,1035.5L863.0,1035.9L863.5,1036.0L864.2,1036.2L865.4,1036.6L866.6,1037.0L867.2,1037.2L867.9,1037.5L869.1,1038.0L870.2,1038.5L870.3,1038.5L871.5,1039.1L872.7,1039.7L872.8,1039.7L873.9,1040.4L875.1,1041.0L875.2,1041.0L876.4,1041.8L877.2,1042.2L877.6,1042.5L878.8,1043.3L879.2,1043.5L880.0,1044.0L881.1,1044.7L881.2,1044.8L882.5,1045.7L882.9,1046.0L883.7,1046.5L884.7,1047.2L884.9,1047.4L886.1,1048.3L886.4,1048.5L887.3,1049.2L888.1,1049.7L888.5,1050.0L889.8,1050.9L889.8,1051.0L891.0,1051.8L891.6,1052.2L892.2,1052.7L893.4,1053.5L893.4,1053.5L894.6,1054.3L895.2,1054.7L895.8,1055.1L897.1,1055.9L897.2,1056.0L898.3,1056.7L899.3,1057.2L899.5,1057.3L900.7,1058.0L901.6,1058.5L901.9,1058.6L903.1,1059.2L904.3,1059.7L904.3,1059.8L905.6,1060.3L906.8,1060.7L907.5,1061.0L908.0,1061.2L909.2,1061.6L910.4,1061.9L911.4,1062.2L911.6,1062.3L912.9,1062.6L914.1,1063.0L915.3,1063.3L915.9,1063.5L916.5,1063.6L917.7,1064.0L918.9,1064.3L920.2,1064.6L920.8,1064.7L921.4,1064.9L921.4,1066.0L921.4,1067.2L921.4,1068.5L921.4,1069.7L921.4,1071.0L921.4,1072.2L921.4,1072.8L920.5,1072.2L920.2,1072.0L918.9,1071.5L917.7,1071.2L916.5,1071.1L915.3,1071.0L915.2,1071.0L914.1,1070.9L912.9,1070.8L911.6,1070.7L910.4,1070.6L909.2,1070.4L908.0,1070.2L906.8,1070.0L905.9,1069.7L905.6,1069.7L904.3,1069.3L903.1,1068.9L902.0,1068.5L901.9,1068.5L900.7,1067.9L899.5,1067.3L899.3,1067.2L898.3,1066.7L897.1,1066.0L897.0,1066.0L895.8,1065.2L895.1,1064.7L894.6,1064.4L893.4,1063.6L893.3,1063.5L892.2,1062.7L891.6,1062.2L891.0,1061.8L890.0,1061.0L889.8,1060.8L888.5,1059.8L888.4,1059.7L887.3,1058.8L887.0,1058.5L886.1,1057.8L885.5,1057.2L884.9,1056.7L884.1,1056.0L883.7,1055.6L882.7,1054.7L882.5,1054.6L881.2,1053.5L881.2,1053.5L880.0,1052.4L879.8,1052.2L878.8,1051.4L878.3,1051.0L877.6,1050.4L876.8,1049.7L876.4,1049.4L875.2,1048.5L875.2,1048.5L873.9,1047.6L873.5,1047.2L872.7,1046.7L871.7,1046.0L871.5,1045.8L870.3,1045.1L869.8,1044.7L869.1,1044.3L867.9,1043.6L867.6,1043.5L866.6,1043.0L865.4,1042.4L865.0,1042.2L864.2,1041.9L863.0,1041.5L861.8,1041.1L861.4,1041.0L860.6,1040.8L859.3,1040.5L858.1,1040.2L856.9,1040.0L855.7,1039.8L855.1,1039.7L854.5,1039.7L853.3,1039.6L852.0,1039.5L850.8,1039.4L849.6,1039.3L848.4,1039.3L847.2,1039.3L846.0,1039.3L844.7,1039.3L843.5,1039.3L842.3,1039.3L841.1,1039.3L839.9,1039.4L838.7,1039.4L837.4,1039.4L836.2,1039.5L835.0,1039.5L833.8,1039.6L832.6,1039.6L831.4,1039.7L830.1,1039.7L828.9,1039.7L828.9,1039.7L827.7,1039.8L826.5,1039.8L825.3,1039.9L824.1,1039.9L822.8,1039.9L821.6,1039.9L820.4,1039.9L819.2,1039.9L818.0,1040.0L816.8,1040.0L815.5,1040.0L814.3,1040.0L813.1,1040.0L811.9,1040.0L810.7,1040.0L809.5,1040.0L808.3,1040.0L807.0,1040.0L805.8,1040.0L804.6,1039.9L803.4,1039.9L802.2,1039.9L801.0,1039.9L799.7,1039.9L798.5,1039.9L797.3,1039.8L796.1,1039.8L794.9,1039.7L794.9,1039.7L793.7,1039.7L792.4,1039.7L791.2,1039.6L790.0,1039.6L788.8,1039.5L787.6,1039.5L786.4,1039.4L785.1,1039.4L783.9,1039.4L782.7,1039.3L781.5,1039.3L780.3,1039.3L779.1,1039.3L777.8,1039.3L776.6,1039.3L775.4,1039.3L774.2,1039.3L773.0,1039.4L771.8,1039.5L770.5,1039.6L769.3,1039.7L768.7,1039.7L768.1,1039.8L766.9,1040.0L765.7,1040.2L764.5,1040.5L763.2,1040.8L762.4,1041.0L762.0,1041.1L760.8,1041.5L759.6,1041.9L758.8,1042.2L758.4,1042.4L757.2,1043.0L756.2,1043.5L755.9,1043.6L754.7,1044.3L754.0,1044.7L753.5,1045.1L752.3,1045.8L752.1,1046.0L751.1,1046.7L750.3,1047.2L749.9,1047.6L748.6,1048.5L748.6,1048.5L747.4,1049.4L747.0,1049.7L746.2,1050.4L745.5,1051.0L745.0,1051.4L744.0,1052.2L743.8,1052.4L742.6,1053.5L742.6,1053.5L741.3,1054.6L741.1,1054.7L740.1,1055.6L739.7,1056.0L738.9,1056.7L738.3,1057.2L737.7,1057.8L736.8,1058.5L736.5,1058.8L735.4,1059.7L735.3,1059.8L734.0,1060.8L733.8,1061.0L732.8,1061.8L732.2,1062.2L731.6,1062.7L730.5,1063.5L730.4,1063.6L729.2,1064.4L728.7,1064.7L728.0,1065.2L726.8,1066.0L726.7,1066.0L725.5,1066.7L724.5,1067.2L724.3,1067.3L723.1,1067.9L721.9,1068.5L721.8,1068.5L720.7,1068.9L719.5,1069.3L718.2,1069.7L717.9,1069.7L717.0,1070.0L715.8,1070.2L714.6,1070.4L713.4,1070.6L712.2,1070.7L710.9,1070.8L709.7,1070.9L708.6,1071.0L708.5,1071.0L707.3,1071.1L706.1,1071.2L704.9,1071.5L703.6,1072.0L703.3,1072.2L702.4,1072.8L702.4,1072.2L702.4,1071.0L702.4,1069.7L702.4,1068.5L702.4,1067.2L702.4,1066.0L702.4,1064.9L703.0,1064.7L703.6,1064.6L704.9,1064.3L706.1,1064.0L707.3,1063.6L707.9,1063.5L708.5,1063.3L709.7,1063.0L710.9,1062.6L712.2,1062.3L712.4,1062.2L713.4,1061.9L714.6,1061.6L715.8,1061.2L716.3,1061.0L717.0,1060.7L718.2,1060.3L719.5,1059.8L719.5,1059.7L720.7,1059.2L721.9,1058.6L722.2,1058.5L723.1,1058.0L724.3,1057.3L724.5,1057.2L725.5,1056.7L726.6,1056.0L726.7,1055.9L728.0,1055.1L728.6,1054.7L729.2,1054.3L730.4,1053.5L730.4,1053.5L731.6,1052.7L732.2,1052.2L732.8,1051.8L734.0,1051.0L734.0,1050.9L735.3,1050.0L735.7,1049.7L736.5,1049.2L737.4,1048.5L737.7,1048.3L738.9,1047.4L739.1,1047.2L740.1,1046.5L740.9,1046.0L741.3,1045.7L742.6,1044.8L742.7,1044.7L743.8,1044.0L744.6,1043.5L745.0,1043.3L746.2,1042.5L746.6,1042.2L747.4,1041.8L748.6,1041.0L748.7,1041.0L749.9,1040.4L751.0,1039.7L751.1,1039.7L752.3,1039.1L753.5,1038.5L753.6,1038.5L754.7,1038.0L755.9,1037.5L756.6,1037.2L757.2,1037.0L758.4,1036.6L759.6,1036.2L760.3,1036.0L760.8,1035.9L762.0,1035.5L763.2,1035.3L764.5,1035.0L765.7,1034.8L766.1,1034.7Z" fill="#aad2e9" stroke="#aad2e9" stroke-width="0.3" fill-rule="evenodd"/>
<path d="M769.3,1039.7L770.5,1039.6L771.8,1039.5L773.0,1039.4L774.2,1039.3L775.4,1039.3L776.6,1039.3L777.8,1039.3L779.1,1039.3L780.3,1039.3L781.5,1039.3L782.7,1039.3L783.9,1039.4L785.1,1039.4L786.4,1039.4L787.6,1039.5L788.8,1039.5L790.0,1039.6L791.2,1039.6L792.4,1039.7L793.7,1039.7L794.9,1039.7L794.9,1039.7L796.1,1039.8L797.3,1039.8L798.5,1039.9L799.7,1039.9L801.0,1039.9L802.2,1039.9L803.4,1039.9L804.6,1039.9L805.8,1040.0L807.0,1040.0L808.3,1040.0L809.5,1040.0L810.7,1040.0L811.9,1040.0L813.1,1040.0L814.3,1040.0L815.5,1040.0L816.8,1040.0L818.0,1040.0L819.2,1039.9L820.4,1039.9L821.6,1039.9L822.8,1039.9L824.1,1039.9L825.3,1039.9L826.5,1039.8L827.7,1039.8L828.9,1039.7L828.9,1039.7L830.1,1039.7L831.4,1039.7L832.6,1039.6L833.8,1039.6L835.0,1039.5L836.2,1039.5L837.4,1039.4L838.7,1039.4L839.9,1039.4L841.1,1039.3L842.3,1039.3L843.5,1039.3L844.7,1039.3L846.0,1039.3L847.2,1039.3L848.4,1039.3L849.6,1039.3L850.8,1039.4L852.0,1039.5L853.3,1039.6L854.5,1039.7L855.1,1039.7L855.7,1039.8L856.9,1040.0L858.1,1040.2L859.3,1040.5L860.6,1040.8L861.4,1041.0L861.8,1041.1L863.0,1041.5L864.2,1041.9L865.0,1042.2L865.4,1042.4L866.6,1043.0L867.6,1043.5L867.9,1043.6L869.1,1044.3L869.8,1044.7L870.3,1045.1L871.5,1045.8L871.7,1046.0L872.7,1046.7L873.5,1047.2L873.9,1047.6L875.2,1048.5L875.2,1048.5L876.4,1049.4L876.8,1049.7L877.6,1050.4L878.3,1051.0L878.8,1051.4L879.8,1052.2L880.0,1052.4L881.2,1053.5L881.2,1053.5L882.5,1054.6L882.7,1054.7L883.7,1055.6L884.1,1056.0L884.9,1056.7L885.5,1057.2L886.1,1057.8L887.0,1058.5L887.3,1058.8L888.4,1059.7L888.5,1059.8L889.8,1060.8L890.0,1061.0L891.0,1061.8L891.6,1062.2L892.2,1062.7L893.3,1063.5L893.4,1063.6L894.6,1064.4L895.1,1064.7L895.8,1065.2L897.0,1066.0L897.1,1066.0L898.3,1066.7L899.3,1067.2L899.5,1067.3L900.7,1067.9L901.9,1068.5L902.0,1068.5L903.1,1068.9L904.3,1069.3L905.6,1069.7L905.9,1069.7L906.8,1070.0L908.0,1070.2L909.2,1070.4L910.4,1070.6L911.6,1070.7L912.9,1070.8L914.1,1070.9L915.2,1071.0L915.3,1071.0L916.5,1071.1L917.7,1071.2L918.9,1071.5L920.2,1072.0L920.5,1072.2L921.4,1072.8L921.4,1073.5L921.4,1074.7L921.4,1076.0L921.4,1077.2L921.4,1078.5L921.4,1079.7L921.4,1081.0L920.2,1081.0L918.9,1081.0L917.7,1081.0L916.5,1081.0L915.3,1081.0L914.1,1081.0L912.9,1081.0L911.6,1081.0L910.4,1081.0L909.2,1081.0L908.0,1081.0L906.8,1081.0L905.6,1081.0L904.3,1081.0L903.1,1081.0L902.9,1081.0L901.9,1080.6L900.7,1080.1L899.8,1079.7L899.5,1079.6L898.3,1079.0L897.4,1078.5L897.1,1078.3L895.8,1077.4L895.6,1077.2L894.6,1076.5L894.0,1076.0L893.4,1075.5L892.4,1074.7L892.2,1074.5L891.0,1073.5L890.9,1073.5L889.8,1072.5L889.5,1072.2L888.5,1071.4L888.1,1071.0L887.3,1070.3L886.6,1069.7L886.1,1069.3L885.2,1068.5L884.9,1068.2L883.9,1067.2L883.7,1067.0L882.6,1066.0L882.5,1065.9L881.3,1064.7L881.2,1064.7L880.1,1063.5L880.0,1063.4L878.8,1062.2L878.8,1062.2L877.6,1061.0L877.6,1060.9L876.4,1059.7L876.4,1059.7L875.2,1058.5L875.2,1058.5L873.9,1057.2L873.9,1057.2L872.7,1056.0L872.7,1056.0L871.5,1054.9L871.3,1054.7L870.3,1053.8L869.9,1053.5L869.1,1052.8L868.4,1052.2L867.9,1051.8L866.9,1051.0L866.6,1050.8L865.4,1049.9L865.2,1049.7L864.2,1049.1L863.4,1048.5L863.0,1048.3L861.8,1047.5L861.2,1047.2L860.6,1046.9L859.3,1046.5L858.1,1046.1L857.3,1046.0L856.9,1045.9L855.7,1045.8L854.5,1045.6L853.3,1045.5L852.0,1045.3L850.8,1045.2L849.6,1045.1L848.4,1045.0L847.2,1044.9L846.0,1044.8L845.2,1044.7L844.7,1044.7L843.5,1044.6L842.3,1044.6L841.1,1044.5L839.9,1044.5L838.7,1044.4L837.4,1044.4L836.2,1044.3L835.0,1044.3L833.8,1044.3L832.6,1044.3L831.4,1044.3L830.1,1044.3L828.9,1044.2L827.7,1044.2L826.5,1044.2L825.3,1044.2L824.1,1044.1L822.8,1044.1L821.6,1044.1L820.4,1044.0L819.2,1044.0L818.0,1043.9L816.8,1043.9L815.5,1043.8L814.3,1043.7L813.1,1043.7L811.9,1043.6L810.7,1043.7L809.5,1043.7L808.3,1043.8L807.0,1043.9L805.8,1043.9L804.6,1044.0L803.4,1044.0L802.2,1044.1L801.0,1044.1L799.7,1044.1L798.5,1044.2L797.3,1044.2L796.1,1044.2L794.9,1044.2L793.7,1044.3L792.4,1044.3L791.2,1044.3L790.0,1044.3L788.8,1044.3L787.6,1044.3L786.4,1044.4L785.1,1044.4L783.9,1044.5L782.7,1044.5L781.5,1044.6L780.3,1044.6L779.1,1044.7L778.6,1044.7L777.8,1044.8L776.6,1044.9L775.4,1045.0L774.2,1045.1L773.0,1045.2L771.8,1045.3L770.5,1045.5L769.3,1045.6L768.1,1045.8L766.9,1045.9L766.5,1046.0L765.7,1046.1L764.5,1046.5L763.2,1046.9L762.6,1047.2L762.0,1047.5L760.8,1048.3L760.4,1048.5L759.6,1049.1L758.6,1049.7L758.4,1049.9L757.2,1050.8L756.9,1051.0L755.9,1051.8L755.4,1052.2L754.7,1052.8L753.9,1053.5L753.5,1053.8L752.5,1054.7L752.3,1054.9L751.1,1056.0L751.1,1056.0L749.9,1057.2L749.9,1057.2L748.6,1058.5L748.6,1058.5L747.4,1059.7L747.4,1059.7L746.2,1060.9L746.2,1061.0L745.0,1062.2L745.0,1062.2L743.8,1063.4L743.7,1063.5L742.6,1064.7L742.5,1064.7L741.3,1065.9L741.2,1066.0L740.1,1067.0L739.9,1067.2L738.9,1068.2L738.6,1068.5L737.7,1069.3L737.2,1069.7L736.5,1070.3L735.7,1071.0L735.3,1071.4L734.3,1072.2L734.0,1072.5L732.9,1073.5L732.8,1073.5L731.6,1074.5L731.4,1074.7L730.4,1075.5L729.8,1076.0L729.2,1076.5L728.2,1077.2L728.0,1077.4L726.7,1078.3L726.4,1078.5L725.5,1079.0L724.3,1079.6L724.0,1079.7L723.1,1080.1L721.9,1080.6L720.9,1081.0L720.7,1081.0L719.5,1081.0L718.2,1081.0L717.0,1081.0L715.8,1081.0L714.6,1081.0L713.4,1081.0L712.2,1081.0L710.9,1081.0L709.7,1081.0L708.5,1081.0L707.3,1081.0L706.1,1081.0L704.9,1081.0L703.6,1081.0L702.4,1081.0L702.4,1079.7L702.4,1078.5L702.4,1077.2L702.4,1076.0L702.4,1074.7L702.4,1073.5L702.4,1072.8L703.3,1072.2L703.6,1072.0L704.9,1071.5L706.1,1071.2L707.3,1071.1L708.5,1071.0L708.6,1071.0L709.7,1070.9L710.9,1070.8L712.2,1070.7L713.4,1070.6L714.6,1070.4L715.8,1070.2L717.0,1070.0L717.9,1069.7L718.2,1069.7L719.5,1069.3L720.7,1068.9L721.8,1068.5L721.9,1068.5L723.1,1067.9L724.3,1067.3L724.5,1067.2L725.5,1066.7L726.7,1066.0L726.8,1066.0L728.0,1065.2L728.7,1064.7L729.2,1064.4L730.4,1063.6L730.5,1063.5L731.6,1062.7L732.2,1062.2L732.8,1061.8L733.8,1061.0L734.0,1060.8L735.3,1059.8L735.4,1059.7L736.5,1058.8L736.8,1058.5L737.7,1057.8L738.3,1057.2L738.9,1056.7L739.7,1056.0L740.1,1055.6L741.1,1054.7L741.3,1054.6L742.6,1053.5L742.6,1053.5L743.8,1052.4L744.0,1052.2L745.0,1051.4L745.5,1051.0L746.2,1050.4L747.0,1049.7L747.4,1049.4L748.6,1048.5L748.6,1048.5L749.9,1047.6L750.3,1047.2L751.1,1046.7L752.1,1046.0L752.3,1045.8L753.5,1045.1L754.0,1044.7L754.7,1044.3L755.9,1043.6L756.2,1043.5L757.2,1043.0L758.4,1042.4L758.8,1042.2L759.6,1041.9L760.8,1041.5L762.0,1041.1L762.4,1041.0L763.2,1040.8L764.5,1040.5L765.7,1040.2L766.9,1040.0L768.1,1039.8L768.7,1039.7Z" fill="#b4d8ec" stroke="#b4d8ec" stroke-width="0.3" fill-rule="evenodd"/>
<path d="M779.1,1044.7L780.3,1044.6L781.5,1044.6L782.7,1044.5L783.9,1044.5L785.1,1044.4L786.4,1044.4L787.6,1044.3L788.8,1044.3L790.0,1044.3L791.2,1044.3L792.4,1044.3L793.7,1044.3L794.9,1044.2L796.1,1044.2L797.3,1044.2L798.5,1044.2L799.7,1044.1L801.0,1044.1L802.2,1044.1L803.4,1044.0L804.6,1044.0L805.8,1043.9L807.0,1043.9L808.3,1043.8L809.5,1043.7L810.7,1043.7L811.9,1043.6L813.1,1043.7L814.3,1043.7L815.5,1043.8L816.8,1043.9L818.0,1043.9L819.2,1044.0L820.4,1044.0L821.6,1044.1L822.8,1044.1L824.1,1044.1L825.3,1044.2L826.5,1044.2L827.7,1044.2L828.9,1044.2L830.1,1044.3L831.4,1044.3L832.6,1044.3L833.8,1044.3L835.0,1044.3L836.2,1044.3L837.4,1044.4L838.7,1044.4L839.9,1044.5L841.1,1044.5L842.3,1044.6L843.5,1044.6L844.7,1044.7L845.2,1044.7L846.0,1044.8L847.2,1044.9L848.4,1045.0L849.6,1045.1L850.8,1045.2L852.0,1045.3L853.3,1045.5L854.5,1045.6L855.7,1045.8L856.9,1045.9L857.3,1046.0L858.1,1046.1L859.3,1046.5L860.6,1046.9L861.2,1047.2L861.8,1047.5L863.0,1048.3L863.4,1048.5L864.2,1049.1L865.2,1049.7L865.4,1049.9L866.6,1050.8L866.9,1051.0L867.9,1051.8L868.4,1052.2L869.1,1052.8L869.9,1053.5L870.3,1053.8L871.3,1054.7L871.5,1054.9L872.7,1056.0L872.7,1056.0L873.9,1057.2L873.9,1057.2L875.2,1058.5L875.2,1058.5L876.4,1059.7L876.4,1059.7L877.6,1060.9L877.6,1061.0L878.8,1062.2L878.8,1062.2L880.0,1063.4L880.1,1063.5L881.2,1064.7L881.3,1064.7L882.5,1065.9L882.6,1066.0L883.7,1067.0L883.9,1067.2L884.9,1068.2L885.2,1068.5L886.1,1069.3L886.6,1069.7L887.3,1070.3L888.1,1071.0L888.5,1071.4L889.5,1072.2L889.8,1072.5L890.9,1073.5L891.0,1073.5L892.2,1074.5L892.4,1074.7L893.4,1075.5L894.0,1076.0L894.6,1076.5L895.6,1077.2L895.8,1077.4L897.1,1078.3L897.4,1078.5L898.3,1079.0L899.5,1079.6L899.8,1079.7L900.7,1080.1L901.9,1080.6L902.9,1081.0L901.9,1081.0L900.7,1081.0L899.5,1081.0L898.3,1081.0L897.1,1081.0L895.8,1081.0L894.6,1081.0L893.4,1081.0L892.2,1081.0L891.0,1081.0L889.8,1081.0L888.5,1081.0L887.3,1081.0L886.1,1081.0L885.9,1081.0L884.9,1080.1L884.5,1079.7L883.7,1078.9L883.2,1078.5L882.5,1077.8L881.8,1077.2L881.2,1076.8L880.3,1076.0L880.0,1075.7L878.9,1074.7L878.8,1074.6L877.6,1073.5L877.6,1073.5L876.4,1072.3L876.3,1072.2L875.2,1071.2L875.0,1071.0L873.9,1070.0L873.7,1069.7L872.7,1068.8L872.4,1068.5L871.5,1067.5L871.2,1067.2L870.3,1066.3L870.0,1066.0L869.1,1065.1L868.7,1064.7L867.9,1063.9L867.5,1063.5L866.6,1062.7L866.2,1062.2L865.4,1061.6L864.8,1061.0L864.2,1060.5L863.3,1059.7L863.0,1059.5L861.8,1058.6L861.6,1058.5L860.6,1057.8L859.6,1057.2L859.3,1057.1L858.1,1056.4L857.3,1056.0L856.9,1055.8L855.7,1055.2L854.7,1054.7L854.5,1054.7L853.3,1053.9L852.4,1053.5L852.0,1053.3L850.8,1052.7L849.6,1052.3L849.5,1052.2L848.4,1051.9L847.2,1051.6L846.0,1051.3L844.7,1051.1L844.0,1051.0L843.5,1050.9L842.3,1050.8L841.1,1050.6L839.9,1050.5L838.7,1050.3L837.4,1050.2L836.2,1050.0L835.0,1049.9L834.1,1049.7L833.8,1049.7L832.6,1049.6L831.4,1049.4L830.1,1049.3L828.9,1049.1L827.7,1049.0L826.5,1048.9L825.3,1048.8L824.1,1048.7L822.8,1048.6L821.6,1048.5L821.6,1048.5L820.4,1048.4L819.2,1048.4L818.0,1048.3L816.8,1048.2L815.5,1048.2L814.3,1048.2L813.1,1048.1L811.9,1048.1L810.7,1048.1L809.5,1048.2L808.3,1048.2L807.0,1048.2L805.8,1048.3L804.6,1048.4L803.4,1048.4L802.2,1048.5L802.2,1048.5L801.0,1048.6L799.7,1048.7L798.5,1048.8L797.3,1048.9L796.1,1049.0L794.9,1049.1L793.7,1049.3L792.4,1049.4L791.2,1049.6L790.0,1049.7L789.7,1049.7L788.8,1049.9L787.6,1050.0L786.4,1050.2L785.1,1050.3L783.9,1050.5L782.7,1050.6L781.5,1050.8L780.3,1050.9L779.8,1051.0L779.1,1051.1L777.8,1051.3L776.6,1051.6L775.4,1051.9L774.3,1052.2L774.2,1052.3L773.0,1052.7L771.8,1053.3L771.4,1053.5L770.5,1053.9L769.3,1054.7L769.1,1054.7L768.1,1055.2L766.9,1055.8L766.5,1056.0L765.7,1056.4L764.5,1057.1L764.2,1057.2L763.2,1057.8L762.2,1058.5L762.0,1058.6L760.8,1059.5L760.5,1059.7L759.6,1060.5L759.0,1061.0L758.4,1061.6L757.6,1062.2L757.2,1062.7L756.3,1063.5L755.9,1063.9L755.1,1064.7L754.7,1065.1L753.8,1066.0L753.5,1066.3L752.6,1067.2L752.3,1067.5L751.4,1068.5L751.1,1068.8L750.1,1069.7L749.9,1070.0L748.8,1071.0L748.6,1071.2L747.5,1072.2L747.4,1072.3L746.2,1073.5L746.2,1073.5L745.0,1074.6L744.9,1074.7L743.8,1075.7L743.5,1076.0L742.6,1076.8L742.0,1077.2L741.3,1077.8L740.6,1078.5L740.1,1078.9L739.3,1079.7L738.9,1080.1L737.9,1081.0L737.7,1081.0L736.5,1081.0L735.3,1081.0L734.0,1081.0L732.8,1081.0L731.6,1081.0L730.4,1081.0L729.2,1081.0L728.0,1081.0L726.7,1081.0L725.5,1081.0L724.3,1081.0L723.1,1081.0L721.9,1081.0L720.9,1081.0L721.9,1080.6L723.1,1080.1L724.0,1079.7L724.3,1079.6L725.5,1079.0L726.4,1078.5L726.7,1078.3L728.0,1077.4L728.2,1077.2L729.2,1076.5L729.8,1076.0L730.4,1075.5L731.4,1074.7L731.6,1074.5L732.8,1073.5L732.9,1073.5L734.0,1072.5L734.3,1072.2L735.3,1071.4L735.7,1071.0L736.5,1070.3L737.2,1069.7L737.7,1069.3L738.6,1068.5L738.9,1068.2L739.9,1067.2L740.1,1067.0L741.2,1066.0L741.3,1065.9L742.5,1064.7L742.6,1064.7L743.7,1063.5L743.8,1063.4L745.0,1062.2L745.0,1062.2L746.2,1061.0L746.2,1060.9L747.4,1059.7L747.4,1059.7L748.6,1058.5L748.6,1058.5L749.9,1057.2L749.9,1057.2L751.1,1056.0L751.1,1056.0L752.3,1054.9L752.5,1054.7L753.5,1053.8L753.9,1053.5L754.7,1052.8L755.4,1052.2L755.9,1051.8L756.9,1051.0L757.2,1050.8L758.4,1049.9L758.6,1049.7L759.6,1049.1L760.4,1048.5L760.8,1048.3L762.0,1047.5L762.6,1047.2L763.2,1046.9L764.5,1046.5L765.7,1046.1L766.5,1046.0L766.9,1045.9L768.1,1045.8L769.3,1045.6L770.5,1045.5L771.8,1045.3L773.0,1045.2L774.2,1045.1L775.4,1045.0L776.6,1044.9L777.8,1044.8L778.6,1044.7Z" fill="#bedfee" stroke="#bedfee" stroke-width="0.3" fill-rule="evenodd"/>
<path d="M803.4,1048.4L804.6,1048.4L805.8,1048.3L807.0,1048.2L808.3,1048.2L809.5,1048.2L810.7,1048.1L811.9,1048.1L813.1,1048.1L814.3,1048.2L815.5,1048.2L816.8,1048.2L818.0,1048.3L819.2,1048.4L820.4,1048.4L821.6,1048.5L821.6,1048.5L822.8,1048.6L824.1,1048.7L825.3,1048.8L826.5,1048.9L827.7,1049.0L828.9,1049.1L830.1,1049.3L831.4,1049.4L832.6,1049.6L833.8,1049.7L834.1,1049.7L835.0,1049.9L836.2,1050.0L837.4,1050.2L838.7,1050.3L839.9,1050.5L841.1,1050.6L842.3,1050.8L843.5,1050.9L844.0,1051.0L844.7,1051.1L846.0,1051.3L847.2,1051.6L848.4,1051.9L849.5,1052.2L849.6,1052.3L850.8,1052.7L852.0,1053.3L852.4,1053.5L853.3,1053.9L854.5,1054.7L854.7,1054.7L855.7,1055.2L856.9,1055.8L857.3,1056.0L858.1,1056.4L859.3,1057.1L859.6,1057.2L860.6,1057.8L861.6,1058.5L861.8,1058.6L863.0,1059.5L863.3,1059.7L864.2,1060.5L864.8,1061.0L865.4,1061.6L866.2,1062.2L866.6,1062.7L867.5,1063.5L867.9,1063.9L868.7,1064.7L869.1,1065.1L870.0,1066.0L870.3,1066.3L871.2,1067.2L871.5,1067.5L872.4,1068.5L872.7,1068.8L873.7,1069.7L873.9,1070.0L875.0,1071.0L875.2,1071.2L876.3,1072.2L876.4,1072.3L877.6,1073.5L877.6,1073.5L878.8,1074.6L878.9,1074.7L880.0,1075.7L880.3,1076.0L881.2,1076.8L881.8,1077.2L882.5,1077.8L883.2,1078.5L883.7,1078.9L884.5,1079.7L884.9,1080.1L885.9,1081.0L884.9,1081.0L883.7,1081.0L882.5,1081.0L881.2,1081.0L880.0,1081.0L878.8,1081.0L877.6,1081.0L876.4,1081.0L875.2,1081.0L873.9,1081.0L872.7,1081.0L871.7,1081.0L871.5,1080.8L870.3,1079.7L870.3,1079.7L869.1,1078.6L868.9,1078.5L867.9,1077.5L867.5,1077.2L866.6,1076.4L866.2,1076.0L865.4,1075.2L864.9,1074.7L864.2,1074.1L863.6,1073.5L863.0,1072.9L862.3,1072.2L861.8,1071.7L861.0,1071.0L860.6,1070.5L859.7,1069.7L859.3,1069.4L858.4,1068.5L858.1,1068.2L857.1,1067.2L856.9,1067.1L855.7,1066.0L855.7,1065.9L854.5,1064.9L854.3,1064.7L853.3,1063.8L852.9,1063.5L852.0,1062.8L851.4,1062.2L850.8,1061.8L849.8,1061.0L849.6,1060.8L848.4,1060.0L847.9,1059.7L847.2,1059.4L846.0,1059.1L844.7,1058.9L843.5,1058.7L842.3,1058.5L842.2,1058.5L841.1,1058.3L839.9,1058.1L838.7,1057.8L837.4,1057.4L837.0,1057.2L836.2,1057.0L835.0,1056.5L833.8,1056.1L833.6,1056.0L832.6,1055.6L831.4,1055.2L830.1,1054.7L830.1,1054.7L828.9,1054.4L827.7,1054.1L826.5,1053.8L825.3,1053.5L824.9,1053.5L824.1,1053.3L822.8,1053.2L821.6,1053.1L820.4,1053.0L819.2,1052.9L818.0,1052.9L816.8,1052.9L815.5,1052.9L814.3,1052.9L813.1,1052.9L811.9,1052.9L810.7,1052.9L809.5,1052.9L808.3,1052.9L807.0,1052.9L805.8,1052.9L804.6,1052.9L803.4,1053.0L802.2,1053.1L801.0,1053.2L799.7,1053.3L798.9,1053.5L798.5,1053.5L797.3,1053.8L796.1,1054.1L794.9,1054.4L793.7,1054.7L793.7,1054.7L792.4,1055.2L791.2,1055.6L790.2,1056.0L790.0,1056.1L788.8,1056.5L787.6,1057.0L786.8,1057.2L786.4,1057.4L785.1,1057.8L783.9,1058.1L782.7,1058.3L781.6,1058.5L781.5,1058.5L780.3,1058.7L779.1,1058.9L777.8,1059.1L776.6,1059.4L775.9,1059.7L775.4,1060.0L774.2,1060.8L774.0,1061.0L773.0,1061.8L772.4,1062.2L771.8,1062.8L770.9,1063.5L770.5,1063.8L769.5,1064.7L769.3,1064.9L768.1,1065.9L768.1,1066.0L766.9,1067.1L766.7,1067.2L765.7,1068.2L765.4,1068.5L764.5,1069.4L764.1,1069.7L763.2,1070.5L762.8,1071.0L762.0,1071.7L761.5,1072.2L760.8,1072.9L760.2,1073.5L759.6,1074.1L758.9,1074.7L758.4,1075.2L757.6,1076.0L757.2,1076.4L756.3,1077.2L755.9,1077.5L754.9,1078.5L754.7,1078.6L753.5,1079.7L753.5,1079.7L752.3,1080.8L752.1,1081.0L751.1,1081.0L749.9,1081.0L748.6,1081.0L747.4,1081.0L746.2,1081.0L745.0,1081.0L743.8,1081.0L742.6,1081.0L741.3,1081.0L740.1,1081.0L738.9,1081.0L737.9,1081.0L738.9,1080.1L739.3,1079.7L740.1,1078.9L740.6,1078.5L741.3,1077.8L742.0,1077.2L742.6,1076.8L743.5,1076.0L743.8,1075.7L744.9,1074.7L745.0,1074.6L746.2,1073.5L746.2,1073.5L747.4,1072.3L747.5,1072.2L748.6,1071.2L748.8,1071.0L749.9,1070.0L750.1,1069.7L751.1,1068.8L751.4,1068.5L752.3,1067.5L752.6,1067.2L753.5,1066.3L753.8,1066.0L754.7,1065.1L755.1,1064.7L755.9,1063.9L756.3,1063.5L757.2,1062.7L757.6,1062.2L758.4,1061.6L759.0,1061.0L759.6,1060.5L760.5,1059.7L760.8,1059.5L762.0,1058.6L762.2,1058.5L763.2,1057.8L764.2,1057.2L764.5,1057.1L765.7,1056.4L766.5,1056.0L766.9,1055.8L768.1,1055.2L769.1,1054.7L769.3,1054.7L770.5,1053.9L771.4,1053.5L771.8,1053.3L773.0,1052.7L774.2,1052.3L774.3,1052.2L775.4,1051.9L776.6,1051.6L777.8,1051.3L779.1,1051.1L779.8,1051.0L780.3,1050.9L781.5,1050.8L782.7,1050.6L783.9,1050.5L785.1,1050.3L786.4,1050.2L787.6,1050.0L788.8,1049.9L789.7,1049.7L790.0,1049.7L791.2,1049.6L792.4,1049.4L793.7,1049.3L794.9,1049.1L796.1,1049.0L797.3,1048.9L798.5,1048.8L799.7,1048.7L801.0,1048.6L802.2,1048.5L802.2,1048.5Z" fill="#c8e4f0" stroke="#c8e4f0" stroke-width="0.3" fill-rule="evenodd"/>
<path d="M799.7,1053.3L801.0,1053.2L802.2,1053.1L803.4,1053.0L804.6,1052.9L805.8,1052.9L807.0,1052.9L808.3,1052.9L809.5,1052.9L810.7,1052.9L811.9,1052.9L813.1,1052.9L814.3,1052.9L815.5,1052.9L816.8,1052.9L818.0,1052.9L819.2,1052.9L820.4,1053.0L821.6,1053.1L822.8,1053.2L824.1,1053.3L824.9,1053.5L825.3,1053.5L826.5,1053.8L827.7,1054.1L828.9,1054.4L830.1,1054.7L830.1,1054.7L831.4,1055.2L832.6,1055.6L833.6,1056.0L833.8,1056.1L835.0,1056.5L836.2,1057.0L837.0,1057.2L837.4,1057.4L838.7,1057.8L839.9,1058.1L841.1,1058.3L842.2,1058.5L842.3,1058.5L843.5,1058.7L844.7,1058.9L846.0,1059.1L847.2,1059.4L847.9,1059.7L848.4,1060.0L849.6,1060.8L849.8,1061.0L850.8,1061.8L851.4,1062.2L852.0,1062.8L852.9,1063.5L853.3,1063.8L854.3,1064.7L854.5,1064.9L855.7,1065.9L855.7,1066.0L856.9,1067.1L857.1,1067.2L858.1,1068.2L858.4,1068.5L859.3,1069.4L859.7,1069.7L860.6,1070.5L861.0,1071.0L861.8,1071.7L862.3,1072.2L863.0,1072.9L863.6,1073.5L864.2,1074.1L864.9,1074.7L865.4,1075.2L866.2,1076.0L866.6,1076.4L867.5,1077.2L867.9,1077.5L868.9,1078.5L869.1,1078.6L870.3,1079.7L870.3,1079.7L871.5,1080.8L871.7,1081.0L871.5,1081.0L870.3,1081.0L869.1,1081.0L867.9,1081.0L866.6,1081.0L865.4,1081.0L864.2,1081.0L863.0,1081.0L861.8,1081.0L860.6,1081.0L859.3,1081.0L858.1,1081.0L857.4,1081.0L856.9,1080.6L856.0,1079.7L855.7,1079.5L854.6,1078.5L854.5,1078.3L853.3,1077.2L853.3,1077.2L852.0,1076.0L852.0,1076.0L850.8,1074.9L850.7,1074.7L849.6,1073.8L849.3,1073.5L848.4,1072.7L847.8,1072.2L847.2,1071.7L846.1,1071.0L846.0,1070.9L844.7,1070.1L844.2,1069.7L843.5,1069.4L842.3,1068.7L841.8,1068.5L841.1,1068.2L839.9,1067.6L839.0,1067.2L838.7,1067.1L837.4,1066.5L836.5,1066.0L836.2,1065.9L835.0,1064.9L834.8,1064.7L833.8,1063.7L833.6,1063.5L832.6,1062.6L832.2,1062.2L831.4,1061.5L830.6,1061.0L830.1,1060.6L828.9,1059.9L828.7,1059.7L827.7,1059.3L826.5,1058.7L825.9,1058.5L825.3,1058.3L824.1,1057.9L822.8,1057.6L821.6,1057.4L820.4,1057.3L820.2,1057.2L819.2,1057.2L818.0,1057.1L816.8,1057.2L815.8,1057.2L815.5,1057.3L814.3,1057.4L813.1,1057.5L811.9,1057.6L810.7,1057.5L809.5,1057.4L808.3,1057.3L808.0,1057.2L807.0,1057.2L805.8,1057.1L804.6,1057.2L803.6,1057.2L803.4,1057.3L802.2,1057.4L801.0,1057.6L799.7,1057.9L798.5,1058.3L797.9,1058.5L797.3,1058.7L796.1,1059.3L795.1,1059.7L794.9,1059.9L793.7,1060.6L793.2,1061.0L792.4,1061.5L791.6,1062.2L791.2,1062.6L790.2,1063.5L790.0,1063.7L789.0,1064.7L788.8,1064.9L787.6,1065.9L787.3,1066.0L786.4,1066.5L785.1,1067.1L784.8,1067.2L783.9,1067.6L782.7,1068.2L782.0,1068.5L781.5,1068.7L780.3,1069.4L779.6,1069.7L779.1,1070.1L777.8,1070.9L777.7,1071.0L776.6,1071.7L776.0,1072.2L775.4,1072.7L774.5,1073.5L774.2,1073.8L773.1,1074.7L773.0,1074.9L771.8,1076.0L771.8,1076.0L770.5,1077.2L770.5,1077.2L769.3,1078.3L769.2,1078.5L768.1,1079.5L767.8,1079.7L766.9,1080.6L766.4,1081.0L765.7,1081.0L764.5,1081.0L763.2,1081.0L762.0,1081.0L760.8,1081.0L759.6,1081.0L758.4,1081.0L757.2,1081.0L755.9,1081.0L754.7,1081.0L753.5,1081.0L752.3,1081.0L752.1,1081.0L752.3,1080.8L753.5,1079.7L753.5,1079.7L754.7,1078.6L754.9,1078.5L755.9,1077.5L756.3,1077.2L757.2,1076.4L757.6,1076.0L758.4,1075.2L758.9,1074.7L759.6,1074.1L760.2,1073.5L760.8,1072.9L761.5,1072.2L762.0,1071.7L762.8,1071.0L763.2,1070.5L764.1,1069.7L764.5,1069.4L765.4,1068.5L765.7,1068.2L766.7,1067.2L766.9,1067.1L768.1,1066.0L768.1,1065.9L769.3,1064.9L769.5,1064.7L770.5,1063.8L770.9,1063.5L771.8,1062.8L772.4,1062.2L773.0,1061.8L774.0,1061.0L774.2,1060.8L775.4,1060.0L775.9,1059.7L776.6,1059.4L777.8,1059.1L779.1,1058.9L780.3,1058.7L781.5,1058.5L781.6,1058.5L782.7,1058.3L783.9,1058.1L785.1,1057.8L786.4,1057.4L786.8,1057.2L787.6,1057.0L788.8,1056.5L790.0,1056.1L790.2,1056.0L791.2,1055.6L792.4,1055.2L793.7,1054.7L793.7,1054.7L794.9,1054.4L796.1,1054.1L797.3,1053.8L798.5,1053.5L798.9,1053.5Z" fill="#cee8f1" stroke="#cee8f1" stroke-width="0.3" fill-rule="evenodd"/>
<path d="M804.6,1057.2L805.8,1057.1L807.0,1057.2L808.0,1057.2L808.3,1057.3L809.5,1057.4L810.7,1057.5L811.9,1057.6L813.1,1057.5L814.3,1057.4L815.5,1057.3L815.8,1057.2L816.8,1057.2L818.0,1057.1L819.2,1057.2L820.2,1057.2L820.4,1057.3L821.6,1057.4L822.8,1057.6L824.1,1057.9L825.3,1058.3L825.9,1058.5L826.5,1058.7L827.7,1059.3L828.7,1059.7L828.9,1059.9L830.1,1060.6L830.6,1061.0L831.4,1061.5L832.2,1062.2L832.6,1062.6L833.6,1063.5L833.8,1063.7L834.8,1064.7L835.0,1064.9L836.2,1065.9L836.5,1066.0L837.4,1066.5L838.7,1067.1L839.0,1067.2L839.9,1067.6L841.1,1068.2L841.8,1068.5L842.3,1068.7L843.5,1069.4L844.2,1069.7L844.7,1070.1L846.0,1070.9L846.1,1071.0L847.2,1071.7L847.8,1072.2L848.4,1072.7L849.3,1073.5L849.6,1073.8L850.7,1074.7L850.8,1074.9L852.0,1076.0L852.0,1076.0L853.3,1077.2L853.3,1077.2L854.5,1078.3L854.6,1078.5L855.7,1079.5L856.0,1079.7L856.9,1080.6L857.4,1081.0L856.9,1081.0L855.7,1081.0L854.5,1081.0L853.3,1081.0L852.0,1081.0L850.8,1081.0L849.6,1081.0L848.4,1081.0L847.2,1081.0L846.0,1081.0L845.2,1081.0L844.7,1080.5L844.0,1079.7L843.5,1079.3L842.7,1078.5L842.3,1078.1L841.5,1077.2L841.1,1076.8L840.3,1076.0L839.9,1075.6L838.9,1074.7L838.7,1074.5L837.5,1073.5L837.4,1073.5L836.2,1072.4L836.0,1072.2L835.0,1071.4L834.5,1071.0L833.8,1070.3L833.2,1069.7L832.6,1069.2L831.9,1068.5L831.4,1067.9L830.7,1067.2L830.1,1066.6L829.5,1066.0L828.9,1065.5L828.0,1064.7L827.7,1064.5L826.5,1063.7L826.2,1063.5L825.3,1063.0L824.1,1062.4L823.7,1062.2L822.8,1061.9L821.6,1061.5L820.4,1061.2L819.5,1061.0L819.2,1060.9L818.0,1060.7L816.8,1060.6L815.5,1060.5L814.3,1060.5L813.1,1060.5L811.9,1060.5L810.7,1060.5L809.5,1060.5L808.3,1060.5L807.0,1060.6L805.8,1060.7L804.6,1060.9L804.3,1061.0L803.4,1061.2L802.2,1061.5L801.0,1061.9L800.1,1062.2L799.7,1062.4L798.5,1063.0L797.6,1063.5L797.3,1063.7L796.1,1064.5L795.8,1064.7L794.9,1065.5L794.3,1066.0L793.7,1066.6L793.1,1067.2L792.4,1067.9L791.9,1068.5L791.2,1069.2L790.6,1069.7L790.0,1070.3L789.3,1071.0L788.8,1071.4L787.8,1072.2L787.6,1072.4L786.4,1073.5L786.3,1073.5L785.1,1074.5L784.9,1074.7L783.9,1075.6L783.5,1076.0L782.7,1076.8L782.3,1077.2L781.5,1078.1L781.1,1078.5L780.3,1079.3L779.8,1079.7L779.1,1080.5L778.6,1081.0L777.8,1081.0L776.6,1081.0L775.4,1081.0L774.2,1081.0L773.0,1081.0L771.8,1081.0L770.5,1081.0L769.3,1081.0L768.1,1081.0L766.9,1081.0L766.4,1081.0L766.9,1080.6L767.8,1079.7L768.1,1079.5L769.2,1078.5L769.3,1078.3L770.5,1077.2L770.5,1077.2L771.8,1076.0L771.8,1076.0L773.0,1074.9L773.1,1074.7L774.2,1073.8L774.5,1073.5L775.4,1072.7L776.0,1072.2L776.6,1071.7L777.7,1071.0L777.8,1070.9L779.1,1070.1L779.6,1069.7L780.3,1069.4L781.5,1068.7L782.0,1068.5L782.7,1068.2L783.9,1067.6L784.8,1067.2L785.1,1067.1L786.4,1066.5L787.3,1066.0L787.6,1065.9L788.8,1064.9L789.0,1064.7L790.0,1063.7L790.2,1063.5L791.2,1062.6L791.6,1062.2L792.4,1061.5L793.2,1061.0L793.7,1060.6L794.9,1059.9L795.1,1059.7L796.1,1059.3L797.3,1058.7L797.9,1058.5L798.5,1058.3L799.7,1057.9L801.0,1057.6L802.2,1057.4L803.4,1057.3L803.6,1057.2Z" fill="#d5ecf2" stroke="#d5ecf2" stroke-width="0.3" fill-rule="evenodd"/>
<path d="M804.6,1060.9L805.8,1060.7L807.0,1060.6L808.3,1060.5L809.5,1060.5L810.7,1060.5L811.9,1060.5L813.1,1060.5L814.3,1060.5L815.5,1060.5L816.8,1060.6L818.0,1060.7L819.2,1060.9L819.5,1061.0L820.4,1061.2L821.6,1061.5L822.8,1061.9L823.7,1062.2L824.1,1062.4L825.3,1063.0L826.2,1063.5L826.5,1063.7L827.7,1064.5L828.0,1064.7L828.9,1065.5L829.5,1066.0L830.1,1066.6L830.7,1067.2L831.4,1067.9L831.9,1068.5L832.6,1069.2L833.2,1069.7L833.8,1070.3L834.5,1071.0L835.0,1071.4L836.0,1072.2L836.2,1072.4L837.4,1073.5L837.5,1073.5L838.7,1074.5L838.9,1074.7L839.9,1075.6L840.3,1076.0L841.1,1076.8L841.5,1077.2L842.3,1078.1L842.7,1078.5L843.5,1079.3L844.0,1079.7L844.7,1080.5L845.2,1081.0L844.7,1081.0L843.5,1081.0L842.3,1081.0L841.1,1081.0L839.9,1081.0L838.7,1081.0L837.4,1081.0L836.2,1081.0L835.8,1081.0L835.0,1079.9L834.9,1079.7L833.9,1078.5L833.8,1078.3L832.8,1077.2L832.6,1077.0L831.7,1076.0L831.4,1075.6L830.6,1074.7L830.1,1074.2L829.6,1073.5L828.9,1072.6L828.7,1072.2L827.8,1071.0L827.7,1070.9L826.8,1069.7L826.5,1069.4L825.5,1068.5L825.3,1068.3L824.1,1067.5L823.7,1067.2L822.8,1066.8L821.6,1066.1L821.4,1066.0L820.4,1065.6L819.2,1065.1L818.4,1064.7L818.0,1064.6L816.8,1064.2L815.5,1063.9L814.3,1063.5L814.2,1063.5L813.1,1063.3L811.9,1063.2L810.7,1063.3L809.6,1063.5L809.5,1063.5L808.3,1063.9L807.0,1064.2L805.8,1064.6L805.4,1064.7L804.6,1065.1L803.4,1065.6L802.4,1066.0L802.2,1066.1L801.0,1066.8L800.1,1067.2L799.7,1067.5L798.5,1068.3L798.3,1068.5L797.3,1069.4L797.0,1069.7L796.1,1070.9L796.0,1071.0L795.1,1072.2L794.9,1072.6L794.2,1073.5L793.7,1074.2L793.2,1074.7L792.4,1075.6L792.1,1076.0L791.2,1077.0L791.0,1077.2L790.0,1078.3L789.9,1078.5L788.9,1079.7L788.8,1079.9L788.0,1081.0L787.6,1081.0L786.4,1081.0L785.1,1081.0L783.9,1081.0L782.7,1081.0L781.5,1081.0L780.3,1081.0L779.1,1081.0L778.6,1081.0L779.1,1080.5L779.8,1079.7L780.3,1079.3L781.1,1078.5L781.5,1078.1L782.3,1077.2L782.7,1076.8L783.5,1076.0L783.9,1075.6L784.9,1074.7L785.1,1074.5L786.3,1073.5L786.4,1073.5L787.6,1072.4L787.8,1072.2L788.8,1071.4L789.3,1071.0L790.0,1070.3L790.6,1069.7L791.2,1069.2L791.9,1068.5L792.4,1067.9L793.1,1067.2L793.7,1066.6L794.3,1066.0L794.9,1065.5L795.8,1064.7L796.1,1064.5L797.3,1063.7L797.6,1063.5L798.5,1063.0L799.7,1062.4L800.1,1062.2L801.0,1061.9L802.2,1061.5L803.4,1061.2L804.3,1061.0Z" fill="#dbeef3" stroke="#dbeef3" stroke-width="0.3" fill-rule="evenodd"/>
<path d="M810.7,1063.3L811.9,1063.2L813.1,1063.3L814.2,1063.5L814.3,1063.5L815.5,1063.9L816.8,1064.2L818.0,1064.6L818.4,1064.7L819.2,1065.1L820.4,1065.6L821.4,1066.0L821.6,1066.1L822.8,1066.8L823.7,1067.2L824.1,1067.5L825.3,1068.3L825.5,1068.5L826.5,1069.4L826.8,1069.7L827.7,1070.9L827.8,1071.0L828.7,1072.2L828.9,1072.6L829.6,1073.5L830.1,1074.2L830.6,1074.7L831.4,1075.6L831.7,1076.0L832.6,1077.0L832.8,1077.2L833.8,1078.3L833.9,1078.5L834.9,1079.7L835.0,1079.9L835.8,1081.0L835.0,1081.0L833.8,1081.0L832.6,1081.0L831.4,1081.0L830.1,1081.0L828.9,1081.0L827.7,1081.0L826.5,1081.0L825.3,1081.0L824.1,1081.0L823.1,1081.0L822.8,1080.7L822.1,1079.7L821.6,1078.9L821.4,1078.5L821.0,1077.2L820.6,1076.0L820.4,1075.6L820.1,1074.7L819.4,1073.5L819.2,1073.2L818.4,1072.2L818.0,1071.8L817.1,1071.0L816.8,1070.8L815.5,1070.0L814.9,1069.7L814.3,1069.5L813.1,1069.2L811.9,1069.1L810.7,1069.2L809.5,1069.5L808.9,1069.7L808.3,1070.0L807.0,1070.8L806.7,1071.0L805.8,1071.8L805.4,1072.2L804.6,1073.2L804.4,1073.5L803.7,1074.7L803.4,1075.6L803.2,1076.0L802.8,1077.2L802.4,1078.5L802.2,1078.9L801.7,1079.7L801.0,1080.7L800.7,1081.0L799.7,1081.0L798.5,1081.0L797.3,1081.0L796.1,1081.0L794.9,1081.0L793.7,1081.0L792.4,1081.0L791.2,1081.0L790.0,1081.0L788.8,1081.0L788.0,1081.0L788.8,1079.9L788.9,1079.7L789.9,1078.5L790.0,1078.3L791.0,1077.2L791.2,1077.0L792.1,1076.0L792.4,1075.6L793.2,1074.7L793.7,1074.2L794.2,1073.5L794.9,1072.6L795.1,1072.2L796.0,1071.0L796.1,1070.9L797.0,1069.7L797.3,1069.4L798.3,1068.5L798.5,1068.3L799.7,1067.5L800.1,1067.2L801.0,1066.8L802.2,1066.1L802.4,1066.0L803.4,1065.6L804.6,1065.1L805.4,1064.7L805.8,1064.6L807.0,1064.2L808.3,1063.9L809.5,1063.5L809.6,1063.5Z" fill="#e3f2ee" stroke="#e3f2ee" stroke-width="0.3" fill-rule="evenodd"/>
<path d="M809.5,1069.5L810.7,1069.2L811.9,1069.1L813.1,1069.2L814.3,1069.5L814.9,1069.7L815.5,1070.0L816.8,1070.8L817.1,1071.0L818.0,1071.8L818.4,1072.2L819.2,1073.2L819.4,1073.5L820.1,1074.7L820.4,1075.6L820.6,1076.0L821.0,1077.2L821.4,1078.5L821.6,1078.9L822.1,1079.7L822.8,1080.7L823.1,1081.0L822.8,1081.0L821.6,1081.0L820.4,1081.0L819.2,1081.0L818.0,1081.0L816.8,1081.0L815.5,1081.0L814.3,1081.0L813.1,1081.0L811.9,1081.0L810.7,1081.0L809.5,1081.0L808.3,1081.0L807.0,1081.0L805.8,1081.0L804.6,1081.0L803.4,1081.0L802.2,1081.0L801.0,1081.0L800.7,1081.0L801.0,1080.7L801.7,1079.7L802.2,1078.9L802.4,1078.5L802.8,1077.2L803.2,1076.0L803.4,1075.6L803.7,1074.7L804.4,1073.5L804.6,1073.2L805.4,1072.2L805.8,1071.8L806.7,1071.0L807.0,1070.8L808.3,1070.0L808.9,1069.7Z" fill="#ecf6e1" stroke="#ecf6e1" stroke-width="0.3" fill-rule="evenodd"/>
<path d="M702.4,982.1L703.6,981.7L704.9,981.3L705.5,981.0M802.9,981.0L803.4,981.2L804.6,981.7L805.8,982.1L806.3,982.3L807.0,982.5L808.3,982.8L809.5,983.1L810.7,983.3L811.9,983.4L813.1,983.3L814.3,983.1L815.5,982.8L816.8,982.5L817.5,982.3L818.0,982.1L819.2,981.7L820.4,981.2L820.9,981.0M918.3,981.0L918.9,981.3L920.2,981.7L921.4,982.1" fill="none" stroke="rgba(130,130,130,0.28)" stroke-width="0.5"/>
<path d="M776.0,981.0L776.6,981.3L777.8,981.9L778.6,982.3L779.1,982.5L780.3,983.1L781.2,983.5L781.5,983.7L782.7,984.2L783.9,984.8L783.9,984.8L785.1,985.4L786.4,985.9L786.6,986.0L787.6,986.4L788.8,987.0L789.5,987.3L790.0,987.5L791.2,988.0L792.4,988.5L792.6,988.5L793.7,989.0L794.9,989.4L795.7,989.8L796.1,989.9L797.3,990.3L798.5,990.8L799.3,991.0L799.7,991.2L801.0,991.6L802.2,991.9L803.4,992.3L803.4,992.3L804.6,992.6L805.8,992.9L807.0,993.1L808.3,993.3L809.5,993.4L810.7,993.4L811.9,993.4L813.1,993.4L814.3,993.4L815.5,993.3L816.8,993.1L818.0,992.9L819.2,992.6L820.4,992.3L820.4,992.3L821.6,991.9L822.8,991.6L824.1,991.2L824.5,991.0L825.3,990.8L826.5,990.3L827.7,989.9L828.1,989.8L828.9,989.4L830.1,989.0L831.2,988.5L831.4,988.5L832.6,988.0L833.8,987.5L834.3,987.3L835.0,987.0L836.2,986.4L837.2,986.0L837.4,985.9L838.7,985.4L839.9,984.8L839.9,984.8L841.1,984.2L842.3,983.7L842.6,983.5L843.5,983.1L844.7,982.5L845.2,982.3L846.0,981.9L847.2,981.3L847.8,981.0M884.6,981.0L884.9,981.1L886.1,981.6L887.3,982.1L887.8,982.3L888.5,982.5L889.8,982.9L891.0,983.3L891.5,983.5L892.2,983.7L893.4,984.1L894.6,984.4L895.8,984.8L895.8,984.8L897.1,985.1L898.3,985.4L899.5,985.7L900.6,986.0L900.7,986.0L901.9,986.4L903.1,986.7L904.3,987.0L905.5,987.3L905.6,987.3L906.8,987.6L908.0,988.0L909.2,988.3L910.0,988.5L910.4,988.7L911.6,989.0L912.9,989.3L914.1,989.6L914.6,989.8L915.3,990.0L916.5,990.3L917.7,990.6L918.9,991.0L919.0,991.0L920.2,991.7L921.0,992.3L921.4,992.6M702.4,992.6L702.8,992.3L703.6,991.7L704.8,991.0L704.9,991.0L706.1,990.6L707.3,990.3L708.5,990.0L709.2,989.8L709.7,989.6L710.9,989.3L712.2,989.0L713.4,988.7L713.8,988.5L714.6,988.3L715.8,988.0L717.0,987.6L718.2,987.3L718.3,987.3L719.5,987.0L720.7,986.7L721.9,986.4L723.1,986.0L723.2,986.0L724.3,985.7L725.5,985.4L726.7,985.1L728.0,984.8L728.0,984.8L729.2,984.4L730.4,984.1L731.6,983.7L732.3,983.5L732.8,983.3L734.0,982.9L735.3,982.5L736.0,982.3L736.5,982.1L737.7,981.6L738.9,981.1L739.2,981.0" fill="none" stroke="#33434f" stroke-width="0.75"/>
<path d="M702.4,1011.2L703.6,1011.1L703.8,1011.0L704.9,1010.7L706.1,1010.2L706.8,1009.8L707.3,1009.5L708.5,1008.7L708.8,1008.5L709.7,1007.8L710.5,1007.3L710.9,1006.9L712.1,1006.0L712.2,1006.0L713.4,1005.1L713.9,1004.8L714.6,1004.3L715.7,1003.5L715.8,1003.5L717.0,1002.7L717.9,1002.3L718.2,1002.1L719.5,1001.5L720.6,1001.0L720.7,1001.0L721.9,1000.5L723.1,1000.0L723.9,999.8L724.3,999.6L725.5,999.3L726.7,998.9L728.0,998.6L728.5,998.5L729.2,998.3L730.4,998.1L731.6,997.9L732.8,997.7L734.0,997.5L735.3,997.3L735.7,997.3L736.5,997.2L737.7,997.0L738.9,996.9L740.1,996.8L741.3,996.8L742.6,996.7L743.8,996.7L745.0,996.7L746.2,996.7L747.4,996.6L748.6,996.6L749.9,996.6L751.1,996.6L752.3,996.5L753.5,996.2L754.1,996.0L754.7,995.8L755.9,995.3L757.2,994.9L757.6,994.8L758.4,994.5L759.6,994.1L760.8,993.8L762.0,993.6L762.8,993.5L763.2,993.5L764.5,993.4L765.7,993.4L766.9,993.5L767.7,993.5L768.1,993.5L769.3,993.7L770.5,993.8L771.8,994.0L773.0,994.1L774.2,994.3L775.4,994.5L776.5,994.8L776.6,994.8L777.8,995.0L779.1,995.3L780.3,995.6L781.5,995.9L782.0,996.0L782.7,996.2L783.9,996.5L785.1,996.9L786.4,997.2L786.5,997.3L787.6,997.6L788.8,998.0L790.0,998.4L790.3,998.5L791.2,998.8L792.4,999.3L793.7,999.7L793.8,999.8L794.9,1000.2L796.1,1000.7L797.0,1001.0L797.3,1001.1L798.5,1001.6L799.7,1002.2L800.0,1002.3L801.0,1002.7L802.2,1003.2L803.0,1003.5L803.4,1003.7L804.6,1004.2L805.8,1004.6L806.2,1004.8L807.0,1005.0L808.3,1005.4L809.5,1005.7L810.7,1005.9L811.9,1006.0L811.9,1006.0L811.9,1006.0L813.1,1005.9L814.3,1005.7L815.5,1005.4L816.8,1005.0L817.6,1004.8L818.0,1004.6L819.2,1004.2L820.4,1003.7L820.8,1003.5L821.6,1003.2L822.8,1002.7L823.8,1002.3L824.1,1002.2L825.3,1001.6L826.5,1001.1L826.8,1001.0L827.7,1000.7L828.9,1000.2L830.0,999.8L830.1,999.7L831.4,999.3L832.6,998.8L833.5,998.5L833.8,998.4L835.0,998.0L836.2,997.6L837.3,997.3L837.4,997.2L838.7,996.9L839.9,996.5L841.1,996.2L841.8,996.0L842.3,995.9L843.5,995.6L844.7,995.3L846.0,995.0L847.2,994.8L847.3,994.8L848.4,994.5L849.6,994.3L850.8,994.1L852.0,994.0L853.3,993.8L854.5,993.7L855.7,993.5L856.1,993.5L856.9,993.5L858.1,993.4L859.3,993.4L860.6,993.5L861.0,993.5L861.8,993.6L863.0,993.8L864.2,994.1L865.4,994.5L866.2,994.8L866.6,994.9L867.9,995.3L869.1,995.8L869.7,996.0L870.3,996.2L871.5,996.5L872.7,996.6L873.9,996.6L875.2,996.6L876.4,996.6L877.6,996.7L878.8,996.7L880.0,996.7L881.2,996.7L882.5,996.8L883.7,996.8L884.9,996.9L886.1,997.0L887.3,997.2L888.1,997.3L888.5,997.3L889.8,997.5L891.0,997.7L892.2,997.9L893.4,998.1L894.6,998.3L895.3,998.5L895.8,998.6L897.1,998.9L898.3,999.3L899.5,999.6L899.9,999.8L900.7,1000.0L901.9,1000.5L903.1,1001.0L903.2,1001.0L904.3,1001.5L905.6,1002.1L905.9,1002.3L906.8,1002.7L908.0,1003.5L908.1,1003.5L909.2,1004.3L909.9,1004.8L910.4,1005.1L911.6,1006.0L911.7,1006.0L912.9,1006.9L913.3,1007.3L914.1,1007.8L915.0,1008.5L915.3,1008.7L916.5,1009.5L917.0,1009.8L917.7,1010.2L918.9,1010.7L920.0,1011.0L920.2,1011.1L921.4,1011.2" fill="none" stroke="rgba(130,130,130,0.28)" stroke-width="0.5"/>
<path d="M702.4,1018.6L702.8,1018.5L703.6,1018.3L704.9,1017.9L706.1,1017.6L707.3,1017.3L707.4,1017.3L708.5,1017.0L709.7,1016.6L710.9,1016.2L711.4,1016.0L712.2,1015.7L713.4,1015.2L714.5,1014.8L714.6,1014.7L715.8,1014.2L717.0,1013.6L717.3,1013.5L718.2,1013.1L719.5,1012.5L720.1,1012.3L720.7,1012.0L721.9,1011.5L723.0,1011.0L723.1,1011.0L724.3,1010.5L725.5,1010.0L726.3,1009.8L726.7,1009.6L728.0,1009.2L729.2,1008.8L730.4,1008.5L730.4,1008.5L731.6,1008.2L732.8,1007.9L734.0,1007.6L735.3,1007.4L735.9,1007.3L736.5,1007.2L737.7,1006.9L738.9,1006.8L740.1,1006.6L741.3,1006.4L742.6,1006.3L743.8,1006.2L745.0,1006.1L745.6,1006.0L746.2,1006.0L747.4,1005.8L748.6,1005.7L749.9,1005.6L751.1,1005.5L752.3,1005.4L753.5,1005.3L754.7,1005.2L755.9,1005.1L757.2,1005.0L758.4,1004.9L759.6,1004.8L760.4,1004.8L760.8,1004.7L762.0,1004.7L763.2,1004.6L764.5,1004.5L765.7,1004.3L766.9,1004.2L768.1,1004.1L769.3,1004.0L770.5,1003.9L771.8,1003.9L773.0,1003.8L774.2,1003.8L775.4,1003.8L776.6,1003.9L777.8,1004.0L779.1,1004.1L780.3,1004.3L781.5,1004.5L782.7,1004.7L783.1,1004.8L783.9,1004.9L785.1,1005.2L786.4,1005.5L787.6,1005.8L788.4,1006.0L788.8,1006.1L790.0,1006.5L791.2,1006.8L792.4,1007.2L792.5,1007.3L793.7,1007.6L794.9,1008.0L796.1,1008.5L796.2,1008.5L797.3,1008.9L798.5,1009.3L799.7,1009.8L799.8,1009.8L801.0,1010.2L802.2,1010.6L803.4,1011.0L803.5,1011.0L804.6,1011.3L805.8,1011.7L807.0,1012.0L808.2,1012.3L808.3,1012.3L809.5,1012.5L810.7,1012.6L811.9,1012.7L813.1,1012.6L814.3,1012.5L815.5,1012.3L815.6,1012.3L816.8,1012.0L818.0,1011.7L819.2,1011.3L820.3,1011.0L820.4,1011.0L821.6,1010.6L822.8,1010.2L824.0,1009.8L824.1,1009.8L825.3,1009.3L826.5,1008.9L827.6,1008.5L827.7,1008.5L828.9,1008.0L830.1,1007.6L831.3,1007.3L831.4,1007.2L832.6,1006.8L833.8,1006.5L835.0,1006.1L835.4,1006.0L836.2,1005.8L837.4,1005.5L838.7,1005.2L839.9,1004.9L840.7,1004.8L841.1,1004.7L842.3,1004.5L843.5,1004.3L844.7,1004.1L846.0,1004.0L847.2,1003.9L848.4,1003.8L849.6,1003.8L850.8,1003.8L852.0,1003.9L853.3,1003.9L854.5,1004.0L855.7,1004.1L856.9,1004.2L858.1,1004.3L859.3,1004.5L860.6,1004.6L861.8,1004.7L863.0,1004.7L863.4,1004.8L864.2,1004.8L865.4,1004.9L866.6,1005.0L867.9,1005.1L869.1,1005.2L870.3,1005.3L871.5,1005.4L872.7,1005.5L873.9,1005.6L875.2,1005.7L876.4,1005.8L877.6,1006.0L878.2,1006.0L878.8,1006.1L880.0,1006.2L881.2,1006.3L882.5,1006.4L883.7,1006.6L884.9,1006.8L886.1,1006.9L887.3,1007.2L887.9,1007.3L888.5,1007.4L889.8,1007.6L891.0,1007.9L892.2,1008.2L893.4,1008.5L893.4,1008.5L894.6,1008.8L895.8,1009.2L897.1,1009.6L897.5,1009.8L898.3,1010.0L899.5,1010.5L900.7,1011.0L900.8,1011.0L901.9,1011.5L903.1,1012.0L903.7,1012.3L904.3,1012.5L905.6,1013.1L906.5,1013.5L906.8,1013.6L908.0,1014.2L909.2,1014.7L909.3,1014.8L910.4,1015.2L911.6,1015.7L912.4,1016.0L912.9,1016.2L914.1,1016.6L915.3,1017.0L916.4,1017.3L916.5,1017.3L917.7,1017.6L918.9,1017.9L920.2,1018.3L921.0,1018.5L921.4,1018.6" fill="none" stroke="rgba(130,130,130,0.28)" stroke-width="0.5"/>
<path d="M702.4,1026.6L703.6,1026.2L704.1,1026.0L704.9,1025.7L706.1,1025.3L707.3,1024.9L707.7,1024.8L708.5,1024.5L709.7,1024.1L710.9,1023.7L711.4,1023.5L712.2,1023.2L713.4,1022.8L714.6,1022.4L714.9,1022.3L715.8,1021.9L717.0,1021.5L718.2,1021.0L718.2,1021.0L719.5,1020.5L720.7,1020.0L721.4,1019.8L721.9,1019.6L723.1,1019.1L724.3,1018.6L724.6,1018.5L725.5,1018.2L726.7,1017.7L728.0,1017.3L728.0,1017.3L729.2,1016.9L730.4,1016.5L731.6,1016.1L731.8,1016.0L732.8,1015.7L734.0,1015.4L735.3,1015.0L736.3,1014.8L736.5,1014.7L737.7,1014.4L738.9,1014.1L740.1,1013.8L741.3,1013.6L741.7,1013.5L742.6,1013.3L743.8,1013.1L745.0,1012.9L746.2,1012.6L747.4,1012.4L748.3,1012.3L748.6,1012.2L749.9,1012.0L751.1,1011.8L752.3,1011.6L753.5,1011.5L754.7,1011.3L755.9,1011.2L757.2,1011.1L757.9,1011.0L758.4,1011.0L759.6,1010.9L760.8,1010.9L762.0,1010.8L763.2,1010.8L764.5,1010.7L765.7,1010.6L766.9,1010.5L768.1,1010.4L769.3,1010.2L770.5,1010.2L771.8,1010.1L773.0,1010.1L774.2,1010.1L775.4,1010.1L776.6,1010.2L777.8,1010.3L779.1,1010.4L780.3,1010.6L781.5,1010.8L782.7,1011.0L783.0,1011.0L783.9,1011.2L785.1,1011.4L786.4,1011.7L787.6,1012.0L788.7,1012.3L788.8,1012.3L790.0,1012.6L791.2,1012.9L792.4,1013.2L793.5,1013.5L793.7,1013.5L794.9,1013.9L796.1,1014.2L797.3,1014.5L798.1,1014.8L798.5,1014.9L799.7,1015.2L801.0,1015.5L802.2,1015.8L803.3,1016.0L803.4,1016.0L804.6,1016.3L805.8,1016.5L807.0,1016.7L808.3,1016.9L809.5,1017.0L810.7,1017.1L811.9,1017.2L813.1,1017.1L814.3,1017.0L815.5,1016.9L816.8,1016.7L818.0,1016.5L819.2,1016.3L820.4,1016.0L820.5,1016.0L821.6,1015.8L822.8,1015.5L824.1,1015.2L825.3,1014.9L825.7,1014.8L826.5,1014.5L827.7,1014.2L828.9,1013.9L830.1,1013.5L830.3,1013.5L831.4,1013.2L832.6,1012.9L833.8,1012.6L835.0,1012.3L835.1,1012.3L836.2,1012.0L837.4,1011.7L838.7,1011.4L839.9,1011.2L840.8,1011.0L841.1,1011.0L842.3,1010.8L843.5,1010.6L844.7,1010.4L846.0,1010.3L847.2,1010.2L848.4,1010.1L849.6,1010.1L850.8,1010.1L852.0,1010.1L853.3,1010.2L854.5,1010.2L855.7,1010.4L856.9,1010.5L858.1,1010.6L859.3,1010.7L860.6,1010.8L861.8,1010.8L863.0,1010.9L864.2,1010.9L865.4,1011.0L865.9,1011.0L866.6,1011.1L867.9,1011.2L869.1,1011.3L870.3,1011.5L871.5,1011.6L872.7,1011.8L873.9,1012.0L875.2,1012.2L875.5,1012.3L876.4,1012.4L877.6,1012.6L878.8,1012.9L880.0,1013.1L881.2,1013.3L882.1,1013.5L882.5,1013.6L883.7,1013.8L884.9,1014.1L886.1,1014.4L887.3,1014.7L887.5,1014.8L888.5,1015.0L889.8,1015.4L891.0,1015.7L892.0,1016.0L892.2,1016.1L893.4,1016.5L894.6,1016.9L895.8,1017.3L895.8,1017.3L897.1,1017.7L898.3,1018.2L899.2,1018.5L899.5,1018.6L900.7,1019.1L901.9,1019.6L902.4,1019.8L903.1,1020.0L904.3,1020.5L905.6,1021.0L905.6,1021.0L906.8,1021.5L908.0,1021.9L908.9,1022.3L909.2,1022.4L910.4,1022.8L911.6,1023.2L912.4,1023.5L912.9,1023.7L914.1,1024.1L915.3,1024.5L916.1,1024.8L916.5,1024.9L917.7,1025.3L918.9,1025.7L919.7,1026.0L920.2,1026.2L921.4,1026.6" fill="none" stroke="rgba(130,130,130,0.28)" stroke-width="0.5"/>
<path d="M702.4,1034.7L703.6,1034.3L704.9,1033.8L705.8,1033.5L706.1,1033.4L707.3,1032.9L708.5,1032.4L709.0,1032.2L709.7,1031.9L710.9,1031.5L712.0,1031.0L712.2,1031.0L713.4,1030.5L714.6,1029.9L715.0,1029.8L715.8,1029.4L717.0,1028.9L718.0,1028.5L718.2,1028.4L719.5,1027.9L720.7,1027.4L721.0,1027.3L721.9,1026.9L723.1,1026.3L723.9,1026.0L724.3,1025.8L725.5,1025.3L726.7,1024.9L727.0,1024.8L728.0,1024.4L729.2,1023.9L730.3,1023.5L730.4,1023.5L731.6,1023.0L732.8,1022.6L733.8,1022.3L734.0,1022.2L735.3,1021.8L736.5,1021.4L737.6,1021.0L737.7,1021.0L738.9,1020.6L740.1,1020.3L741.3,1019.9L741.9,1019.8L742.6,1019.6L743.8,1019.2L745.0,1018.9L746.2,1018.6L746.5,1018.5L747.4,1018.3L748.6,1017.9L749.9,1017.6L751.1,1017.3L751.4,1017.3L752.3,1017.0L753.5,1016.8L754.7,1016.5L755.9,1016.2L757.0,1016.0L757.2,1016.0L758.4,1015.7L759.6,1015.5L760.8,1015.4L762.0,1015.2L763.2,1015.1L764.5,1015.0L765.7,1015.0L766.9,1014.9L768.1,1014.9L769.3,1014.9L770.5,1014.9L771.8,1015.0L773.0,1015.0L774.2,1015.1L775.4,1015.2L776.6,1015.4L777.8,1015.5L779.1,1015.6L780.3,1015.8L781.4,1016.0L781.5,1016.0L782.7,1016.2L783.9,1016.4L785.1,1016.7L786.4,1016.9L787.6,1017.2L788.0,1017.3L788.8,1017.4L790.0,1017.7L791.2,1017.9L792.4,1018.2L793.7,1018.5L793.8,1018.5L794.9,1018.7L796.1,1019.0L797.3,1019.2L798.5,1019.4L799.7,1019.7L800.2,1019.8L801.0,1019.9L802.2,1020.1L803.4,1020.2L804.6,1020.4L805.8,1020.5L807.0,1020.6L808.3,1020.7L809.5,1020.7L810.7,1020.7L811.9,1020.8L813.1,1020.7L814.3,1020.7L815.5,1020.7L816.8,1020.6L818.0,1020.5L819.2,1020.4L820.4,1020.2L821.6,1020.1L822.8,1019.9L823.6,1019.8L824.1,1019.7L825.3,1019.4L826.5,1019.2L827.7,1019.0L828.9,1018.7L830.0,1018.5L830.1,1018.5L831.4,1018.2L832.6,1017.9L833.8,1017.7L835.0,1017.4L835.8,1017.3L836.2,1017.2L837.4,1016.9L838.7,1016.7L839.9,1016.4L841.1,1016.2L842.3,1016.0L842.4,1016.0L843.5,1015.8L844.7,1015.6L846.0,1015.5L847.2,1015.4L848.4,1015.2L849.6,1015.1L850.8,1015.0L852.0,1015.0L853.3,1014.9L854.5,1014.9L855.7,1014.9L856.9,1014.9L858.1,1015.0L859.3,1015.0L860.6,1015.1L861.8,1015.2L863.0,1015.4L864.2,1015.5L865.4,1015.7L866.6,1016.0L866.8,1016.0L867.9,1016.2L869.1,1016.5L870.3,1016.8L871.5,1017.0L872.4,1017.3L872.7,1017.3L873.9,1017.6L875.2,1017.9L876.4,1018.3L877.3,1018.5L877.6,1018.6L878.8,1018.9L880.0,1019.2L881.2,1019.6L881.9,1019.8L882.5,1019.9L883.7,1020.3L884.9,1020.6L886.1,1021.0L886.2,1021.0L887.3,1021.4L888.5,1021.8L889.8,1022.2L890.0,1022.3L891.0,1022.6L892.2,1023.0L893.4,1023.5L893.5,1023.5L894.6,1023.9L895.8,1024.4L896.8,1024.8L897.1,1024.9L898.3,1025.3L899.5,1025.8L899.9,1026.0L900.7,1026.3L901.9,1026.9L902.8,1027.3L903.1,1027.4L904.3,1027.9L905.6,1028.4L905.8,1028.5L906.8,1028.9L908.0,1029.4L908.8,1029.8L909.2,1029.9L910.4,1030.5L911.6,1031.0L911.8,1031.0L912.9,1031.5L914.1,1031.9L914.8,1032.2L915.3,1032.4L916.5,1032.9L917.7,1033.4L918.0,1033.5L918.9,1033.8L920.2,1034.3L921.4,1034.7" fill="none" stroke="rgba(130,130,130,0.28)" stroke-width="0.5"/>
<path d="M702.4,1042.8L703.6,1042.4L704.0,1042.2L704.9,1041.9L706.1,1041.5L707.2,1041.0L707.3,1041.0L708.5,1040.5L709.7,1039.9L710.2,1039.7L710.9,1039.4L712.2,1038.9L712.9,1038.5L713.4,1038.3L714.6,1037.7L715.6,1037.2L715.8,1037.2L717.0,1036.6L718.2,1036.0L718.2,1036.0L719.5,1035.4L720.7,1034.8L720.8,1034.7L721.9,1034.2L723.1,1033.6L723.3,1033.5L724.3,1033.0L725.5,1032.4L725.9,1032.2L726.7,1031.9L728.0,1031.3L728.6,1031.0L729.2,1030.7L730.4,1030.2L731.5,1029.8L731.6,1029.7L732.8,1029.2L734.0,1028.7L734.5,1028.5L735.3,1028.2L736.5,1027.7L737.7,1027.3L737.7,1027.3L738.9,1026.8L740.1,1026.4L741.2,1026.0L741.3,1026.0L742.6,1025.5L743.8,1025.1L744.9,1024.8L745.0,1024.7L746.2,1024.3L747.4,1023.9L748.6,1023.5L748.7,1023.5L749.9,1023.1L751.1,1022.7L752.3,1022.4L752.7,1022.3L753.5,1022.0L754.7,1021.6L755.9,1021.3L756.9,1021.0L757.2,1020.9L758.4,1020.6L759.6,1020.3L760.8,1019.9L761.4,1019.8L762.0,1019.6L763.2,1019.3L764.5,1019.1L765.7,1019.1L766.9,1019.2L768.1,1019.3L769.3,1019.4L770.5,1019.5L771.8,1019.6L773.0,1019.7L773.3,1019.8L774.2,1019.8L775.4,1020.0L776.6,1020.1L777.8,1020.3L779.1,1020.4L780.3,1020.6L781.5,1020.8L782.7,1021.0L782.7,1021.0L783.9,1021.2L785.1,1021.4L786.4,1021.6L787.6,1021.9L788.8,1022.1L789.8,1022.3L790.0,1022.3L791.2,1022.5L792.4,1022.7L793.7,1022.9L794.9,1023.1L796.1,1023.3L797.3,1023.5L797.5,1023.5L798.5,1023.6L799.7,1023.8L801.0,1023.9L802.2,1024.1L803.4,1024.2L804.6,1024.2L805.8,1024.3L807.0,1024.3L808.3,1024.3L809.5,1024.3L810.7,1024.2L811.9,1024.1L813.1,1024.2L814.3,1024.3L815.5,1024.3L816.8,1024.3L818.0,1024.3L819.2,1024.2L820.4,1024.2L821.6,1024.1L822.8,1023.9L824.1,1023.8L825.3,1023.6L826.3,1023.5L826.5,1023.5L827.7,1023.3L828.9,1023.1L830.1,1022.9L831.4,1022.7L832.6,1022.5L833.8,1022.3L834.0,1022.3L835.0,1022.1L836.2,1021.9L837.4,1021.6L838.7,1021.4L839.9,1021.2L841.1,1021.0L841.1,1021.0L842.3,1020.8L843.5,1020.6L844.7,1020.4L846.0,1020.3L847.2,1020.1L848.4,1020.0L849.6,1019.8L850.5,1019.8L850.8,1019.7L852.0,1019.6L853.3,1019.5L854.5,1019.4L855.7,1019.3L856.9,1019.2L858.1,1019.1L859.3,1019.1L860.6,1019.3L861.8,1019.6L862.4,1019.8L863.0,1019.9L864.2,1020.3L865.4,1020.6L866.6,1020.9L866.9,1021.0L867.9,1021.3L869.1,1021.6L870.3,1022.0L871.1,1022.3L871.5,1022.4L872.7,1022.7L873.9,1023.1L875.1,1023.5L875.2,1023.5L876.4,1023.9L877.6,1024.3L878.8,1024.7L878.9,1024.8L880.0,1025.1L881.2,1025.5L882.5,1026.0L882.6,1026.0L883.7,1026.4L884.9,1026.8L886.1,1027.3L886.1,1027.3L887.3,1027.7L888.5,1028.2L889.3,1028.5L889.8,1028.7L891.0,1029.2L892.2,1029.7L892.3,1029.8L893.4,1030.2L894.6,1030.7L895.2,1031.0L895.8,1031.3L897.1,1031.9L897.9,1032.2L898.3,1032.4L899.5,1033.0L900.5,1033.5L900.7,1033.6L901.9,1034.2L903.0,1034.7L903.1,1034.8L904.3,1035.4L905.6,1036.0L905.6,1036.0L906.8,1036.6L908.0,1037.2L908.2,1037.2L909.2,1037.7L910.4,1038.3L910.9,1038.5L911.6,1038.9L912.9,1039.4L913.6,1039.7L914.1,1039.9L915.3,1040.5L916.5,1041.0L916.6,1041.0L917.7,1041.5L918.9,1041.9L919.8,1042.2L920.2,1042.4L921.4,1042.8" fill="none" stroke="#33434f" stroke-width="0.75"/>
<path d="M702.4,1050.8L703.6,1050.4L704.9,1050.0L705.6,1049.7L706.1,1049.6L707.3,1049.1L708.5,1048.6L708.7,1048.5L709.7,1048.0L710.9,1047.5L711.4,1047.2L712.2,1046.9L713.4,1046.3L714.0,1046.0L714.6,1045.7L715.8,1045.1L716.5,1044.7L717.0,1044.5L718.2,1043.9L718.9,1043.5L719.5,1043.2L720.7,1042.6L721.3,1042.2L721.9,1041.9L723.1,1041.2L723.5,1041.0L724.3,1040.6L725.5,1039.9L725.8,1039.7L726.7,1039.2L728.0,1038.6L728.1,1038.5L729.2,1037.9L730.4,1037.3L730.4,1037.2L731.6,1036.6L732.8,1036.0L732.8,1036.0L734.0,1035.4L735.3,1034.8L735.4,1034.7L736.5,1034.2L737.7,1033.6L738.0,1033.5L738.9,1033.1L740.1,1032.5L740.8,1032.2L741.3,1032.0L742.6,1031.5L743.7,1031.0L743.8,1031.0L745.0,1030.5L746.2,1030.0L746.9,1029.8L747.4,1029.5L748.6,1029.1L749.9,1028.6L750.2,1028.5L751.1,1028.2L752.3,1027.8L753.5,1027.4L753.8,1027.3L754.7,1027.0L755.9,1026.6L757.2,1026.3L758.2,1026.0L758.4,1026.0L759.6,1025.7L760.8,1025.5L762.0,1025.3L763.2,1025.1L764.5,1025.0L765.7,1024.8L766.2,1024.8L766.9,1024.6L768.1,1024.5L769.3,1024.5L770.5,1024.5L771.8,1024.5L773.0,1024.5L774.2,1024.6L775.4,1024.7L775.8,1024.8L776.6,1024.8L777.8,1025.0L779.1,1025.1L780.3,1025.2L781.5,1025.4L782.7,1025.6L783.9,1025.7L785.1,1025.9L785.7,1026.0L786.4,1026.1L787.6,1026.3L788.8,1026.4L790.0,1026.6L791.2,1026.8L792.4,1027.0L793.7,1027.1L794.7,1027.3L794.9,1027.3L796.1,1027.4L797.3,1027.6L798.5,1027.7L799.7,1027.8L801.0,1027.9L802.2,1028.0L803.4,1028.1L804.6,1028.2L805.8,1028.3L807.0,1028.4L808.3,1028.4L809.5,1028.5L809.6,1028.5L810.7,1028.6L811.9,1028.6L813.1,1028.6L814.2,1028.5L814.3,1028.5L815.5,1028.4L816.8,1028.4L818.0,1028.3L819.2,1028.2L820.4,1028.1L821.6,1028.0L822.8,1027.9L824.1,1027.8L825.3,1027.7L826.5,1027.6L827.7,1027.4L828.9,1027.3L829.1,1027.3L830.1,1027.1L831.4,1027.0L832.6,1026.8L833.8,1026.6L835.0,1026.4L836.2,1026.3L837.4,1026.1L838.1,1026.0L838.7,1025.9L839.9,1025.7L841.1,1025.6L842.3,1025.4L843.5,1025.2L844.7,1025.1L846.0,1025.0L847.2,1024.8L848.0,1024.8L848.4,1024.7L849.6,1024.6L850.8,1024.5L852.0,1024.5L853.3,1024.5L854.5,1024.5L855.7,1024.5L856.9,1024.6L857.6,1024.8L858.1,1024.8L859.3,1025.0L860.6,1025.1L861.8,1025.3L863.0,1025.5L864.2,1025.7L865.4,1026.0L865.6,1026.0L866.6,1026.3L867.9,1026.6L869.1,1027.0L870.0,1027.3L870.3,1027.4L871.5,1027.8L872.7,1028.2L873.6,1028.5L873.9,1028.6L875.2,1029.1L876.4,1029.5L876.9,1029.8L877.6,1030.0L878.8,1030.5L880.0,1031.0L880.1,1031.0L881.2,1031.5L882.5,1032.0L883.0,1032.2L883.7,1032.5L884.9,1033.1L885.8,1033.5L886.1,1033.6L887.3,1034.2L888.4,1034.7L888.5,1034.8L889.8,1035.4L891.0,1036.0L891.0,1036.0L892.2,1036.6L893.4,1037.2L893.4,1037.3L894.6,1037.9L895.7,1038.5L895.8,1038.6L897.1,1039.2L898.0,1039.7L898.3,1039.9L899.5,1040.6L900.3,1041.0L900.7,1041.2L901.9,1041.9L902.5,1042.2L903.1,1042.6L904.3,1043.2L904.9,1043.5L905.6,1043.9L906.8,1044.5L907.3,1044.7L908.0,1045.1L909.2,1045.7L909.8,1046.0L910.4,1046.3L911.6,1046.9L912.4,1047.2L912.9,1047.5L914.1,1048.0L915.1,1048.5L915.3,1048.6L916.5,1049.1L917.7,1049.6L918.2,1049.7L918.9,1050.0L920.2,1050.4L921.4,1050.8" fill="none" stroke="rgba(130,130,130,0.28)" stroke-width="0.5"/>
<path d="M702.4,1057.9L703.6,1057.5L704.6,1057.2L704.9,1057.2L706.1,1056.8L707.3,1056.4L708.5,1056.0L708.6,1056.0L709.7,1055.6L710.9,1055.2L712.0,1054.7L712.2,1054.7L713.4,1054.2L714.6,1053.7L715.0,1053.5L715.8,1053.1L717.0,1052.5L717.6,1052.2L718.2,1051.9L719.5,1051.3L720.1,1051.0L720.7,1050.7L721.9,1050.0L722.4,1049.7L723.1,1049.3L724.3,1048.6L724.5,1048.5L725.5,1047.9L726.6,1047.2L726.7,1047.2L728.0,1046.4L728.7,1046.0L729.2,1045.7L730.4,1044.9L730.7,1044.7L731.6,1044.2L732.7,1043.5L732.8,1043.4L734.0,1042.7L734.7,1042.2L735.3,1041.9L736.5,1041.2L736.8,1041.0L737.7,1040.5L738.9,1039.8L739.0,1039.7L740.1,1039.1L741.2,1038.5L741.3,1038.4L742.6,1037.8L743.6,1037.2L743.8,1037.1L745.0,1036.5L746.1,1036.0L746.2,1035.9L747.4,1035.4L748.6,1034.8L748.8,1034.7L749.9,1034.3L751.1,1033.7L751.7,1033.5L752.3,1033.3L753.5,1032.8L754.7,1032.3L755.0,1032.2L755.9,1031.9L757.2,1031.5L758.4,1031.2L759.0,1031.0L759.6,1030.8L760.8,1030.5L762.0,1030.2L763.2,1030.0L764.5,1029.8L764.8,1029.8L765.7,1029.7L766.9,1029.6L768.1,1029.5L769.3,1029.4L770.5,1029.4L771.8,1029.4L773.0,1029.4L774.2,1029.4L775.4,1029.4L776.6,1029.5L777.8,1029.6L779.1,1029.7L779.6,1029.8L780.3,1029.8L781.5,1029.9L782.7,1030.0L783.9,1030.2L785.1,1030.3L786.4,1030.4L787.6,1030.6L788.8,1030.7L790.0,1030.9L791.2,1031.0L791.3,1031.0L792.4,1031.1L793.7,1031.3L794.9,1031.4L796.1,1031.5L797.3,1031.6L798.5,1031.7L799.7,1031.8L801.0,1031.9L802.2,1032.0L803.4,1032.1L804.6,1032.2L805.8,1032.2L806.0,1032.2L807.0,1032.3L808.3,1032.4L809.5,1032.4L810.7,1032.4L811.9,1032.4L813.1,1032.4L814.3,1032.4L815.5,1032.4L816.8,1032.3L817.8,1032.2L818.0,1032.2L819.2,1032.2L820.4,1032.1L821.6,1032.0L822.8,1031.9L824.1,1031.8L825.3,1031.7L826.5,1031.6L827.7,1031.5L828.9,1031.4L830.1,1031.3L831.4,1031.1L832.5,1031.0L832.6,1031.0L833.8,1030.9L835.0,1030.7L836.2,1030.6L837.4,1030.4L838.7,1030.3L839.9,1030.2L841.1,1030.0L842.3,1029.9L843.5,1029.8L844.2,1029.8L844.7,1029.7L846.0,1029.6L847.2,1029.5L848.4,1029.4L849.6,1029.4L850.8,1029.4L852.0,1029.4L853.3,1029.4L854.5,1029.4L855.7,1029.5L856.9,1029.6L858.1,1029.7L859.0,1029.8L859.3,1029.8L860.6,1030.0L861.8,1030.2L863.0,1030.5L864.2,1030.8L864.8,1031.0L865.4,1031.2L866.6,1031.5L867.9,1031.9L868.8,1032.2L869.1,1032.3L870.3,1032.8L871.5,1033.3L872.1,1033.5L872.7,1033.7L873.9,1034.3L875.0,1034.7L875.2,1034.8L876.4,1035.4L877.6,1035.9L877.7,1036.0L878.8,1036.5L880.0,1037.1L880.2,1037.2L881.2,1037.8L882.5,1038.4L882.6,1038.5L883.7,1039.1L884.8,1039.7L884.9,1039.8L886.1,1040.5L887.0,1041.0L887.3,1041.2L888.5,1041.9L889.1,1042.2L889.8,1042.7L891.0,1043.4L891.1,1043.5L892.2,1044.2L893.1,1044.7L893.4,1044.9L894.6,1045.7L895.1,1046.0L895.8,1046.4L897.1,1047.2L897.2,1047.2L898.3,1047.9L899.3,1048.5L899.5,1048.6L900.7,1049.3L901.4,1049.7L901.9,1050.0L903.1,1050.7L903.7,1051.0L904.3,1051.3L905.6,1051.9L906.2,1052.2L906.8,1052.5L908.0,1053.1L908.8,1053.5L909.2,1053.7L910.4,1054.2L911.6,1054.7L911.8,1054.7L912.9,1055.2L914.1,1055.6L915.2,1056.0L915.3,1056.0L916.5,1056.4L917.7,1056.8L918.9,1057.2L919.2,1057.2L920.2,1057.5L921.4,1057.9" fill="none" stroke="rgba(130,130,130,0.28)" stroke-width="0.5"/>
<path d="M702.4,1064.9L703.0,1064.7L703.6,1064.6L704.9,1064.3L706.1,1064.0L707.3,1063.6L707.9,1063.5L708.5,1063.3L709.7,1063.0L710.9,1062.6L712.2,1062.3L712.4,1062.2L713.4,1061.9L714.6,1061.6L715.8,1061.2L716.3,1061.0L717.0,1060.7L718.2,1060.3L719.5,1059.8L719.5,1059.7L720.7,1059.2L721.9,1058.6L722.2,1058.5L723.1,1058.0L724.3,1057.3L724.5,1057.2L725.5,1056.7L726.6,1056.0L726.7,1055.9L728.0,1055.1L728.6,1054.7L729.2,1054.3L730.4,1053.5L730.4,1053.5L731.6,1052.7L732.2,1052.2L732.8,1051.8L734.0,1051.0L734.0,1050.9L735.3,1050.0L735.7,1049.7L736.5,1049.2L737.4,1048.5L737.7,1048.3L738.9,1047.4L739.1,1047.2L740.1,1046.5L740.9,1046.0L741.3,1045.7L742.6,1044.8L742.7,1044.7L743.8,1044.0L744.6,1043.5L745.0,1043.3L746.2,1042.5L746.6,1042.2L747.4,1041.8L748.6,1041.0L748.7,1041.0L749.9,1040.4L751.0,1039.7L751.1,1039.7L752.3,1039.1L753.5,1038.5L753.6,1038.5L754.7,1038.0L755.9,1037.5L756.6,1037.2L757.2,1037.0L758.4,1036.6L759.6,1036.2L760.3,1036.0L760.8,1035.9L762.0,1035.5L763.2,1035.3L764.5,1035.0L765.7,1034.8L766.1,1034.7L766.9,1034.6L768.1,1034.5L769.3,1034.4L770.5,1034.3L771.8,1034.3L773.0,1034.2L774.2,1034.2L775.4,1034.2L776.6,1034.3L777.8,1034.3L779.1,1034.4L780.3,1034.4L781.5,1034.5L782.7,1034.6L783.9,1034.7L785.1,1034.7L785.1,1034.8L786.4,1034.8L787.6,1034.9L788.8,1035.0L790.0,1035.1L791.2,1035.2L792.4,1035.3L793.7,1035.4L794.9,1035.5L796.1,1035.6L797.3,1035.7L798.5,1035.7L799.7,1035.8L801.0,1035.9L802.2,1035.9L803.3,1036.0L803.4,1036.0L804.6,1036.1L805.8,1036.1L807.0,1036.1L808.3,1036.2L809.5,1036.2L810.7,1036.2L811.9,1036.2L813.1,1036.2L814.3,1036.2L815.5,1036.2L816.8,1036.1L818.0,1036.1L819.2,1036.1L820.4,1036.0L820.5,1036.0L821.6,1035.9L822.8,1035.9L824.1,1035.8L825.3,1035.7L826.5,1035.7L827.7,1035.6L828.9,1035.5L830.1,1035.4L831.4,1035.3L832.6,1035.2L833.8,1035.1L835.0,1035.0L836.2,1034.9L837.4,1034.8L838.7,1034.8L838.7,1034.7L839.9,1034.7L841.1,1034.6L842.3,1034.5L843.5,1034.4L844.7,1034.4L846.0,1034.3L847.2,1034.3L848.4,1034.2L849.6,1034.2L850.8,1034.2L852.0,1034.3L853.3,1034.3L854.5,1034.4L855.7,1034.5L856.9,1034.6L857.7,1034.7L858.1,1034.8L859.3,1035.0L860.6,1035.3L861.8,1035.5L863.0,1035.9L863.5,1036.0L864.2,1036.2L865.4,1036.6L866.6,1037.0L867.2,1037.2L867.9,1037.5L869.1,1038.0L870.2,1038.5L870.3,1038.5L871.5,1039.1L872.7,1039.7L872.8,1039.7L873.9,1040.4L875.1,1041.0L875.2,1041.0L876.4,1041.8L877.2,1042.2L877.6,1042.5L878.8,1043.3L879.2,1043.5L880.0,1044.0L881.1,1044.7L881.2,1044.8L882.5,1045.7L882.9,1046.0L883.7,1046.5L884.7,1047.2L884.9,1047.4L886.1,1048.3L886.4,1048.5L887.3,1049.2L888.1,1049.7L888.5,1050.0L889.8,1050.9L889.8,1051.0L891.0,1051.8L891.6,1052.2L892.2,1052.7L893.4,1053.5L893.4,1053.5L894.6,1054.3L895.2,1054.7L895.8,1055.1L897.1,1055.9L897.2,1056.0L898.3,1056.7L899.3,1057.2L899.5,1057.3L900.7,1058.0L901.6,1058.5L901.9,1058.6L903.1,1059.2L904.3,1059.7L904.3,1059.8L905.6,1060.3L906.8,1060.7L907.5,1061.0L908.0,1061.2L909.2,1061.6L910.4,1061.9L911.4,1062.2L911.6,1062.3L912.9,1062.6L914.1,1063.0L915.3,1063.3L915.9,1063.5L916.5,1063.6L917.7,1064.0L918.9,1064.3L920.2,1064.6L920.8,1064.7L921.4,1064.9" fill="none" stroke="rgba(130,130,130,0.28)" stroke-width="0.5"/>
<path d="M702.4,1072.8L703.3,1072.2L703.6,1072.0L704.9,1071.5L706.1,1071.2L707.3,1071.1L708.5,1071.0L708.6,1071.0L709.7,1070.9L710.9,1070.8L712.2,1070.7L713.4,1070.6L714.6,1070.4L715.8,1070.2L717.0,1070.0L717.9,1069.7L718.2,1069.7L719.5,1069.3L720.7,1068.9L721.8,1068.5L721.9,1068.5L723.1,1067.9L724.3,1067.3L724.5,1067.2L725.5,1066.7L726.7,1066.0L726.8,1066.0L728.0,1065.2L728.7,1064.7L729.2,1064.4L730.4,1063.6L730.5,1063.5L731.6,1062.7L732.2,1062.2L732.8,1061.8L733.8,1061.0L734.0,1060.8L735.3,1059.8L735.4,1059.7L736.5,1058.8L736.8,1058.5L737.7,1057.8L738.3,1057.2L738.9,1056.7L739.7,1056.0L740.1,1055.6L741.1,1054.7L741.3,1054.6L742.6,1053.5L742.6,1053.5L743.8,1052.4L744.0,1052.2L745.0,1051.4L745.5,1051.0L746.2,1050.4L747.0,1049.7L747.4,1049.4L748.6,1048.5L748.6,1048.5L749.9,1047.6L750.3,1047.2L751.1,1046.7L752.1,1046.0L752.3,1045.8L753.5,1045.1L754.0,1044.7L754.7,1044.3L755.9,1043.6L756.2,1043.5L757.2,1043.0L758.4,1042.4L758.8,1042.2L759.6,1041.9L760.8,1041.5L762.0,1041.1L762.4,1041.0L763.2,1040.8L764.5,1040.5L765.7,1040.2L766.9,1040.0L768.1,1039.8L768.7,1039.7L769.3,1039.7L770.5,1039.6L771.8,1039.5L773.0,1039.4L774.2,1039.3L775.4,1039.3L776.6,1039.3L777.8,1039.3L779.1,1039.3L780.3,1039.3L781.5,1039.3L782.7,1039.3L783.9,1039.4L785.1,1039.4L786.4,1039.4L787.6,1039.5L788.8,1039.5L790.0,1039.6L791.2,1039.6L792.4,1039.7L793.7,1039.7L794.9,1039.7L794.9,1039.7L796.1,1039.8L797.3,1039.8L798.5,1039.9L799.7,1039.9L801.0,1039.9L802.2,1039.9L803.4,1039.9L804.6,1039.9L805.8,1040.0L807.0,1040.0L808.3,1040.0L809.5,1040.0L810.7,1040.0L811.9,1040.0L813.1,1040.0L814.3,1040.0L815.5,1040.0L816.8,1040.0L818.0,1040.0L819.2,1039.9L820.4,1039.9L821.6,1039.9L822.8,1039.9L824.1,1039.9L825.3,1039.9L826.5,1039.8L827.7,1039.8L828.9,1039.7L828.9,1039.7L830.1,1039.7L831.4,1039.7L832.6,1039.6L833.8,1039.6L835.0,1039.5L836.2,1039.5L837.4,1039.4L838.7,1039.4L839.9,1039.4L841.1,1039.3L842.3,1039.3L843.5,1039.3L844.7,1039.3L846.0,1039.3L847.2,1039.3L848.4,1039.3L849.6,1039.3L850.8,1039.4L852.0,1039.5L853.3,1039.6L854.5,1039.7L855.1,1039.7L855.7,1039.8L856.9,1040.0L858.1,1040.2L859.3,1040.5L860.6,1040.8L861.4,1041.0L861.8,1041.1L863.0,1041.5L864.2,1041.9L865.0,1042.2L865.4,1042.4L866.6,1043.0L867.6,1043.5L867.9,1043.6L869.1,1044.3L869.8,1044.7L870.3,1045.1L871.5,1045.8L871.7,1046.0L872.7,1046.7L873.5,1047.2L873.9,1047.6L875.2,1048.5L875.2,1048.5L876.4,1049.4L876.8,1049.7L877.6,1050.4L878.3,1051.0L878.8,1051.4L879.8,1052.2L880.0,1052.4L881.2,1053.5L881.2,1053.5L882.5,1054.6L882.7,1054.7L883.7,1055.6L884.1,1056.0L884.9,1056.7L885.5,1057.2L886.1,1057.8L887.0,1058.5L887.3,1058.8L888.4,1059.7L888.5,1059.8L889.8,1060.8L890.0,1061.0L891.0,1061.8L891.6,1062.2L892.2,1062.7L893.3,1063.5L893.4,1063.6L894.6,1064.4L895.1,1064.7L895.8,1065.2L897.0,1066.0L897.1,1066.0L898.3,1066.7L899.3,1067.2L899.5,1067.3L900.7,1067.9L901.9,1068.5L902.0,1068.5L903.1,1068.9L904.3,1069.3L905.6,1069.7L905.9,1069.7L906.8,1070.0L908.0,1070.2L909.2,1070.4L910.4,1070.6L911.6,1070.7L912.9,1070.8L914.1,1070.9L915.2,1071.0L915.3,1071.0L916.5,1071.1L917.7,1071.2L918.9,1071.5L920.2,1072.0L920.5,1072.2L921.4,1072.8" fill="none" stroke="rgba(130,130,130,0.28)" stroke-width="0.5"/>
<path d="M720.9,1081.0L721.9,1080.6L723.1,1080.1L724.0,1079.7L724.3,1079.6L725.5,1079.0L726.4,1078.5L726.7,1078.3L728.0,1077.4L728.2,1077.2L729.2,1076.5L729.8,1076.0L730.4,1075.5L731.4,1074.7L731.6,1074.5L732.8,1073.5L732.9,1073.5L734.0,1072.5L734.3,1072.2L735.3,1071.4L735.7,1071.0L736.5,1070.3L737.2,1069.7L737.7,1069.3L738.6,1068.5L738.9,1068.2L739.9,1067.2L740.1,1067.0L741.2,1066.0L741.3,1065.9L742.5,1064.7L742.6,1064.7L743.7,1063.5L743.8,1063.4L745.0,1062.2L745.0,1062.2L746.2,1061.0L746.2,1060.9L747.4,1059.7L747.4,1059.7L748.6,1058.5L748.6,1058.5L749.9,1057.2L749.9,1057.2L751.1,1056.0L751.1,1056.0L752.3,1054.9L752.5,1054.7L753.5,1053.8L753.9,1053.5L754.7,1052.8L755.4,1052.2L755.9,1051.8L756.9,1051.0L757.2,1050.8L758.4,1049.9L758.6,1049.7L759.6,1049.1L760.4,1048.5L760.8,1048.3L762.0,1047.5L762.6,1047.2L763.2,1046.9L764.5,1046.5L765.7,1046.1L766.5,1046.0L766.9,1045.9L768.1,1045.8L769.3,1045.6L770.5,1045.5L771.8,1045.3L773.0,1045.2L774.2,1045.1L775.4,1045.0L776.6,1044.9L777.8,1044.8L778.6,1044.7L779.1,1044.7L780.3,1044.6L781.5,1044.6L782.7,1044.5L783.9,1044.5L785.1,1044.4L786.4,1044.4L787.6,1044.3L788.8,1044.3L790.0,1044.3L791.2,1044.3L792.4,1044.3L793.7,1044.3L794.9,1044.2L796.1,1044.2L797.3,1044.2L798.5,1044.2L799.7,1044.1L801.0,1044.1L802.2,1044.1L803.4,1044.0L804.6,1044.0L805.8,1043.9L807.0,1043.9L808.3,1043.8L809.5,1043.7L810.7,1043.7L811.9,1043.6L813.1,1043.7L814.3,1043.7L815.5,1043.8L816.8,1043.9L818.0,1043.9L819.2,1044.0L820.4,1044.0L821.6,1044.1L822.8,1044.1L824.1,1044.1L825.3,1044.2L826.5,1044.2L827.7,1044.2L828.9,1044.2L830.1,1044.3L831.4,1044.3L832.6,1044.3L833.8,1044.3L835.0,1044.3L836.2,1044.3L837.4,1044.4L838.7,1044.4L839.9,1044.5L841.1,1044.5L842.3,1044.6L843.5,1044.6L844.7,1044.7L845.2,1044.7L846.0,1044.8L847.2,1044.9L848.4,1045.0L849.6,1045.1L850.8,1045.2L852.0,1045.3L853.3,1045.5L854.5,1045.6L855.7,1045.8L856.9,1045.9L857.3,1046.0L858.1,1046.1L859.3,1046.5L860.6,1046.9L861.2,1047.2L861.8,1047.5L863.0,1048.3L863.4,1048.5L864.2,1049.1L865.2,1049.7L865.4,1049.9L866.6,1050.8L866.9,1051.0L867.9,1051.8L868.4,1052.2L869.1,1052.8L869.9,1053.5L870.3,1053.8L871.3,1054.7L871.5,1054.9L872.7,1056.0L872.7,1056.0L873.9,1057.2L873.9,1057.2L875.2,1058.5L875.2,1058.5L876.4,1059.7L876.4,1059.7L877.6,1060.9L877.6,1061.0L878.8,1062.2L878.8,1062.2L880.0,1063.4L880.1,1063.5L881.2,1064.7L881.3,1064.7L882.5,1065.9L882.6,1066.0L883.7,1067.0L883.9,1067.2L884.9,1068.2L885.2,1068.5L886.1,1069.3L886.6,1069.7L887.3,1070.3L888.1,1071.0L888.5,1071.4L889.5,1072.2L889.8,1072.5L890.9,1073.5L891.0,1073.5L892.2,1074.5L892.4,1074.7L893.4,1075.5L894.0,1076.0L894.6,1076.5L895.6,1077.2L895.8,1077.4L897.1,1078.3L897.4,1078.5L898.3,1079.0L899.5,1079.6L899.8,1079.7L900.7,1080.1L901.9,1080.6L902.9,1081.0" fill="none" stroke="#33434f" stroke-width="0.75"/>
<path d="M737.9,1081.0L738.9,1080.1L739.3,1079.7L740.1,1078.9L740.6,1078.5L741.3,1077.8L742.0,1077.2L742.6,1076.8L743.5,1076.0L743.8,1075.7L744.9,1074.7L745.0,1074.6L746.2,1073.5L746.2,1073.5L747.4,1072.3L747.5,1072.2L748.6,1071.2L748.8,1071.0L749.9,1070.0L750.1,1069.7L751.1,1068.8L751.4,1068.5L752.3,1067.5L752.6,1067.2L753.5,1066.3L753.8,1066.0L754.7,1065.1L755.1,1064.7L755.9,1063.9L756.3,1063.5L757.2,1062.7L757.6,1062.2L758.4,1061.6L759.0,1061.0L759.6,1060.5L760.5,1059.7L760.8,1059.5L762.0,1058.6L762.2,1058.5L763.2,1057.8L764.2,1057.2L764.5,1057.1L765.7,1056.4L766.5,1056.0L766.9,1055.8L768.1,1055.2L769.1,1054.7L769.3,1054.7L770.5,1053.9L771.4,1053.5L771.8,1053.3L773.0,1052.7L774.2,1052.3L774.3,1052.2L775.4,1051.9L776.6,1051.6L777.8,1051.3L779.1,1051.1L779.8,1051.0L780.3,1050.9L781.5,1050.8L782.7,1050.6L783.9,1050.5L785.1,1050.3L786.4,1050.2L787.6,1050.0L788.8,1049.9L789.7,1049.7L790.0,1049.7L791.2,1049.6L792.4,1049.4L793.7,1049.3L794.9,1049.1L796.1,1049.0L797.3,1048.9L798.5,1048.8L799.7,1048.7L801.0,1048.6L802.2,1048.5L802.2,1048.5L803.4,1048.4L804.6,1048.4L805.8,1048.3L807.0,1048.2L808.3,1048.2L809.5,1048.2L810.7,1048.1L811.9,1048.1L813.1,1048.1L814.3,1048.2L815.5,1048.2L816.8,1048.2L818.0,1048.3L819.2,1048.4L820.4,1048.4L821.6,1048.5L821.6,1048.5L822.8,1048.6L824.1,1048.7L825.3,1048.8L826.5,1048.9L827.7,1049.0L828.9,1049.1L830.1,1049.3L831.4,1049.4L832.6,1049.6L833.8,1049.7L834.1,1049.7L835.0,1049.9L836.2,1050.0L837.4,1050.2L838.7,1050.3L839.9,1050.5L841.1,1050.6L842.3,1050.8L843.5,1050.9L844.0,1051.0L844.7,1051.1L846.0,1051.3L847.2,1051.6L848.4,1051.9L849.5,1052.2L849.6,1052.3L850.8,1052.7L852.0,1053.3L852.4,1053.5L853.3,1053.9L854.5,1054.7L854.7,1054.7L855.7,1055.2L856.9,1055.8L857.3,1056.0L858.1,1056.4L859.3,1057.1L859.6,1057.2L860.6,1057.8L861.6,1058.5L861.8,1058.6L863.0,1059.5L863.3,1059.7L864.2,1060.5L864.8,1061.0L865.4,1061.6L866.2,1062.2L866.6,1062.7L867.5,1063.5L867.9,1063.9L868.7,1064.7L869.1,1065.1L870.0,1066.0L870.3,1066.3L871.2,1067.2L871.5,1067.5L872.4,1068.5L872.7,1068.8L873.7,1069.7L873.9,1070.0L875.0,1071.0L875.2,1071.2L876.3,1072.2L876.4,1072.3L877.6,1073.5L877.6,1073.5L878.8,1074.6L878.9,1074.7L880.0,1075.7L880.3,1076.0L881.2,1076.8L881.8,1077.2L882.5,1077.8L883.2,1078.5L883.7,1078.9L884.5,1079.7L884.9,1080.1L885.9,1081.0" fill="none" stroke="rgba(130,130,130,0.28)" stroke-width="0.5"/>
<path d="M752.1,1081.0L752.3,1080.8L753.5,1079.7L753.5,1079.7L754.7,1078.6L754.9,1078.5L755.9,1077.5L756.3,1077.2L757.2,1076.4L757.6,1076.0L758.4,1075.2L758.9,1074.7L759.6,1074.1L760.2,1073.5L760.8,1072.9L761.5,1072.2L762.0,1071.7L762.8,1071.0L763.2,1070.5L764.1,1069.7L764.5,1069.4L765.4,1068.5L765.7,1068.2L766.7,1067.2L766.9,1067.1L768.1,1066.0L768.1,1065.9L769.3,1064.9L769.5,1064.7L770.5,1063.8L770.9,1063.5L771.8,1062.8L772.4,1062.2L773.0,1061.8L774.0,1061.0L774.2,1060.8L775.4,1060.0L775.9,1059.7L776.6,1059.4L777.8,1059.1L779.1,1058.9L780.3,1058.7L781.5,1058.5L781.6,1058.5L782.7,1058.3L783.9,1058.1L785.1,1057.8L786.4,1057.4L786.8,1057.2L787.6,1057.0L788.8,1056.5L790.0,1056.1L790.2,1056.0L791.2,1055.6L792.4,1055.2L793.7,1054.7L793.7,1054.7L794.9,1054.4L796.1,1054.1L797.3,1053.8L798.5,1053.5L798.9,1053.5L799.7,1053.3L801.0,1053.2L802.2,1053.1L803.4,1053.0L804.6,1052.9L805.8,1052.9L807.0,1052.9L808.3,1052.9L809.5,1052.9L810.7,1052.9L811.9,1052.9L813.1,1052.9L814.3,1052.9L815.5,1052.9L816.8,1052.9L818.0,1052.9L819.2,1052.9L820.4,1053.0L821.6,1053.1L822.8,1053.2L824.1,1053.3L824.9,1053.5L825.3,1053.5L826.5,1053.8L827.7,1054.1L828.9,1054.4L830.1,1054.7L830.1,1054.7L831.4,1055.2L832.6,1055.6L833.6,1056.0L833.8,1056.1L835.0,1056.5L836.2,1057.0L837.0,1057.2L837.4,1057.4L838.7,1057.8L839.9,1058.1L841.1,1058.3L842.2,1058.5L842.3,1058.5L843.5,1058.7L844.7,1058.9L846.0,1059.1L847.2,1059.4L847.9,1059.7L848.4,1060.0L849.6,1060.8L849.8,1061.0L850.8,1061.8L851.4,1062.2L852.0,1062.8L852.9,1063.5L853.3,1063.8L854.3,1064.7L854.5,1064.9L855.7,1065.9L855.7,1066.0L856.9,1067.1L857.1,1067.2L858.1,1068.2L858.4,1068.5L859.3,1069.4L859.7,1069.7L860.6,1070.5L861.0,1071.0L861.8,1071.7L862.3,1072.2L863.0,1072.9L863.6,1073.5L864.2,1074.1L864.9,1074.7L865.4,1075.2L866.2,1076.0L866.6,1076.4L867.5,1077.2L867.9,1077.5L868.9,1078.5L869.1,1078.6L870.3,1079.7L870.3,1079.7L871.5,1080.8L871.7,1081.0" fill="none" stroke="rgba(130,130,130,0.28)" stroke-width="0.5"/>
<path d="M766.4,1081.0L766.9,1080.6L767.8,1079.7L768.1,1079.5L769.2,1078.5L769.3,1078.3L770.5,1077.2L770.5,1077.2L771.8,1076.0L771.8,1076.0L773.0,1074.9L773.1,1074.7L774.2,1073.8L774.5,1073.5L775.4,1072.7L776.0,1072.2L776.6,1071.7L777.7,1071.0L777.8,1070.9L779.1,1070.1L779.6,1069.7L780.3,1069.4L781.5,1068.7L782.0,1068.5L782.7,1068.2L783.9,1067.6L784.8,1067.2L785.1,1067.1L786.4,1066.5L787.3,1066.0L787.6,1065.9L788.8,1064.9L789.0,1064.7L790.0,1063.7L790.2,1063.5L791.2,1062.6L791.6,1062.2L792.4,1061.5L793.2,1061.0L793.7,1060.6L794.9,1059.9L795.1,1059.7L796.1,1059.3L797.3,1058.7L797.9,1058.5L798.5,1058.3L799.7,1057.9L801.0,1057.6L802.2,1057.4L803.4,1057.3L803.6,1057.2L804.6,1057.2L805.8,1057.1L807.0,1057.2L808.0,1057.2L808.3,1057.3L809.5,1057.4L810.7,1057.5L811.9,1057.6L813.1,1057.5L814.3,1057.4L815.5,1057.3L815.8,1057.2L816.8,1057.2L818.0,1057.1L819.2,1057.2L820.2,1057.2L820.4,1057.3L821.6,1057.4L822.8,1057.6L824.1,1057.9L825.3,1058.3L825.9,1058.5L826.5,1058.7L827.7,1059.3L828.7,1059.7L828.9,1059.9L830.1,1060.6L830.6,1061.0L831.4,1061.5L832.2,1062.2L832.6,1062.6L833.6,1063.5L833.8,1063.7L834.8,1064.7L835.0,1064.9L836.2,1065.9L836.5,1066.0L837.4,1066.5L838.7,1067.1L839.0,1067.2L839.9,1067.6L841.1,1068.2L841.8,1068.5L842.3,1068.7L843.5,1069.4L844.2,1069.7L844.7,1070.1L846.0,1070.9L846.1,1071.0L847.2,1071.7L847.8,1072.2L848.4,1072.7L849.3,1073.5L849.6,1073.8L850.7,1074.7L850.8,1074.9L852.0,1076.0L852.0,1076.0L853.3,1077.2L853.3,1077.2L854.5,1078.3L854.6,1078.5L855.7,1079.5L856.0,1079.7L856.9,1080.6L857.4,1081.0" fill="none" stroke="rgba(130,130,130,0.28)" stroke-width="0.5"/>
<path d="M778.6,1081.0L779.1,1080.5L779.8,1079.7L780.3,1079.3L781.1,1078.5L781.5,1078.1L782.3,1077.2L782.7,1076.8L783.5,1076.0L783.9,1075.6L784.9,1074.7L785.1,1074.5L786.3,1073.5L786.4,1073.5L787.6,1072.4L787.8,1072.2L788.8,1071.4L789.3,1071.0L790.0,1070.3L790.6,1069.7L791.2,1069.2L791.9,1068.5L792.4,1067.9L793.1,1067.2L793.7,1066.6L794.3,1066.0L794.9,1065.5L795.8,1064.7L796.1,1064.5L797.3,1063.7L797.6,1063.5L798.5,1063.0L799.7,1062.4L800.1,1062.2L801.0,1061.9L802.2,1061.5L803.4,1061.2L804.3,1061.0L804.6,1060.9L805.8,1060.7L807.0,1060.6L808.3,1060.5L809.5,1060.5L810.7,1060.5L811.9,1060.5L813.1,1060.5L814.3,1060.5L815.5,1060.5L816.8,1060.6L818.0,1060.7L819.2,1060.9L819.5,1061.0L820.4,1061.2L821.6,1061.5L822.8,1061.9L823.7,1062.2L824.1,1062.4L825.3,1063.0L826.2,1063.5L826.5,1063.7L827.7,1064.5L828.0,1064.7L828.9,1065.5L829.5,1066.0L830.1,1066.6L830.7,1067.2L831.4,1067.9L831.9,1068.5L832.6,1069.2L833.2,1069.7L833.8,1070.3L834.5,1071.0L835.0,1071.4L836.0,1072.2L836.2,1072.4L837.4,1073.5L837.5,1073.5L838.7,1074.5L838.9,1074.7L839.9,1075.6L840.3,1076.0L841.1,1076.8L841.5,1077.2L842.3,1078.1L842.7,1078.5L843.5,1079.3L844.0,1079.7L844.7,1080.5L845.2,1081.0" fill="none" stroke="rgba(130,130,130,0.28)" stroke-width="0.5"/>
<path d="M788.0,1081.0L788.8,1079.9L788.9,1079.7L789.9,1078.5L790.0,1078.3L791.0,1077.2L791.2,1077.0L792.1,1076.0L792.4,1075.6L793.2,1074.7L793.7,1074.2L794.2,1073.5L794.9,1072.6L795.1,1072.2L796.0,1071.0L796.1,1070.9L797.0,1069.7L797.3,1069.4L798.3,1068.5L798.5,1068.3L799.7,1067.5L800.1,1067.2L801.0,1066.8L802.2,1066.1L802.4,1066.0L803.4,1065.6L804.6,1065.1L805.4,1064.7L805.8,1064.6L807.0,1064.2L808.3,1063.9L809.5,1063.5L809.6,1063.5L810.7,1063.3L811.9,1063.2L813.1,1063.3L814.2,1063.5L814.3,1063.5L815.5,1063.9L816.8,1064.2L818.0,1064.6L818.4,1064.7L819.2,1065.1L820.4,1065.6L821.4,1066.0L821.6,1066.1L822.8,1066.8L823.7,1067.2L824.1,1067.5L825.3,1068.3L825.5,1068.5L826.5,1069.4L826.8,1069.7L827.7,1070.9L827.8,1071.0L828.7,1072.2L828.9,1072.6L829.6,1073.5L830.1,1074.2L830.6,1074.7L831.4,1075.6L831.7,1076.0L832.6,1077.0L832.8,1077.2L833.8,1078.3L833.9,1078.5L834.9,1079.7L835.0,1079.9L835.8,1081.0" fill="none" stroke="#33434f" stroke-width="0.75"/>
<path d="M800.7,1081.0L801.0,1080.7L801.7,1079.7L802.2,1078.9L802.4,1078.5L802.8,1077.2L803.2,1076.0L803.4,1075.6L803.7,1074.7L804.4,1073.5L804.6,1073.2L805.4,1072.2L805.8,1071.8L806.7,1071.0L807.0,1070.8L808.3,1070.0L808.9,1069.7L809.5,1069.5L810.7,1069.2L811.9,1069.1L813.1,1069.2L814.3,1069.5L814.9,1069.7L815.5,1070.0L816.8,1070.8L817.1,1071.0L818.0,1071.8L818.4,1072.2L819.2,1073.2L819.4,1073.5L820.1,1074.7L820.4,1075.6L820.6,1076.0L821.0,1077.2L821.4,1078.5L821.6,1078.9L822.1,1079.7L822.8,1080.7L823.1,1081.0" fill="none" stroke="rgba(130,130,130,0.28)" stroke-width="0.5"/></g>
<text transform="translate(558.9,1010.8) rotate(62)" x="0" y="1.8" font-size="5.4" font-family='"Liberation Sans", sans-serif' text-anchor="middle" fill="#222" stroke="#6aa0d3" stroke-width="2.2" paint-order="stroke">2,5</text>
<text transform="translate(520.8,1005.6) rotate(58)" x="0" y="1.8" font-size="5.4" font-family='"Liberation Sans", sans-serif' text-anchor="middle" fill="#222" stroke="#cfe6f0" stroke-width="2.2" paint-order="stroke">5</text>
<text transform="translate(581.9,1040.4) rotate(-8)" x="0" y="1.8" font-size="5.4" font-family='"Liberation Sans", sans-serif' text-anchor="middle" fill="#222" stroke="#d9edf2" stroke-width="2.2" paint-order="stroke">5</text>
<text transform="translate(489.2,1014.6) rotate(72)" x="0" y="1.8" font-size="5.4" font-family='"Liberation Sans", sans-serif' text-anchor="middle" fill="#222" stroke="#fbe7a8" stroke-width="2.2" paint-order="stroke">7,5</text>
<text transform="translate(638.0,1059.8) rotate(-28)" x="0" y="1.8" font-size="5.4" font-family='"Liberation Sans", sans-serif' text-anchor="middle" fill="#222" stroke="#fce9ad" stroke-width="2.2" paint-order="stroke">7,5</text>
<text transform="translate(730.3,1030.8) rotate(-32)" x="0" y="1.8" font-size="5.4" font-family='"Liberation Sans", sans-serif' text-anchor="middle" fill="#222" stroke="#8cbde0" stroke-width="2.2" paint-order="stroke">2,5</text>
<text transform="translate(806.4,1023.9) rotate(4)" x="0" y="1.8" font-size="5.4" font-family='"Liberation Sans", sans-serif' text-anchor="middle" fill="#222" stroke="#8cbde0" stroke-width="2.2" paint-order="stroke">2,5</text>
<text transform="translate(885.7,1029.8) rotate(32)" x="0" y="1.8" font-size="5.4" font-family='"Liberation Sans", sans-serif' text-anchor="middle" fill="#222" stroke="#8cbde0" stroke-width="2.2" paint-order="stroke">2,5</text>
<text transform="translate(751.0,1055.5) rotate(-50)" x="0" y="1.8" font-size="5.4" font-family='"Liberation Sans", sans-serif' text-anchor="middle" fill="#222" stroke="#b7daec" stroke-width="2.2" paint-order="stroke">3,75</text>
<text transform="translate(832.4,1044.1) rotate(4)" x="0" y="1.8" font-size="5.4" font-family='"Liberation Sans", sans-serif' text-anchor="middle" fill="#222" stroke="#bcdcec" stroke-width="2.2" paint-order="stroke">3,75</text>
<rect x="469.4" y="985.3" width="214.4" height="94.6" fill="none" stroke="#a0a0a0" stroke-width="0.8"/>
<line x1="481.2" y1="985.3" x2="481.2" y2="982.8" stroke="#999" stroke-width="0.7"/>
<line x1="481.2" y1="1079.9" x2="481.2" y2="1081.9" stroke="#999" stroke-width="0.7"/>
<text x="481.2" y="1088.2" font-size="5.2" font-family='"Liberation Sans", sans-serif' text-anchor="middle" fill="#333">-40</text>
<line x1="504.9" y1="985.3" x2="504.9" y2="982.8" stroke="#999" stroke-width="0.7"/>
<line x1="504.9" y1="1079.9" x2="504.9" y2="1081.9" stroke="#999" stroke-width="0.7"/>
<text x="504.9" y="1088.2" font-size="5.2" font-family='"Liberation Sans", sans-serif' text-anchor="middle" fill="#333">-30</text>
<line x1="528.7" y1="985.3" x2="528.7" y2="982.8" stroke="#999" stroke-width="0.7"/>
<line x1="528.7" y1="1079.9" x2="528.7" y2="1081.9" stroke="#999" stroke-width="0.7"/>
<text x="528.7" y="1088.2" font-size="5.2" font-family='"Liberation Sans", sans-serif' text-anchor="middle" fill="#333">-20</text>
<line x1="552.4" y1="985.3" x2="552.4" y2="982.8" stroke="#999" stroke-width="0.7"/>
<line x1="552.4" y1="1079.9" x2="552.4" y2="1081.9" stroke="#999" stroke-width="0.7"/>
<text x="552.4" y="1088.2" font-size="5.2" font-family='"Liberation Sans", sans-serif' text-anchor="middle" fill="#333">-10</text>
<line x1="576.2" y1="985.3" x2="576.2" y2="982.8" stroke="#999" stroke-width="0.7"/>
<line x1="576.2" y1="1079.9" x2="576.2" y2="1081.9" stroke="#999" stroke-width="0.7"/>
<text x="576.2" y="1088.2" font-size="5.2" font-family='"Liberation Sans", sans-serif' text-anchor="middle" fill="#333">0</text>
<line x1="600.0" y1="985.3" x2="600.0" y2="982.8" stroke="#999" stroke-width="0.7"/>
<line x1="600.0" y1="1079.9" x2="600.0" y2="1081.9" stroke="#999" stroke-width="0.7"/>
<text x="600.0" y="1088.2" font-size="5.2" font-family='"Liberation Sans", sans-serif' text-anchor="middle" fill="#333">10</text>
<line x1="623.7" y1="985.3" x2="623.7" y2="982.8" stroke="#999" stroke-width="0.7"/>
<line x1="623.7" y1="1079.9" x2="623.7" y2="1081.9" stroke="#999" stroke-width="0.7"/>
<text x="623.7" y="1088.2" font-size="5.2" font-family='"Liberation Sans", sans-serif' text-anchor="middle" fill="#333">20</text>
<line x1="647.5" y1="985.3" x2="647.5" y2="982.8" stroke="#999" stroke-width="0.7"/>
<line x1="647.5" y1="1079.9" x2="647.5" y2="1081.9" stroke="#999" stroke-width="0.7"/>
<text x="647.5" y="1088.2" font-size="5.2" font-family='"Liberation Sans", sans-serif' text-anchor="middle" fill="#333">30</text>
<line x1="671.2" y1="985.3" x2="671.2" y2="982.8" stroke="#999" stroke-width="0.7"/>
<line x1="671.2" y1="1079.9" x2="671.2" y2="1081.9" stroke="#999" stroke-width="0.7"/>
<text x="671.2" y="1088.2" font-size="5.2" font-family='"Liberation Sans", sans-serif' text-anchor="middle" fill="#333">40</text>
<line x1="466.9" y1="985.3" x2="469.4" y2="985.3" stroke="#999" stroke-width="0.7"/>
<line x1="683.8" y1="985.3" x2="686.3" y2="985.3" stroke="#999" stroke-width="0.7"/>
<text x="466.4" y="987.1" font-size="5.2" font-family='"Liberation Sans", sans-serif' text-anchor="end" fill="#333">0</text>
<line x1="466.9" y1="1008.9" x2="469.4" y2="1008.9" stroke="#999" stroke-width="0.7"/>
<line x1="683.8" y1="1008.9" x2="686.3" y2="1008.9" stroke="#999" stroke-width="0.7"/>
<text x="466.4" y="1010.7" font-size="5.2" font-family='"Liberation Sans", sans-serif' text-anchor="end" fill="#333">-10</text>
<line x1="466.9" y1="1032.6" x2="469.4" y2="1032.6" stroke="#999" stroke-width="0.7"/>
<line x1="683.8" y1="1032.6" x2="686.3" y2="1032.6" stroke="#999" stroke-width="0.7"/>
<text x="466.4" y="1034.4" font-size="5.2" font-family='"Liberation Sans", sans-serif' text-anchor="end" fill="#333">-20</text>
<line x1="466.9" y1="1056.2" x2="469.4" y2="1056.2" stroke="#999" stroke-width="0.7"/>
<line x1="683.8" y1="1056.2" x2="686.3" y2="1056.2" stroke="#999" stroke-width="0.7"/>
<text x="466.4" y="1058.0" font-size="5.2" font-family='"Liberation Sans", sans-serif' text-anchor="end" fill="#333">-30</text>
<line x1="466.9" y1="1079.9" x2="469.4" y2="1079.9" stroke="#999" stroke-width="0.7"/>
<line x1="683.8" y1="1079.9" x2="686.3" y2="1079.9" stroke="#999" stroke-width="0.7"/>
<text x="466.4" y="1081.7" font-size="5.2" font-family='"Liberation Sans", sans-serif' text-anchor="end" fill="#333">-40</text>
<rect x="704.8" y="983.4" width="213.8" height="95.2" fill="none" stroke="#a0a0a0" stroke-width="0.8"/>
<line x1="716.7" y1="983.4" x2="716.7" y2="980.9" stroke="#999" stroke-width="0.7"/>
<line x1="716.7" y1="1078.6" x2="716.7" y2="1080.6" stroke="#999" stroke-width="0.7"/>
<text x="716.7" y="1086.9" font-size="5.2" font-family='"Liberation Sans", sans-serif' text-anchor="middle" fill="#333">-40</text>
<line x1="740.5" y1="983.4" x2="740.5" y2="980.9" stroke="#999" stroke-width="0.7"/>
<line x1="740.5" y1="1078.6" x2="740.5" y2="1080.6" stroke="#999" stroke-width="0.7"/>
<text x="740.5" y="1086.9" font-size="5.2" font-family='"Liberation Sans", sans-serif' text-anchor="middle" fill="#333">-30</text>
<line x1="764.3" y1="983.4" x2="764.3" y2="980.9" stroke="#999" stroke-width="0.7"/>
<line x1="764.3" y1="1078.6" x2="764.3" y2="1080.6" stroke="#999" stroke-width="0.7"/>
<text x="764.3" y="1086.9" font-size="5.2" font-family='"Liberation Sans", sans-serif' text-anchor="middle" fill="#333">-20</text>
<line x1="788.1" y1="983.4" x2="788.1" y2="980.9" stroke="#999" stroke-width="0.7"/>
<line x1="788.1" y1="1078.6" x2="788.1" y2="1080.6" stroke="#999" stroke-width="0.7"/>
<text x="788.1" y="1086.9" font-size="5.2" font-family='"Liberation Sans", sans-serif' text-anchor="middle" fill="#333">-10</text>
<line x1="811.9" y1="983.4" x2="811.9" y2="980.9" stroke="#999" stroke-width="0.7"/>
<line x1="811.9" y1="1078.6" x2="811.9" y2="1080.6" stroke="#999" stroke-width="0.7"/>
<text x="811.9" y="1086.9" font-size="5.2" font-family='"Liberation Sans", sans-serif' text-anchor="middle" fill="#333">0</text>
<line x1="835.7" y1="983.4" x2="835.7" y2="980.9" stroke="#999" stroke-width="0.7"/>
<line x1="835.7" y1="1078.6" x2="835.7" y2="1080.6" stroke="#999" stroke-width="0.7"/>
<text x="835.7" y="1086.9" font-size="5.2" font-family='"Liberation Sans", sans-serif' text-anchor="middle" fill="#333">10</text>
<line x1="859.5" y1="983.4" x2="859.5" y2="980.9" stroke="#999" stroke-width="0.7"/>
<line x1="859.5" y1="1078.6" x2="859.5" y2="1080.6" stroke="#999" stroke-width="0.7"/>
<text x="859.5" y="1086.9" font-size="5.2" font-family='"Liberation Sans", sans-serif' text-anchor="middle" fill="#333">20</text>
<line x1="883.3" y1="983.4" x2="883.3" y2="980.9" stroke="#999" stroke-width="0.7"/>
<line x1="883.3" y1="1078.6" x2="883.3" y2="1080.6" stroke="#999" stroke-width="0.7"/>
<text x="883.3" y="1086.9" font-size="5.2" font-family='"Liberation Sans", sans-serif' text-anchor="middle" fill="#333">30</text>
<line x1="907.1" y1="983.4" x2="907.1" y2="980.9" stroke="#999" stroke-width="0.7"/>
<line x1="907.1" y1="1078.6" x2="907.1" y2="1080.6" stroke="#999" stroke-width="0.7"/>
<text x="907.1" y="1086.9" font-size="5.2" font-family='"Liberation Sans", sans-serif' text-anchor="middle" fill="#333">40</text>
<line x1="702.3" y1="983.4" x2="704.8" y2="983.4" stroke="#999" stroke-width="0.7"/>
<line x1="918.6" y1="983.4" x2="921.1" y2="983.4" stroke="#999" stroke-width="0.7"/>
<text x="701.8" y="985.2" font-size="5.2" font-family='"Liberation Sans", sans-serif' text-anchor="end" fill="#333">0</text>
<line x1="702.3" y1="1007.2" x2="704.8" y2="1007.2" stroke="#999" stroke-width="0.7"/>
<line x1="918.6" y1="1007.2" x2="921.1" y2="1007.2" stroke="#999" stroke-width="0.7"/>
<text x="701.8" y="1009.0" font-size="5.2" font-family='"Liberation Sans", sans-serif' text-anchor="end" fill="#333">-10</text>
<line x1="702.3" y1="1031.0" x2="704.8" y2="1031.0" stroke="#999" stroke-width="0.7"/>
<line x1="918.6" y1="1031.0" x2="921.1" y2="1031.0" stroke="#999" stroke-width="0.7"/>
<text x="701.8" y="1032.8" font-size="5.2" font-family='"Liberation Sans", sans-serif' text-anchor="end" fill="#333">-20</text>
<line x1="702.3" y1="1054.8" x2="704.8" y2="1054.8" stroke="#999" stroke-width="0.7"/>
<line x1="918.6" y1="1054.8" x2="921.1" y2="1054.8" stroke="#999" stroke-width="0.7"/>
<text x="701.8" y="1056.6" font-size="5.2" font-family='"Liberation Sans", sans-serif' text-anchor="end" fill="#333">-30</text>
<line x1="702.3" y1="1078.6" x2="704.8" y2="1078.6" stroke="#999" stroke-width="0.7"/>
<line x1="918.6" y1="1078.6" x2="921.1" y2="1078.6" stroke="#999" stroke-width="0.7"/>
<text x="701.8" y="1080.4" font-size="5.2" font-family='"Liberation Sans", sans-serif' text-anchor="end" fill="#333">-40</text>
<line x1="655.4" y1="1115.3" x2="655.4" y2="1138" stroke="#5B9BD5" stroke-width="1.2"/>
<path d="M655.40,1145.60 L651.50,1137.60 L659.30,1137.60 Z" fill="#5B9BD5"/>
<text x="408.5" y="1165.5" font-size="12.20" font-family='"Liberation Serif", serif' stroke="#000" stroke-width="0.12" fill="#000" textLength="11.38" lengthAdjust="spacingAndGlyphs">In</text>
<text x="423.4" y="1165.5" font-size="12.20" font-family='"Liberation Serif", serif' stroke="#000" stroke-width="0.12" fill="#000" textLength="22.00" lengthAdjust="spacingAndGlyphs">trial</text>
<text x="450.0" y="1165.5" font-size="12.20" font-family='"Liberation Serif", serif' stroke="#000" stroke-width="0.12" fill="#000" textLength="10.25" lengthAdjust="spacingAndGlyphs">1,</text>
<text x="463.4" y="1165.5" font-size="12.20" font-family='"Liberation Serif", serif' stroke="#000" stroke-width="0.12" fill="#000" textLength="16.69" lengthAdjust="spacingAndGlyphs">the</text>
<text x="484.6" y="1165.5" font-size="12.20" font-family='"Liberation Serif", serif' stroke="#000" stroke-width="0.12" fill="#000" textLength="25.05" lengthAdjust="spacingAndGlyphs">dose</text>
<text x="513.4" y="1165.5" font-size="12.20" font-family='"Liberation Serif", serif' stroke="#000" stroke-width="0.12" fill="#000" textLength="11.38" lengthAdjust="spacingAndGlyphs">of</text>
<text x="528.3" y="1165.5" font-size="12.20" font-family='"Liberation Serif", serif' stroke="#000" stroke-width="0.12" fill="#000" textLength="17.08" lengthAdjust="spacingAndGlyphs">5.3</text>
<text x="548.3" y="1165.5" font-size="12.20" font-family='"Liberation Serif", serif' stroke="#000" stroke-width="0.12" fill="#000" textLength="11.70" lengthAdjust="spacingAndGlyphs">kg</text>
<text x="562.6" y="1165.5" font-size="12.20" font-family='"Liberation Serif", serif' stroke="#000" stroke-width="0.12" fill="#000" textLength="12.60" lengthAdjust="spacingAndGlyphs">ha</text>
<text x="575.5" y="1160.9" font-size="8.78" font-family='"Liberation Serif", serif' stroke="#000" stroke-width="0.12" fill="#000" textLength="8.20" lengthAdjust="spacingAndGlyphs">-1</text>
<text x="589.7" y="1165.5" font-size="12.20" font-family='"Liberation Serif", serif' stroke="#000" stroke-width="0.12" fill="#000" textLength="42.47" lengthAdjust="spacingAndGlyphs">reached</text>
<text x="638.4" y="1165.5" font-size="12.20" font-family='"Liberation Serif", serif' stroke="#000" stroke-width="0.12" fill="#000" textLength="16.69" lengthAdjust="spacingAndGlyphs">the</text>
<text x="659.3" y="1165.5" font-size="12.20" font-family='"Liberation Serif", serif' stroke="#000" stroke-width="0.12" fill="#000" textLength="35.67" lengthAdjust="spacingAndGlyphs">lowest</text>
<text x="700.7" y="1165.5" font-size="12.20" font-family='"Liberation Serif", serif' stroke="#000" stroke-width="0.12" fill="#000" textLength="15.00" lengthAdjust="spacingAndGlyphs">EC</text>
<text x="718.3" y="1165.5" font-size="12.20" font-family='"Liberation Serif", serif' stroke="#000" stroke-width="0.12" fill="#000" textLength="25.03" lengthAdjust="spacingAndGlyphs">after</text>
<text x="748.2" y="1165.5" font-size="12.20" font-family='"Liberation Serif", serif' stroke="#000" stroke-width="0.12" fill="#000" textLength="16.69" lengthAdjust="spacingAndGlyphs">the</text>
<text x="769.3" y="1165.5" font-size="12.20" font-family='"Liberation Serif", serif' stroke="#000" stroke-width="0.12" fill="#000" textLength="25.81" lengthAdjust="spacingAndGlyphs">third</text>
<text x="801.4" y="1165.5" font-size="12.20" font-family='"Liberation Serif", serif' stroke="#000" stroke-width="0.12" fill="#000" textLength="54.26" lengthAdjust="spacingAndGlyphs">irrigation.</text>
<text x="861.4" y="1165.5" font-size="12.20" font-family='"Liberation Serif", serif' stroke="#000" stroke-width="0.12" fill="#000" textLength="11.00" lengthAdjust="spacingAndGlyphs">In</text>
<text x="875.0" y="1165.5" font-size="12.20" font-family='"Liberation Serif", serif' stroke="#000" stroke-width="0.12" fill="#000" textLength="21.60" lengthAdjust="spacingAndGlyphs">trial</text>
<text x="899.2" y="1165.5" font-size="12.20" font-family='"Liberation Serif", serif' stroke="#000" stroke-width="0.12" fill="#000" textLength="9.20" lengthAdjust="spacingAndGlyphs">2,</text>
<text x="911.0" y="1165.5" font-size="12.20" font-family='"Liberation Serif", serif' stroke="#000" stroke-width="0.12" fill="#000" textLength="17.00" lengthAdjust="spacingAndGlyphs">the</text>
<text x="401.4" y="1180.8" font-size="12.20" font-family='"Liberation Serif", serif' stroke="#000" stroke-width="0.12" fill="#000" textLength="44.00" lengthAdjust="spacingAndGlyphs">selected</text>
<text x="451.5" y="1180.8" font-size="12.20" font-family='"Liberation Serif", serif' stroke="#000" stroke-width="0.12" fill="#000" textLength="25.05" lengthAdjust="spacingAndGlyphs">dose</text>
<text x="480.3" y="1180.8" font-size="12.20" font-family='"Liberation Serif", serif' stroke="#000" stroke-width="0.12" fill="#000" textLength="43.24" lengthAdjust="spacingAndGlyphs">reduced</text>
<text x="530.0" y="1180.8" font-size="12.20" font-family='"Liberation Serif", serif' stroke="#000" stroke-width="0.12" fill="#000" textLength="16.30" lengthAdjust="spacingAndGlyphs">EC</text>
<text x="548.9" y="1180.8" font-size="12.20" font-family='"Liberation Serif", serif' stroke="#000" stroke-width="0.12" fill="#000" textLength="25.05" lengthAdjust="spacingAndGlyphs">until</text>
<text x="577.6" y="1180.8" font-size="12.20" font-family='"Liberation Serif", serif' stroke="#000" stroke-width="0.12" fill="#000" textLength="23.91" lengthAdjust="spacingAndGlyphs">3.75</text>
<text x="605.8" y="1180.8" font-size="12.20" font-family='"Liberation Serif", serif' stroke="#000" stroke-width="0.12" fill="#000" textLength="14.20" lengthAdjust="spacingAndGlyphs">dS</text>
<text x="622.6" y="1180.8" font-size="12.20" font-family='"Liberation Serif", serif' stroke="#000" stroke-width="0.12" fill="#000" textLength="10.40" lengthAdjust="spacingAndGlyphs">m</text>
<text x="633.3" y="1176.2" font-size="8.78" font-family='"Liberation Serif", serif' stroke="#000" stroke-width="0.12" fill="#000" textLength="8.20" lengthAdjust="spacingAndGlyphs">-1</text>
<text x="644.3" y="1180.8" font-size="12.20" font-family='"Liberation Serif", serif' stroke="#000" stroke-width="0.12" fill="#000" textLength="9.86" lengthAdjust="spacingAndGlyphs">at</text>
<text x="658.6" y="1180.8" font-size="12.20" font-family='"Liberation Serif", serif' stroke="#000" stroke-width="0.12" fill="#000" textLength="17.08" lengthAdjust="spacingAndGlyphs">0.3</text>
<text x="678.4" y="1180.8" font-size="12.20" font-family='"Liberation Serif", serif' stroke="#000" stroke-width="0.12" fill="#000" textLength="10.63" lengthAdjust="spacingAndGlyphs">m</text>
<text x="692.5" y="1180.8" font-size="12.20" font-family='"Liberation Serif", serif' stroke="#000" stroke-width="0.12" fill="#000" textLength="47.05" lengthAdjust="spacingAndGlyphs">depth_at</text>
<text x="743.4" y="1180.8" font-size="12.20" font-family='"Liberation Serif", serif' stroke="#000" stroke-width="0.12" fill="#000" textLength="16.69" lengthAdjust="spacingAndGlyphs">the</text>
<text x="764.3" y="1180.8" font-size="12.20" font-family='"Liberation Serif", serif' stroke="#000" stroke-width="0.12" fill="#000" textLength="25.81" lengthAdjust="spacingAndGlyphs">third</text>
<text x="795.6" y="1180.8" font-size="12.20" font-family='"Liberation Serif", serif' stroke="#000" stroke-width="0.12" fill="#000" textLength="54.26" lengthAdjust="spacingAndGlyphs">irrigation,</text>
<text x="855.2" y="1180.8" font-size="12.20" font-family='"Liberation Serif", serif' stroke="#000" stroke-width="0.12" fill="#000" textLength="63.00" lengthAdjust="spacingAndGlyphs">saving_246</text>
<text x="920.9" y="1180.8" font-size="12.20" font-family='"Liberation Serif", serif' stroke="#000" stroke-width="0.12" fill="#000" textLength="6.33" lengthAdjust="spacingAndGlyphs">L</text>
<text x="929.5" y="1180.8" font-size="12.20" font-family='"Liberation Serif", serif' stroke="#000" stroke-width="0.12" fill="#000" textLength="11.30" lengthAdjust="spacingAndGlyphs">of</text>
<text x="419.7" y="1196.6" font-size="12.20" font-family='"Liberation Serif", serif' stroke="#000" stroke-width="0.12" fill="#000" textLength="30.34" lengthAdjust="spacingAndGlyphs">water</text>
<text x="455.7" y="1196.6" font-size="12.20" font-family='"Liberation Serif", serif' stroke="#000" stroke-width="0.12" fill="#000" textLength="53.87" lengthAdjust="spacingAndGlyphs">compared</text>
<text x="515.7" y="1196.6" font-size="12.20" font-family='"Liberation Serif", serif' stroke="#000" stroke-width="0.12" fill="#000" textLength="10.63" lengthAdjust="spacingAndGlyphs">to</text>
<text x="530.6" y="1196.6" font-size="12.20" font-family='"Liberation Serif", serif' stroke="#000" stroke-width="0.12" fill="#000" textLength="42.12" lengthAdjust="spacingAndGlyphs">control.</text>
<text x="578.5" y="1196.6" font-size="12.20" font-family='"Liberation Serif", serif' stroke="#000" stroke-width="0.12" fill="#000" textLength="32.62" lengthAdjust="spacingAndGlyphs">These</text>
<text x="614.3" y="1196.6" font-size="12.20" font-family='"Liberation Serif", serif' stroke="#000" stroke-width="0.12" fill="#000" textLength="35.67" lengthAdjust="spacingAndGlyphs">results</text>
<text x="656.0" y="1196.6" font-size="12.20" font-family='"Liberation Serif", serif' stroke="#000" stroke-width="0.12" fill="#000" textLength="34.89" lengthAdjust="spacingAndGlyphs">reflect</text>
<text x="694.8" y="1196.6" font-size="12.20" font-family='"Liberation Serif", serif' stroke="#000" stroke-width="0.12" fill="#000" textLength="16.69" lengthAdjust="spacingAndGlyphs">the</text>
<text x="717.1" y="1196.6" font-size="12.20" font-family='"Liberation Serif", serif' stroke="#000" stroke-width="0.12" fill="#000" textLength="18.21" lengthAdjust="spacingAndGlyphs">use</text>
<text x="738.8" y="1196.6" font-size="12.20" font-family='"Liberation Serif", serif' stroke="#000" stroke-width="0.12" fill="#000" textLength="11.38" lengthAdjust="spacingAndGlyphs">of</text>
<text x="753.1" y="1196.6" font-size="12.20" font-family='"Liberation Serif", serif' stroke="#000" stroke-width="0.12" fill="#000" textLength="31.40" lengthAdjust="spacingAndGlyphs">fulvic</text>
<text x="787.1" y="1196.6" font-size="12.20" font-family='"Liberation Serif", serif' stroke="#000" stroke-width="0.12" fill="#000" textLength="22.76" lengthAdjust="spacingAndGlyphs">acid</text>
<text x="814.1" y="1196.6" font-size="12.20" font-family='"Liberation Serif", serif' stroke="#000" stroke-width="0.12" fill="#000" textLength="11.38" lengthAdjust="spacingAndGlyphs">as</text>
<text x="829.2" y="1196.6" font-size="12.20" font-family='"Liberation Serif", serif' stroke="#000" stroke-width="0.12" fill="#000" textLength="12.90" lengthAdjust="spacingAndGlyphs">an</text>
<text x="846.0" y="1196.6" font-size="12.20" font-family='"Liberation Serif", serif' stroke="#000" stroke-width="0.12" fill="#000" textLength="57.66" lengthAdjust="spacingAndGlyphs">alternative</text>
<text x="911.0" y="1196.6" font-size="12.20" font-family='"Liberation Serif", serif' stroke="#000" stroke-width="0.12" fill="#000" textLength="10.70" lengthAdjust="spacingAndGlyphs">to</text>
<text x="412.9" y="1212.2" font-size="12.20" font-family='"Liberation Serif", serif' stroke="#000" stroke-width="0.12" fill="#000" textLength="46.29" lengthAdjust="spacingAndGlyphs">consider</text>
<text x="464.3" y="1212.2" font-size="12.20" font-family='"Liberation Serif", serif' stroke="#000" stroke-width="0.12" fill="#000" textLength="10.63" lengthAdjust="spacingAndGlyphs">in</text>
<text x="478.0" y="1212.2" font-size="12.20" font-family='"Liberation Serif", serif' stroke="#000" stroke-width="0.12" fill="#000" textLength="16.69" lengthAdjust="spacingAndGlyphs">the</text>
<text x="500.3" y="1212.2" font-size="12.20" font-family='"Liberation Serif", serif' stroke="#000" stroke-width="0.12" fill="#000" textLength="47.79" lengthAdjust="spacingAndGlyphs">recovery</text>
<text x="553.4" y="1212.2" font-size="12.20" font-family='"Liberation Serif", serif' stroke="#000" stroke-width="0.12" fill="#000" textLength="8.90" lengthAdjust="spacingAndGlyphs">of</text>
<text x="564.9" y="1212.2" font-size="12.20" font-family='"Liberation Serif", serif' stroke="#000" stroke-width="0.12" fill="#000" textLength="31.87" lengthAdjust="spacingAndGlyphs">saline</text>
<text x="603.8" y="1212.2" font-size="12.20" font-family='"Liberation Serif", serif' stroke="#000" stroke-width="0.12" fill="#000" textLength="25.06" lengthAdjust="spacingAndGlyphs">soils</text>
<text x="632.6" y="1212.2" font-size="12.20" font-family='"Liberation Serif", serif' stroke="#000" stroke-width="0.12" fill="#000" textLength="31.11" lengthAdjust="spacingAndGlyphs">under</text>
<text x="669.6" y="1212.2" font-size="12.20" font-family='"Liberation Serif", serif' stroke="#000" stroke-width="0.12" fill="#000" textLength="22.01" lengthAdjust="spacingAndGlyphs">drip</text>
<text x="696.6" y="1212.2" font-size="12.20" font-family='"Liberation Serif", serif' stroke="#000" stroke-width="0.12" fill="#000" textLength="50.85" lengthAdjust="spacingAndGlyphs">irrigation</text>
<text x="755.0" y="1212.2" font-size="12.20" font-family='"Liberation Serif", serif' stroke="#000" stroke-width="0.12" fill="#000" textLength="29.60" lengthAdjust="spacingAndGlyphs">when</text>
<text x="788.6" y="1212.2" font-size="12.20" font-family='"Liberation Serif", serif' stroke="#000" stroke-width="0.12" fill="#000" textLength="50.85" lengthAdjust="spacingAndGlyphs">irrigation</text>
<text x="845.3" y="1212.2" font-size="12.20" font-family='"Liberation Serif", serif' stroke="#000" stroke-width="0.12" fill="#000" textLength="30.34" lengthAdjust="spacingAndGlyphs">water</text>
<text x="881.9" y="1212.2" font-size="12.20" font-family='"Liberation Serif", serif' stroke="#000" stroke-width="0.12" fill="#000" textLength="9.11" lengthAdjust="spacingAndGlyphs">is</text>
<text x="894.2" y="1212.2" font-size="12.20" font-family='"Liberation Serif", serif' stroke="#000" stroke-width="0.12" fill="#000" textLength="37.00" lengthAdjust="spacingAndGlyphs">scarce.</text>
</svg>
</body></html>
